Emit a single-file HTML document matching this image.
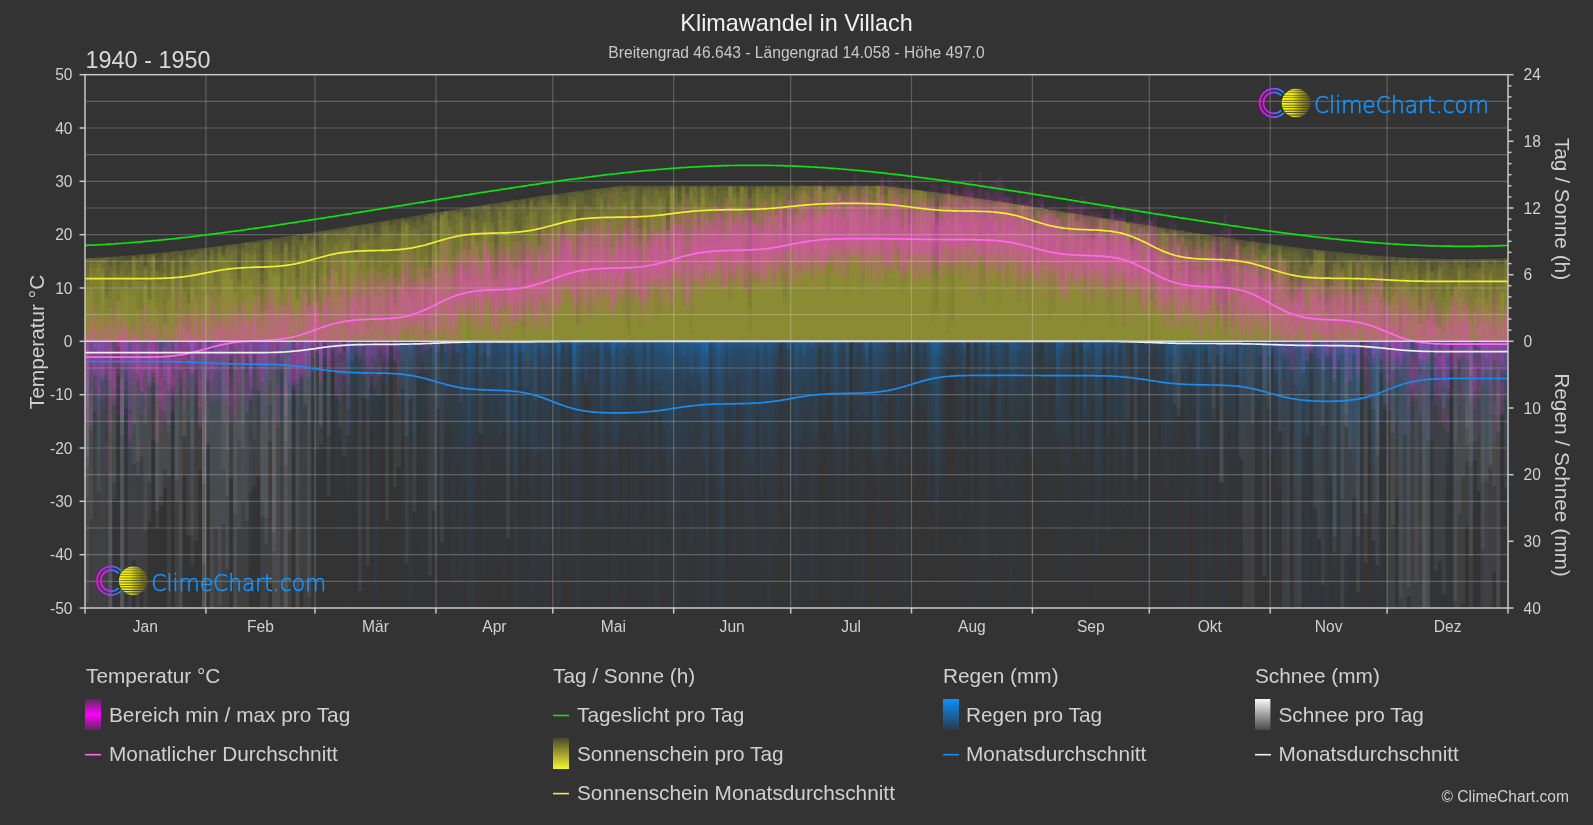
<!DOCTYPE html>
<html><head><meta charset="utf-8"><title>Klimawandel in Villach</title>
<style>html,body{margin:0;padding:0;background:#333;overflow:hidden;} svg{display:block;will-change:transform;font-family:"Liberation Sans",Arial,sans-serif;}</style>
</head><body>
<svg width="1593" height="825" viewBox="0 0 1593 825">
<defs>
<linearGradient id="gsnow" gradientUnits="userSpaceOnUse" x1="0" y1="341" x2="0" y2="608"><stop offset="0" stop-color="#fff" stop-opacity="0.03"/><stop offset="0.15" stop-color="#fff" stop-opacity="0.045"/><stop offset="0.3" stop-color="#fff" stop-opacity="0.055"/><stop offset="1" stop-color="#fff" stop-opacity="0.06"/></linearGradient>
<linearGradient id="grain" gradientUnits="userSpaceOnUse" x1="0" y1="341" x2="0" y2="608"><stop offset="0" stop-color="#0a8cff" stop-opacity="0.095"/><stop offset="0.06" stop-color="#0a8cff" stop-opacity="0.06"/><stop offset="0.2" stop-color="#0a8cff" stop-opacity="0.04"/><stop offset="0.5" stop-color="#0a8cff" stop-opacity="0.025"/><stop offset="1" stop-color="#0a8cff" stop-opacity="0.02"/></linearGradient>
<linearGradient id="gring" x1="0" y1="0" x2="1" y2="0"><stop offset="0" stop-color="#ff00ff"/><stop offset="0.5" stop-color="#9a40ff"/><stop offset="1" stop-color="#1090ff"/></linearGradient>
<linearGradient id="gsun" x1="0" y1="0" x2="1" y2="0"><stop offset="0" stop-color="#ffff00"/><stop offset="0.4" stop-color="#e6e000"/><stop offset="1" stop-color="#7a7410" stop-opacity="0.55"/></linearGradient>
<clipPath id="sunclip"><circle cx="22.1" cy="0" r="14.5"/></clipPath>
<linearGradient id="lgT" x1="0" y1="0" x2="0" y2="1"><stop offset="0" stop-color="#5a2a5a"/><stop offset="0.5" stop-color="#ff00ff"/><stop offset="1" stop-color="#5a2a5a"/></linearGradient>
<linearGradient id="lgS" x1="0" y1="0" x2="0" y2="1"><stop offset="0" stop-color="#48482e"/><stop offset="1" stop-color="#f6f62e"/></linearGradient>
<linearGradient id="lgR" x1="0" y1="0" x2="0" y2="1"><stop offset="0" stop-color="#0a90ff"/><stop offset="1" stop-color="#2a3a48"/></linearGradient>
<linearGradient id="lgN" x1="0" y1="0" x2="0" y2="1"><stop offset="0" stop-color="#f8f8f8"/><stop offset="1" stop-color="#484848"/></linearGradient>
<clipPath id="plot"><rect x="85" y="74.67" width="1423" height="533.33"/></clipPath>
</defs>
<rect width="1593" height="825" fill="#333"/>
<g clip-path="url(#plot)">
<path d="M85 341.3V258.1H88.9V257.9H92.8V257.8H96.7V257.6H100.6V257.3H104.5V257.1H108.4V256.9H112.3V256.6H116.2V256.4H120.1V256.1H124V255.8H127.9V255.5H131.8V255.2H135.7V254.9H139.6V254.6H143.5V254.2H147.4V253.9H151.3V253.5H155.2V253.1H159.1V252.7H163V252.4H166.9V252H170.8V251.5H174.7V251.1H178.6V250.7H182.5V250.3H186.4V249.8H190.3V249.4H194.2V248.9H198.1V248.4H202V247.9H205.9V247.5H209.8V247H213.7V246.5H217.6V246H221.5V245.5H225.4V244.9H229.2V244.4H233.1V243.9H237V243.4H240.9V242.8H244.8V242.3H248.7V241.7H252.6V241.2H256.5V240.6H260.4V240H264.3V239.5H268.2V238.9H272.1V238.3H276V237.8H279.9V237.2H283.8V236.6H287.7V236H291.6V235.4H295.5V234.8H299.4V234.2H303.3V233.6H307.2V233H311.1V232.4H315V231.8H318.9V231.2H322.8V230.6H326.7V230H330.6V229.3H334.5V228.7H338.4V228.1H342.3V227.5H346.2V226.9H350.1V226.2H354V225.6H357.9V225H361.8V224.3H365.7V223.7H369.6V223.1H373.5V222.5H377.4V221.8H381.3V221.2H385.2V220.6H389.1V219.9H393V219.3H396.9V218.7H400.8V218H404.7V217.4H408.6V216.8H412.5V216.1H416.4V215.5H420.3V214.9H424.2V214.2H428.1V213.6H432V213H435.9V212.3H439.8V211.7H443.7V211.1H447.6V210.5H451.5V209.8H455.4V209.2H459.3V208.6H463.2V208H467.1V207.3H471V206.7H474.9V206.1H478.8V205.5H482.7V204.9H486.6V204.3H490.5V203.6H494.4V203H498.3V202.4H502.2V201.8H506.1V201.2H510V200.6H513.8V200H517.7V199.5H521.6V198.9H525.5V198.3H529.4V197.7H533.3V197.1H537.2V196.6H541.1V196H545V195.4H548.9V194.9H552.8V194.3H556.7V193.8H560.6V193.2H564.5V192.7H568.4V192.2H572.3V191.6H576.2V191.1H580.1V190.6H584V190.1H587.9V189.6H591.8V189.1H595.7V188.6H599.6V188.2H603.5V187.7H607.4V187.2H611.3V186.8H615.2V186.3H619.1V185.9H623V185.8H626.9V185.8H630.8V185.8H634.7V185.8H638.6V185.8H642.5V185.8H646.4V185.8H650.3V185.8H654.2V185.8H658.1V185.8H662V185.8H665.9V185.8H669.8V185.8H673.7V185.8H677.6V185.8H681.5V185.8H685.4V185.8H689.3V185.8H693.2V185.8H697.1V185.8H701V185.8H704.9V185.8H708.8V185.8H712.7V185.8H716.6V185.8H720.5V185.8H724.4V185.8H728.3V185.8H732.2V185.8H736.1V185.8H740V185.8H743.9V185.8H747.8V185.8H751.7V185.8H755.6V185.8H759.5V185.8H763.4V185.8H767.3V185.8H771.2V185.8H775.1V185.8H779V185.8H782.9V185.8H786.8V185.8H790.7V185.8H794.6V185.8H798.4V185.8H802.3V185.8H806.2V185.8H810.1V185.8H814V185.8H817.9V185.8H821.8V185.8H825.7V185.8H829.6V185.8H833.5V185.8H837.4V185.8H841.3V185.8H845.2V185.8H849.1V185.8H853V185.8H856.9V185.8H860.8V185.8H864.7V185.8H868.6V185.8H872.5V185.8H876.4V185.8H880.3V185.8H884.2V186.1H888.1V186.6H892V187H895.9V187.5H899.8V187.9H903.7V188.4H907.6V188.9H911.5V189.4H915.4V189.9H919.3V190.4H923.2V190.9H927.1V191.4H931V191.9H934.9V192.4H938.8V193H942.7V193.5H946.6V194H950.5V194.6H954.4V195.2H958.3V195.7H962.2V196.3H966.1V196.8H970V197.4H973.9V198H977.8V198.6H981.7V199.2H985.6V199.7H989.5V200.3H993.4V200.9H997.3V201.5H1001.2V202.1H1005.1V202.7H1009V203.3H1012.9V203.9H1016.8V204.6H1020.7V205.2H1024.6V205.8H1028.5V206.4H1032.4V207H1036.3V207.6H1040.2V208.3H1044.1V208.9H1048V209.5H1051.9V210.1H1055.8V210.8H1059.7V211.4H1063.6V212H1067.5V212.7H1071.4V213.3H1075.3V213.9H1079.2V214.6H1083V215.2H1086.9V215.8H1090.8V216.4H1094.7V217.1H1098.6V217.7H1102.5V218.3H1106.4V219H1110.3V219.6H1114.2V220.2H1118.1V220.9H1122V221.5H1125.9V222.1H1129.8V222.8H1133.7V223.4H1137.6V224H1141.5V224.7H1145.4V225.3H1149.3V225.9H1153.2V226.5H1157.1V227.2H1161V227.8H1164.9V228.4H1168.8V229H1172.7V229.6H1176.6V230.3H1180.5V230.9H1184.4V231.5H1188.3V232.1H1192.2V232.7H1196.1V233.3H1200V233.9H1203.9V234.5H1207.8V235.1H1211.7V235.7H1215.6V236.3H1219.5V236.9H1223.4V237.5H1227.3V238H1231.2V238.6H1235.1V239.2H1239V239.8H1242.9V240.3H1246.8V240.9H1250.7V241.4H1254.6V242H1258.5V242.5H1262.4V243.1H1266.3V243.6H1270.2V244.2H1274.1V244.7H1278V245.2H1281.9V245.7H1285.8V246.2H1289.7V246.7H1293.6V247.2H1297.5V247.7H1301.4V248.2H1305.3V248.7H1309.2V249.1H1313.1V249.6H1317V250H1320.9V250.5H1324.8V250.9H1328.7V251.3H1332.6V251.7H1336.5V252.2H1340.4V252.6H1344.3V252.9H1348.2V253.3H1352.1V253.7H1356V254H1359.9V254.4H1363.8V254.7H1367.6V255.1H1371.5V255.4H1375.4V255.7H1379.3V256H1383.2V256.2H1387.1V256.5H1391V256.8H1394.9V257H1398.8V257.2H1402.7V257.5H1406.6V257.7H1410.5V257.8H1414.4V258H1418.3V258.2H1422.2V258.3H1426.1V258.5H1430V258.6H1433.9V258.7H1437.8V258.8H1441.7V258.9H1445.6V259H1449.5V259H1453.4V259H1457.3V259.1H1461.2V259.1H1465.1V259.1H1469V259.1H1472.9V259H1476.8V259H1480.7V258.9H1484.6V258.8H1488.5V258.8H1492.4V258.7H1496.3V258.5H1500.2V258.4H1504.1V258.3H1508V341.3Z" fill="#e6e63c" fill-opacity="0.16"/>
<path d="M85 341.3V290H88.9V258.3H92.8V262.3H96.7V259.5H100.6V272.8H104.5V278.7H108.4V300.4H112.3V257.1H116.2V261.9H120.1V262.9H124V283.3H127.9V259.2H131.8V331.1H135.7V269.5H139.6V254.8H143.5V280.6H147.4V254.1H151.3V256H155.2V258.2H159.1V285.4H163V319.6H166.9V270.8H170.8V251.6H174.7V313.4H178.6V279.4H182.5V254.9H186.4V254H190.3V275.1H194.2V249.8H198.1V254.2H202V272.3H205.9V294.3H209.8V320.2H213.7V284.7H217.6V252.3H221.5V254.7H225.4V265H229.2V246.4H233.1V244.1H237V316H240.9V261.7H244.8V252H248.7V273.6H252.6V241.9H256.5V242.7H260.4V314.7H264.3V279.9H268.2V319.7H272.1V272.7H276V277H279.9V252.5H283.8V242.7H287.7V267H291.6V253.5H295.5V303.3H299.4V240.8H303.3V235.1H307.2V306.5H311.1V246.3H315V293.6H318.9V268.4H322.8V232.4H326.7V240.1H330.6V237.8H334.5V270.9H338.4V285.4H342.3V227.5H346.2V227.1H350.1V226.6H354V260.5H357.9V271.6H361.8V226.6H365.7V224H369.6V223.6H373.5V282.4H377.4V228.6H381.3V222.7H385.2V269.1H389.1V232.1H393V221.8H396.9V235.6H400.8V229.2H404.7V223.1H408.6V219.2H412.5V234.2H416.4V320.7H420.3V235.7H424.2V334.5H428.1V213.6H432V213.8H435.9V253.7H439.8V218.7H443.7V211.2H447.6V211.2H451.5V213.9H455.4V211.5H459.3V224.8H463.2V216.9H467.1V207.5H471V217.7H474.9V238.7H478.8V281.6H482.7V205.1H486.6V229.1H490.5V222.1H494.4V295.4H498.3V212.3H502.2V313.6H506.1V232.6H510V242.2H513.8V322.1H517.7V229.5H521.6V337.4H525.5V217.1H529.4V199.9H533.3V208.9H537.2V257.3H541.1V260.4H545V199.7H548.9V203.6H552.8V213.2H556.7V202.7H560.6V210.1H564.5V213.2H568.4V259.7H572.3V204.6H576.2V323.3H580.1V243.9H584V210.8H587.9V318.9H591.8V288.7H595.7V247.1H599.6V200.1H603.5V212.2H607.4V187.9H611.3V187.3H615.2V198.7H619.1V268.9H623V202.1H626.9V201.5H630.8V188.5H634.7V238.4H638.6V196H642.5V225.9H646.4V188.8H650.3V188.6H654.2V316.4H658.1V262.8H662V192.7H665.9V290.5H669.8V185.9H673.7V188.1H677.6V236.4H681.5V189.1H685.4V195.1H689.3V334.6H693.2V201.2H697.1V261.3H701V197H704.9V243.7H708.8V190.4H712.7V202.4H716.6V266.6H720.5V228.8H724.4V202.2H728.3V218.2H732.2V186.7H736.1V197.8H740V254.2H743.9V185.8H747.8V298.2H751.7V284H755.6V186.7H759.5V191H763.4V185.8H767.3V187.8H771.2V185.8H775.1V215H779V201.1H782.9V189.7H786.8V191H790.7V185.8H794.6V191.4H798.4V185.8H802.3V185.8H806.2V185.9H810.1V185.8H814V185.9H817.9V187.1H821.8V233.4H825.7V201.9H829.6V185.8H833.5V198.6H837.4V190.2H841.3V185.8H845.2V190.7H849.1V185.8H853V210.5H856.9V191.2H860.8V254.1H864.7V185.8H868.6V239.7H872.5V185.8H876.4V186H880.3V185.8H884.2V186.4H888.1V232.6H892V187H895.9V215.5H899.8V194.4H903.7V198H907.6V257.9H911.5V189.4H915.4V190.6H919.3V216.1H923.2V190.9H927.1V191.4H931V193H934.9V270.6H938.8V240.8H942.7V193.5H946.6V194H950.5V326.4H954.4V207.6H958.3V195.7H962.2V196.3H966.1V209.7H970V197.6H973.9V221.8H977.8V221.1H981.7V283.5H985.6V229.3H989.5V213.8H993.4V201.8H997.3V202.1H1001.2V202.1H1005.1V202.7H1009V204.2H1012.9V211.9H1016.8V206.7H1020.7V205.2H1024.6V205.8H1028.5V210.7H1032.4V207H1036.3V207.6H1040.2V211.3H1044.1V208.9H1048V211.6H1051.9V247H1055.8V210.8H1059.7V211.6H1063.6V213.1H1067.5V245.9H1071.4V213.3H1075.3V223.1H1079.2V261.7H1083V219.4H1086.9V228.3H1090.8V217H1094.7V247.5H1098.6V262.9H1102.5V287.1H1106.4V219H1110.3V227.1H1114.2V220.3H1118.1V267H1122V221.5H1125.9V224.5H1129.8V231H1133.7V231.9H1137.6V227.8H1141.5V235.8H1145.4V225.5H1149.3V236.6H1153.2V252.3H1157.1V228.2H1161V227.8H1164.9V314.3H1168.8V280.7H1172.7V231.1H1176.6V244.5H1180.5V230.9H1184.4V245H1188.3V311.6H1192.2V259H1196.1V276.7H1200V255H1203.9V241.5H1207.8V270.8H1211.7V253.5H1215.6V312.8H1219.5V257H1223.4V237.6H1227.3V289H1231.2V325.8H1235.1V252H1239V295.8H1242.9V247.1H1246.8V259H1250.7V270.6H1254.6V259.8H1258.5V242.5H1262.4V255.6H1266.3V243.7H1270.2V257.5H1274.1V252.2H1278V251H1281.9V289.7H1285.8V259.2H1289.7V247.8H1293.6V247.5H1297.5V287.6H1301.4V273.4H1305.3V274H1309.2V264.9H1313.1V260.4H1317V271H1320.9V251.2H1324.8V278.8H1328.7V339.2H1332.6V284.8H1336.5V292.5H1340.4V272.4H1344.3V323.9H1348.2V276.8H1352.1V334.3H1356V260.8H1359.9V267.7H1363.8V258.4H1367.6V287.5H1371.5V283H1375.4V296.6H1379.3V266H1383.2V283.3H1387.1V336.4H1391V256.9H1394.9V266.7H1398.8V261H1402.7V261.8H1406.6V270.8H1410.5V260.6H1414.4V293.5H1418.3V262.9H1422.2V284.5H1426.1V262.4H1430V317.6H1433.9V274H1437.8V332H1441.7V264.6H1445.6V261.8H1449.5V298.2H1453.4V260.6H1457.3V298.3H1461.2V265.2H1465.1V307.2H1469V259.3H1472.9V273.5H1476.8V260.3H1480.7V287.4H1484.6V300.1H1488.5V258.9H1492.4V313.2H1496.3V263.6H1500.2V264.3H1504.1V262.4H1508V341.3Z" fill="#e6e63c" fill-opacity="0.05"/>
<path d="M85 341.3V259.2H88.9V262.3H92.8V258.9H96.7V267.9H100.6V259.5H104.5V298.9H108.4V318.7H112.3V259.5H116.2V256.9H120.1V261.6H124V259.3H127.9V272.9H131.8V262.1H135.7V281.8H139.6V254.6H143.5V257H147.4V258.1H151.3V254.7H155.2V274.5H159.1V272.2H163V252.4H166.9V278.2H170.8V261.5H174.7V256.1H178.6V256.6H182.5V290.7H186.4V303.6H190.3V286.4H194.2V265.4H198.1V248.6H202V271.7H205.9V269.3H209.8V270.8H213.7V300.3H217.6V249.1H221.5V278.9H225.4V269.3H229.2V246.2H233.1V245.4H237V270.8H240.9V251.5H244.8V242.3H248.7V249.6H252.6V251.1H256.5V271.5H260.4V284.5H264.3V252.9H268.2V252.9H272.1V276.1H276V258H279.9V247.9H283.8V245.9H287.7V286.2H291.6V270.6H295.5V234.9H299.4V285.8H303.3V254.7H307.2V241.1H311.1V234.3H315V304.5H318.9V315.6H322.8V233.1H326.7V279H330.6V254.4H334.5V271.2H338.4V278.9H342.3V236.6H346.2V332.7H350.1V232H354V248.1H357.9V297.9H361.8V225.8H365.7V242.9H369.6V226.1H373.5V237.5H377.4V285.3H381.3V279.9H385.2V226H389.1V224H393V306.2H396.9V241.8H400.8V221.1H404.7V225H408.6V219.1H412.5V308.2H416.4V265.4H420.3V247.6H424.2V256H428.1V253.3H432V220.2H435.9V246H439.8V215.5H443.7V212.6H447.6V220.6H451.5V211.7H455.4V288.3H459.3V208.9H463.2V307H467.1V248.8H471V207.3H474.9V206.1H478.8V224.8H482.7V300.2H486.6V220.9H490.5V216.5H494.4V205.9H498.3V210.3H502.2V273.8H506.1V206.2H510V220.6H513.8V269.3H517.7V204H521.6V199.2H525.5V211.4H529.4V201.4H533.3V271.2H537.2V200.2H541.1V200.4H545V196.4H548.9V195.3H552.8V231.1H556.7V210.8H560.6V196.4H564.5V220.1H568.4V217.9H572.3V191.7H576.2V195.1H580.1V193.5H584V203.7H587.9V206H591.8V246.7H595.7V188.9H599.6V234H603.5V208.8H607.4V223.1H611.3V270.2H615.2V228.4H619.1V206.5H623V230.6H626.9V190.6H630.8V185.8H634.7V186.1H638.6V205.9H642.5V186.5H646.4V202.4H650.3V204.5H654.2V187.3H658.1V196.3H662V213H665.9V221.1H669.8V185.8H673.7V250.6H677.6V202.9H681.5V186.1H685.4V208.2H689.3V186H693.2V186.5H697.1V185.9H701V189.1H704.9V197.4H708.8V243.6H712.7V243.5H716.6V244.6H720.5V237H724.4V191.4H728.3V186.3H732.2V193.1H736.1V246.9H740V185.8H743.9V187.4H747.8V307.9H751.7V207.9H755.6V270H759.5V237.5H763.4V198.2H767.3V230.7H771.2V193.8H775.1V268.9H779V186.1H782.9V232.5H786.8V199.7H790.7V185.8H794.6V242.1H798.4V211.5H802.3V195H806.2V186.7H810.1V276.4H814V213.2H817.9V185.8H821.8V194.6H825.7V190H829.6V186.8H833.5V248.9H837.4V189.7H841.3V197.8H845.2V205.1H849.1V188.1H853V185.8H856.9V219.5H860.8V185.8H864.7V244.3H868.6V186H872.5V213.8H876.4V185.8H880.3V200.6H884.2V202.6H888.1V187.9H892V187.6H895.9V269.6H899.8V188.4H903.7V188.5H907.6V189.1H911.5V245.6H915.4V190.2H919.3V190.4H923.2V190.9H927.1V192.5H931V255.3H934.9V231.2H938.8V196.9H942.7V204H946.6V194.2H950.5V194.7H954.4V196.5H958.3V196.5H962.2V196.3H966.1V198H970V200.9H973.9V198.7H977.8V199.5H981.7V304.6H985.6V199.8H989.5V200.4H993.4V219.9H997.3V206.4H1001.2V202.1H1005.1V202.8H1009V210.7H1012.9V214H1016.8V204.6H1020.7V209.1H1024.6V205.9H1028.5V234.6H1032.4V214.8H1036.3V226.2H1040.2V248.6H1044.1V208.9H1048V211.7H1051.9V236.4H1055.8V239.8H1059.7V217H1063.6V215.9H1067.5V212.7H1071.4V214.1H1075.3V214.1H1079.2V215.5H1083V237.8H1086.9V250.7H1090.8V268.4H1094.7V218.1H1098.6V220.3H1102.5V236.7H1106.4V221H1110.3V231.4H1114.2V236.1H1118.1V220.9H1122V221.5H1125.9V222.1H1129.8V222.8H1133.7V264.9H1137.6V224H1141.5V228.7H1145.4V225.3H1149.3V242H1153.2V237.5H1157.1V258.8H1161V291.2H1164.9V233.2H1168.8V229.5H1172.7V278.6H1176.6V233.6H1180.5V237.8H1184.4V280.7H1188.3V233.4H1192.2V270.1H1196.1V281.7H1200V239.5H1203.9V240.5H1207.8V304.7H1211.7V262.9H1215.6V255.7H1219.5V304.2H1223.4V260.5H1227.3V256.9H1231.2V259.5H1235.1V245.2H1239V253.8H1242.9V259.4H1246.8V246H1250.7V266H1254.6V243.5H1258.5V295.5H1262.4V312.9H1266.3V245.3H1270.2V286.6H1274.1V257.4H1278V245.4H1281.9V253.4H1285.8V247.4H1289.7V293.3H1293.6V275.8H1297.5V325.6H1301.4V279.4H1305.3V260.7H1309.2V258.4H1313.1V290.9H1317V253.1H1320.9V251.2H1324.8V317.3H1328.7V275.8H1332.6V262.2H1336.5V273.2H1340.4V266.9H1344.3V270.1H1348.2V261.6H1352.1V253.7H1356V262.9H1359.9V287.3H1363.8V315.9H1367.6V256.5H1371.5V282.4H1375.4V281.9H1379.3V273.4H1383.2V322.6H1387.1V305.5H1391V296.8H1394.9V292.7H1398.8V258.2H1402.7V287.8H1406.6V262.4H1410.5V279.2H1414.4V268.7H1418.3V261.5H1422.2V285.5H1426.1V320.6H1430V272.5H1433.9V323.6H1437.8V261.7H1441.7V315.4H1445.6V278.8H1449.5V275.6H1453.4V284.2H1457.3V282.3H1461.2V261.7H1465.1V268.3H1469V281.7H1472.9V299H1476.8V296.2H1480.7V260.5H1484.6V303.1H1488.5V264.5H1492.4V259.8H1496.3V263.1H1500.2V264.5H1504.1V307.1H1508V341.3Z" fill="#e6e63c" fill-opacity="0.05"/>
<path d="M85 341.3V298.2H88.9V259.1H92.8V307.2H96.7V264.2H100.6V257.7H104.5V312.6H108.4V272.9H112.3V261.6H116.2V272.4H120.1V262.1H124V261.4H127.9V259.9H131.8V257.1H135.7V310.4H139.6V331.4H143.5V267.2H147.4V322H151.3V256.5H155.2V258.3H159.1V338.4H163V274.2H166.9V281H170.8V259H174.7V278.9H178.6V262.8H182.5V269.9H186.4V258.1H190.3V251.4H194.2V254.2H198.1V248.6H202V260H205.9V256.4H209.8V247H213.7V263.6H217.6V246.6H221.5V257.5H225.4V251.5H229.2V254.9H233.1V292.7H237V285.2H240.9V270.9H244.8V300.2H248.7V279.4H252.6V252.3H256.5V263.1H260.4V311.7H264.3V239.7H268.2V242.3H272.1V239.2H276V260.5H279.9V238.7H283.8V236.7H287.7V238.7H291.6V240.4H295.5V277.4H299.4V242.7H303.3V236.5H307.2V240.4H311.1V278.7H315V243.9H318.9V335.6H322.8V252H326.7V325.3H330.6V232.1H334.5V245.9H338.4V230.2H342.3V261.4H346.2V239.3H350.1V251.5H354V262.2H357.9V228.1H361.8V244.1H365.7V277.3H369.6V226.3H373.5V296.7H377.4V315.4H381.3V293.8H385.2V321.9H389.1V226H393V310.6H396.9V218.8H400.8V221.8H404.7V219.8H408.6V301.2H412.5V222H416.4V229.6H420.3V277.1H424.2V245.7H428.1V235.4H432V213.1H435.9V212.3H439.8V215H443.7V217.4H447.6V263.4H451.5V255.2H455.4V290.2H459.3V212.7H463.2V230.3H467.1V219.9H471V318H474.9V277.6H478.8V208.2H482.7V205.2H486.6V204.3H490.5V226.7H494.4V305.2H498.3V273.3H502.2V202.7H506.1V201.5H510V201.5H513.8V226.7H517.7V239.8H521.6V205.1H525.5V271.6H529.4V197.7H533.3V197.4H537.2V196.6H541.1V311.5H545V319.1H548.9V209H552.8V194.5H556.7V208.6H560.6V204.7H564.5V293.5H568.4V192.4H572.3V199.9H576.2V191.8H580.1V217H584V227.7H587.9V212.2H591.8V190.9H595.7V189.6H599.6V215.2H603.5V187.9H607.4V204.6H611.3V246.1H615.2V217.3H619.1V254.5H623V191.6H626.9V192.9H630.8V199.8H634.7V259.1H638.6V293.7H642.5V188.1H646.4V299.1H650.3V277.4H654.2V219.4H658.1V314.7H662V233.3H665.9V229.9H669.8V186.8H673.7V191H677.6V202.6H681.5V185.8H685.4V254.9H689.3V186.8H693.2V195.8H697.1V203.6H701V186.4H704.9V209.3H708.8V222.6H712.7V229.3H716.6V210.3H720.5V185.8H724.4V190H728.3V186.4H732.2V193.8H736.1V191.9H740V187.3H743.9V215.2H747.8V198.1H751.7V219.2H755.6V186.1H759.5V233.1H763.4V202.8H767.3V186.3H771.2V188.2H775.1V186.2H779V186.5H782.9V186H786.8V187.6H790.7V199.9H794.6V189.8H798.4V194.8H802.3V185.8H806.2V186.1H810.1V186H814V186.2H817.9V185.8H821.8V186.9H825.7V185.9H829.6V185.8H833.5V190.3H837.4V198.2H841.3V185.9H845.2V187.6H849.1V211.4H853V213.1H856.9V186.4H860.8V197.4H864.7V185.8H868.6V190.7H872.5V200.3H876.4V185.8H880.3V188.2H884.2V259.6H888.1V189.5H892V190H895.9V188.9H899.8V187.9H903.7V188.7H907.6V188.9H911.5V192.7H915.4V189.9H919.3V190.4H923.2V201.5H927.1V231.9H931V196.7H934.9V261H938.8V206.3H942.7V193.6H946.6V194H950.5V194.6H954.4V206.3H958.3V210.1H962.2V197.1H966.1V196.9H970V245.5H973.9V214.1H977.8V240.3H981.7V252.4H985.6V209.5H989.5V241.5H993.4V201.2H997.3V201.7H1001.2V202.6H1005.1V204.4H1009V203.4H1012.9V203.9H1016.8V220.8H1020.7V205.2H1024.6V207H1028.5V234H1032.4V263.7H1036.3V207.7H1040.2V208.3H1044.1V209.5H1048V220.4H1051.9V309H1055.8V210.8H1059.7V251.4H1063.6V233.5H1067.5V213.4H1071.4V214.1H1075.3V220H1079.2V223.5H1083V323H1086.9V217.9H1090.8V216.4H1094.7V217.1H1098.6V225.5H1102.5V218.4H1106.4V220.4H1110.3V221.7H1114.2V220.7H1118.1V220.9H1122V221.5H1125.9V223.9H1129.8V249.7H1133.7V233H1137.6V227.8H1141.5V224.8H1145.4V249.5H1149.3V227.9H1153.2V290.4H1157.1V227.2H1161V228.3H1164.9V264.7H1168.8V239.7H1172.7V250.5H1176.6V238.5H1180.5V237.2H1184.4V240.7H1188.3V232.8H1192.2V283.8H1196.1V261.3H1200V253H1203.9V234.6H1207.8V249.9H1211.7V254.7H1215.6V314H1219.5V294H1223.4V237.5H1227.3V320.6H1231.2V268.9H1235.1V266.2H1239V265.8H1242.9V252.6H1246.8V242.9H1250.7V247.4H1254.6V244.1H1258.5V256.8H1262.4V245.8H1266.3V248.6H1270.2V311.6H1274.1V270.9H1278V274H1281.9V303.5H1285.8V252.9H1289.7V304.7H1293.6V253.8H1297.5V249.2H1301.4V279.3H1305.3V319.8H1309.2V268.2H1313.1V249.8H1317V255.3H1320.9V261H1324.8V288.1H1328.7V285.1H1332.6V263.6H1336.5V264.9H1340.4V253.4H1344.3V292.1H1348.2V256.7H1352.1V280.1H1356V301.2H1359.9V259.9H1363.8V267.2H1367.6V303H1371.5V272.1H1375.4V275.7H1379.3V280H1383.2V336.7H1387.1V267.9H1391V305.9H1394.9V274.5H1398.8V277.7H1402.7V260.2H1406.6V272.3H1410.5V271.5H1414.4V275H1418.3V281H1422.2V335.5H1426.1V267H1430V261H1433.9V326.6H1437.8V259.5H1441.7V292.6H1445.6V263.6H1449.5V262.3H1453.4V259.2H1457.3V264.8H1461.2V291.8H1465.1V301.2H1469V263.5H1472.9V261.1H1476.8V267.7H1480.7V258.9H1484.6V296.3H1488.5V263.7H1492.4V304.8H1496.3V283.6H1500.2V269.8H1504.1V258.3H1508V341.3Z" fill="#e6e63c" fill-opacity="0.05"/>
<path d="M85 341.3V267.2H88.9V263.6H92.8V317.5H96.7V258.5H100.6V268.4H104.5V265H108.4V291.2H112.3V326.4H116.2V307.5H120.1V307.3H124V293.1H127.9V317.6H131.8V266.6H135.7V309.8H139.6V318.7H143.5V283.9H147.4V271.3H151.3V253.6H155.2V271.4H159.1V277H163V254.7H166.9V253.5H170.8V272.5H174.7V277.4H178.6V312.6H182.5V256.9H186.4V330.6H190.3V260.1H194.2V255.8H198.1V260.8H202V248.1H205.9V247.7H209.8V249.8H213.7V252.9H217.6V247H221.5V266.2H225.4V260.5H229.2V250.3H233.1V295.7H237V278.2H240.9V283.7H244.8V242.6H248.7V292H252.6V242.7H256.5V242.2H260.4V274.1H264.3V309H268.2V269.6H272.1V243.4H276V260.8H279.9V289.3H283.8V242.8H287.7V258.9H291.6V235.5H295.5V299H299.4V318.1H303.3V234H307.2V234.2H311.1V240.4H315V252.9H318.9V277.4H322.8V231.1H326.7V230.8H330.6V257H334.5V228.8H338.4V233.7H342.3V256H346.2V320.3H350.1V254.3H354V259.7H357.9V242.2H361.8V229.3H365.7V238.1H369.6V234H373.5V236.9H377.4V254.7H381.3V221.2H385.2V225.2H389.1V265.1H393V303.3H396.9V231.8H400.8V218.3H404.7V221.4H408.6V291.2H412.5V220.4H416.4V216.8H420.3V260.1H424.2V339H428.1V274.8H432V216.6H435.9V229.9H439.8V215H443.7V211.8H447.6V210.8H451.5V235.1H455.4V304.2H459.3V211H463.2V251.8H467.1V237.6H471V220H474.9V226.6H478.8V210.1H482.7V222.6H486.6V208.2H490.5V273.6H494.4V278.4H498.3V220.4H502.2V227.4H506.1V202.9H510V205.3H513.8V288.4H517.7V200.3H521.6V284.6H525.5V203.3H529.4V212.8H533.3V240H537.2V250.1H541.1V209.2H545V232.6H548.9V287.6H552.8V194.8H556.7V206.5H560.6V264.9H564.5V208.7H568.4V211.9H572.3V204.4H576.2V325.4H580.1V192.5H584V204.5H587.9V280.6H591.8V230.7H595.7V226.5H599.6V216H603.5V203.8H607.4V191.4H611.3V195.1H615.2V191.8H619.1V197.7H623V201H626.9V260.8H630.8V185.8H634.7V210.2H638.6V243.6H642.5V215.9H646.4V255.2H650.3V214.2H654.2V188.2H658.1V188.4H662V190.3H665.9V231.2H669.8V186.3H673.7V232.5H677.6V254.6H681.5V186.1H685.4V198.7H689.3V188H693.2V185.8H697.1V202.6H701V185.8H704.9V267.2H708.8V200.5H712.7V187.9H716.6V193.5H720.5V185.8H724.4V186.6H728.3V185.8H732.2V186.2H736.1V204.9H740V198.3H743.9V220H747.8V258H751.7V187.5H755.6V187H759.5V240.5H763.4V213.8H767.3V194.2H771.2V192.2H775.1V190.9H779V277.6H782.9V229.5H786.8V186.5H790.7V186.3H794.6V187H798.4V190.3H802.3V185.9H806.2V185.8H810.1V251.6H814V190.8H817.9V186.2H821.8V208.2H825.7V185.9H829.6V271.1H833.5V188.3H837.4V185.8H841.3V186.6H845.2V187H849.1V196.2H853V185.9H856.9V227.4H860.8V189.6H864.7V200.8H868.6V185.8H872.5V193H876.4V189.3H880.3V185.8H884.2V207.4H888.1V188.1H892V196.3H895.9V191H899.8V189.6H903.7V289.6H907.6V226H911.5V239.7H915.4V189.9H919.3V202.2H923.2V191.5H927.1V197.4H931V210.8H934.9V192.4H938.8V193.5H942.7V225.9H946.6V195.9H950.5V194.6H954.4V197.5H958.3V224.2H962.2V232.3H966.1V196.8H970V199.1H973.9V198.3H977.8V198.9H981.7V203.6H985.6V203.6H989.5V202.7H993.4V237.3H997.3V305.7H1001.2V203.5H1005.1V202.7H1009V231.9H1012.9V227.8H1016.8V303.1H1020.7V205.2H1024.6V206H1028.5V206.6H1032.4V208.2H1036.3V213.1H1040.2V208.3H1044.1V233.5H1048V255.1H1051.9V210.2H1055.8V218.5H1059.7V212.6H1063.6V257.3H1067.5V212.8H1071.4V227.4H1075.3V222.1H1079.2V227.1H1083V215.2H1086.9V219.4H1090.8V304.7H1094.7V232.7H1098.6V220H1102.5V218.4H1106.4V219H1110.3V249.1H1114.2V220.4H1118.1V221H1122V326H1125.9V222.4H1129.8V255.4H1133.7V223.4H1137.6V234.4H1141.5V259.3H1145.4V226H1149.3V298.4H1153.2V266.3H1157.1V230.1H1161V232.4H1164.9V232.3H1168.8V320.6H1172.7V233.6H1176.6V256.4H1180.5V235.7H1184.4V232.6H1188.3V241.6H1192.2V235.4H1196.1V241.8H1200V237.9H1203.9V237H1207.8V303.3H1211.7V236.2H1215.6V268.1H1219.5V240.6H1223.4V327.3H1227.3V286.6H1231.2V247.2H1235.1V240.6H1239V249.8H1242.9V269.5H1246.8V241.3H1250.7V265H1254.6V258.8H1258.5V249.7H1262.4V282.8H1266.3V320.3H1270.2V282.2H1274.1V263.5H1278V246.2H1281.9V249H1285.8V249H1289.7V252.6H1293.6V251.2H1297.5V259.9H1301.4V264.8H1305.3V274.4H1309.2V259.5H1313.1V273.8H1317V250.4H1320.9V250.5H1324.8V316.6H1328.7V254.4H1332.6V263.1H1336.5V271.8H1340.4V268.2H1344.3V256.2H1348.2V262.5H1352.1V311.9H1356V260.6H1359.9V327H1363.8V310.7H1367.6V256.1H1371.5V290H1375.4V290.6H1379.3V261.2H1383.2V289.3H1387.1V277.8H1391V295.1H1394.9V280.2H1398.8V283.8H1402.7V283.6H1406.6V260.1H1410.5V265H1414.4V258H1418.3V285.3H1422.2V287.5H1426.1V320H1430V300.4H1433.9V278.4H1437.8V324.7H1441.7V261.2H1445.6V275.4H1449.5V280.3H1453.4V288.3H1457.3V267.3H1461.2V309.8H1465.1V278.5H1469V304.3H1472.9V316.8H1476.8V268H1480.7V298.3H1484.6V274.2H1488.5V297.3H1492.4V333.6H1496.3V260H1500.2V294.9H1504.1V260.5H1508V341.3Z" fill="#e6e63c" fill-opacity="0.05"/>
<path d="M85 341.3V259.1H88.9V258.6H92.8V257.8H96.7V260.1H100.6V258.4H104.5V258H108.4V266.8H112.3V266.1H116.2V277H120.1V256.2H124V290H127.9V288.2H131.8V260.8H135.7V281H139.6V255.6H143.5V264.9H147.4V300.7H151.3V254.2H155.2V269H159.1V316.4H163V325.9H166.9V301.2H170.8V251.8H174.7V251.3H178.6V255.9H182.5V308.1H186.4V332.7H190.3V259.4H194.2V298.5H198.1V303.8H202V298.7H205.9V260.2H209.8V248.7H213.7V259.7H217.6V292.1H221.5V256.5H225.4V273.2H229.2V277.4H233.1V251.3H237V246.2H240.9V263.5H244.8V266.9H248.7V245.2H252.6V295.8H256.5V287.6H260.4V270.9H264.3V287.6H268.2V252.3H272.1V275H276V239.1H279.9V272.9H283.8V240.5H287.7V252.4H291.6V284.4H295.5V237.5H299.4V256H303.3V236.7H307.2V283.9H311.1V237.2H315V286.1H318.9V236.4H322.8V232.7H326.7V230.1H330.6V229.9H334.5V262.4H338.4V242.5H342.3V232.6H346.2V257.5H350.1V270.6H354V250.1H357.9V248.9H361.8V241.2H365.7V235.4H369.6V267.1H373.5V227.2H377.4V236.2H381.3V221.9H385.2V230.9H389.1V225.4H393V252.6H396.9V308.8H400.8V232.4H404.7V219.5H408.6V225.6H412.5V226.7H416.4V216.4H420.3V219.8H424.2V224.7H428.1V214.5H432V232.9H435.9V217.4H439.8V214.5H443.7V211.1H447.6V225.8H451.5V210.6H455.4V213.9H459.3V270.1H463.2V249.4H467.1V209.8H471V224.7H474.9V246.6H478.8V214.8H482.7V221.5H486.6V211.9H490.5V223.5H494.4V243.5H498.3V209.9H502.2V307.7H506.1V288.6H510V257.3H513.8V225.4H517.7V267.6H521.6V198.9H525.5V300H529.4V211.7H533.3V204.8H537.2V297.8H541.1V198.7H545V214.9H548.9V238.9H552.8V195H556.7V271.9H560.6V196.4H564.5V222.4H568.4V196.3H572.3V191.7H576.2V192.2H580.1V256.5H584V191.5H587.9V242.4H591.8V218.3H595.7V217.9H599.6V188.8H603.5V219.1H607.4V233.6H611.3V215.6H615.2V283.8H619.1V185.9H623V203.6H626.9V239.2H630.8V305.7H634.7V228.1H638.6V239H642.5V193.3H646.4V190.9H650.3V201.6H654.2V185.8H658.1V190.6H662V215.1H665.9V279.4H669.8V185.8H673.7V197.5H677.6V211.7H681.5V208.3H685.4V193.8H689.3V187.8H693.2V246.5H697.1V188.1H701V189H704.9V192.4H708.8V251.8H712.7V185.8H716.6V199H720.5V237.4H724.4V186.1H728.3V300.5H732.2V236.9H736.1V235.4H740V186.1H743.9V288H747.8V198.5H751.7V193.3H755.6V187.1H759.5V193.4H763.4V185.8H767.3V195.8H771.2V186.8H775.1V216.8H779V203H782.9V185.9H786.8V200.9H790.7V259.2H794.6V188.4H798.4V198.7H802.3V222H806.2V186.2H810.1V196.9H814V185.8H817.9V186.3H821.8V192.1H825.7V292.8H829.6V185.9H833.5V185.8H837.4V250.2H841.3V258.9H845.2V204.4H849.1V205H853V185.9H856.9V189H860.8V185.9H864.7V185.8H868.6V241.5H872.5V192.1H876.4V187.2H880.3V196.7H884.2V194.8H888.1V186.6H892V201.5H895.9V219.9H899.8V228.5H903.7V188.4H907.6V258.6H911.5V241.1H915.4V189.9H919.3V191.1H923.2V193.4H927.1V205.7H931V202.9H934.9V307.4H938.8V252.5H942.7V205.8H946.6V196.5H950.5V319.1H954.4V196.9H958.3V195.7H962.2V241.9H966.1V243.1H970V210.9H973.9V226.1H977.8V295.7H981.7V204.2H985.6V199.7H989.5V257.1H993.4V204.9H997.3V201.8H1001.2V203.2H1005.1V284.7H1009V203.3H1012.9V216.4H1016.8V204.6H1020.7V205.2H1024.6V205.8H1028.5V207.9H1032.4V208.3H1036.3V209.8H1040.2V210.9H1044.1V231.7H1048V320.4H1051.9V213.3H1055.8V223.8H1059.7V283.1H1063.6V212.1H1067.5V212.7H1071.4V284.3H1075.3V214.3H1079.2V237.2H1083V284.7H1086.9V239.1H1090.8V247.1H1094.7V239.7H1098.6V217.7H1102.5V218.4H1106.4V219H1110.3V222.8H1114.2V220.6H1118.1V232H1122V221.5H1125.9V223.8H1129.8V222.8H1133.7V225.1H1137.6V279.4H1141.5V224.7H1145.4V225.4H1149.3V268.3H1153.2V226.6H1157.1V233H1161V232.8H1164.9V234.1H1168.8V246H1172.7V230.7H1176.6V230.3H1180.5V235.6H1184.4V233H1188.3V291.9H1192.2V246.2H1196.1V233.5H1200V316.8H1203.9V263.6H1207.8V235.4H1211.7V241H1215.6V253.6H1219.5V310.9H1223.4V312.6H1227.3V241.8H1231.2V252.3H1235.1V310.4H1239V262.8H1242.9V316.2H1246.8V262H1250.7V311.8H1254.6V264.1H1258.5V249.1H1262.4V250.6H1266.3V249.1H1270.2V261.9H1274.1V245H1278V254.9H1281.9V258.7H1285.8V261.1H1289.7V299.8H1293.6V265.9H1297.5V254.8H1301.4V286.2H1305.3V257.3H1309.2V287H1313.1V257.7H1317V311.5H1320.9V257.6H1324.8V259.6H1328.7V295.1H1332.6V259.6H1336.5V252.2H1340.4V272.4H1344.3V255.2H1348.2V254H1352.1V317.6H1356V292.6H1359.9V254.7H1363.8V261H1367.6V264.2H1371.5V310.3H1375.4V261.9H1379.3V263.1H1383.2V262.1H1387.1V300.4H1391V262.8H1394.9V282.3H1398.8V258.8H1402.7V277.8H1406.6V292.2H1410.5V299.5H1414.4V259.1H1418.3V324.1H1422.2V264.7H1426.1V258.5H1430V297.5H1433.9V259H1437.8V273.2H1441.7V301.9H1445.6V279.5H1449.5V269.1H1453.4V318.3H1457.3V265H1461.2V284.1H1465.1V267.6H1469V320.9H1472.9V293.2H1476.8V283.2H1480.7V262.4H1484.6V308.2H1488.5V275.4H1492.4V261.4H1496.3V268.1H1500.2V291.6H1504.1V318.7H1508V341.3Z" fill="#e6e63c" fill-opacity="0.05"/>
<path d="M85 341.3V272.8H88.9V259.6H92.8V268.2H96.7V257.8H100.6V274.5H104.5V296.8H108.4V281.4H112.3V270.2H116.2V274.6H120.1V271.3H124V274.2H127.9V289.4H131.8V258.6H135.7V258.8H139.6V257H143.5V270.9H147.4V298.9H151.3V255.1H155.2V270.4H159.1V265.6H163V262.7H166.9V254.4H170.8V259H174.7V325.3H178.6V251.9H182.5V293.1H186.4V271.4H190.3V258.2H194.2V253H198.1V318.2H202V262.4H205.9V255H209.8V297H213.7V285.5H217.6V295.6H221.5V255.5H225.4V245.5H229.2V244.9H233.1V290.5H237V279.7H240.9V251.4H244.8V242.5H248.7V253.4H252.6V295.5H256.5V254.5H260.4V325.5H264.3V245.3H268.2V242.3H272.1V239.6H276V254.3H279.9V266.9H283.8V247.9H287.7V323.2H291.6V236.3H295.5V259.6H299.4V238.8H303.3V293.4H307.2V259.1H311.1V238.3H315V232.5H318.9V231.4H322.8V234.4H326.7V247.7H330.6V276.4H334.5V242.8H338.4V297.4H342.3V238.9H346.2V239H350.1V259.4H354V225.8H357.9V225H361.8V244.5H365.7V225H369.6V260.1H373.5V290.8H377.4V236.6H381.3V271.8H385.2V220.6H389.1V231.6H393V224.7H396.9V255.3H400.8V221.4H404.7V225.5H408.6V236.8H412.5V227.6H416.4V238.4H420.3V220.8H424.2V234.1H428.1V286.7H432V324.1H435.9V259.4H439.8V220.5H443.7V241.5H447.6V245.1H451.5V312H455.4V224.5H459.3V252.3H463.2V215.8H467.1V215.2H471V221.1H474.9V206.1H478.8V240.7H482.7V205.2H486.6V254.9H490.5V242.1H494.4V209H498.3V314.1H502.2V201.9H506.1V210.5H510V290.1H513.8V207.1H517.7V273.4H521.6V270.9H525.5V258.3H529.4V224.1H533.3V304.3H537.2V243.4H541.1V196.1H545V203.5H548.9V215.5H552.8V293.1H556.7V195.4H560.6V252H564.5V211.1H568.4V198.6H572.3V199.8H576.2V218.7H580.1V192.6H584V251.7H587.9V189.7H591.8V197.4H595.7V296.2H599.6V196.9H603.5V293.2H607.4V191.1H611.3V207.9H615.2V189.9H619.1V192H623V239H626.9V185.9H630.8V217.1H634.7V186.4H638.6V192.3H642.5V198H646.4V239.4H650.3V207.3H654.2V188.7H658.1V199.4H662V196.5H665.9V188.9H669.8V189.3H673.7V186.1H677.6V229.2H681.5V306.2H685.4V263.8H689.3V238.1H693.2V186.5H697.1V225.7H701V189H704.9V192.5H708.8V195.1H712.7V252.4H716.6V185.9H720.5V219.1H724.4V198.3H728.3V185.8H732.2V282.9H736.1V198H740V186.5H743.9V291.3H747.8V331.4H751.7V232.4H755.6V189.1H759.5V203.1H763.4V186.5H767.3V187.8H771.2V285H775.1V197.8H779V186.9H782.9V196.1H786.8V208.6H790.7V215.1H794.6V215.5H798.4V185.8H802.3V187.8H806.2V258.4H810.1V209.2H814V185.8H817.9V209.9H821.8V186.8H825.7V195.3H829.6V190.2H833.5V186.6H837.4V185.9H841.3V186.4H845.2V201.8H849.1V185.8H853V194.1H856.9V209.3H860.8V215.5H864.7V186.7H868.6V214.1H872.5V185.8H876.4V185.8H880.3V185.8H884.2V193.9H888.1V192.4H892V251.3H895.9V187.5H899.8V193.3H903.7V198.8H907.6V224.6H911.5V189.4H915.4V212.4H919.3V190.8H923.2V191.6H927.1V217.2H931V192.8H934.9V226.8H938.8V194.4H942.7V195.6H946.6V194H950.5V222.2H954.4V215.1H958.3V196.5H962.2V218.4H966.1V210.3H970V197.6H973.9V199.6H977.8V235.9H981.7V199.2H985.6V199.7H989.5V205.5H993.4V205.1H997.3V201.5H1001.2V226.4H1005.1V202.8H1009V203.3H1012.9V204.5H1016.8V204.6H1020.7V205.2H1024.6V207.2H1028.5V207H1032.4V258H1036.3V229.3H1040.2V215.4H1044.1V213.4H1048V253.8H1051.9V210.5H1055.8V213.3H1059.7V212.8H1063.6V239.2H1067.5V212.8H1071.4V213.3H1075.3V245.6H1079.2V217.3H1083V216.3H1086.9V230.2H1090.8V216.4H1094.7V217.6H1098.6V217.8H1102.5V230H1106.4V256.4H1110.3V324.8H1114.2V222H1118.1V220.9H1122V247.2H1125.9V223.6H1129.8V222.8H1133.7V223.8H1137.6V305.3H1141.5V226.2H1145.4V234.8H1149.3V228.1H1153.2V226.6H1157.1V250.8H1161V251.4H1164.9V228.5H1168.8V249.6H1172.7V229.8H1176.6V241.4H1180.5V270.3H1184.4V256.7H1188.3V283.5H1192.2V259.7H1196.1V296.6H1200V247.6H1203.9V235.3H1207.8V310.9H1211.7V238.1H1215.6V298.5H1219.5V242.8H1223.4V239.7H1227.3V285.1H1231.2V266.2H1235.1V243.8H1239V245.4H1242.9V242.1H1246.8V294.8H1250.7V241.4H1254.6V258.1H1258.5V289.3H1262.4V275.4H1266.3V292.4H1270.2V268.8H1274.1V246.8H1278V253.9H1281.9V258.2H1285.8V288.5H1289.7V281.9H1293.6V331.6H1297.5V297.9H1301.4V300.4H1305.3V257.7H1309.2V292.3H1313.1V250.1H1317V259.5H1320.9V288H1324.8V305.3H1328.7V261.1H1332.6V317.1H1336.5V311.6H1340.4V268.6H1344.3V306.9H1348.2V264.3H1352.1V259.7H1356V260.6H1359.9V255.7H1363.8V290.8H1367.6V267.6H1371.5V281.8H1375.4V297.1H1379.3V301.7H1383.2V290H1387.1V276.7H1391V270.4H1394.9V265.1H1398.8V332.9H1402.7V258H1406.6V326.1H1410.5V258.4H1414.4V307.2H1418.3V272.8H1422.2V273.7H1426.1V259.9H1430V308.1H1433.9V269.9H1437.8V268.6H1441.7V276H1445.6V284.7H1449.5V264.5H1453.4V284.7H1457.3V269.9H1461.2V259.1H1465.1V278.3H1469V314.6H1472.9V264.9H1476.8V325.1H1480.7V274H1484.6V260.8H1488.5V278.4H1492.4V293.9H1496.3V296.1H1500.2V278.2H1504.1V267.2H1508V341.3Z" fill="#e6e63c" fill-opacity="0.05"/>
<path d="M85 341.3V276.4H88.9V274H92.8V269.4H96.7V305.6H100.6V280.1H104.5V257.5H108.4V307.9H112.3V274H116.2V300.2H120.1V287.1H124V260.4H127.9V270.7H131.8V294.9H135.7V257.5H139.6V271.5H143.5V284.9H147.4V290.2H151.3V302.8H155.2V309.1H159.1V278.5H163V252.9H166.9V292.3H170.8V261.9H174.7V261.1H178.6V251.9H182.5V276.8H186.4V249.9H190.3V249.4H194.2V253.6H198.1V250.9H202V260H205.9V264.8H209.8V259.9H213.7V247H217.6V257.5H221.5V268.6H225.4V258.8H229.2V279.2H233.1V248.5H237V248.3H240.9V306.2H244.8V255H248.7V277.8H252.6V243.4H256.5V312.2H260.4V254H264.3V244.6H268.2V247.3H272.1V247.3H276V244.7H279.9V289.8H283.8V276.7H287.7V251.3H291.6V246.1H295.5V278H299.4V243.8H303.3V250.2H307.2V244.7H311.1V242.8H315V252.7H318.9V255.8H322.8V235.6H326.7V283.5H330.6V230.1H334.5V244.2H338.4V249.9H342.3V247.2H346.2V228H350.1V229.2H354V225.7H357.9V307.8H361.8V231.1H365.7V268.1H369.6V255.9H373.5V262.2H377.4V222.4H381.3V226.4H385.2V220.7H389.1V261.7H393V277.5H396.9V227.1H400.8V226.3H404.7V292.3H408.6V230.3H412.5V332.9H416.4V251.6H420.3V224H424.2V277.9H428.1V289.8H432V233.2H435.9V221.1H439.8V213.2H443.7V272.1H447.6V267.1H451.5V211.2H455.4V250.8H459.3V210.3H463.2V280.4H467.1V234.3H471V206.7H474.9V241.8H478.8V258.7H482.7V226.3H486.6V205.7H490.5V318.2H494.4V204.1H498.3V208.1H502.2V208.4H506.1V204.1H510V210.6H513.8V241.7H517.7V269.3H521.6V324.7H525.5V207.3H529.4V282.6H533.3V208.5H537.2V235.5H541.1V228.7H545V201.7H548.9V198.4H552.8V202.5H556.7V225.4H560.6V265.2H564.5V192.8H568.4V215.6H572.3V208.8H576.2V224.5H580.1V212.1H584V213.2H587.9V194H591.8V212.7H595.7V196.3H599.6V193.8H603.5V272H607.4V247.3H611.3V218.6H615.2V240.5H619.1V186.1H623V317H626.9V187.7H630.8V188.2H634.7V279H638.6V245.3H642.5V191H646.4V185.8H650.3V268.5H654.2V205.5H658.1V185.8H662V186H665.9V190.6H669.8V190.3H673.7V245.9H677.6V192.6H681.5V191.4H685.4V185.9H689.3V190H693.2V185.9H697.1V232.8H701V196.7H704.9V216.2H708.8V200.7H712.7V187.1H716.6V212.9H720.5V285H724.4V218.1H728.3V186H732.2V198.8H736.1V188.5H740V185.9H743.9V194.3H747.8V210.4H751.7V194.5H755.6V197.5H759.5V186H763.4V185.8H767.3V215.6H771.2V188.8H775.1V193.5H779V197.4H782.9V304.3H786.8V186.1H790.7V237.5H794.6V185.8H798.4V186H802.3V185.8H806.2V216.3H810.1V186.2H814V185.8H817.9V186.1H821.8V210.9H825.7V189.7H829.6V187H833.5V187.7H837.4V195.1H841.3V256.1H845.2V186.4H849.1V185.9H853V187H856.9V197.5H860.8V185.8H864.7V186.9H868.6V189.6H872.5V185.8H876.4V185.9H880.3V187.4H884.2V186.2H888.1V186.6H892V192.5H895.9V187.5H899.8V188.2H903.7V211.3H907.6V236H911.5V189.4H915.4V250.4H919.3V191.7H923.2V191.5H927.1V205.6H931V205.9H934.9V276.9H938.8V195H942.7V205.7H946.6V333.6H950.5V226.3H954.4V195.2H958.3V216.3H962.2V196.3H966.1V204.3H970V199.2H973.9V206.4H977.8V202.4H981.7V199.2H985.6V203.4H989.5V200.3H993.4V217.4H997.3V209.9H1001.2V202.3H1005.1V202.7H1009V205.2H1012.9V204.1H1016.8V204.6H1020.7V205.2H1024.6V205.8H1028.5V213.2H1032.4V229.7H1036.3V210.5H1040.2V230H1044.1V208.9H1048V209.5H1051.9V210.1H1055.8V219.6H1059.7V224.9H1063.6V213.9H1067.5V219.5H1071.4V221.3H1075.3V256.4H1079.2V235.4H1083V232.3H1086.9V237.9H1090.8V258.2H1094.7V233.3H1098.6V217.7H1102.5V220.5H1106.4V233.9H1110.3V222.1H1114.2V220.2H1118.1V220.9H1122V221.5H1125.9V228.3H1129.8V278.1H1133.7V259.8H1137.6V233.3H1141.5V241.3H1145.4V232.1H1149.3V226.6H1153.2V276.5H1157.1V245.1H1161V228.9H1164.9V231.6H1168.8V229.7H1172.7V232H1176.6V237.7H1180.5V255.4H1184.4V252.1H1188.3V303.8H1192.2V258H1196.1V237.2H1200V272.5H1203.9V244.3H1207.8V242.7H1211.7V269.1H1215.6V260.6H1219.5V236.9H1223.4V304.1H1227.3V260.8H1231.2V268.9H1235.1V246H1239V323.2H1242.9V281.4H1246.8V288.4H1250.7V245.8H1254.6V243.2H1258.5V304.1H1262.4V252.6H1266.3V246.2H1270.2V247H1274.1V289.3H1278V245.7H1281.9V262.2H1285.8V301.1H1289.7V322.8H1293.6V302.3H1297.5V303.7H1301.4V257.9H1305.3V286.9H1309.2V265H1313.1V249.8H1317V250.3H1320.9V250.8H1324.8V306.5H1328.7V329.1H1332.6V279.2H1336.5V255.6H1340.4V279.4H1344.3V317H1348.2V287H1352.1V257.4H1356V284.8H1359.9V303.5H1363.8V268.4H1367.6V292.8H1371.5V255.7H1375.4V260H1379.3V325.6H1383.2V272.5H1387.1V321.7H1391V264.2H1394.9V304.8H1398.8V260.2H1402.7V272.4H1406.6V274H1410.5V320.5H1414.4V265H1418.3V323.6H1422.2V296.6H1426.1V274.3H1430V271.9H1433.9V328.9H1437.8V328.1H1441.7V332.5H1445.6V284.2H1449.5V291H1453.4V261.1H1457.3V259.5H1461.2V282.2H1465.1V262.2H1469V275.4H1472.9V311.9H1476.8V273.9H1480.7V267.3H1484.6V281.9H1488.5V268.5H1492.4V261.8H1496.3V285.7H1500.2V261.3H1504.1V276.8H1508V341.3Z" fill="#e6e63c" fill-opacity="0.05"/>
<path d="M85 341.3V258.4H88.9V292H92.8V258H96.7V260.2H100.6V259.1H104.5V291.7H108.4V257H112.3V317.3H116.2V281H120.1V267.4H124V275.3H127.9V275.9H131.8V255.5H135.7V269.9H139.6V280.9H143.5V267.5H147.4V258.6H151.3V259.7H155.2V297.7H159.1V256.1H163V253.3H166.9V324H170.8V276.8H174.7V302.2H178.6V272.7H182.5V326.4H186.4V303.4H190.3V255.7H194.2V291.2H198.1V279.5H202V250H205.9V272.9H209.8V254.2H213.7V259.9H217.6V335.2H221.5V259.7H225.4V245H229.2V253.8H233.1V261.1H237V288.7H240.9V243.5H244.8V285.7H248.7V255.7H252.6V255.3H256.5V295.5H260.4V241.8H264.3V247.9H268.2V240.7H272.1V254.3H276V246.8H279.9V314.6H283.8V261.3H287.7V287.6H291.6V286.6H295.5V239.9H299.4V240H303.3V253.4H307.2V311.6H311.1V301.1H315V312.9H318.9V231.4H322.8V275.4H326.7V297.8H330.6V243.7H334.5V230.6H338.4V228.4H342.3V229.7H346.2V241.8H350.1V227.2H354V334.7H357.9V232.7H361.8V272.5H365.7V328.9H369.6V223.2H373.5V265.5H377.4V259.8H381.3V236.3H385.2V276.8H389.1V314.1H393V231.6H396.9V283.3H400.8V219H404.7V222.5H408.6V300.4H412.5V269.1H416.4V234.6H420.3V273.9H424.2V216.1H428.1V267.5H432V216.1H435.9V272.8H439.8V211.7H443.7V211.4H447.6V212H451.5V224.4H455.4V214.3H459.3V213.2H463.2V216.9H467.1V280.5H471V207.5H474.9V244.4H478.8V236.1H482.7V207H486.6V271.9H490.5V210.2H494.4V263.6H498.3V295.5H502.2V227.3H506.1V246.6H510V201.5H513.8V237.5H517.7V204.1H521.6V281.2H525.5V208.6H529.4V315.5H533.3V205.6H537.2V246H541.1V196.3H545V195.8H548.9V281.6H552.8V285.3H556.7V213.6H560.6V261.6H564.5V200.9H568.4V203.5H572.3V269.4H576.2V220.7H580.1V230.3H584V231.1H587.9V237.8H591.8V207.1H595.7V191.9H599.6V188.6H603.5V187.7H607.4V201.5H611.3V190.5H615.2V187.2H619.1V216.6H623V187H626.9V327.8H630.8V189.2H634.7V209H638.6V326.5H642.5V195.6H646.4V186.6H650.3V186.5H654.2V238.1H658.1V198.5H662V214.9H665.9V251H669.8V190.5H673.7V207.9H677.6V199.6H681.5V199.2H685.4V239.6H689.3V194.3H693.2V206.2H697.1V188H701V185.9H704.9V185.8H708.8V207H712.7V187.2H716.6V243.5H720.5V193.8H724.4V283.5H728.3V188H732.2V197.3H736.1V192.8H740V188.2H743.9V187.3H747.8V187.3H751.7V186H755.6V193.9H759.5V186.4H763.4V234.2H767.3V185.8H771.2V197.2H775.1V192.5H779V195.3H782.9V297.6H786.8V214.3H790.7V244.5H794.6V212H798.4V190.1H802.3V185.9H806.2V195.8H810.1V235.7H814V209.4H817.9V187.3H821.8V191.8H825.7V186.3H829.6V188.1H833.5V185.8H837.4V235.4H841.3V218.2H845.2V296.1H849.1V186.5H853V187.1H856.9V200.7H860.8V186H864.7V185.8H868.6V231.2H872.5V185.9H876.4V185.8H880.3V266.3H884.2V240.2H888.1V273.8H892V187H895.9V187.5H899.8V227.4H903.7V193.6H907.6V189.2H911.5V193.1H915.4V189.9H919.3V190.4H923.2V203.5H927.1V206.5H931V323.6H934.9V192.5H938.8V205H942.7V238.3H946.6V218.8H950.5V196.8H954.4V195.3H958.3V279.6H962.2V203.8H966.1V197H970V197.4H973.9V198H977.8V201H981.7V199.3H985.6V200.7H989.5V201H993.4V201.8H997.3V201.5H1001.2V202.5H1005.1V203.5H1009V209.6H1012.9V203.9H1016.8V204.6H1020.7V205.2H1024.6V206H1028.5V206.4H1032.4V217.7H1036.3V207.9H1040.2V208.3H1044.1V216.1H1048V213.7H1051.9V212.5H1055.8V235.3H1059.7V225.8H1063.6V257.6H1067.5V212.9H1071.4V215.3H1075.3V213.9H1079.2V214.6H1083V216H1086.9V216.1H1090.8V240.4H1094.7V217.9H1098.6V217.7H1102.5V218.8H1106.4V312.5H1110.3V221.4H1114.2V223H1118.1V226.4H1122V221.6H1125.9V222.5H1129.8V249H1133.7V252.5H1137.6V224H1141.5V235.6H1145.4V241.1H1149.3V339.3H1153.2V237H1157.1V251H1161V236.3H1164.9V234.9H1168.8V277H1172.7V252.7H1176.6V281.1H1180.5V298.9H1184.4V239.1H1188.3V239.3H1192.2V238.3H1196.1V234.1H1200V272.1H1203.9V275.6H1207.8V241.2H1211.7V248H1215.6V328.9H1219.5V237.1H1223.4V320.1H1227.3V238.1H1231.2V263.1H1235.1V241.4H1239V296.1H1242.9V246.9H1246.8V242.9H1250.7V254H1254.6V256.1H1258.5V295.2H1262.4V256.3H1266.3V272.7H1270.2V310.5H1274.1V258.6H1278V247.8H1281.9V259.2H1285.8V276H1289.7V280H1293.6V301.4H1297.5V291.8H1301.4V305.9H1305.3V272.1H1309.2V284H1313.1V272.2H1317V302.6H1320.9V253.4H1324.8V299.8H1328.7V270.6H1332.6V295.1H1336.5V261.9H1340.4V334.7H1344.3V260H1348.2V259.7H1352.1V278.3H1356V256.2H1359.9V294.4H1363.8V254.8H1367.6V261.8H1371.5V271.3H1375.4V266.4H1379.3V258.7H1383.2V298.8H1387.1V282.6H1391V257.6H1394.9V261.7H1398.8V285.8H1402.7V257.5H1406.6V264.1H1410.5V290.7H1414.4V287H1418.3V295.8H1422.2V268.6H1426.1V261.5H1430V333.8H1433.9V290.7H1437.8V267.1H1441.7V258.9H1445.6V261.9H1449.5V307.1H1453.4V269.9H1457.3V272.1H1461.2V270.6H1465.1V279.4H1469V285.9H1472.9V259.5H1476.8V269.2H1480.7V261.2H1484.6V266.4H1488.5V312.2H1492.4V266.7H1496.3V277.8H1500.2V289.4H1504.1V259.4H1508V341.3Z" fill="#e6e63c" fill-opacity="0.05"/>
<path d="M85 341.3V283H88.9V267.7H92.8V280.6H96.7V316.2H100.6V259H104.5V257.5H108.4V262.5H112.3V281.7H116.2V301.6H120.1V288.5H124V280.5H127.9V263.6H131.8V256.2H135.7V263.6H139.6V307.5H143.5V265.7H147.4V254.8H151.3V272.1H155.2V283.3H159.1V285.4H163V273.6H166.9V297.7H170.8V268.5H174.7V281.1H178.6V267.3H182.5V265.2H186.4V250H190.3V289H194.2V261.8H198.1V271.2H202V267H205.9V293.9H209.8V248.6H213.7V320.5H217.6V252.7H221.5V247.9H225.4V246.7H229.2V271.5H233.1V273H237V270.1H240.9V243.4H244.8V254.3H248.7V242.5H252.6V285.1H256.5V242.4H260.4V304.8H264.3V310.9H268.2V241H272.1V255.6H276V275H279.9V305.9H283.8V313.3H287.7V261.3H291.6V257.9H295.5V291H299.4V248.8H303.3V291.8H307.2V244.7H311.1V248.4H315V248.7H318.9V244.5H322.8V253.5H326.7V243.8H330.6V247.8H334.5V230.8H338.4V232.4H342.3V231.1H346.2V233.6H350.1V250.4H354V256.6H357.9V234.7H361.8V281.7H365.7V241.3H369.6V292.3H373.5V232.6H377.4V237.7H381.3V226.1H385.2V222.1H389.1V245.9H393V255.1H396.9V249H400.8V276.3H404.7V224.6H408.6V249.3H412.5V286.2H416.4V221.2H420.3V266.8H424.2V216.4H428.1V279.1H432V253.2H435.9V244.4H439.8V211.9H443.7V211.1H447.6V222H451.5V289.1H455.4V209.9H459.3V216.6H463.2V208.1H467.1V339.4H471V240H474.9V220.1H478.8V261.7H482.7V221.6H486.6V243H490.5V208.5H494.4V275.3H498.3V207.2H502.2V220.1H506.1V220.4H510V204H513.8V200.1H517.7V243.3H521.6V223.4H525.5V215.4H529.4V198H533.3V225.1H537.2V202.1H541.1V271.8H545V252H548.9V204.7H552.8V212.8H556.7V196.5H560.6V205.9H564.5V256.9H568.4V209.3H572.3V220.6H576.2V259.8H580.1V266.2H584V194.1H587.9V207.4H591.8V189.1H595.7V217.2H599.6V203.3H603.5V191H607.4V275.2H611.3V186.8H615.2V186.8H619.1V277H623V190.7H626.9V335.7H630.8V196.7H634.7V216.4H638.6V186H642.5V188.7H646.4V198.2H650.3V194H654.2V190.8H658.1V207.5H662V187.4H665.9V250.3H669.8V312.7H673.7V210.4H677.6V187.8H681.5V185.8H685.4V211.6H689.3V185.8H693.2V201.6H697.1V263.8H701V284H704.9V185.8H708.8V187.4H712.7V186.1H716.6V191.3H720.5V190.3H724.4V221.6H728.3V185.8H732.2V186.6H736.1V185.8H740V232.3H743.9V186.2H747.8V220.9H751.7V189.8H755.6V281.7H759.5V188.5H763.4V187.8H767.3V215.9H771.2V188.3H775.1V240.5H779V188.5H782.9V238.6H786.8V303.8H790.7V221.1H794.6V201.5H798.4V185.8H802.3V190.6H806.2V190.9H810.1V185.8H814V190.7H817.9V186.7H821.8V188.2H825.7V190.5H829.6V245.3H833.5V187H837.4V191.5H841.3V200.8H845.2V236H849.1V186.9H853V205.8H856.9V186.1H860.8V188.9H864.7V188.9H868.6V185.8H872.5V233.2H876.4V185.9H880.3V195.1H884.2V186.1H888.1V186.6H892V215.7H895.9V255.4H899.8V236.6H903.7V188.8H907.6V190.3H911.5V190H915.4V195.3H919.3V190.4H923.2V252.1H927.1V194.2H931V276.9H934.9V315.7H938.8V206.9H942.7V193.6H946.6V203.6H950.5V195.6H954.4V200.1H958.3V195.8H962.2V199.4H966.1V271.7H970V206.1H973.9V199.5H977.8V199H981.7V219.9H985.6V232.9H989.5V214.3H993.4V203.6H997.3V201.5H1001.2V202.4H1005.1V238.3H1009V228.1H1012.9V203.9H1016.8V229H1020.7V205.2H1024.6V221H1028.5V315.6H1032.4V240.4H1036.3V209.8H1040.2V267H1044.1V208.9H1048V211.3H1051.9V221.1H1055.8V217.2H1059.7V226.2H1063.6V234.1H1067.5V216.6H1071.4V213.3H1075.3V219.2H1079.2V214.6H1083V223.5H1086.9V246.9H1090.8V238.7H1094.7V236.5H1098.6V222.3H1102.5V218.3H1106.4V251.4H1110.3V219.7H1114.2V229.3H1118.1V255.4H1122V241.2H1125.9V222.6H1129.8V244.7H1133.7V252.3H1137.6V224.9H1141.5V263.4H1145.4V235.3H1149.3V275.6H1153.2V232.8H1157.1V235H1161V231.7H1164.9V237.6H1168.8V299.4H1172.7V255.7H1176.6V247.2H1180.5V264.7H1184.4V244.7H1188.3V295.1H1192.2V296.8H1196.1V233.9H1200V285.3H1203.9V279.1H1207.8V235.5H1211.7V241.6H1215.6V272.7H1219.5V258.1H1223.4V259.5H1227.3V290.1H1231.2V240.9H1235.1V241.9H1239V244.8H1242.9V277.6H1246.8V269.5H1250.7V241.5H1254.6V250.2H1258.5V251.5H1262.4V253.6H1266.3V253.9H1270.2V244.2H1274.1V295.9H1278V253.8H1281.9V249.2H1285.8V295.3H1289.7V304.9H1293.6V250.6H1297.5V251.3H1301.4V249.2H1305.3V254.8H1309.2V276.1H1313.1V263.9H1317V250.8H1320.9V278.7H1324.8V273.1H1328.7V285.7H1332.6V269.4H1336.5V308.1H1340.4V282.9H1344.3V285.1H1348.2V267.6H1352.1V295.9H1356V293H1359.9V312.5H1363.8V262.1H1367.6V273.5H1371.5V260.3H1375.4V270.1H1379.3V268.9H1383.2V270.5H1387.1V291.1H1391V285.2H1394.9V261.5H1398.8V287.2H1402.7V315.1H1406.6V275.8H1410.5V296.3H1414.4V266.6H1418.3V305.8H1422.2V277.6H1426.1V291.5H1430V270.4H1433.9V280.6H1437.8V263.1H1441.7V262.3H1445.6V314.1H1449.5V335H1453.4V289.2H1457.3V280H1461.2V260.1H1465.1V328.7H1469V270.7H1472.9V271.9H1476.8V272H1480.7V260.4H1484.6V260.9H1488.5V265.4H1492.4V259.3H1496.3V304.9H1500.2V293.1H1504.1V280.9H1508V341.3Z" fill="#e6e63c" fill-opacity="0.05"/>
<path d="M85 341.3V288.4H88.9V288.2H92.8V263.6H96.7V262.5H100.6V268.5H104.5V330.9H108.4V266.9H112.3V257.8H116.2V265.7H120.1V290.8H124V261.2H127.9V296.4H131.8V255.4H135.7V258.5H139.6V281H143.5V268.3H147.4V298.9H151.3V257.9H155.2V317.6H159.1V259.3H163V323.1H166.9V261.8H170.8V260.6H174.7V290.3H178.6V254.5H182.5V287.4H186.4V265.5H190.3V257.2H194.2V303.8H198.1V263.3H202V250.8H205.9V272H209.8V256.4H213.7V252.3H217.6V246H221.5V254.1H225.4V248.6H229.2V265.1H233.1V243.9H237V330.2H240.9V248.1H244.8V244.1H248.7V242.7H252.6V243.7H256.5V270.7H260.4V283.8H264.3V240.2H268.2V239.2H272.1V260.8H276V240.3H279.9V253.4H283.8V243H287.7V245.2H291.6V236.1H295.5V298.3H299.4V249.4H303.3V234.4H307.2V312.8H311.1V273.7H315V301H318.9V263.2H322.8V263.5H326.7V232.1H330.6V269.7H334.5V232.3H338.4V238.4H342.3V243.4H346.2V227H350.1V226.5H354V225.9H357.9V250.5H361.8V224.4H365.7V332.8H369.6V238.5H373.5V240.6H377.4V272.1H381.3V284.9H385.2V336.9H389.1V290.9H393V219.9H396.9V281.9H400.8V245.4H404.7V339.9H408.6V228.7H412.5V230H416.4V229.9H420.3V225.9H424.2V216.2H428.1V213.6H432V219.5H435.9V238.1H439.8V259.7H443.7V237.9H447.6V227.6H451.5V272.3H455.4V212.1H459.3V218.4H463.2V240.5H467.1V297.6H471V208.4H474.9V219.8H478.8V205.7H482.7V229.3H486.6V204.3H490.5V281.6H494.4V251.1H498.3V204H502.2V215.4H506.1V204H510V264.3H513.8V207.9H517.7V232.5H521.6V200.4H525.5V225H529.4V202.6H533.3V211.2H537.2V207.2H541.1V222.6H545V238.5H548.9V203.5H552.8V194.8H556.7V201.8H560.6V241H564.5V205.8H568.4V193.2H572.3V197H576.2V261H580.1V231.4H584V221.9H587.9V209.1H591.8V210.3H595.7V191.4H599.6V194H603.5V215.5H607.4V188.4H611.3V187.1H615.2V187.5H619.1V188.1H623V191.4H626.9V237.6H630.8V237.6H634.7V189.6H638.6V266.3H642.5V227H646.4V246H650.3V188.6H654.2V203.1H658.1V192.6H662V201.5H665.9V185.8H669.8V186.9H673.7V187.8H677.6V205.3H681.5V271H685.4V193H689.3V283.1H693.2V187.2H697.1V191.7H701V186.2H704.9V185.9H708.8V186.9H712.7V206H716.6V186H720.5V202.8H724.4V198.1H728.3V187.6H732.2V186.7H736.1V207.4H740V186.8H743.9V189.6H747.8V261.3H751.7V243.9H755.6V187.1H759.5V190.5H763.4V200.3H767.3V203.1H771.2V185.9H775.1V185.8H779V185.9H782.9V188.7H786.8V205H790.7V205.6H794.6V193.9H798.4V270.5H802.3V192.4H806.2V220.8H810.1V218.8H814V188.5H817.9V185.9H821.8V190.7H825.7V187.1H829.6V187.4H833.5V209.4H837.4V193.3H841.3V206.1H845.2V192.3H849.1V189.3H853V185.8H856.9V203.1H860.8V294.1H864.7V197.8H868.6V187.4H872.5V207.1H876.4V199.8H880.3V251H884.2V284.3H888.1V189.2H892V187H895.9V195.9H899.8V292.5H903.7V192.5H907.6V236.4H911.5V189.4H915.4V191.3H919.3V190.6H923.2V193.1H927.1V191.4H931V191.9H934.9V268.5H938.8V224.8H942.7V197.6H946.6V194.1H950.5V194.6H954.4V196.9H958.3V195.7H962.2V204.9H966.1V196.8H970V210.4H973.9V198H977.8V198.9H981.7V212.7H985.6V232H989.5V231.9H993.4V200.9H997.3V230.2H1001.2V212.8H1005.1V219.2H1009V203.3H1012.9V232.9H1016.8V205.3H1020.7V205.4H1024.6V300.3H1028.5V206.4H1032.4V271.6H1036.3V223.4H1040.2V220.2H1044.1V208.9H1048V211.6H1051.9V226H1055.8V216.6H1059.7V211.4H1063.6V213.1H1067.5V214.1H1071.4V213.3H1075.3V259.7H1079.2V218.2H1083V250.1H1086.9V215.8H1090.8V225.8H1094.7V226.1H1098.6V218.3H1102.5V218.3H1106.4V289.5H1110.3V219.6H1114.2V220.3H1118.1V244.9H1122V221.6H1125.9V222.6H1129.8V285.1H1133.7V223.4H1137.6V257.6H1141.5V228.2H1145.4V234.1H1149.3V301.1H1153.2V309.5H1157.1V255.7H1161V246.5H1164.9V266.4H1168.8V288.6H1172.7V231.3H1176.6V245.2H1180.5V283.2H1184.4V251.7H1188.3V259.9H1192.2V255.5H1196.1V249.6H1200V234.7H1203.9V252.1H1207.8V296.4H1211.7V258.5H1215.6V264.3H1219.5V304H1223.4V338.3H1227.3V260.2H1231.2V321.3H1235.1V266.1H1239V259H1242.9V247.6H1246.8V257.8H1250.7V241.6H1254.6V278.9H1258.5V299.1H1262.4V247.7H1266.3V260.4H1270.2V303.3H1274.1V273.2H1278V263.8H1281.9V266H1285.8V265.1H1289.7V251.2H1293.6V285.6H1297.5V307.8H1301.4V288.7H1305.3V283.5H1309.2V264.2H1313.1V251.9H1317V253H1320.9V277.8H1324.8V286H1328.7V302.3H1332.6V265.5H1336.5V262.7H1340.4V257.3H1344.3V262.2H1348.2V258.5H1352.1V322.6H1356V266.9H1359.9V291.7H1363.8V259.7H1367.6V256H1371.5V258.3H1375.4V255.8H1379.3V261H1383.2V330.1H1387.1V273.2H1391V288H1394.9V262.2H1398.8V337.3H1402.7V265.8H1406.6V282.5H1410.5V257.9H1414.4V262.2H1418.3V310.4H1422.2V260.8H1426.1V270.9H1430V270.4H1433.9V265H1437.8V267.6H1441.7V296.9H1445.6V306.7H1449.5V295.5H1453.4V284.7H1457.3V260.2H1461.2V277.5H1465.1V284.7H1469V266.8H1472.9V284.1H1476.8V290.9H1480.7V275.6H1484.6V259.5H1488.5V271.7H1492.4V321.2H1496.3V314.8H1500.2V278.2H1504.1V259.4H1508V341.3Z" fill="#e6e63c" fill-opacity="0.05"/>
<path d="M85 341.3V341.3H88.9V341.3H92.8V341.3H96.7V341.3H100.6V341.3H104.5V608H108.4V608H112.3V341.3H116.2V341.3H120.1V608H124V341.3H127.9V341.3H131.8V341.3H135.7V341.3H139.6V341.3H143.5V341.3H147.4V341.3H151.3V341.3H155.2V510.9H159.1V341.3H163V341.3H166.9V425.1H170.8V341.3H174.7V341.8H178.6V341.3H182.5V341.3H186.4V341.3H190.3V446.7H194.2V540.7H198.1V406.7H202V483.3H205.9V341.3H209.8V341.3H213.7V371.3H217.6V341.3H221.5V524H225.4V362.8H229.2V341.3H233.1V341.3H237V351.9H240.9V341.3H244.8V341.3H248.7V341.3H252.6V439.4H256.5V343H260.4V341.3H264.3V341.3H268.2V341.3H272.1V341.3H276V341.3H279.9V341.3H283.8V441.5H287.7V448H291.6V341.3H295.5V341.3H299.4V586.1H303.3V608H307.2V341.3H311.1V372.4H315V341.3H318.9V444.1H322.8V341.3H326.7V341.3H330.6V341.3H334.5V341.3H338.4V427.1H342.3V341.3H346.2V341.3H350.1V341.3H354V341.3H357.9V341.3H361.8V341.3H365.7V399.2H369.6V341.3H373.5V341.3H377.4V341.3H381.3V341.3H385.2V341.3H389.1V341.3H393V341.3H396.9V467.2H400.8V341.3H404.7V341.3H408.6V341.3H412.5V341.3H416.4V341.3H420.3V341.3H424.2V341.3H428.1V341.3H432V341.3H435.9V341.3H439.8V341.3H443.7V341.3H447.6V341.3H451.5V341.3H455.4V341.3H459.3V341.3H463.2V341.3H467.1V341.3H471V341.3H474.9V341.3H478.8V341.3H482.7V341.3H486.6V341.3H490.5V341.3H494.4V341.3H498.3V341.3H502.2V341.3H506.1V341.3H510V341.3H513.8V341.3H517.7V341.3H521.6V341.3H525.5V341.3H529.4V341.3H533.3V341.3H537.2V341.3H541.1V341.3H545V341.3H548.9V341.3H552.8V341.3H556.7V341.3H560.6V341.3H564.5V341.3H568.4V341.3H572.3V341.3H576.2V341.3H580.1V341.3H584V341.3H587.9V341.3H591.8V341.3H595.7V341.3H599.6V341.3H603.5V341.3H607.4V341.3H611.3V341.3H615.2V341.3H619.1V341.3H623V341.3H626.9V341.3H630.8V341.3H634.7V341.3H638.6V341.3H642.5V341.3H646.4V341.3H650.3V341.3H654.2V341.3H658.1V341.3H662V341.3H665.9V341.3H669.8V341.3H673.7V341.3H677.6V341.3H681.5V341.3H685.4V341.3H689.3V341.3H693.2V341.3H697.1V341.3H701V341.3H704.9V341.3H708.8V341.3H712.7V341.3H716.6V341.3H720.5V341.3H724.4V341.3H728.3V341.3H732.2V341.3H736.1V341.3H740V341.3H743.9V341.3H747.8V341.3H751.7V341.3H755.6V341.3H759.5V341.3H763.4V341.3H767.3V341.3H771.2V341.3H775.1V341.3H779V341.3H782.9V341.3H786.8V341.3H790.7V341.3H794.6V341.3H798.4V341.3H802.3V341.3H806.2V341.3H810.1V341.3H814V341.3H817.9V341.3H821.8V341.3H825.7V341.3H829.6V341.3H833.5V341.3H837.4V341.3H841.3V341.3H845.2V341.3H849.1V341.3H853V341.3H856.9V341.3H860.8V341.3H864.7V341.3H868.6V341.3H872.5V341.3H876.4V341.3H880.3V341.3H884.2V341.3H888.1V341.3H892V341.3H895.9V341.3H899.8V341.3H903.7V341.3H907.6V341.3H911.5V341.3H915.4V341.3H919.3V341.3H923.2V341.3H927.1V341.3H931V341.3H934.9V341.3H938.8V341.3H942.7V341.3H946.6V341.3H950.5V341.3H954.4V341.3H958.3V341.3H962.2V341.3H966.1V341.3H970V341.3H973.9V341.3H977.8V341.3H981.7V341.3H985.6V341.3H989.5V341.3H993.4V341.3H997.3V341.3H1001.2V341.3H1005.1V341.3H1009V341.3H1012.9V341.3H1016.8V341.3H1020.7V341.3H1024.6V341.3H1028.5V341.3H1032.4V341.3H1036.3V341.3H1040.2V341.3H1044.1V341.3H1048V341.3H1051.9V341.3H1055.8V341.3H1059.7V341.3H1063.6V341.3H1067.5V341.3H1071.4V341.3H1075.3V341.3H1079.2V341.3H1083V341.3H1086.9V341.3H1090.8V341.3H1094.7V341.3H1098.6V341.3H1102.5V341.3H1106.4V341.3H1110.3V341.3H1114.2V341.3H1118.1V341.3H1122V341.3H1125.9V341.3H1129.8V341.3H1133.7V341.3H1137.6V341.3H1141.5V341.3H1145.4V341.3H1149.3V341.3H1153.2V341.3H1157.1V341.3H1161V341.3H1164.9V341.3H1168.8V341.3H1172.7V341.3H1176.6V416.8H1180.5V341.3H1184.4V341.3H1188.3V341.3H1192.2V341.3H1196.1V341.3H1200V341.3H1203.9V341.3H1207.8V341.3H1211.7V407.7H1215.6V341.3H1219.5V481.5H1223.4V341.3H1227.3V341.3H1231.2V341.3H1235.1V341.3H1239V341.3H1242.9V341.3H1246.8V341.3H1250.7V608H1254.6V341.3H1258.5V341.3H1262.4V389.2H1266.3V356.5H1270.2V341.3H1274.1V341.3H1278V341.3H1281.9V341.3H1285.8V608H1289.7V341.3H1293.6V341.3H1297.5V608H1301.4V341.3H1305.3V341.3H1309.2V341.3H1313.1V341.3H1317V341.3H1320.9V585.6H1324.8V341.3H1328.7V341.3H1332.6V341.3H1336.5V341.3H1340.4V341.3H1344.3V414H1348.2V341.3H1352.1V341.3H1356V341.3H1359.9V341.3H1363.8V341.3H1367.6V341.3H1371.5V540.9H1375.4V358.8H1379.3V371.8H1383.2V341.3H1387.1V341.3H1391V341.3H1394.9V341.3H1398.8V341.3H1402.7V608H1406.6V341.3H1410.5V341.3H1414.4V341.3H1418.3V341.3H1422.2V608H1426.1V341.3H1430V341.3H1433.9V351.7H1437.8V341.3H1441.7V422.1H1445.6V341.3H1449.5V341.3H1453.4V341.3H1457.3V513.6H1461.2V341.3H1465.1V462.1H1469V397.5H1472.9V341.3H1476.8V341.3H1480.7V341.3H1484.6V341.3H1488.5V341.3H1492.4V341.3H1496.3V341.3H1500.2V413.6H1504.1V341.3H1508V341.3Z" fill="url(#gsnow)"/>
<path d="M85 341.3V341.3H88.9V341.3H92.8V341.3H96.7V347.4H100.6V341.3H104.5V341.3H108.4V398.7H112.3V341.3H116.2V341.3H120.1V422.1H124V408.3H127.9V341.3H131.8V424.6H135.7V341.3H139.6V456.4H143.5V341.3H147.4V341.3H151.3V341.3H155.2V341.3H159.1V341.3H163V341.3H166.9V476.4H170.8V360.8H174.7V341.3H178.6V341.3H182.5V341.3H186.4V341.3H190.3V535.5H194.2V341.3H198.1V341.3H202V396.9H205.9V341.3H209.8V341.3H213.7V341.3H217.6V341.3H221.5V341.3H225.4V569.4H229.2V341.3H233.1V341.3H237V439.8H240.9V447.4H244.8V341.3H248.7V341.3H252.6V341.3H256.5V475.4H260.4V341.3H264.3V517.9H268.2V341.3H272.1V341.3H276V341.3H279.9V341.3H283.8V414.7H287.7V531.1H291.6V341.3H295.5V341.3H299.4V341.3H303.3V390.5H307.2V341.3H311.1V341.3H315V341.3H318.9V341.3H322.8V341.3H326.7V341.3H330.6V341.3H334.5V341.3H338.4V341.3H342.3V341.3H346.2V384.5H350.1V341.3H354V341.3H357.9V341.3H361.8V341.3H365.7V341.3H369.6V341.3H373.5V341.3H377.4V341.3H381.3V341.3H385.2V520.8H389.1V341.3H393V341.3H396.9V341.3H400.8V341.3H404.7V341.3H408.6V341.3H412.5V341.3H416.4V341.3H420.3V341.3H424.2V341.3H428.1V347.3H432V341.3H435.9V341.3H439.8V341.3H443.7V341.3H447.6V341.3H451.5V341.3H455.4V341.3H459.3V341.3H463.2V341.3H467.1V341.3H471V341.3H474.9V341.3H478.8V341.3H482.7V341.3H486.6V341.3H490.5V341.3H494.4V341.3H498.3V341.3H502.2V341.3H506.1V341.3H510V341.3H513.8V341.3H517.7V341.3H521.6V341.3H525.5V341.3H529.4V341.3H533.3V341.3H537.2V341.3H541.1V341.3H545V341.3H548.9V341.3H552.8V341.3H556.7V341.3H560.6V341.3H564.5V341.3H568.4V341.3H572.3V341.3H576.2V341.3H580.1V341.3H584V341.3H587.9V341.3H591.8V341.3H595.7V341.3H599.6V341.3H603.5V341.3H607.4V341.3H611.3V341.3H615.2V341.3H619.1V341.3H623V341.3H626.9V341.3H630.8V341.3H634.7V341.3H638.6V341.3H642.5V341.3H646.4V341.3H650.3V341.3H654.2V341.3H658.1V341.3H662V341.3H665.9V341.3H669.8V341.3H673.7V341.3H677.6V341.3H681.5V341.3H685.4V341.3H689.3V341.3H693.2V341.3H697.1V341.3H701V341.3H704.9V341.3H708.8V341.3H712.7V341.3H716.6V341.3H720.5V341.3H724.4V341.3H728.3V341.3H732.2V341.3H736.1V341.3H740V341.3H743.9V341.3H747.8V341.3H751.7V341.3H755.6V341.3H759.5V341.3H763.4V341.3H767.3V341.3H771.2V341.3H775.1V341.3H779V341.3H782.9V341.3H786.8V341.3H790.7V341.3H794.6V341.3H798.4V341.3H802.3V341.3H806.2V341.3H810.1V341.3H814V341.3H817.9V341.3H821.8V341.3H825.7V341.3H829.6V341.3H833.5V341.3H837.4V341.3H841.3V341.3H845.2V341.3H849.1V341.3H853V341.3H856.9V341.3H860.8V341.3H864.7V341.3H868.6V341.3H872.5V341.3H876.4V341.3H880.3V341.3H884.2V341.3H888.1V341.3H892V341.3H895.9V341.3H899.8V341.3H903.7V341.3H907.6V341.3H911.5V341.3H915.4V341.3H919.3V341.3H923.2V341.3H927.1V341.3H931V341.3H934.9V341.3H938.8V341.3H942.7V341.3H946.6V341.3H950.5V341.3H954.4V341.3H958.3V341.3H962.2V341.3H966.1V341.3H970V341.3H973.9V341.3H977.8V341.3H981.7V341.3H985.6V341.3H989.5V341.3H993.4V341.3H997.3V341.3H1001.2V341.3H1005.1V341.3H1009V341.3H1012.9V341.3H1016.8V341.3H1020.7V341.3H1024.6V341.3H1028.5V341.3H1032.4V341.3H1036.3V341.3H1040.2V341.3H1044.1V341.3H1048V341.3H1051.9V341.3H1055.8V341.3H1059.7V341.3H1063.6V341.3H1067.5V341.3H1071.4V341.3H1075.3V341.3H1079.2V341.3H1083V341.3H1086.9V341.3H1090.8V341.3H1094.7V341.3H1098.6V341.3H1102.5V341.3H1106.4V341.3H1110.3V341.3H1114.2V341.3H1118.1V341.3H1122V341.3H1125.9V341.3H1129.8V341.3H1133.7V341.3H1137.6V341.3H1141.5V341.3H1145.4V341.3H1149.3V341.3H1153.2V341.3H1157.1V341.3H1161V341.3H1164.9V341.3H1168.8V341.3H1172.7V404.6H1176.6V341.3H1180.5V341.3H1184.4V341.3H1188.3V341.3H1192.2V341.3H1196.1V341.3H1200V341.3H1203.9V341.3H1207.8V341.3H1211.7V420.3H1215.6V341.3H1219.5V341.3H1223.4V341.3H1227.3V341.3H1231.2V361.6H1235.1V341.3H1239V341.3H1242.9V341.3H1246.8V341.3H1250.7V341.3H1254.6V341.3H1258.5V341.3H1262.4V370.5H1266.3V408.6H1270.2V341.3H1274.1V341.3H1278V341.3H1281.9V341.3H1285.8V341.3H1289.7V341.3H1293.6V608H1297.5V341.3H1301.4V341.3H1305.3V434.9H1309.2V341.3H1313.1V341.3H1317V341.3H1320.9V425.8H1324.8V341.3H1328.7V341.3H1332.6V341.3H1336.5V341.3H1340.4V341.3H1344.3V341.3H1348.2V341.3H1352.1V341.3H1356V536.4H1359.9V341.3H1363.8V341.3H1367.6V341.3H1371.5V354.1H1375.4V341.3H1379.3V341.3H1383.2V404.1H1387.1V341.3H1391V341.3H1394.9V498.8H1398.8V341.3H1402.7V343H1406.6V341.3H1410.5V341.3H1414.4V581.7H1418.3V341.3H1422.2V608H1426.1V341.3H1430V393H1433.9V341.3H1437.8V341.3H1441.7V347.3H1445.6V341.3H1449.5V341.3H1453.4V341.3H1457.3V341.3H1461.2V341.3H1465.1V341.3H1469V465.9H1472.9V341.3H1476.8V341.3H1480.7V341.3H1484.6V341.3H1488.5V341.3H1492.4V341.3H1496.3V341.3H1500.2V341.3H1504.1V341.3H1508V341.3Z" fill="url(#gsnow)"/>
<path d="M85 341.3V468.7H88.9V341.3H92.8V341.3H96.7V341.3H100.6V341.3H104.5V341.3H108.4V341.3H112.3V341.3H116.2V341.3H120.1V608H124V341.3H127.9V341.3H131.8V341.3H135.7V341.3H139.6V362.8H143.5V341.3H147.4V341.3H151.3V341.3H155.2V341.3H159.1V341.3H163V341.3H166.9V341.3H170.8V341.3H174.7V608H178.6V608H182.5V436.5H186.4V535.6H190.3V359.2H194.2V341.3H198.1V343.1H202V341.3H205.9V341.3H209.8V341.3H213.7V341.3H217.6V341.3H221.5V341.3H225.4V349.3H229.2V341.3H233.1V513.9H237V341.3H240.9V341.3H244.8V608H248.7V341.3H252.6V341.3H256.5V341.3H260.4V499.4H264.3V341.3H268.2V583.9H272.1V341.3H276V341.3H279.9V341.3H283.8V608H287.7V608H291.6V341.3H295.5V341.3H299.4V341.3H303.3V341.3H307.2V341.3H311.1V395.9H315V450.1H318.9V341.3H322.8V341.3H326.7V341.3H330.6V341.3H334.5V341.3H338.4V341.3H342.3V341.3H346.2V341.3H350.1V341.3H354V341.3H357.9V341.3H361.8V341.3H365.7V341.3H369.6V341.3H373.5V363.1H377.4V341.3H381.3V341.3H385.2V341.3H389.1V341.3H393V341.3H396.9V341.3H400.8V341.3H404.7V341.3H408.6V365.1H412.5V341.3H416.4V341.3H420.3V341.3H424.2V341.3H428.1V341.3H432V364.7H435.9V341.3H439.8V341.3H443.7V341.3H447.6V341.3H451.5V341.3H455.4V341.3H459.3V341.3H463.2V341.3H467.1V341.3H471V341.3H474.9V341.3H478.8V341.3H482.7V341.3H486.6V341.3H490.5V341.3H494.4V341.3H498.3V341.3H502.2V341.3H506.1V341.3H510V341.3H513.8V341.3H517.7V341.3H521.6V341.3H525.5V341.3H529.4V341.3H533.3V341.3H537.2V341.3H541.1V341.3H545V341.3H548.9V341.3H552.8V341.3H556.7V341.3H560.6V341.3H564.5V341.3H568.4V341.3H572.3V341.3H576.2V341.3H580.1V341.3H584V341.3H587.9V341.3H591.8V341.3H595.7V341.3H599.6V341.3H603.5V341.3H607.4V341.3H611.3V341.3H615.2V341.3H619.1V341.3H623V341.3H626.9V341.3H630.8V341.3H634.7V341.3H638.6V341.3H642.5V341.3H646.4V341.3H650.3V341.3H654.2V341.3H658.1V341.3H662V341.3H665.9V341.3H669.8V341.3H673.7V341.3H677.6V341.3H681.5V341.3H685.4V341.3H689.3V341.3H693.2V341.3H697.1V341.3H701V341.3H704.9V341.3H708.8V341.3H712.7V341.3H716.6V341.3H720.5V341.3H724.4V341.3H728.3V341.3H732.2V341.3H736.1V341.3H740V341.3H743.9V341.3H747.8V341.3H751.7V341.3H755.6V341.3H759.5V341.3H763.4V341.3H767.3V341.3H771.2V341.3H775.1V341.3H779V341.3H782.9V341.3H786.8V341.3H790.7V341.3H794.6V341.3H798.4V341.3H802.3V341.3H806.2V341.3H810.1V341.3H814V341.3H817.9V341.3H821.8V341.3H825.7V341.3H829.6V341.3H833.5V341.3H837.4V341.3H841.3V341.3H845.2V341.3H849.1V341.3H853V341.3H856.9V341.3H860.8V341.3H864.7V341.3H868.6V341.3H872.5V341.3H876.4V341.3H880.3V341.3H884.2V341.3H888.1V341.3H892V341.3H895.9V341.3H899.8V341.3H903.7V341.3H907.6V341.3H911.5V341.3H915.4V341.3H919.3V341.3H923.2V341.3H927.1V341.3H931V341.3H934.9V341.3H938.8V341.3H942.7V341.3H946.6V341.3H950.5V341.3H954.4V341.3H958.3V341.3H962.2V341.3H966.1V341.3H970V341.3H973.9V341.3H977.8V341.3H981.7V341.3H985.6V341.3H989.5V341.3H993.4V341.3H997.3V341.3H1001.2V341.3H1005.1V341.3H1009V341.3H1012.9V341.3H1016.8V341.3H1020.7V341.3H1024.6V341.3H1028.5V341.3H1032.4V341.3H1036.3V341.3H1040.2V341.3H1044.1V341.3H1048V341.3H1051.9V341.3H1055.8V341.3H1059.7V341.3H1063.6V341.3H1067.5V341.3H1071.4V341.3H1075.3V341.3H1079.2V341.3H1083V341.3H1086.9V341.3H1090.8V341.3H1094.7V341.3H1098.6V341.3H1102.5V341.3H1106.4V341.3H1110.3V341.3H1114.2V341.3H1118.1V341.3H1122V341.3H1125.9V341.3H1129.8V341.3H1133.7V479.4H1137.6V341.3H1141.5V341.3H1145.4V341.3H1149.3V341.3H1153.2V341.3H1157.1V341.3H1161V341.3H1164.9V341.3H1168.8V341.3H1172.7V373H1176.6V341.3H1180.5V341.3H1184.4V341.3H1188.3V341.3H1192.2V341.3H1196.1V341.3H1200V341.3H1203.9V341.3H1207.8V341.3H1211.7V341.3H1215.6V341.3H1219.5V341.3H1223.4V341.3H1227.3V341.3H1231.2V341.3H1235.1V341.3H1239V341.3H1242.9V341.3H1246.8V341.3H1250.7V341.3H1254.6V341.3H1258.5V341.3H1262.4V341.3H1266.3V341.3H1270.2V341.3H1274.1V341.3H1278V341.3H1281.9V341.3H1285.8V341.3H1289.7V341.3H1293.6V384.7H1297.5V341.3H1301.4V341.3H1305.3V341.3H1309.2V341.3H1313.1V341.3H1317V538.4H1320.9V341.3H1324.8V341.3H1328.7V341.3H1332.6V345.7H1336.5V359.8H1340.4V341.3H1344.3V341.3H1348.2V553.4H1352.1V341.3H1356V341.3H1359.9V341.3H1363.8V341.3H1367.6V341.3H1371.5V341.3H1375.4V422.1H1379.3V341.3H1383.2V341.3H1387.1V341.3H1391V524.8H1394.9V341.3H1398.8V341.3H1402.7V341.3H1406.6V341.3H1410.5V341.3H1414.4V341.3H1418.3V419.9H1422.2V608H1426.1V608H1430V341.3H1433.9V341.3H1437.8V341.3H1441.7V594.2H1445.6V341.3H1449.5V341.3H1453.4V341.3H1457.3V341.3H1461.2V476.6H1465.1V428H1469V341.3H1472.9V341.3H1476.8V341.3H1480.7V341.3H1484.6V481.1H1488.5V608H1492.4V341.3H1496.3V414.4H1500.2V341.3H1504.1V341.3H1508V341.3Z" fill="url(#gsnow)"/>
<path d="M85 341.3V341.3H88.9V608H92.8V341.3H96.7V358.1H100.6V375.4H104.5V341.3H108.4V343.8H112.3V341.3H116.2V346.6H120.1V341.3H124V341.3H127.9V410.2H131.8V341.3H135.7V341.3H139.6V341.3H143.5V530.8H147.4V341.3H151.3V341.3H155.2V341.3H159.1V341.3H163V341.3H166.9V608H170.8V341.3H174.7V341.3H178.6V341.3H182.5V365.5H186.4V341.3H190.3V341.3H194.2V341.3H198.1V341.3H202V341.3H205.9V445.6H209.8V341.3H213.7V341.3H217.6V341.3H221.5V608H225.4V341.3H229.2V341.3H233.1V341.3H237V608H240.9V608H244.8V341.3H248.7V341.3H252.6V486.4H256.5V341.3H260.4V516.5H264.3V341.3H268.2V341.3H272.1V341.3H276V341.3H279.9V608H283.8V464.9H287.7V341.3H291.6V341.3H295.5V608H299.4V341.3H303.3V406.9H307.2V608H311.1V341.3H315V341.3H318.9V424H322.8V341.3H326.7V396.1H330.6V341.3H334.5V341.3H338.4V341.3H342.3V341.3H346.2V435.2H350.1V341.3H354V356.2H357.9V341.3H361.8V341.3H365.7V565.8H369.6V341.3H373.5V341.3H377.4V341.3H381.3V341.3H385.2V341.3H389.1V341.3H393V341.3H396.9V341.3H400.8V389.1H404.7V563.7H408.6V399.3H412.5V341.3H416.4V341.3H420.3V362.8H424.2V341.3H428.1V341.3H432V341.3H435.9V341.3H439.8V341.3H443.7V341.3H447.6V341.3H451.5V341.3H455.4V341.3H459.3V341.3H463.2V341.3H467.1V341.3H471V341.3H474.9V341.3H478.8V341.3H482.7V341.3H486.6V341.3H490.5V341.3H494.4V341.3H498.3V341.3H502.2V341.3H506.1V341.3H510V341.3H513.8V341.3H517.7V341.3H521.6V341.3H525.5V364.1H529.4V341.3H533.3V341.3H537.2V341.3H541.1V341.3H545V341.3H548.9V341.3H552.8V341.3H556.7V341.3H560.6V341.3H564.5V341.3H568.4V341.3H572.3V341.3H576.2V341.3H580.1V341.3H584V341.3H587.9V341.3H591.8V341.3H595.7V341.3H599.6V341.3H603.5V341.3H607.4V341.3H611.3V341.3H615.2V341.3H619.1V341.3H623V341.3H626.9V341.3H630.8V341.3H634.7V341.3H638.6V341.3H642.5V341.3H646.4V341.3H650.3V341.3H654.2V341.3H658.1V341.3H662V341.3H665.9V341.3H669.8V341.3H673.7V341.3H677.6V341.3H681.5V341.3H685.4V341.3H689.3V341.3H693.2V341.3H697.1V341.3H701V341.3H704.9V341.3H708.8V341.3H712.7V341.3H716.6V341.3H720.5V341.3H724.4V341.3H728.3V341.3H732.2V341.3H736.1V341.3H740V341.3H743.9V341.3H747.8V341.3H751.7V341.3H755.6V341.3H759.5V341.3H763.4V341.3H767.3V341.3H771.2V341.3H775.1V341.3H779V341.3H782.9V341.3H786.8V341.3H790.7V341.3H794.6V341.3H798.4V341.3H802.3V341.3H806.2V341.3H810.1V341.3H814V341.3H817.9V341.3H821.8V341.3H825.7V341.3H829.6V341.3H833.5V341.3H837.4V341.3H841.3V341.3H845.2V341.3H849.1V341.3H853V341.3H856.9V341.3H860.8V341.3H864.7V341.3H868.6V341.3H872.5V341.3H876.4V341.3H880.3V341.3H884.2V341.3H888.1V341.3H892V341.3H895.9V341.3H899.8V341.3H903.7V341.3H907.6V341.3H911.5V341.3H915.4V341.3H919.3V341.3H923.2V341.3H927.1V341.3H931V341.3H934.9V341.3H938.8V341.3H942.7V341.3H946.6V341.3H950.5V341.3H954.4V341.3H958.3V341.3H962.2V341.3H966.1V341.3H970V341.3H973.9V341.3H977.8V341.3H981.7V341.3H985.6V341.3H989.5V341.3H993.4V341.3H997.3V341.3H1001.2V341.3H1005.1V341.3H1009V341.3H1012.9V341.3H1016.8V341.3H1020.7V341.3H1024.6V341.3H1028.5V341.3H1032.4V341.3H1036.3V341.3H1040.2V341.3H1044.1V341.3H1048V341.3H1051.9V341.3H1055.8V341.3H1059.7V341.3H1063.6V341.3H1067.5V341.3H1071.4V341.3H1075.3V341.3H1079.2V341.3H1083V341.3H1086.9V341.3H1090.8V341.3H1094.7V341.3H1098.6V341.3H1102.5V341.3H1106.4V341.3H1110.3V341.3H1114.2V341.3H1118.1V341.3H1122V341.3H1125.9V341.3H1129.8V341.3H1133.7V341.3H1137.6V341.3H1141.5V341.3H1145.4V341.3H1149.3V341.3H1153.2V341.3H1157.1V341.3H1161V341.3H1164.9V341.3H1168.8V341.3H1172.7V341.3H1176.6V341.3H1180.5V341.3H1184.4V341.3H1188.3V341.3H1192.2V341.3H1196.1V341.3H1200V341.3H1203.9V341.3H1207.8V341.3H1211.7V341.3H1215.6V341.3H1219.5V483.1H1223.4V341.3H1227.3V341.3H1231.2V341.3H1235.1V341.3H1239V341.3H1242.9V341.3H1246.8V341.3H1250.7V341.3H1254.6V341.3H1258.5V341.3H1262.4V341.3H1266.3V341.3H1270.2V341.3H1274.1V341.3H1278V341.3H1281.9V341.3H1285.8V341.3H1289.7V341.3H1293.6V341.3H1297.5V341.3H1301.4V341.3H1305.3V341.3H1309.2V341.3H1313.1V341.3H1317V341.3H1320.9V341.3H1324.8V392.9H1328.7V341.3H1332.6V358.5H1336.5V341.3H1340.4V341.3H1344.3V427.7H1348.2V341.3H1352.1V498.2H1356V341.3H1359.9V341.3H1363.8V341.3H1367.6V341.3H1371.5V341.3H1375.4V341.3H1379.3V341.3H1383.2V409.3H1387.1V341.3H1391V341.3H1394.9V341.3H1398.8V341.3H1402.7V341.3H1406.6V586.7H1410.5V341.3H1414.4V341.3H1418.3V341.3H1422.2V341.3H1426.1V341.3H1430V341.3H1433.9V341.3H1437.8V341.3H1441.7V341.3H1445.6V341.3H1449.5V341.3H1453.4V608H1457.3V341.3H1461.2V603.5H1465.1V525.7H1469V555.6H1472.9V341.3H1476.8V341.3H1480.7V341.3H1484.6V341.3H1488.5V464.1H1492.4V341.3H1496.3V608H1500.2V341.3H1504.1V341.3H1508V341.3Z" fill="url(#gsnow)"/>
<path d="M85 341.3V419.7H88.9V341.3H92.8V341.3H96.7V341.3H100.6V341.3H104.5V341.3H108.4V341.3H112.3V341.3H116.2V341.3H120.1V341.3H124V341.3H127.9V608H131.8V463.8H135.7V608H139.6V341.3H143.5V424.4H147.4V341.3H151.3V383.2H155.2V442.9H159.1V341.3H163V411H166.9V341.3H170.8V386.6H174.7V480.6H178.6V341.3H182.5V341.3H186.4V341.3H190.3V341.3H194.2V367.2H198.1V341.3H202V608H205.9V341.3H209.8V608H213.7V341.3H217.6V341.3H221.5V469.1H225.4V608H229.2V478.8H233.1V341.3H237V341.3H240.9V341.3H244.8V344.9H248.7V341.3H252.6V341.3H256.5V341.3H260.4V341.3H264.3V341.3H268.2V341.3H272.1V343.1H276V341.3H279.9V341.3H283.8V341.3H287.7V341.3H291.6V363.3H295.5V383.9H299.4V374.3H303.3V341.3H307.2V341.3H311.1V341.3H315V341.3H318.9V341.3H322.8V341.3H326.7V341.3H330.6V341.3H334.5V341.3H338.4V341.3H342.3V455.7H346.2V341.3H350.1V341.3H354V341.3H357.9V341.3H361.8V341.3H365.7V341.3H369.6V341.3H373.5V341.3H377.4V341.3H381.3V341.3H385.2V341.3H389.1V341.3H393V341.3H396.9V341.3H400.8V341.3H404.7V341.3H408.6V341.3H412.5V341.3H416.4V341.3H420.3V341.3H424.2V341.3H428.1V341.3H432V341.3H435.9V408.5H439.8V542.4H443.7V341.3H447.6V341.3H451.5V341.3H455.4V341.3H459.3V341.3H463.2V341.3H467.1V341.3H471V341.3H474.9V341.3H478.8V341.3H482.7V341.3H486.6V356.2H490.5V341.3H494.4V341.3H498.3V341.3H502.2V341.3H506.1V341.3H510V341.3H513.8V341.3H517.7V341.3H521.6V341.3H525.5V341.3H529.4V341.3H533.3V341.3H537.2V341.3H541.1V341.3H545V341.3H548.9V341.3H552.8V341.3H556.7V341.3H560.6V341.3H564.5V341.3H568.4V341.3H572.3V341.3H576.2V341.3H580.1V341.3H584V341.3H587.9V341.3H591.8V341.3H595.7V341.3H599.6V341.3H603.5V341.3H607.4V341.3H611.3V341.3H615.2V341.3H619.1V341.3H623V341.3H626.9V341.3H630.8V341.3H634.7V341.3H638.6V341.3H642.5V341.3H646.4V341.3H650.3V341.3H654.2V341.3H658.1V341.3H662V341.3H665.9V341.3H669.8V341.3H673.7V341.3H677.6V341.3H681.5V341.3H685.4V341.3H689.3V341.3H693.2V341.3H697.1V341.3H701V341.3H704.9V341.3H708.8V341.3H712.7V341.3H716.6V341.3H720.5V341.3H724.4V341.3H728.3V341.3H732.2V341.3H736.1V341.3H740V341.3H743.9V341.3H747.8V341.3H751.7V341.3H755.6V341.3H759.5V341.3H763.4V341.3H767.3V341.3H771.2V341.3H775.1V341.3H779V341.3H782.9V341.3H786.8V341.3H790.7V341.3H794.6V341.3H798.4V341.3H802.3V341.3H806.2V341.3H810.1V341.3H814V341.3H817.9V341.3H821.8V341.3H825.7V341.3H829.6V341.3H833.5V341.3H837.4V341.3H841.3V341.3H845.2V341.3H849.1V341.3H853V341.3H856.9V341.3H860.8V341.3H864.7V341.3H868.6V341.3H872.5V341.3H876.4V341.3H880.3V341.3H884.2V341.3H888.1V341.3H892V341.3H895.9V341.3H899.8V341.3H903.7V341.3H907.6V341.3H911.5V341.3H915.4V341.3H919.3V341.3H923.2V341.3H927.1V341.3H931V341.3H934.9V341.3H938.8V341.3H942.7V341.3H946.6V341.3H950.5V341.3H954.4V341.3H958.3V341.3H962.2V341.3H966.1V341.3H970V341.3H973.9V341.3H977.8V341.3H981.7V341.3H985.6V341.3H989.5V341.3H993.4V341.3H997.3V341.3H1001.2V341.3H1005.1V341.3H1009V341.3H1012.9V341.3H1016.8V341.3H1020.7V341.3H1024.6V341.3H1028.5V341.3H1032.4V341.3H1036.3V341.3H1040.2V341.3H1044.1V341.3H1048V341.3H1051.9V341.3H1055.8V341.3H1059.7V341.3H1063.6V341.3H1067.5V341.3H1071.4V341.3H1075.3V341.3H1079.2V341.3H1083V341.3H1086.9V341.3H1090.8V341.3H1094.7V341.3H1098.6V341.3H1102.5V341.3H1106.4V341.3H1110.3V341.3H1114.2V341.3H1118.1V341.3H1122V341.3H1125.9V419.6H1129.8V341.3H1133.7V341.3H1137.6V341.3H1141.5V341.3H1145.4V341.3H1149.3V341.3H1153.2V341.3H1157.1V341.3H1161V341.3H1164.9V341.3H1168.8V341.3H1172.7V341.3H1176.6V407.7H1180.5V341.3H1184.4V341.3H1188.3V341.3H1192.2V341.3H1196.1V341.3H1200V341.3H1203.9V341.3H1207.8V341.3H1211.7V341.3H1215.6V354.8H1219.5V341.3H1223.4V341.3H1227.3V364H1231.2V341.3H1235.1V341.3H1239V341.3H1242.9V341.3H1246.8V341.3H1250.7V423.5H1254.6V341.3H1258.5V341.3H1262.4V341.3H1266.3V341.3H1270.2V341.3H1274.1V341.3H1278V341.3H1281.9V341.3H1285.8V341.3H1289.7V341.3H1293.6V341.3H1297.5V341.3H1301.4V341.3H1305.3V341.3H1309.2V341.3H1313.1V508.1H1317V341.3H1320.9V394.8H1324.8V341.3H1328.7V341.3H1332.6V552.7H1336.5V341.3H1340.4V498.6H1344.3V341.3H1348.2V341.3H1352.1V341.3H1356V392.2H1359.9V341.3H1363.8V341.3H1367.6V341.3H1371.5V341.3H1375.4V341.3H1379.3V341.3H1383.2V341.3H1387.1V608H1391V370.8H1394.9V341.3H1398.8V341.3H1402.7V341.3H1406.6V341.3H1410.5V608H1414.4V341.3H1418.3V341.3H1422.2V341.3H1426.1V608H1430V341.3H1433.9V341.3H1437.8V341.3H1441.7V341.3H1445.6V341.3H1449.5V341.3H1453.4V601H1457.3V348.2H1461.2V341.3H1465.1V341.3H1469V341.3H1472.9V341.3H1476.8V341.3H1480.7V549.6H1484.6V608H1488.5V382.5H1492.4V486.1H1496.3V432.4H1500.2V341.3H1504.1V487.4H1508V341.3Z" fill="url(#gsnow)"/>
<path d="M85 341.3V457.1H88.9V341.3H92.8V341.3H96.7V491.7H100.6V341.3H104.5V341.3H108.4V608H112.3V341.3H116.2V341.3H120.1V341.3H124V366.6H127.9V341.3H131.8V560.3H135.7V461.2H139.6V341.3H143.5V341.3H147.4V522H151.3V341.3H155.2V341.3H159.1V341.3H163V359H166.9V347.2H170.8V341.3H174.7V341.3H178.6V608H182.5V341.3H186.4V341.3H190.3V565.8H194.2V341.3H198.1V341.3H202V608H205.9V443.5H209.8V341.3H213.7V608H217.6V341.3H221.5V421.5H225.4V341.3H229.2V341.3H233.1V608H237V341.3H240.9V500.6H244.8V341.3H248.7V341.3H252.6V341.3H256.5V341.3H260.4V608H264.3V341.3H268.2V441.8H272.1V608H276V608H279.9V356.5H283.8V341.3H287.7V341.3H291.6V341.3H295.5V341.3H299.4V341.3H303.3V341.3H307.2V341.3H311.1V341.3H315V341.3H318.9V341.3H322.8V341.3H326.7V435.4H330.6V341.3H334.5V395.9H338.4V341.3H342.3V341.3H346.2V341.3H350.1V341.3H354V341.3H357.9V341.3H361.8V341.3H365.7V341.3H369.6V341.3H373.5V341.3H377.4V341.3H381.3V341.3H385.2V341.3H389.1V341.3H393V341.3H396.9V341.3H400.8V341.3H404.7V341.3H408.6V341.3H412.5V341.3H416.4V341.3H420.3V341.3H424.2V341.3H428.1V575.3H432V510.8H435.9V341.3H439.8V341.3H443.7V341.3H447.6V341.3H451.5V341.3H455.4V341.3H459.3V402.2H463.2V341.3H467.1V341.3H471V341.3H474.9V341.3H478.8V355.2H482.7V341.3H486.6V368.2H490.5V341.3H494.4V341.3H498.3V341.3H502.2V341.3H506.1V341.3H510V341.3H513.8V341.3H517.7V341.3H521.6V351.2H525.5V341.3H529.4V341.3H533.3V341.3H537.2V341.3H541.1V341.3H545V341.3H548.9V341.3H552.8V341.3H556.7V341.3H560.6V341.3H564.5V341.3H568.4V341.3H572.3V341.3H576.2V341.3H580.1V341.3H584V341.3H587.9V341.3H591.8V341.3H595.7V341.3H599.6V341.3H603.5V341.3H607.4V341.3H611.3V341.3H615.2V341.3H619.1V341.3H623V341.3H626.9V341.3H630.8V341.3H634.7V341.3H638.6V341.3H642.5V341.3H646.4V341.3H650.3V341.3H654.2V341.3H658.1V341.3H662V341.3H665.9V341.3H669.8V341.3H673.7V341.3H677.6V341.3H681.5V341.3H685.4V341.3H689.3V341.3H693.2V341.3H697.1V341.3H701V341.3H704.9V341.3H708.8V341.3H712.7V341.3H716.6V341.3H720.5V341.3H724.4V341.3H728.3V341.3H732.2V341.3H736.1V341.3H740V341.3H743.9V341.3H747.8V341.3H751.7V341.3H755.6V341.3H759.5V341.3H763.4V341.3H767.3V341.3H771.2V341.3H775.1V341.3H779V341.3H782.9V341.3H786.8V341.3H790.7V341.3H794.6V341.3H798.4V341.3H802.3V341.3H806.2V341.3H810.1V341.3H814V341.3H817.9V341.3H821.8V341.3H825.7V341.3H829.6V341.3H833.5V341.3H837.4V341.3H841.3V341.3H845.2V341.3H849.1V341.3H853V341.3H856.9V341.3H860.8V341.3H864.7V341.3H868.6V341.3H872.5V341.3H876.4V341.3H880.3V341.3H884.2V341.3H888.1V341.3H892V341.3H895.9V341.3H899.8V341.3H903.7V341.3H907.6V341.3H911.5V341.3H915.4V341.3H919.3V341.3H923.2V341.3H927.1V341.3H931V341.3H934.9V341.3H938.8V341.3H942.7V341.3H946.6V341.3H950.5V341.3H954.4V341.3H958.3V341.3H962.2V341.3H966.1V341.3H970V341.3H973.9V341.3H977.8V341.3H981.7V341.3H985.6V341.3H989.5V341.3H993.4V341.3H997.3V341.3H1001.2V341.3H1005.1V341.3H1009V341.3H1012.9V341.3H1016.8V341.3H1020.7V341.3H1024.6V341.3H1028.5V341.3H1032.4V341.3H1036.3V341.3H1040.2V341.3H1044.1V341.3H1048V341.3H1051.9V341.3H1055.8V341.3H1059.7V341.3H1063.6V341.3H1067.5V341.3H1071.4V341.3H1075.3V341.3H1079.2V341.3H1083V341.3H1086.9V341.3H1090.8V341.3H1094.7V341.3H1098.6V341.3H1102.5V341.3H1106.4V341.3H1110.3V341.3H1114.2V341.3H1118.1V341.3H1122V341.3H1125.9V341.3H1129.8V341.3H1133.7V341.3H1137.6V341.3H1141.5V341.3H1145.4V341.3H1149.3V341.3H1153.2V341.3H1157.1V341.3H1161V341.3H1164.9V341.3H1168.8V341.3H1172.7V341.3H1176.6V341.3H1180.5V341.3H1184.4V341.3H1188.3V341.3H1192.2V341.3H1196.1V341.3H1200V341.3H1203.9V341.3H1207.8V341.3H1211.7V341.3H1215.6V341.3H1219.5V341.3H1223.4V341.3H1227.3V341.3H1231.2V341.3H1235.1V341.3H1239V341.3H1242.9V341.3H1246.8V389.3H1250.7V341.3H1254.6V341.3H1258.5V341.3H1262.4V341.3H1266.3V344.7H1270.2V341.3H1274.1V341.3H1278V341.3H1281.9V608H1285.8V341.3H1289.7V341.3H1293.6V341.3H1297.5V341.3H1301.4V371.7H1305.3V341.3H1309.2V341.3H1313.1V341.3H1317V341.3H1320.9V341.3H1324.8V353.6H1328.7V341.3H1332.6V381.8H1336.5V341.3H1340.4V341.3H1344.3V341.3H1348.2V341.3H1352.1V341.3H1356V341.3H1359.9V341.3H1363.8V563.3H1367.6V341.3H1371.5V341.3H1375.4V502.2H1379.3V341.3H1383.2V341.3H1387.1V341.3H1391V370.8H1394.9V341.3H1398.8V341.3H1402.7V341.3H1406.6V364.5H1410.5V341.3H1414.4V341.3H1418.3V341.3H1422.2V341.3H1426.1V341.3H1430V341.3H1433.9V341.3H1437.8V341.3H1441.7V341.3H1445.6V341.3H1449.5V341.3H1453.4V341.3H1457.3V341.3H1461.2V341.3H1465.1V445.4H1469V442H1472.9V441.8H1476.8V341.3H1480.7V341.3H1484.6V341.3H1488.5V341.3H1492.4V341.3H1496.3V341.3H1500.2V341.3H1504.1V341.3H1508V341.3Z" fill="url(#gsnow)"/>
<path d="M85 341.3V408.4H88.9V519.1H92.8V411.7H96.7V341.3H100.6V341.3H104.5V341.3H108.4V608H112.3V341.3H116.2V341.3H120.1V341.3H124V345.3H127.9V341.3H131.8V341.3H135.7V341.3H139.6V341.3H143.5V341.3H147.4V385.1H151.3V341.3H155.2V528.2H159.1V341.3H163V341.3H166.9V341.3H170.8V341.3H174.7V501.4H178.6V341.3H182.5V475H186.4V420.8H190.3V341.3H194.2V341.3H198.1V428.3H202V341.3H205.9V341.3H209.8V341.3H213.7V341.3H217.6V608H221.5V341.3H225.4V449.6H229.2V341.3H233.1V376.3H237V341.3H240.9V424.3H244.8V341.3H248.7V490.8H252.6V341.3H256.5V341.3H260.4V341.3H264.3V341.3H268.2V341.3H272.1V608H276V341.3H279.9V341.3H283.8V608H287.7V341.3H291.6V341.3H295.5V608H299.4V341.3H303.3V402.6H307.2V341.3H311.1V341.3H315V341.3H318.9V341.3H322.8V341.3H326.7V341.3H330.6V341.3H334.5V341.3H338.4V341.3H342.3V341.3H346.2V341.3H350.1V341.3H354V341.3H357.9V341.3H361.8V341.3H365.7V341.3H369.6V341.3H373.5V341.3H377.4V341.3H381.3V341.3H385.2V341.3H389.1V341.3H393V341.3H396.9V341.3H400.8V341.3H404.7V341.3H408.6V341.3H412.5V341.3H416.4V341.3H420.3V341.3H424.2V370.6H428.1V341.3H432V341.3H435.9V341.3H439.8V341.3H443.7V341.3H447.6V341.3H451.5V341.3H455.4V341.3H459.3V341.3H463.2V341.3H467.1V341.3H471V341.3H474.9V341.3H478.8V341.3H482.7V341.3H486.6V341.3H490.5V341.3H494.4V341.3H498.3V341.3H502.2V341.3H506.1V538H510V341.3H513.8V341.3H517.7V341.3H521.6V341.3H525.5V341.3H529.4V341.3H533.3V341.3H537.2V341.3H541.1V359H545V341.3H548.9V341.3H552.8V341.3H556.7V341.3H560.6V341.3H564.5V341.3H568.4V341.3H572.3V341.3H576.2V341.3H580.1V341.3H584V341.3H587.9V341.3H591.8V341.3H595.7V341.3H599.6V341.3H603.5V341.3H607.4V341.3H611.3V341.3H615.2V341.3H619.1V341.3H623V341.3H626.9V341.3H630.8V341.3H634.7V341.3H638.6V341.3H642.5V341.3H646.4V341.3H650.3V341.3H654.2V341.3H658.1V341.3H662V341.3H665.9V341.3H669.8V341.3H673.7V341.3H677.6V341.3H681.5V341.3H685.4V341.3H689.3V341.3H693.2V341.3H697.1V341.3H701V341.3H704.9V341.3H708.8V341.3H712.7V341.3H716.6V341.3H720.5V341.3H724.4V341.3H728.3V341.3H732.2V341.3H736.1V341.3H740V341.3H743.9V341.3H747.8V341.3H751.7V341.3H755.6V341.3H759.5V341.3H763.4V341.3H767.3V341.3H771.2V341.3H775.1V341.3H779V341.3H782.9V341.3H786.8V341.3H790.7V341.3H794.6V341.3H798.4V341.3H802.3V341.3H806.2V341.3H810.1V341.3H814V341.3H817.9V341.3H821.8V341.3H825.7V341.3H829.6V341.3H833.5V341.3H837.4V341.3H841.3V341.3H845.2V341.3H849.1V341.3H853V341.3H856.9V341.3H860.8V341.3H864.7V341.3H868.6V341.3H872.5V341.3H876.4V341.3H880.3V341.3H884.2V341.3H888.1V341.3H892V341.3H895.9V341.3H899.8V341.3H903.7V341.3H907.6V341.3H911.5V341.3H915.4V341.3H919.3V341.3H923.2V341.3H927.1V341.3H931V341.3H934.9V341.3H938.8V341.3H942.7V341.3H946.6V341.3H950.5V341.3H954.4V341.3H958.3V341.3H962.2V341.3H966.1V341.3H970V341.3H973.9V341.3H977.8V341.3H981.7V341.3H985.6V341.3H989.5V341.3H993.4V341.3H997.3V341.3H1001.2V341.3H1005.1V341.3H1009V341.3H1012.9V341.3H1016.8V341.3H1020.7V341.3H1024.6V341.3H1028.5V341.3H1032.4V341.3H1036.3V341.3H1040.2V341.3H1044.1V341.3H1048V341.3H1051.9V341.3H1055.8V341.3H1059.7V341.3H1063.6V341.3H1067.5V341.3H1071.4V341.3H1075.3V341.3H1079.2V341.3H1083V341.3H1086.9V341.3H1090.8V341.3H1094.7V341.3H1098.6V341.3H1102.5V341.3H1106.4V341.3H1110.3V341.3H1114.2V341.3H1118.1V341.3H1122V341.3H1125.9V341.3H1129.8V341.3H1133.7V341.3H1137.6V341.3H1141.5V341.3H1145.4V341.3H1149.3V341.3H1153.2V341.3H1157.1V341.3H1161V341.3H1164.9V341.3H1168.8V341.3H1172.7V341.3H1176.6V341.3H1180.5V341.3H1184.4V341.3H1188.3V341.3H1192.2V341.3H1196.1V342H1200V341.3H1203.9V341.3H1207.8V341.3H1211.7V341.3H1215.6V341.3H1219.5V341.3H1223.4V341.3H1227.3V341.3H1231.2V341.3H1235.1V341.3H1239V458.9H1242.9V341.3H1246.8V341.3H1250.7V341.3H1254.6V341.3H1258.5V341.3H1262.4V341.3H1266.3V341.3H1270.2V341.3H1274.1V341.3H1278V430.9H1281.9V341.3H1285.8V341.3H1289.7V341.3H1293.6V341.3H1297.5V341.3H1301.4V389.4H1305.3V341.3H1309.2V341.3H1313.1V341.3H1317V341.3H1320.9V341.3H1324.8V341.3H1328.7V341.3H1332.6V341.3H1336.5V341.3H1340.4V341.3H1344.3V555.2H1348.2V449.4H1352.1V341.3H1356V341.3H1359.9V341.3H1363.8V341.3H1367.6V341.3H1371.5V341.3H1375.4V341.3H1379.3V341.3H1383.2V341.3H1387.1V341.3H1391V432.7H1394.9V341.3H1398.8V597.1H1402.7V341.3H1406.6V595.4H1410.5V341.3H1414.4V341.3H1418.3V341.3H1422.2V341.3H1426.1V341.3H1430V341.3H1433.9V358.2H1437.8V341.3H1441.7V341.3H1445.6V341.3H1449.5V341.3H1453.4V443.3H1457.3V341.3H1461.2V341.3H1465.1V341.3H1469V608H1472.9V341.3H1476.8V341.3H1480.7V341.3H1484.6V341.3H1488.5V341.3H1492.4V341.3H1496.3V341.3H1500.2V341.3H1504.1V373.9H1508V341.3Z" fill="url(#gsnow)"/>
<path d="M85 341.3V602.7H88.9V430H92.8V341.3H96.7V608H100.6V608H104.5V341.3H108.4V341.3H112.3V341.3H116.2V341.3H120.1V608H124V341.3H127.9V341.3H131.8V341.3H135.7V341.3H139.6V341.3H143.5V341.3H147.4V380.1H151.3V440H155.2V502H159.1V341.3H163V469.5H166.9V341.3H170.8V341.3H174.7V355H178.6V341.3H182.5V341.3H186.4V341.3H190.3V357.2H194.2V341.3H198.1V341.3H202V562.9H205.9V341.3H209.8V341.3H213.7V528.8H217.6V605.5H221.5V341.3H225.4V341.3H229.2V341.3H233.1V341.3H237V341.3H240.9V341.3H244.8V520.9H248.7V341.3H252.6V341.3H256.5V341.3H260.4V341.3H264.3V341.3H268.2V405.1H272.1V341.3H276V341.3H279.9V341.3H283.8V341.3H287.7V341.3H291.6V341.3H295.5V341.3H299.4V341.3H303.3V341.3H307.2V597H311.1V341.3H315V341.3H318.9V427.6H322.8V341.3H326.7V341.3H330.6V341.3H334.5V341.3H338.4V341.3H342.3V341.3H346.2V341.3H350.1V341.3H354V341.3H357.9V591.1H361.8V341.3H365.7V341.3H369.6V341.3H373.5V387.1H377.4V341.3H381.3V341.3H385.2V341.3H389.1V341.3H393V486.8H396.9V343.1H400.8V341.3H404.7V436.2H408.6V341.3H412.5V511.2H416.4V341.3H420.3V341.3H424.2V341.3H428.1V341.3H432V341.3H435.9V341.3H439.8V341.3H443.7V341.3H447.6V341.3H451.5V341.3H455.4V341.3H459.3V341.3H463.2V341.3H467.1V341.3H471V341.3H474.9V341.3H478.8V434.3H482.7V341.3H486.6V341.3H490.5V341.3H494.4V341.3H498.3V341.3H502.2V341.3H506.1V341.3H510V341.3H513.8V341.3H517.7V341.3H521.6V341.3H525.5V341.3H529.4V341.3H533.3V341.3H537.2V341.3H541.1V341.3H545V341.3H548.9V341.3H552.8V341.3H556.7V341.3H560.6V341.3H564.5V341.3H568.4V341.3H572.3V341.3H576.2V341.3H580.1V341.3H584V341.3H587.9V341.3H591.8V341.3H595.7V341.3H599.6V341.3H603.5V341.3H607.4V341.3H611.3V341.3H615.2V341.3H619.1V341.3H623V341.3H626.9V341.3H630.8V341.3H634.7V341.3H638.6V341.3H642.5V341.3H646.4V341.3H650.3V341.3H654.2V341.3H658.1V341.3H662V341.3H665.9V341.3H669.8V341.3H673.7V341.3H677.6V341.3H681.5V341.3H685.4V341.3H689.3V341.3H693.2V341.3H697.1V341.3H701V341.3H704.9V341.3H708.8V341.3H712.7V341.3H716.6V341.3H720.5V341.3H724.4V341.3H728.3V341.3H732.2V341.3H736.1V341.3H740V341.3H743.9V341.3H747.8V341.3H751.7V341.3H755.6V341.3H759.5V341.3H763.4V341.3H767.3V341.3H771.2V341.3H775.1V341.3H779V341.3H782.9V341.3H786.8V341.3H790.7V341.3H794.6V341.3H798.4V341.3H802.3V341.3H806.2V341.3H810.1V341.3H814V341.3H817.9V341.3H821.8V341.3H825.7V341.3H829.6V341.3H833.5V341.3H837.4V341.3H841.3V341.3H845.2V341.3H849.1V341.3H853V341.3H856.9V341.3H860.8V341.3H864.7V341.3H868.6V341.3H872.5V341.3H876.4V341.3H880.3V341.3H884.2V341.3H888.1V341.3H892V341.3H895.9V341.3H899.8V341.3H903.7V341.3H907.6V341.3H911.5V341.3H915.4V341.3H919.3V341.3H923.2V341.3H927.1V341.3H931V341.3H934.9V341.3H938.8V341.3H942.7V341.3H946.6V341.3H950.5V341.3H954.4V341.3H958.3V341.3H962.2V341.3H966.1V341.3H970V341.3H973.9V341.3H977.8V341.3H981.7V341.3H985.6V341.3H989.5V341.3H993.4V341.3H997.3V341.3H1001.2V341.3H1005.1V341.3H1009V341.3H1012.9V341.3H1016.8V341.3H1020.7V341.3H1024.6V341.3H1028.5V341.3H1032.4V341.3H1036.3V341.3H1040.2V341.3H1044.1V341.3H1048V341.3H1051.9V341.3H1055.8V341.3H1059.7V341.3H1063.6V341.3H1067.5V341.3H1071.4V341.3H1075.3V341.3H1079.2V341.3H1083V341.3H1086.9V341.3H1090.8V341.3H1094.7V341.3H1098.6V341.3H1102.5V341.3H1106.4V341.3H1110.3V341.3H1114.2V341.3H1118.1V341.3H1122V341.3H1125.9V341.3H1129.8V341.3H1133.7V341.3H1137.6V341.3H1141.5V341.3H1145.4V341.3H1149.3V341.3H1153.2V341.3H1157.1V341.3H1161V341.3H1164.9V341.3H1168.8V341.3H1172.7V341.3H1176.6V341.3H1180.5V341.3H1184.4V341.3H1188.3V362.7H1192.2V341.3H1196.1V448.5H1200V341.7H1203.9V341.3H1207.8V341.3H1211.7V341.3H1215.6V341.3H1219.5V341.3H1223.4V341.3H1227.3V341.3H1231.2V341.3H1235.1V341.3H1239V341.3H1242.9V608H1246.8V341.3H1250.7V341.3H1254.6V341.3H1258.5V341.3H1262.4V341.3H1266.3V341.3H1270.2V341.3H1274.1V341.3H1278V341.3H1281.9V341.3H1285.8V341.3H1289.7V341.3H1293.6V341.3H1297.5V341.3H1301.4V341.3H1305.3V341.3H1309.2V341.3H1313.1V341.3H1317V341.3H1320.9V341.3H1324.8V341.3H1328.7V341.3H1332.6V341.3H1336.5V341.3H1340.4V341.3H1344.3V426.1H1348.2V341.3H1352.1V341.3H1356V591.7H1359.9V341.3H1363.8V341.3H1367.6V341.3H1371.5V341.3H1375.4V565.5H1379.3V341.3H1383.2V341.3H1387.1V341.3H1391V341.3H1394.9V341.3H1398.8V608H1402.7V341.3H1406.6V341.3H1410.5V341.3H1414.4V608H1418.3V341.3H1422.2V370.6H1426.1V439.8H1430V341.3H1433.9V341.3H1437.8V341.3H1441.7V341.3H1445.6V341.3H1449.5V341.3H1453.4V341.3H1457.3V341.3H1461.2V341.3H1465.1V341.3H1469V375.4H1472.9V460.4H1476.8V341.3H1480.7V481.9H1484.6V341.3H1488.5V341.3H1492.4V341.3H1496.3V341.3H1500.2V341.3H1504.1V341.3H1508V341.3Z" fill="url(#gsnow)"/>
<path d="M85 341.3V608H88.9V341.3H92.8V608H96.7V341.3H100.6V341.3H104.5V355.6H108.4V341.3H112.3V498.9H116.2V341.3H120.1V341.3H124V341.3H127.9V341.3H131.8V341.3H135.7V475.3H139.6V341.3H143.5V607.9H147.4V481.9H151.3V341.3H155.2V341.3H159.1V505.4H163V488H166.9V341.3H170.8V341.3H174.7V341.3H178.6V341.3H182.5V341.3H186.4V341.3H190.3V341.3H194.2V341.3H198.1V470.3H202V608H205.9V341.3H209.8V608H213.7V341.3H217.6V341.3H221.5V341.3H225.4V350.2H229.2V341.3H233.1V608H237V341.3H240.9V341.3H244.8V341.3H248.7V374.5H252.6V341.3H256.5V343.1H260.4V341.3H264.3V608H268.2V341.3H272.1V532.4H276V341.3H279.9V346.6H283.8V608H287.7V372.3H291.6V341.3H295.5V341.3H299.4V341.3H303.3V363.1H307.2V341.3H311.1V341.3H315V341.3H318.9V341.3H322.8V341.3H326.7V341.3H330.6V341.3H334.5V341.3H338.4V341.3H342.3V341.3H346.2V341.3H350.1V341.3H354V341.3H357.9V341.3H361.8V341.3H365.7V341.3H369.6V376.3H373.5V341.3H377.4V341.3H381.3V341.3H385.2V341.3H389.1V341.3H393V341.3H396.9V341.3H400.8V341.3H404.7V341.3H408.6V341.3H412.5V341.3H416.4V341.3H420.3V341.3H424.2V341.3H428.1V341.3H432V341.3H435.9V341.3H439.8V341.3H443.7V341.3H447.6V341.3H451.5V341.3H455.4V341.3H459.3V341.3H463.2V341.3H467.1V341.3H471V341.3H474.9V341.3H478.8V341.3H482.7V341.3H486.6V341.3H490.5V341.3H494.4V341.3H498.3V341.3H502.2V341.3H506.1V341.3H510V341.3H513.8V341.3H517.7V341.3H521.6V341.3H525.5V341.3H529.4V341.3H533.3V341.3H537.2V341.3H541.1V341.3H545V341.3H548.9V341.3H552.8V341.3H556.7V341.3H560.6V341.3H564.5V341.3H568.4V341.3H572.3V341.3H576.2V341.3H580.1V341.3H584V341.3H587.9V341.3H591.8V341.3H595.7V341.3H599.6V341.3H603.5V341.3H607.4V341.3H611.3V341.3H615.2V341.3H619.1V341.3H623V341.3H626.9V341.3H630.8V341.3H634.7V341.3H638.6V341.3H642.5V341.3H646.4V341.3H650.3V341.3H654.2V341.3H658.1V341.3H662V341.3H665.9V341.3H669.8V341.3H673.7V341.3H677.6V341.3H681.5V341.3H685.4V341.3H689.3V341.3H693.2V341.3H697.1V341.3H701V341.3H704.9V341.3H708.8V341.3H712.7V341.3H716.6V341.3H720.5V341.3H724.4V341.3H728.3V341.3H732.2V341.3H736.1V341.3H740V341.3H743.9V341.3H747.8V341.3H751.7V341.3H755.6V341.3H759.5V341.3H763.4V341.3H767.3V341.3H771.2V341.3H775.1V341.3H779V341.3H782.9V341.3H786.8V341.3H790.7V341.3H794.6V341.3H798.4V341.3H802.3V341.3H806.2V341.3H810.1V341.3H814V341.3H817.9V341.3H821.8V341.3H825.7V341.3H829.6V341.3H833.5V341.3H837.4V341.3H841.3V341.3H845.2V341.3H849.1V341.3H853V341.3H856.9V341.3H860.8V341.3H864.7V341.3H868.6V341.3H872.5V341.3H876.4V341.3H880.3V341.3H884.2V341.3H888.1V341.3H892V341.3H895.9V341.3H899.8V341.3H903.7V341.3H907.6V341.3H911.5V341.3H915.4V341.3H919.3V341.3H923.2V341.3H927.1V341.3H931V341.3H934.9V341.3H938.8V341.3H942.7V341.3H946.6V341.3H950.5V341.3H954.4V341.3H958.3V341.3H962.2V341.3H966.1V341.3H970V341.3H973.9V341.3H977.8V341.3H981.7V341.3H985.6V341.3H989.5V341.3H993.4V341.3H997.3V341.3H1001.2V341.3H1005.1V341.3H1009V341.3H1012.9V341.3H1016.8V341.3H1020.7V341.3H1024.6V341.3H1028.5V341.3H1032.4V341.3H1036.3V341.3H1040.2V341.3H1044.1V341.3H1048V341.3H1051.9V341.3H1055.8V341.3H1059.7V341.3H1063.6V341.3H1067.5V341.3H1071.4V341.3H1075.3V341.3H1079.2V341.3H1083V341.3H1086.9V341.3H1090.8V341.3H1094.7V341.3H1098.6V341.3H1102.5V341.3H1106.4V341.3H1110.3V341.3H1114.2V341.3H1118.1V341.3H1122V341.3H1125.9V341.3H1129.8V341.3H1133.7V341.3H1137.6V341.3H1141.5V341.3H1145.4V341.3H1149.3V341.3H1153.2V341.3H1157.1V341.3H1161V341.3H1164.9V341.3H1168.8V341.3H1172.7V341.3H1176.6V341.3H1180.5V341.3H1184.4V341.3H1188.3V341.3H1192.2V341.3H1196.1V341.3H1200V341.3H1203.9V341.3H1207.8V341.3H1211.7V341.3H1215.6V341.3H1219.5V341.3H1223.4V341.3H1227.3V341.3H1231.2V341.3H1235.1V341.3H1239V341.3H1242.9V341.3H1246.8V605.4H1250.7V341.3H1254.6V341.3H1258.5V341.3H1262.4V393.3H1266.3V341.3H1270.2V341.3H1274.1V341.3H1278V396.9H1281.9V341.3H1285.8V341.3H1289.7V341.3H1293.6V341.3H1297.5V341.3H1301.4V341.3H1305.3V341.3H1309.2V341.3H1313.1V341.3H1317V341.3H1320.9V341.3H1324.8V341.3H1328.7V341.3H1332.6V341.3H1336.5V341.3H1340.4V608H1344.3V341.3H1348.2V341.3H1352.1V341.3H1356V341.3H1359.9V341.3H1363.8V513.5H1367.6V341.3H1371.5V409.2H1375.4V341.3H1379.3V341.3H1383.2V347.9H1387.1V341.3H1391V341.3H1394.9V341.3H1398.8V341.3H1402.7V341.3H1406.6V341.3H1410.5V341.3H1414.4V341.3H1418.3V608H1422.2V341.3H1426.1V341.3H1430V341.3H1433.9V341.3H1437.8V561.8H1441.7V341.3H1445.6V341.3H1449.5V341.3H1453.4V369.9H1457.3V608H1461.2V341.3H1465.1V341.3H1469V341.3H1472.9V341.3H1476.8V341.3H1480.7V608H1484.6V341.3H1488.5V341.3H1492.4V572.6H1496.3V350.9H1500.2V341.3H1504.1V341.3H1508V341.3Z" fill="url(#gsnow)"/>
<path d="M85 341.3V497.9H88.9V341.3H92.8V341.3H96.7V341.3H100.6V341.3H104.5V397H108.4V341.3H112.3V482.3H116.2V341.3H120.1V434.8H124V341.3H127.9V341.3H131.8V341.3H135.7V373.4H139.6V568.5H143.5V341.3H147.4V341.3H151.3V341.3H155.2V341.3H159.1V496.7H163V341.3H166.9V384.1H170.8V341.3H174.7V341.3H178.6V341.3H182.5V435.8H186.4V341.3H190.3V341.3H194.2V341.3H198.1V341.3H202V341.3H205.9V341.3H209.8V341.3H213.7V341.3H217.6V341.3H221.5V341.3H225.4V496.5H229.2V341.3H233.1V341.3H237V528.9H240.9V341.3H244.8V341.3H248.7V341.3H252.6V341.3H256.5V390.2H260.4V341.3H264.3V544H268.2V341.3H272.1V551.1H276V608H279.9V341.3H283.8V341.3H287.7V348.5H291.6V341.3H295.5V341.3H299.4V341.3H303.3V341.3H307.2V422.8H311.1V341.3H315V341.3H318.9V341.3H322.8V341.3H326.7V496.6H330.6V341.3H334.5V341.3H338.4V341.3H342.3V341.3H346.2V341.3H350.1V341.3H354V341.3H357.9V341.3H361.8V397.3H365.7V341.3H369.6V341.3H373.5V341.3H377.4V396.6H381.3V341.3H385.2V341.3H389.1V341.3H393V341.3H396.9V341.3H400.8V341.3H404.7V341.3H408.6V341.3H412.5V341.3H416.4V341.3H420.3V341.3H424.2V341.3H428.1V341.3H432V341.3H435.9V341.3H439.8V341.3H443.7V341.3H447.6V367.2H451.5V341.3H455.4V341.3H459.3V341.3H463.2V341.3H467.1V341.3H471V343H474.9V341.3H478.8V341.3H482.7V341.3H486.6V341.3H490.5V341.3H494.4V341.3H498.3V341.3H502.2V341.3H506.1V341.3H510V341.3H513.8V341.3H517.7V341.3H521.6V341.3H525.5V387.6H529.4V341.3H533.3V400.2H537.2V341.3H541.1V341.3H545V341.3H548.9V341.3H552.8V341.3H556.7V341.3H560.6V341.3H564.5V341.3H568.4V341.3H572.3V341.3H576.2V341.3H580.1V341.3H584V341.3H587.9V341.3H591.8V341.3H595.7V341.3H599.6V341.3H603.5V341.3H607.4V341.3H611.3V341.3H615.2V341.3H619.1V341.3H623V341.3H626.9V341.3H630.8V341.3H634.7V341.3H638.6V341.3H642.5V341.3H646.4V341.3H650.3V341.3H654.2V341.3H658.1V341.3H662V341.3H665.9V341.3H669.8V341.3H673.7V341.3H677.6V341.3H681.5V341.3H685.4V341.3H689.3V341.3H693.2V341.3H697.1V341.3H701V341.3H704.9V341.3H708.8V341.3H712.7V341.3H716.6V341.3H720.5V341.3H724.4V341.3H728.3V341.3H732.2V341.3H736.1V341.3H740V341.3H743.9V341.3H747.8V341.3H751.7V341.3H755.6V341.3H759.5V341.3H763.4V341.3H767.3V341.3H771.2V341.3H775.1V341.3H779V341.3H782.9V341.3H786.8V341.3H790.7V341.3H794.6V341.3H798.4V341.3H802.3V341.3H806.2V341.3H810.1V341.3H814V341.3H817.9V341.3H821.8V341.3H825.7V341.3H829.6V341.3H833.5V341.3H837.4V341.3H841.3V341.3H845.2V341.3H849.1V341.3H853V341.3H856.9V341.3H860.8V341.3H864.7V341.3H868.6V341.3H872.5V341.3H876.4V341.3H880.3V341.3H884.2V341.3H888.1V341.3H892V341.3H895.9V341.3H899.8V341.3H903.7V341.3H907.6V341.3H911.5V341.3H915.4V341.3H919.3V341.3H923.2V341.3H927.1V341.3H931V341.3H934.9V341.3H938.8V341.3H942.7V341.3H946.6V341.3H950.5V341.3H954.4V341.3H958.3V341.3H962.2V341.3H966.1V341.3H970V341.3H973.9V341.3H977.8V341.3H981.7V341.3H985.6V341.3H989.5V341.3H993.4V341.3H997.3V341.3H1001.2V341.3H1005.1V341.3H1009V341.3H1012.9V341.3H1016.8V341.3H1020.7V341.3H1024.6V341.3H1028.5V341.3H1032.4V341.3H1036.3V341.3H1040.2V341.3H1044.1V341.3H1048V341.3H1051.9V341.3H1055.8V341.3H1059.7V341.3H1063.6V341.3H1067.5V341.3H1071.4V341.3H1075.3V341.3H1079.2V341.3H1083V341.3H1086.9V341.3H1090.8V341.3H1094.7V341.3H1098.6V341.3H1102.5V341.3H1106.4V341.3H1110.3V341.3H1114.2V341.3H1118.1V341.3H1122V341.3H1125.9V341.3H1129.8V341.3H1133.7V341.3H1137.6V341.3H1141.5V341.3H1145.4V341.3H1149.3V341.3H1153.2V341.3H1157.1V341.3H1161V341.3H1164.9V341.3H1168.8V341.3H1172.7V341.3H1176.6V341.3H1180.5V341.3H1184.4V341.3H1188.3V341.3H1192.2V341.3H1196.1V341.3H1200V341.3H1203.9V341.3H1207.8V362.6H1211.7V341.3H1215.6V341.3H1219.5V341.3H1223.4V341.3H1227.3V341.3H1231.2V341.3H1235.1V341.3H1239V341.3H1242.9V341.3H1246.8V341.3H1250.7V341.3H1254.6V341.3H1258.5V341.3H1262.4V575.8H1266.3V341.3H1270.2V341.3H1274.1V341.3H1278V341.3H1281.9V359.7H1285.8V341.3H1289.7V341.3H1293.6V341.3H1297.5V341.3H1301.4V341.3H1305.3V341.3H1309.2V341.3H1313.1V341.3H1317V341.3H1320.9V341.3H1324.8V341.3H1328.7V475.7H1332.6V536.4H1336.5V341.3H1340.4V341.3H1344.3V341.3H1348.2V341.3H1352.1V341.3H1356V341.3H1359.9V341.3H1363.8V341.3H1367.6V341.3H1371.5V341.3H1375.4V456.7H1379.3V341.3H1383.2V341.3H1387.1V341.3H1391V608H1394.9V341.3H1398.8V341.3H1402.7V434.8H1406.6V341.3H1410.5V341.3H1414.4V341.3H1418.3V341.3H1422.2V341.3H1426.1V341.3H1430V367.8H1433.9V570.8H1437.8V341.3H1441.7V408H1445.6V432.3H1449.5V341.3H1453.4V341.3H1457.3V341.3H1461.2V341.3H1465.1V341.3H1469V341.3H1472.9V341.3H1476.8V490.7H1480.7V341.6H1484.6V341.3H1488.5V468.9H1492.4V341.3H1496.3V608H1500.2V341.3H1504.1V341.3H1508V341.3Z" fill="url(#gsnow)"/>
<path d="M85 341.3V341.3H88.9V386.8H92.8V341.3H96.7V352.1H100.6V495.5H104.5V341.3H108.4V341.3H112.3V341.3H116.2V341.3H120.1V341.3H124V341.3H127.9V341.3H131.8V579.2H135.7V341.3H139.6V493.8H143.5V341.3H147.4V510.2H151.3V341.3H155.2V341.3H159.1V341.3H163V426H166.9V341.3H170.8V341.3H174.7V341.3H178.6V341.3H182.5V341.3H186.4V341.3H190.3V341.3H194.2V341.3H198.1V341.3H202V341.3H205.9V489.6H209.8V341.3H213.7V395.1H217.6V461.6H221.5V341.3H225.4V341.3H229.2V353.3H233.1V341.3H237V341.3H240.9V547.5H244.8V341.3H248.7V341.3H252.6V341.3H256.5V464.4H260.4V415.2H264.3V341.3H268.2V341.3H272.1V341.3H276V341.3H279.9V341.3H283.8V364.2H287.7V341.3H291.6V341.3H295.5V341.3H299.4V341.3H303.3V341.3H307.2V376.3H311.1V341.3H315V341.3H318.9V491.1H322.8V341.3H326.7V469.6H330.6V341.3H334.5V341.3H338.4V341.3H342.3V341.3H346.2V341.3H350.1V341.3H354V341.3H357.9V341.3H361.8V341.3H365.7V341.3H369.6V355.6H373.5V341.3H377.4V341.3H381.3V341.3H385.2V495.5H389.1V375.9H393V360.8H396.9V341.3H400.8V341.3H404.7V341.3H408.6V341.3H412.5V341.3H416.4V421.9H420.3V458.4H424.2V608H428.1V341.3H432V341.3H435.9V341.3H439.8V608H443.7V341.3H447.6V341.3H451.5V341.3H455.4V341.3H459.3V608H463.2V341.3H467.1V423.6H471V608H474.9V344.6H478.8V341.3H482.7V341.3H486.6V471.3H490.5V568.4H494.4V341.3H498.3V455.5H502.2V341.3H506.1V341.3H510V468.2H513.8V608H517.7V341.3H521.6V341.3H525.5V341.3H529.4V341.3H533.3V468.1H537.2V341.3H541.1V530.6H545V341.3H548.9V539.1H552.8V341.3H556.7V608H560.6V341.3H564.5V341.3H568.4V363.9H572.3V555.4H576.2V341.3H580.1V578.4H584V394.5H587.9V341.3H591.8V341.3H595.7V608H599.6V341.3H603.5V341.3H607.4V341.3H611.3V341.3H615.2V341.3H619.1V408.1H623V341.3H626.9V341.3H630.8V341.3H634.7V341.3H638.6V433H642.5V341.3H646.4V475.4H650.3V393.4H654.2V341.3H658.1V341.3H662V341.3H665.9V341.3H669.8V429H673.7V608H677.6V418H681.5V446.5H685.4V341.3H689.3V342.9H693.2V341.3H697.1V417.1H701V384.1H704.9V357.9H708.8V341.3H712.7V341.3H716.6V608H720.5V489.6H724.4V341.3H728.3V341.3H732.2V341.3H736.1V487.6H740V410.6H743.9V341.3H747.8V341.3H751.7V368.8H755.6V341.3H759.5V341.3H763.4V415.5H767.3V341.3H771.2V420.1H775.1V341.3H779V341.3H782.9V341.3H786.8V341.3H790.7V608H794.6V341.3H798.4V341.3H802.3V341.3H806.2V395.5H810.1V608H814V341.3H817.9V341.3H821.8V341.3H825.7V341.3H829.6V341.3H833.5V608H837.4V468.3H841.3V341.3H845.2V341.3H849.1V341.3H853V341.3H856.9V341.3H860.8V341.3H864.7V363H868.6V394.4H872.5V467.6H876.4V341.3H880.3V341.3H884.2V341.3H888.1V398.9H892V341.3H895.9V490.9H899.8V341.3H903.7V608H907.6V341.3H911.5V341.3H915.4V341.3H919.3V341.3H923.2V341.3H927.1V341.3H931V341.3H934.9V542.1H938.8V341.3H942.7V341.3H946.6V341.3H950.5V341.3H954.4V341.3H958.3V341.3H962.2V341.3H966.1V341.3H970V341.3H973.9V341.3H977.8V538.5H981.7V559.5H985.6V341.3H989.5V341.3H993.4V341.3H997.3V341.3H1001.2V341.3H1005.1V341.3H1009V608H1012.9V341.3H1016.8V341.3H1020.7V341.3H1024.6V421.7H1028.5V364.4H1032.4V436.1H1036.3V471.2H1040.2V341.3H1044.1V341.3H1048V533.1H1051.9V341.3H1055.8V341.3H1059.7V569.3H1063.6V341.3H1067.5V380.4H1071.4V341.3H1075.3V341.3H1079.2V341.3H1083V412.6H1086.9V358.4H1090.8V341.3H1094.7V341.3H1098.6V530.5H1102.5V346.8H1106.4V342.8H1110.3V341.3H1114.2V485.6H1118.1V341.3H1122V414.4H1125.9V341.3H1129.8V341.3H1133.7V517H1137.6V373.8H1141.5V341.3H1145.4V341.3H1149.3V341.3H1153.2V341.3H1157.1V419.8H1161V341.3H1164.9V487.4H1168.8V374.9H1172.7V433.5H1176.6V341.3H1180.5V341.3H1184.4V341.3H1188.3V341.3H1192.2V341.3H1196.1V608H1200V508.1H1203.9V341.3H1207.8V341.3H1211.7V341.3H1215.6V341.3H1219.5V475.4H1223.4V608H1227.3V341.3H1231.2V341.3H1235.1V341.3H1239V452.5H1242.9V341.3H1246.8V350.1H1250.7V341.3H1254.6V410.8H1258.5V341.3H1262.4V384H1266.3V341.3H1270.2V356H1274.1V341.3H1278V379.8H1281.9V341.3H1285.8V543.7H1289.7V608H1293.6V341.3H1297.5V608H1301.4V373.2H1305.3V341.3H1309.2V341.3H1313.1V608H1317V341.3H1320.9V341.3H1324.8V608H1328.7V544.2H1332.6V377H1336.5V341.3H1340.4V341.3H1344.3V341.3H1348.2V444.2H1352.1V442.1H1356V341.3H1359.9V341.3H1363.8V341.3H1367.6V433.7H1371.5V466.5H1375.4V341.3H1379.3V421.7H1383.2V341.3H1387.1V382.6H1391V341.3H1394.9V341.3H1398.8V470.2H1402.7V342.8H1406.6V360.6H1410.5V341.3H1414.4V341.3H1418.3V405.2H1422.2V341.3H1426.1V341.3H1430V341.3H1433.9V392.3H1437.8V341.3H1441.7V341.3H1445.6V392.9H1449.5V341.3H1453.4V341.3H1457.3V341.3H1461.2V341.3H1465.1V341.3H1469V341.3H1472.9V341.3H1476.8V341.3H1480.7V341.3H1484.6V459.2H1488.5V382.9H1492.4V414.8H1496.3V341.3H1500.2V365.1H1504.1V341.3H1508V341.3Z" fill="url(#grain)"/>
<path d="M85 341.3V341.3H88.9V530.8H92.8V370.6H96.7V408.5H100.6V348.4H104.5V399.2H108.4V410.8H112.3V341.3H116.2V341.3H120.1V341.3H124V608H127.9V341.3H131.8V434H135.7V373.3H139.6V341.3H143.5V341.3H147.4V341.3H151.3V341.3H155.2V341.3H159.1V341.3H163V341.3H166.9V341.3H170.8V371.4H174.7V480.4H178.6V341.3H182.5V341.3H186.4V341.3H190.3V341.3H194.2V341.3H198.1V341.3H202V372.3H205.9V341.3H209.8V341.3H213.7V341.3H217.6V341.3H221.5V401.6H225.4V341.3H229.2V341.3H233.1V341.3H237V341.3H240.9V341.3H244.8V341.3H248.7V341.3H252.6V341.3H256.5V341.3H260.4V341.3H264.3V376H268.2V341.3H272.1V341.3H276V341.3H279.9V367H283.8V341.3H287.7V341.3H291.6V341.3H295.5V346.3H299.4V422.4H303.3V341.3H307.2V341.3H311.1V341.3H315V341.3H318.9V341.3H322.8V362.3H326.7V341.3H330.6V341.3H334.5V351.9H338.4V395.6H342.3V341.3H346.2V444.8H350.1V341.3H354V341.3H357.9V341.3H361.8V394.4H365.7V399.8H369.6V430H373.5V341.3H377.4V341.3H381.3V412.8H385.2V341.3H389.1V341.3H393V343.9H396.9V341.3H400.8V341.3H404.7V341.3H408.6V341.3H412.5V365.8H416.4V341.3H420.3V608H424.2V341.3H428.1V341.3H432V341.3H435.9V341.3H439.8V341.3H443.7V394.6H447.6V341.3H451.5V341.3H455.4V341.3H459.3V341.3H463.2V341.3H467.1V341.3H471V608H474.9V341.3H478.8V341.3H482.7V401.7H486.6V485.5H490.5V341.3H494.4V341.3H498.3V341.3H502.2V341.3H506.1V341.3H510V341.3H513.8V480.9H517.7V386.1H521.6V442.4H525.5V341.3H529.4V487.2H533.3V341.3H537.2V367.2H541.1V341.3H545V364.4H548.9V341.3H552.8V564.2H556.7V341.3H560.6V445.6H564.5V363.4H568.4V469.7H572.3V369H576.2V341.3H580.1V373H584V387.8H587.9V398.7H591.8V341.3H595.7V341.7H599.6V392.4H603.5V341.3H607.4V341.3H611.3V608H615.2V341.3H619.1V341.3H623V341.3H626.9V341.3H630.8V341.3H634.7V364.7H638.6V402.9H642.5V341.3H646.4V380.1H650.3V378.6H654.2V341.3H658.1V381.6H662V341.3H665.9V608H669.8V524.7H673.7V341.3H677.6V608H681.5V357.2H685.4V608H689.3V545.7H693.2V390.3H697.1V374.1H701V341.3H704.9V599.3H708.8V483.2H712.7V341.3H716.6V551.3H720.5V341.3H724.4V411.2H728.3V428.3H732.2V341.3H736.1V341.3H740V341.3H743.9V348.4H747.8V448.8H751.7V553.7H755.6V608H759.5V485.6H763.4V341.3H767.3V341.3H771.2V541.9H775.1V341.3H779V341.3H782.9V341.3H786.8V341.3H790.7V341.3H794.6V575.6H798.4V440.7H802.3V366.9H806.2V608H810.1V537H814V446.4H817.9V341.3H821.8V341.3H825.7V341.3H829.6V388.2H833.5V341.3H837.4V341.3H841.3V341.3H845.2V341.3H849.1V341.3H853V341.3H856.9V608H860.8V608H864.7V445H868.6V341.3H872.5V341.3H876.4V341.3H880.3V341.3H884.2V341.3H888.1V341.3H892V341.3H895.9V341.3H899.8V608H903.7V341.3H907.6V341.3H911.5V411H915.4V367.2H919.3V341.3H923.2V341.3H927.1V341.3H931V341.3H934.9V577.2H938.8V341.3H942.7V608H946.6V341.3H950.5V347.7H954.4V341.3H958.3V341.3H962.2V347.3H966.1V341.3H970V341.3H973.9V341.3H977.8V421H981.7V341.3H985.6V597.9H989.5V341.3H993.4V341.3H997.3V341.3H1001.2V341.3H1005.1V341.3H1009V341.3H1012.9V570.1H1016.8V341.3H1020.7V416.3H1024.6V341.3H1028.5V341.3H1032.4V341.3H1036.3V341.3H1040.2V341.3H1044.1V341.3H1048V341.3H1051.9V360.8H1055.8V400.5H1059.7V429.3H1063.6V491.4H1067.5V341.3H1071.4V341.3H1075.3V464.3H1079.2V341.3H1083V341.3H1086.9V504.6H1090.8V341.3H1094.7V375.5H1098.6V414.8H1102.5V341.3H1106.4V341.3H1110.3V341.3H1114.2V513.4H1118.1V341.3H1122V462.4H1125.9V341.3H1129.8V341.3H1133.7V590.1H1137.6V341.3H1141.5V341.3H1145.4V376.7H1149.3V341.3H1153.2V462.4H1157.1V341.3H1161V341.3H1164.9V341.3H1168.8V341.3H1172.7V341.3H1176.6V608H1180.5V341.3H1184.4V608H1188.3V341.3H1192.2V385H1196.1V344.2H1200V608H1203.9V341.3H1207.8V417.7H1211.7V341.3H1215.6V377.3H1219.5V341.3H1223.4V341.3H1227.3V341.3H1231.2V449.5H1235.1V370.7H1239V341.3H1242.9V342.1H1246.8V341.3H1250.7V341.3H1254.6V383H1258.5V341.3H1262.4V341.3H1266.3V479.1H1270.2V341.3H1274.1V406.1H1278V341.3H1281.9V341.3H1285.8V608H1289.7V353.6H1293.6V350H1297.5V345H1301.4V406.6H1305.3V341.3H1309.2V341.3H1313.1V341.3H1317V341.3H1320.9V365.3H1324.8V341.3H1328.7V341.3H1332.6V531.6H1336.5V584.5H1340.4V417.6H1344.3V596.3H1348.2V341.3H1352.1V461.4H1356V418.1H1359.9V341.3H1363.8V341.3H1367.6V341.3H1371.5V413.1H1375.4V341.3H1379.3V608H1383.2V341.3H1387.1V341.3H1391V400.4H1394.9V608H1398.8V529.5H1402.7V341.3H1406.6V608H1410.5V341.3H1414.4V341.3H1418.3V341.3H1422.2V341.3H1426.1V392.3H1430V341.3H1433.9V341.3H1437.8V341.3H1441.7V341.3H1445.6V392.2H1449.5V341.3H1453.4V349.2H1457.3V341.3H1461.2V421.7H1465.1V341.3H1469V341.3H1472.9V341.3H1476.8V341.3H1480.7V341.3H1484.6V341.3H1488.5V341.3H1492.4V341.3H1496.3V350.8H1500.2V404.9H1504.1V341.3H1508V341.3Z" fill="url(#grain)"/>
<path d="M85 341.3V345.3H88.9V341.3H92.8V410.7H96.7V341.3H100.6V341.3H104.5V341.3H108.4V341.3H112.3V341.3H116.2V341.3H120.1V341.3H124V341.3H127.9V473H131.8V341.3H135.7V341.3H139.6V359H143.5V361.5H147.4V404.1H151.3V341.3H155.2V392.3H159.1V341.3H163V341.3H166.9V341.3H170.8V341.3H174.7V370.9H178.6V341.3H182.5V341.3H186.4V341.3H190.3V341.3H194.2V361.4H198.1V390.2H202V341.3H205.9V341.3H209.8V483.3H213.7V527.1H217.6V341.3H221.5V341.3H225.4V341.3H229.2V341.3H233.1V341.3H237V341.3H240.9V341.3H244.8V489.5H248.7V341.3H252.6V341.3H256.5V341.3H260.4V341.3H264.3V341.3H268.2V386.4H272.1V341.3H276V341.3H279.9V424.4H283.8V341.3H287.7V401.9H291.6V341.3H295.5V448.7H299.4V341.3H303.3V341.3H307.2V343.7H311.1V341.3H315V341.3H318.9V341.3H322.8V446.2H326.7V353.3H330.6V361H334.5V341.3H338.4V341.3H342.3V341.3H346.2V341.3H350.1V442.8H354V341.3H357.9V348H361.8V341.3H365.7V341.3H369.6V341.3H373.5V608H377.4V341.3H381.3V341.3H385.2V341.3H389.1V341.3H393V341.3H396.9V341.3H400.8V341.3H404.7V341.3H408.6V608H412.5V341.3H416.4V341.3H420.3V341.3H424.2V515.7H428.1V362.9H432V381.1H435.9V549.3H439.8V341.3H443.7V539H447.6V518.2H451.5V608H455.4V341.3H459.3V341.3H463.2V567.1H467.1V550H471V341.3H474.9V341.3H478.8V344.3H482.7V341.3H486.6V341.3H490.5V368.2H494.4V341.3H498.3V341.3H502.2V372.6H506.1V344.2H510V341.3H513.8V479.6H517.7V354.6H521.6V498.4H525.5V442.7H529.4V608H533.3V341.3H537.2V341.3H541.1V608H545V488.9H548.9V341.3H552.8V341.3H556.7V607.1H560.6V341.3H564.5V341.3H568.4V341.3H572.3V389.3H576.2V377H580.1V341.3H584V382.3H587.9V367H591.8V341.3H595.7V347.7H599.6V341.3H603.5V388.3H607.4V468H611.3V417.4H615.2V341.3H619.1V420.1H623V346.6H626.9V341.3H630.8V369.1H634.7V341.3H638.6V419.8H642.5V341.3H646.4V341.3H650.3V341.3H654.2V608H658.1V407.3H662V341.3H665.9V464.8H669.8V341.3H673.7V341.3H677.6V341.3H681.5V401.3H685.4V341.3H689.3V375.7H693.2V585.1H697.1V341.3H701V369H704.9V378.9H708.8V341.3H712.7V441.9H716.6V341.3H720.5V341.3H724.4V341.3H728.3V341.3H732.2V573.9H736.1V396.7H740V341.3H743.9V562.8H747.8V341.3H751.7V341.3H755.6V367.7H759.5V374.6H763.4V341.3H767.3V449H771.2V341.3H775.1V341.3H779V341.3H782.9V507.1H786.8V341.3H790.7V341.3H794.6V437.4H798.4V341.3H802.3V384.3H806.2V341.3H810.1V341.3H814V341.3H817.9V341.3H821.8V341.3H825.7V341.3H829.6V471.9H833.5V436.1H837.4V341.3H841.3V341.3H845.2V341.3H849.1V341.3H853V341.3H856.9V341.3H860.8V413.4H864.7V341.3H868.6V341.3H872.5V449.8H876.4V344.3H880.3V372.9H884.2V404.1H888.1V341.3H892V341.3H895.9V341.3H899.8V413.5H903.7V594.7H907.6V341.3H911.5V341.3H915.4V341.3H919.3V341.3H923.2V341.3H927.1V341.3H931V341.3H934.9V341.3H938.8V460.6H942.7V376.6H946.6V341.3H950.5V341.3H954.4V341.3H958.3V429.9H962.2V366.9H966.1V341.3H970V344.5H973.9V341.3H977.8V341.3H981.7V341.3H985.6V341.3H989.5V341.3H993.4V341.3H997.3V489.8H1001.2V341.3H1005.1V341.3H1009V386.5H1012.9V378.5H1016.8V341.3H1020.7V341.3H1024.6V341.3H1028.5V341.3H1032.4V341.3H1036.3V341.3H1040.2V341.3H1044.1V341.3H1048V341.3H1051.9V341.3H1055.8V426.2H1059.7V341.3H1063.6V433.6H1067.5V341.3H1071.4V341.3H1075.3V341.3H1079.2V341.3H1083V341.3H1086.9V341.3H1090.8V341.3H1094.7V473.3H1098.6V341.3H1102.5V341.3H1106.4V341.3H1110.3V341.3H1114.2V341.3H1118.1V341.3H1122V516.8H1125.9V341.3H1129.8V341.3H1133.7V341.3H1137.6V341.3H1141.5V341.3H1145.4V424H1149.3V341.3H1153.2V341.3H1157.1V341.3H1161V341.3H1164.9V390.9H1168.8V341.3H1172.7V341.3H1176.6V361.6H1180.5V362.4H1184.4V341.3H1188.3V341.3H1192.2V410.7H1196.1V341.3H1200V341.3H1203.9V346.1H1207.8V341.3H1211.7V341.3H1215.6V341.3H1219.5V341.3H1223.4V403.7H1227.3V341.3H1231.2V341.3H1235.1V341.3H1239V341.3H1242.9V341.3H1246.8V341.3H1250.7V608H1254.6V341.3H1258.5V341.3H1262.4V575.1H1266.3V375.3H1270.2V341.3H1274.1V341.3H1278V490H1281.9V341.3H1285.8V341.3H1289.7V341.3H1293.6V341.3H1297.5V341.3H1301.4V375.8H1305.3V400.5H1309.2V341.3H1313.1V467H1317V365.7H1320.9V413.2H1324.8V341.3H1328.7V491.4H1332.6V396.4H1336.5V361.3H1340.4V341.3H1344.3V384.9H1348.2V532.9H1352.1V488.3H1356V341.3H1359.9V341.3H1363.8V341.3H1367.6V341.3H1371.5V341.3H1375.4V608H1379.3V354.6H1383.2V402.6H1387.1V341.3H1391V341.3H1394.9V341.3H1398.8V341.3H1402.7V432.5H1406.6V431.4H1410.5V341.3H1414.4V421.2H1418.3V355.4H1422.2V417.8H1426.1V536.9H1430V501.1H1433.9V389.6H1437.8V341.3H1441.7V408.5H1445.6V488.4H1449.5V341.3H1453.4V513.5H1457.3V359.2H1461.2V399H1465.1V341.3H1469V403.5H1472.9V341.3H1476.8V341.3H1480.7V385.3H1484.6V608H1488.5V341.3H1492.4V341.3H1496.3V341.3H1500.2V341.3H1504.1V341.3H1508V341.3Z" fill="url(#grain)"/>
<path d="M85 341.3V341.3H88.9V341.3H92.8V349.7H96.7V608H100.6V384.9H104.5V341.3H108.4V341.3H112.3V341.3H116.2V341.3H120.1V341.3H124V608H127.9V341.3H131.8V341.3H135.7V341.3H139.6V341.3H143.5V496H147.4V341.3H151.3V341.3H155.2V341.3H159.1V341.3H163V341.3H166.9V341.3H170.8V517H174.7V341.3H178.6V341.3H182.5V344.7H186.4V397.4H190.3V403.9H194.2V350.2H198.1V341.3H202V341.3H205.9V341.3H209.8V404.9H213.7V341.3H217.6V556.3H221.5V341.3H225.4V341.3H229.2V341.3H233.1V341.3H237V354.3H240.9V529.3H244.8V341.3H248.7V341.3H252.6V341.3H256.5V341.3H260.4V341.3H264.3V582.8H268.2V341.3H272.1V341.3H276V341.3H279.9V341.3H283.8V341.3H287.7V418.2H291.6V341.3H295.5V489.8H299.4V419.1H303.3V475H307.2V438.2H311.1V341.3H315V341.3H318.9V341.3H322.8V341.3H326.7V341.3H330.6V341.3H334.5V348.3H338.4V341.3H342.3V341.3H346.2V341.3H350.1V341.3H354V341.3H357.9V341.3H361.8V341.3H365.7V449.9H369.6V414.8H373.5V341.3H377.4V341.3H381.3V341.3H385.2V341.3H389.1V341.3H393V341.3H396.9V341.3H400.8V341.3H404.7V400.5H408.6V608H412.5V341.3H416.4V341.3H420.3V341.3H424.2V341.3H428.1V341.3H432V412H435.9V341.3H439.8V341.3H443.7V341.3H447.6V341.3H451.5V583.8H455.4V341.3H459.3V580.7H463.2V341.3H467.1V443.9H471V341.3H474.9V341.3H478.8V341.3H482.7V608H486.6V344.6H490.5V341.3H494.4V446.8H498.3V392.6H502.2V430.1H506.1V464H510V341.3H513.8V608H517.7V341.3H521.6V608H525.5V445.3H529.4V341.3H533.3V341.3H537.2V341.3H541.1V341.3H545V341.3H548.9V341.3H552.8V341.3H556.7V396.1H560.6V341.3H564.5V341.3H568.4V341.3H572.3V385H576.2V529.5H580.1V341.3H584V341.3H587.9V341.3H591.8V341.3H595.7V341.3H599.6V517.4H603.5V341.3H607.4V341.3H611.3V608H615.2V460.2H619.1V426.7H623V341.3H626.9V341.3H630.8V341.3H634.7V341.3H638.6V608H642.5V341.3H646.4V559.7H650.3V341.3H654.2V341.3H658.1V608H662V426.6H665.9V369.9H669.8V341.3H673.7V608H677.6V512.9H681.5V487.9H685.4V465.2H689.3V387.1H693.2V341.3H697.1V383.6H701V478.7H704.9V608H708.8V341.3H712.7V608H716.6V489.9H720.5V341.3H724.4V341.3H728.3V341.3H732.2V565.1H736.1V341.3H740V403.5H743.9V505.4H747.8V541.7H751.7V341.3H755.6V416.5H759.5V398.7H763.4V341.3H767.3V382H771.2V341.3H775.1V346.6H779V341.3H782.9V341.3H786.8V348.8H790.7V341.3H794.6V341.3H798.4V347.5H802.3V413.3H806.2V341.3H810.1V341.3H814V341.3H817.9V341.3H821.8V341.3H825.7V341.3H829.6V341.3H833.5V366.9H837.4V341.3H841.3V341.3H845.2V341.3H849.1V341.3H853V422.9H856.9V341.3H860.8V341.3H864.7V341.3H868.6V341.3H872.5V419.3H876.4V341.3H880.3V365.8H884.2V341.3H888.1V341.3H892V341.3H895.9V341.3H899.8V341.3H903.7V341.3H907.6V341.3H911.5V341.3H915.4V341.3H919.3V341.3H923.2V341.3H927.1V493.5H931V378.6H934.9V553.1H938.8V341.3H942.7V341.3H946.6V369.9H950.5V341.3H954.4V391.4H958.3V357.1H962.2V486.3H966.1V341.3H970V508.2H973.9V341.3H977.8V341.3H981.7V342.2H985.6V345.8H989.5V341.3H993.4V341.3H997.3V492.9H1001.2V503.5H1005.1V341.3H1009V341.3H1012.9V494.6H1016.8V608H1020.7V341.3H1024.6V372H1028.5V341.3H1032.4V341.3H1036.3V341.3H1040.2V341.3H1044.1V415.7H1048V341.3H1051.9V341.3H1055.8V445.2H1059.7V341.3H1063.6V341.3H1067.5V341.3H1071.4V341.3H1075.3V453.1H1079.2V341.3H1083V416.5H1086.9V341.3H1090.8V341.3H1094.7V396.9H1098.6V476.1H1102.5V354.5H1106.4V436H1110.3V351.1H1114.2V341.3H1118.1V532.5H1122V341.3H1125.9V341.3H1129.8V341.3H1133.7V390.8H1137.6V341.3H1141.5V341.3H1145.4V341.3H1149.3V341.3H1153.2V341.3H1157.1V341.3H1161V562.9H1164.9V341.3H1168.8V341.3H1172.7V341.3H1176.6V341.3H1180.5V374.4H1184.4V341.3H1188.3V341.3H1192.2V341.3H1196.1V456.2H1200V341.3H1203.9V448.4H1207.8V341.3H1211.7V341.3H1215.6V341.3H1219.5V341.3H1223.4V341.3H1227.3V341.3H1231.2V492.4H1235.1V580.7H1239V395.2H1242.9V341.3H1246.8V477.9H1250.7V341.3H1254.6V371.8H1258.5V375.5H1262.4V341.3H1266.3V460.1H1270.2V341.3H1274.1V473.2H1278V487.7H1281.9V356.6H1285.8V380.4H1289.7V341.3H1293.6V341.3H1297.5V546.7H1301.4V594.3H1305.3V341.3H1309.2V575.4H1313.1V341.3H1317V401.8H1320.9V341.3H1324.8V608H1328.7V341.3H1332.6V341.3H1336.5V341.3H1340.4V414H1344.3V403.9H1348.2V566.4H1352.1V353.9H1356V473.2H1359.9V608H1363.8V341.3H1367.6V403.9H1371.5V341.3H1375.4V436H1379.3V341.3H1383.2V341.3H1387.1V341.3H1391V435.3H1394.9V420.2H1398.8V355.5H1402.7V341.3H1406.6V341.3H1410.5V341.3H1414.4V454.3H1418.3V341.3H1422.2V341.3H1426.1V493.2H1430V477.9H1433.9V341.3H1437.8V386.3H1441.7V486.5H1445.6V341.3H1449.5V341.3H1453.4V341.3H1457.3V341.4H1461.2V488.9H1465.1V341.3H1469V353H1472.9V341.3H1476.8V341.3H1480.7V388.8H1484.6V341.3H1488.5V341.3H1492.4V341.3H1496.3V341.3H1500.2V367.9H1504.1V341.3H1508V341.3Z" fill="url(#grain)"/>
<path d="M85 341.3V354.8H88.9V341.3H92.8V341.3H96.7V341.3H100.6V410.4H104.5V341.3H108.4V341.3H112.3V439.1H116.2V341.3H120.1V468.3H124V341.3H127.9V341.3H131.8V368.4H135.7V341.3H139.6V341.3H143.5V341.3H147.4V341.3H151.3V341.3H155.2V341.3H159.1V366.6H163V341.3H166.9V481.2H170.8V341.3H174.7V341.3H178.6V341.3H182.5V341.3H186.4V341.3H190.3V341.3H194.2V341.3H198.1V341.3H202V341.3H205.9V341.3H209.8V341.3H213.7V341.3H217.6V341.3H221.5V341.3H225.4V515H229.2V449H233.1V341.3H237V341.3H240.9V351.4H244.8V341.3H248.7V364.5H252.6V341.3H256.5V341.3H260.4V359.3H264.3V374.2H268.2V341.3H272.1V422.7H276V341.3H279.9V341.3H283.8V341.3H287.7V405.3H291.6V341.3H295.5V341.3H299.4V341.3H303.3V341.3H307.2V341.3H311.1V341.3H315V341.3H318.9V341.3H322.8V341.3H326.7V341.3H330.6V349H334.5V341.3H338.4V341.3H342.3V341.3H346.2V370.1H350.1V341.3H354V377.7H357.9V341.3H361.8V594.9H365.7V341.3H369.6V341.3H373.5V341.3H377.4V341.3H381.3V341.3H385.2V522.5H389.1V341.3H393V363.2H396.9V341.3H400.8V341.3H404.7V341.3H408.6V341.3H412.5V437.5H416.4V341.3H420.3V341.3H424.2V341.3H428.1V341.3H432V341.3H435.9V441.5H439.8V341.3H443.7V343.5H447.6V341.3H451.5V341.3H455.4V608H459.3V487.9H463.2V341.3H467.1V608H471V341.3H474.9V341.3H478.8V375.5H482.7V341.3H486.6V341.3H490.5V341.3H494.4V341.3H498.3V341.3H502.2V341.3H506.1V416.3H510V532.8H513.8V558.7H517.7V351.3H521.6V455.1H525.5V341.3H529.4V341.3H533.3V584.8H537.2V346.9H541.1V341.3H545V341.3H548.9V445.8H552.8V341.3H556.7V341.3H560.6V400.7H564.5V341.3H568.4V341.3H572.3V404.9H576.2V341.3H580.1V432H584V381.4H587.9V341.3H591.8V341.3H595.7V341.3H599.6V467.6H603.5V341.3H607.4V341.3H611.3V350.1H615.2V345.8H619.1V341.3H623V344.8H626.9V440.7H630.8V341.3H634.7V406.9H638.6V341.3H642.5V341.3H646.4V341.3H650.3V341.3H654.2V379.2H658.1V341.3H662V341.3H665.9V514.3H669.8V548.8H673.7V341.3H677.6V341.3H681.5V379.3H685.4V341.3H689.3V433.7H693.2V356.3H697.1V608H701V608H704.9V503.8H708.8V344.9H712.7V341.3H716.6V348.2H720.5V608H724.4V451.3H728.3V398.5H732.2V342.8H736.1V341.3H740V608H743.9V588.7H747.8V341.3H751.7V341.3H755.6V341.3H759.5V521.7H763.4V341.3H767.3V532.6H771.2V460.5H775.1V357.8H779V341.3H782.9V341.3H786.8V341.3H790.7V341.3H794.6V608H798.4V472.1H802.3V341.3H806.2V407.4H810.1V341.3H814V608H817.9V341.3H821.8V433.3H825.7V341.3H829.6V341.3H833.5V450.6H837.4V531.8H841.3V437.4H845.2V472.1H849.1V341.3H853V341.3H856.9V430.3H860.8V341.3H864.7V427.2H868.6V341.3H872.5V487.8H876.4V469.8H880.3V341.3H884.2V341.3H888.1V341.3H892V341.3H895.9V341.3H899.8V341.3H903.7V341.3H907.6V341.3H911.5V341.3H915.4V341.3H919.3V362.5H923.2V341.3H927.1V380.7H931V440.9H934.9V356.6H938.8V388H942.7V341.3H946.6V341.3H950.5V341.3H954.4V341.3H958.3V546.4H962.2V341.3H966.1V341.3H970V341.3H973.9V341.3H977.8V341.3H981.7V342.2H985.6V376.8H989.5V341.3H993.4V341.3H997.3V429.6H1001.2V341.3H1005.1V341.3H1009V341.3H1012.9V341.3H1016.8V369.2H1020.7V374.2H1024.6V397.3H1028.5V454.5H1032.4V341.3H1036.3V341.3H1040.2V341.3H1044.1V505.5H1048V366.1H1051.9V508.7H1055.8V341.3H1059.7V348.8H1063.6V341.3H1067.5V341.3H1071.4V341.3H1075.3V341.3H1079.2V341.3H1083V341.3H1086.9V347.6H1090.8V341.3H1094.7V341.3H1098.6V341.3H1102.5V341.3H1106.4V548.6H1110.3V341.3H1114.2V364.6H1118.1V341.3H1122V341.3H1125.9V341.3H1129.8V341.3H1133.7V341.3H1137.6V341.3H1141.5V523.6H1145.4V341.3H1149.3V357.7H1153.2V342.1H1157.1V341.3H1161V341.3H1164.9V493.6H1168.8V341.3H1172.7V384.1H1176.6V341.3H1180.5V341.3H1184.4V341.3H1188.3V341.3H1192.2V346.5H1196.1V341.3H1200V419.5H1203.9V341.3H1207.8V565.2H1211.7V522.9H1215.6V341.3H1219.5V341.3H1223.4V563.4H1227.3V341.3H1231.2V341.3H1235.1V341.3H1239V519.5H1242.9V341.3H1246.8V341.3H1250.7V411.8H1254.6V490.8H1258.5V508.9H1262.4V346.2H1266.3V341.3H1270.2V452.5H1274.1V341.3H1278V341.3H1281.9V341.3H1285.8V341.3H1289.7V341.3H1293.6V446.1H1297.5V608H1301.4V341.3H1305.3V341.3H1309.2V418.3H1313.1V608H1317V341.3H1320.9V351.8H1324.8V341.3H1328.7V341.3H1332.6V365.9H1336.5V341.3H1340.4V395.8H1344.3V398.5H1348.2V341.3H1352.1V495.4H1356V341.3H1359.9V341.3H1363.8V341.3H1367.6V341.3H1371.5V593H1375.4V341.3H1379.3V341.3H1383.2V353.2H1387.1V341.3H1391V341.3H1394.9V341.3H1398.8V341.3H1402.7V608H1406.6V341.3H1410.5V357.2H1414.4V341.3H1418.3V393.2H1422.2V348.4H1426.1V608H1430V341.3H1433.9V341.3H1437.8V341.3H1441.7V341.3H1445.6V387.7H1449.5V341.3H1453.4V341.3H1457.3V341.3H1461.2V411.8H1465.1V341.3H1469V341.3H1472.9V510H1476.8V426.3H1480.7V355.7H1484.6V341.3H1488.5V341.3H1492.4V341.3H1496.3V341.3H1500.2V373.7H1504.1V512.2H1508V341.3Z" fill="url(#grain)"/>
<path d="M85 341.3V341.3H88.9V422.4H92.8V341.3H96.7V452.3H100.6V341.3H104.5V365.2H108.4V341.3H112.3V341.3H116.2V341.3H120.1V341.3H124V341.3H127.9V483.7H131.8V341.3H135.7V341.3H139.6V341.3H143.5V341.3H147.4V341.3H151.3V369.7H155.2V393.3H159.1V341.3H163V410.4H166.9V341.3H170.8V342.8H174.7V341.3H178.6V414.4H182.5V341.3H186.4V608H190.3V427.3H194.2V341.3H198.1V341.3H202V341.3H205.9V341.3H209.8V341.3H213.7V352.3H217.6V341.3H221.5V398.5H225.4V341.3H229.2V341.3H233.1V582.7H237V341.3H240.9V341.3H244.8V341.3H248.7V569.5H252.6V413.1H256.5V341.3H260.4V577.9H264.3V341.3H268.2V341.3H272.1V341.3H276V409.8H279.9V341.3H283.8V341.3H287.7V537.7H291.6V510.1H295.5V341.3H299.4V341.3H303.3V378.8H307.2V547.5H311.1V341.3H315V556.9H318.9V341.3H322.8V341.3H326.7V341.3H330.6V348.4H334.5V505.2H338.4V341.3H342.3V341.3H346.2V608H350.1V494.4H354V341.3H357.9V402.5H361.8V341.3H365.7V341.3H369.6V341.3H373.5V584.5H377.4V341.3H381.3V341.3H385.2V341.3H389.1V341.3H393V341.3H396.9V394.6H400.8V516.8H404.7V372.5H408.6V341.3H412.5V341.3H416.4V341.3H420.3V341.3H424.2V341.3H428.1V341.3H432V341.3H435.9V341.3H439.8V341.3H443.7V341.3H447.6V419.6H451.5V341.3H455.4V341.3H459.3V341.3H463.2V341.3H467.1V608H471V402.1H474.9V343H478.8V431.3H482.7V341.3H486.6V358.1H490.5V341.3H494.4V484.7H498.3V436.3H502.2V341.3H506.1V498H510V423.4H513.8V341.3H517.7V431.7H521.6V341.3H525.5V341.3H529.4V360.6H533.3V455.9H537.2V341.3H541.1V545.5H545V341.3H548.9V385.6H552.8V467.9H556.7V361.4H560.6V341.3H564.5V552.9H568.4V341.3H572.3V542.8H576.2V430.7H580.1V341.3H584V341.3H587.9V341.3H591.8V341.3H595.7V341.3H599.6V608H603.5V341.3H607.4V434.4H611.3V358.5H615.2V438.3H619.1V390.2H623V608H626.9V341.3H630.8V594.5H634.7V518.5H638.6V383.9H642.5V467.9H646.4V341.3H650.3V341.3H654.2V608H658.1V341.3H662V425.9H665.9V421.1H669.8V608H673.7V341.3H677.6V359.4H681.5V521.2H685.4V484.1H689.3V341.3H693.2V420.9H697.1V341.3H701V417.4H704.9V352.2H708.8V341.3H712.7V462.5H716.6V341.3H720.5V530.8H724.4V341.3H728.3V341.3H732.2V341.3H736.1V345.9H740V341.3H743.9V449.6H747.8V466.7H751.7V341.3H755.6V341.3H759.5V608H763.4V574.6H767.3V608H771.2V341.3H775.1V547.8H779V341.3H782.9V341.3H786.8V371H790.7V439.9H794.6V370.5H798.4V341.3H802.3V357.8H806.2V341.3H810.1V371.8H814V534.4H817.9V463.1H821.8V384.9H825.7V341.3H829.6V395H833.5V476.4H837.4V608H841.3V341.3H845.2V341.3H849.1V341.3H853V341.3H856.9V341.3H860.8V608H864.7V416.5H868.6V341.3H872.5V341.3H876.4V398.6H880.3V341.3H884.2V341.3H888.1V341.3H892V341.3H895.9V341.3H899.8V341.3H903.7V341.3H907.6V341.3H911.5V341.3H915.4V341.3H919.3V341.3H923.2V341.3H927.1V341.3H931V508.7H934.9V423.3H938.8V341.3H942.7V341.3H946.6V341.3H950.5V341.3H954.4V341.3H958.3V341.3H962.2V419.9H966.1V341.3H970V341.3H973.9V341.3H977.8V587.7H981.7V341.3H985.6V389.5H989.5V341.3H993.4V341.3H997.3V341.3H1001.2V388.9H1005.1V514.8H1009V369.8H1012.9V341.3H1016.8V341.3H1020.7V341.3H1024.6V342.3H1028.5V341.3H1032.4V341.3H1036.3V341.3H1040.2V341.3H1044.1V341.3H1048V341.3H1051.9V341.3H1055.8V439.9H1059.7V341.3H1063.6V341.3H1067.5V341.3H1071.4V341.3H1075.3V341.3H1079.2V341.3H1083V445.3H1086.9V341.3H1090.8V341.3H1094.7V513.3H1098.6V507.3H1102.5V341.3H1106.4V343H1110.3V421.5H1114.2V428.1H1118.1V341.3H1122V341.3H1125.9V341.3H1129.8V341.3H1133.7V350.5H1137.6V341.3H1141.5V341.3H1145.4V341.3H1149.3V341.3H1153.2V341.3H1157.1V396H1161V341.3H1164.9V341.3H1168.8V441.8H1172.7V341.3H1176.6V341.3H1180.5V408.9H1184.4V341.3H1188.3V490.7H1192.2V341.3H1196.1V387.1H1200V341.3H1203.9V457.4H1207.8V341.3H1211.7V375.4H1215.6V353H1219.5V363.4H1223.4V341.3H1227.3V394.8H1231.2V341.3H1235.1V374H1239V377.4H1242.9V391.4H1246.8V341.3H1250.7V353.3H1254.6V341.3H1258.5V421.8H1262.4V341.3H1266.3V399H1270.2V341.3H1274.1V370.6H1278V341.3H1281.9V417H1285.8V341.3H1289.7V385.1H1293.6V341.3H1297.5V438H1301.4V475.9H1305.3V608H1309.2V341.3H1313.1V354.1H1317V539.6H1320.9V371.2H1324.8V399H1328.7V341.3H1332.6V341.3H1336.5V553.4H1340.4V341.3H1344.3V366.4H1348.2V377.9H1352.1V454.8H1356V505.3H1359.9V341.3H1363.8V341.3H1367.6V341.3H1371.5V474H1375.4V416.2H1379.3V341.3H1383.2V341.3H1387.1V341.3H1391V341.3H1394.9V422.9H1398.8V341.3H1402.7V341.3H1406.6V608H1410.5V529.8H1414.4V341.3H1418.3V452.5H1422.2V341.3H1426.1V341.3H1430V341.3H1433.9V608H1437.8V343.4H1441.7V341.3H1445.6V383.6H1449.5V341.3H1453.4V341.3H1457.3V355.2H1461.2V341.3H1465.1V341.3H1469V341.3H1472.9V341.3H1476.8V341.3H1480.7V341.3H1484.6V596.7H1488.5V451.5H1492.4V394.6H1496.3V341.3H1500.2V341.3H1504.1V390.2H1508V341.3Z" fill="url(#grain)"/>
<path d="M85 341.3V341.3H88.9V341.3H92.8V341.3H96.7V341.3H100.6V567.1H104.5V341.3H108.4V393.5H112.3V341.3H116.2V341.3H120.1V341.3H124V341.3H127.9V341.3H131.8V341.3H135.7V454.7H139.6V341.3H143.5V341.3H147.4V341.3H151.3V341.3H155.2V341.3H159.1V341.3H163V341.3H166.9V341.3H170.8V341.3H174.7V450.3H178.6V341.3H182.5V341.3H186.4V354H190.3V412.9H194.2V341.3H198.1V341.3H202V341.3H205.9V341.3H209.8V341.3H213.7V341.3H217.6V341.3H221.5V527.2H225.4V341.3H229.2V341.3H233.1V341.3H237V341.3H240.9V341.3H244.8V341.3H248.7V421.9H252.6V341.3H256.5V474.3H260.4V354.6H264.3V432.5H268.2V341.3H272.1V341.3H276V390H279.9V341.3H283.8V426.9H287.7V341.3H291.6V341.3H295.5V341.3H299.4V341.3H303.3V349.9H307.2V388H311.1V341.3H315V341.3H318.9V372.3H322.8V341.3H326.7V341.3H330.6V341.3H334.5V341.3H338.4V341.3H342.3V341.3H346.2V369H350.1V372H354V399.4H357.9V341.3H361.8V341.3H365.7V341.3H369.6V341.3H373.5V367.8H377.4V341.3H381.3V341.3H385.2V344.6H389.1V341.3H393V341.3H396.9V341.3H400.8V341.3H404.7V415.3H408.6V386.8H412.5V608H416.4V341.3H420.3V341.3H424.2V341.3H428.1V341.3H432V341.3H435.9V491.1H439.8V341.3H443.7V412.3H447.6V341.3H451.5V341.3H455.4V460.8H459.3V341.3H463.2V341.3H467.1V506.9H471V341.3H474.9V441.8H478.8V398H482.7V341.3H486.6V375.9H490.5V341.3H494.4V341.3H498.3V341.3H502.2V341.3H506.1V341.3H510V341.3H513.8V385.6H517.7V341.3H521.6V361.8H525.5V341.3H529.4V608H533.3V341.3H537.2V452.8H541.1V341.3H545V608H548.9V341.3H552.8V341.3H556.7V355.2H560.6V341.3H564.5V341.3H568.4V341.3H572.3V341.3H576.2V341.3H580.1V341.3H584V341.3H587.9V341.3H591.8V350.2H595.7V341.3H599.6V341.3H603.5V465.8H607.4V341.3H611.3V437H615.2V341.3H619.1V341.3H623V341.3H626.9V341.3H630.8V341.3H634.7V341.3H638.6V341.3H642.5V341.3H646.4V608H650.3V464.6H654.2V341.3H658.1V417.7H662V390.7H665.9V341.3H669.8V457.2H673.7V370.5H677.6V341.3H681.5V341.3H685.4V362.7H689.3V341.3H693.2V341.3H697.1V341.3H701V458.9H704.9V410.9H708.8V364.3H712.7V341.3H716.6V429.7H720.5V608H724.4V341.3H728.3V341.3H732.2V436.1H736.1V341.3H740V341.3H743.9V341.3H747.8V460.2H751.7V554.4H755.6V341.3H759.5V341.3H763.4V425.4H767.3V341.3H771.2V341.3H775.1V341.3H779V341.3H782.9V566H786.8V341.3H790.7V405.3H794.6V341.3H798.4V574.2H802.3V602.6H806.2V341.3H810.1V346.2H814V341.3H817.9V341.3H821.8V415.9H825.7V341.3H829.6V341.3H833.5V341.3H837.4V341.3H841.3V341.3H845.2V608H849.1V341.3H853V341.3H856.9V343.5H860.8V341.3H864.7V348.1H868.6V457H872.5V341.3H876.4V511.5H880.3V602.7H884.2V456.9H888.1V341.3H892V341.3H895.9V349.6H899.8V341.3H903.7V341.3H907.6V460.5H911.5V484.6H915.4V341.3H919.3V341.3H923.2V415.8H927.1V434.5H931V368.9H934.9V505.5H938.8V341.3H942.7V341.3H946.6V363.2H950.5V341.3H954.4V470.7H958.3V341.3H962.2V450.7H966.1V341.3H970V341.3H973.9V382.2H977.8V341.3H981.7V341.3H985.6V403.4H989.5V341.3H993.4V344.9H997.3V412.3H1001.2V341.3H1005.1V341.3H1009V414.7H1012.9V368.8H1016.8V427.7H1020.7V341.3H1024.6V341.3H1028.5V449.7H1032.4V341.3H1036.3V341.3H1040.2V341.3H1044.1V362.3H1048V343.6H1051.9V341.3H1055.8V410.9H1059.7V341.3H1063.6V563.7H1067.5V567.8H1071.4V341.3H1075.3V341.3H1079.2V341.3H1083V465H1086.9V343.6H1090.8V341.3H1094.7V341.3H1098.6V372.3H1102.5V341.3H1106.4V386.5H1110.3V341.3H1114.2V341.3H1118.1V343.9H1122V341.3H1125.9V341.3H1129.8V341.3H1133.7V341.3H1137.6V341.3H1141.5V341.3H1145.4V341.3H1149.3V341.3H1153.2V341.3H1157.1V341.3H1161V341.3H1164.9V403.1H1168.8V355.1H1172.7V358.2H1176.6V341.3H1180.5V341.3H1184.4V341.3H1188.3V341.3H1192.2V512.6H1196.1V341.3H1200V606.8H1203.9V349.4H1207.8V341.3H1211.7V341.3H1215.6V341.3H1219.5V376.9H1223.4V341.3H1227.3V341.3H1231.2V341.3H1235.1V341.3H1239V341.3H1242.9V341.3H1246.8V341.3H1250.7V341.3H1254.6V341.3H1258.5V341.3H1262.4V341.3H1266.3V344.8H1270.2V341.3H1274.1V341.3H1278V341.3H1281.9V341.3H1285.8V594.8H1289.7V425.5H1293.6V341.3H1297.5V604.6H1301.4V433.7H1305.3V341.3H1309.2V351.6H1313.1V341.3H1317V341.3H1320.9V429H1324.8V341.3H1328.7V341.3H1332.6V608H1336.5V341.3H1340.4V608H1344.3V341.3H1348.2V341.3H1352.1V341.3H1356V423.2H1359.9V563.8H1363.8V341.3H1367.6V463.7H1371.5V341.3H1375.4V579.3H1379.3V341.3H1383.2V435.6H1387.1V341.3H1391V341.3H1394.9V341.3H1398.8V430.9H1402.7V341.3H1406.6V341.3H1410.5V357.7H1414.4V341.3H1418.3V356.9H1422.2V446H1426.1V376.6H1430V341.3H1433.9V404.9H1437.8V500.7H1441.7V401.4H1445.6V608H1449.5V341.3H1453.4V341.3H1457.3V341.3H1461.2V341.3H1465.1V341.3H1469V400.6H1472.9V341.3H1476.8V444.6H1480.7V341.3H1484.6V438.4H1488.5V341.3H1492.4V341.3H1496.3V341.3H1500.2V341.3H1504.1V459.9H1508V341.3Z" fill="url(#grain)"/>
<path d="M85 341.3V341.3H88.9V341.3H92.8V377.4H96.7V424.7H100.6V341.3H104.5V341.3H108.4V341.3H112.3V341.3H116.2V539.2H120.1V341.3H124V341.3H127.9V506.8H131.8V341.3H135.7V341.3H139.6V411H143.5V341.3H147.4V397H151.3V341.3H155.2V341.3H159.1V352H163V341.3H166.9V341.3H170.8V341.3H174.7V341.3H178.6V341.3H182.5V341.3H186.4V341.3H190.3V360.3H194.2V419.2H198.1V341.3H202V372.6H205.9V341.3H209.8V502.4H213.7V445.1H217.6V608H221.5V341.3H225.4V341.3H229.2V341.3H233.1V341.3H237V341.3H240.9V341.3H244.8V341.3H248.7V386H252.6V341.3H256.5V341.3H260.4V341.3H264.3V425.6H268.2V379.4H272.1V341.3H276V341.3H279.9V469.2H283.8V341.3H287.7V341.3H291.6V368.7H295.5V404.9H299.4V341.3H303.3V341.3H307.2V341.3H311.1V341.3H315V341.3H318.9V411.8H322.8V341.3H326.7V423.1H330.6V341.3H334.5V341.3H338.4V541.6H342.3V341.3H346.2V495.8H350.1V341.3H354V515.1H357.9V341.3H361.8V341.3H365.7V341.3H369.6V341.3H373.5V341.3H377.4V341.3H381.3V341.3H385.2V359.4H389.1V341.3H393V341.3H396.9V350.2H400.8V376.2H404.7V341.3H408.6V341.3H412.5V341.3H416.4V358.1H420.3V341.3H424.2V341.3H428.1V344.2H432V341.3H435.9V341.3H439.8V341.3H443.7V435.1H447.6V341.3H451.5V341.3H455.4V419H459.3V341.3H463.2V481H467.1V341.3H471V371.9H474.9V341.3H478.8V341.3H482.7V341.3H486.6V341.3H490.5V438H494.4V341.3H498.3V341.3H502.2V418.7H506.1V433.4H510V341.3H513.8V486.1H517.7V341.3H521.6V341.3H525.5V360.1H529.4V341.3H533.3V341.3H537.2V341.3H541.1V341.3H545V608H548.9V341.3H552.8V341.3H556.7V608H560.6V345.6H564.5V341.3H568.4V341.3H572.3V392.6H576.2V608H580.1V345H584V341.3H587.9V564.8H591.8V437.3H595.7V341.3H599.6V341.3H603.5V341.3H607.4V387.5H611.3V341.3H615.2V512.8H619.1V341.3H623V384.6H626.9V436.7H630.8V349.4H634.7V546.7H638.6V341.3H642.5V422.2H646.4V406.7H650.3V341.3H654.2V608H658.1V341.3H662V341.3H665.9V341.3H669.8V373.9H673.7V341.3H677.6V345.5H681.5V341.3H685.4V341.3H689.3V546.7H693.2V495.6H697.1V608H701V447.3H704.9V341.3H708.8V428.3H712.7V341.3H716.6V469.1H720.5V562.7H724.4V448.2H728.3V377.2H732.2V416.6H736.1V372.7H740V341.3H743.9V341.3H747.8V341.3H751.7V341.3H755.6V349.7H759.5V489.6H763.4V341.3H767.3V341.3H771.2V587.6H775.1V341.3H779V341.3H782.9V341.3H786.8V476.5H790.7V341.3H794.6V341.3H798.4V341.3H802.3V341.3H806.2V476.4H810.1V341.3H814V341.3H817.9V348.7H821.8V341.3H825.7V341.3H829.6V341.3H833.5V341.3H837.4V341.3H841.3V341.3H845.2V434.1H849.1V341.3H853V368H856.9V341.3H860.8V341.3H864.7V341.3H868.6V341.3H872.5V341.3H876.4V341.3H880.3V341.3H884.2V341.3H888.1V341.3H892V523.1H895.9V341.3H899.8V341.3H903.7V350.4H907.6V341.3H911.5V341.3H915.4V341.3H919.3V341.3H923.2V402.1H927.1V341.3H931V383.7H934.9V341.3H938.8V357.4H942.7V341.3H946.6V341.3H950.5V372.4H954.4V341.3H958.3V341.3H962.2V341.3H966.1V341.3H970V434.8H973.9V341.3H977.8V341.3H981.7V608H985.6V341.3H989.5V387.7H993.4V364.5H997.3V341.3H1001.2V590H1005.1V341.3H1009V587.8H1012.9V398.3H1016.8V341.3H1020.7V537.5H1024.6V341.3H1028.5V341.3H1032.4V341.3H1036.3V341.3H1040.2V458.5H1044.1V341.3H1048V341.3H1051.9V341.3H1055.8V370.1H1059.7V357.6H1063.6V341.3H1067.5V341.3H1071.4V353H1075.3V447.9H1079.2V341.3H1083V341.3H1086.9V374H1090.8V423H1094.7V555.4H1098.6V341.3H1102.5V341.3H1106.4V341.3H1110.3V341.3H1114.2V341.3H1118.1V428.6H1122V508.6H1125.9V341.3H1129.8V341.3H1133.7V372.5H1137.6V389.3H1141.5V341.3H1145.4V341.3H1149.3V341.3H1153.2V341.3H1157.1V341.3H1161V493.2H1164.9V445.4H1168.8V341.3H1172.7V569.6H1176.6V388.6H1180.5V341.3H1184.4V608H1188.3V341.3H1192.2V350.4H1196.1V341.3H1200V341.3H1203.9V341.3H1207.8V387.3H1211.7V341.3H1215.6V341.3H1219.5V341.3H1223.4V341.3H1227.3V418.4H1231.2V341.3H1235.1V341.3H1239V404.7H1242.9V341.3H1246.8V412.1H1250.7V341.3H1254.6V341.3H1258.5V341.3H1262.4V341.3H1266.3V341.3H1270.2V341.3H1274.1V341.3H1278V431.2H1281.9V366.7H1285.8V341.3H1289.7V341.3H1293.6V493.4H1297.5V341.3H1301.4V341.3H1305.3V341.3H1309.2V341.3H1313.1V341.3H1317V341.3H1320.9V411.1H1324.8V608H1328.7V341.3H1332.6V366H1336.5V341.3H1340.4V608H1344.3V341.3H1348.2V341.3H1352.1V439.5H1356V341.3H1359.9V341.3H1363.8V341.3H1367.6V367.1H1371.5V516.6H1375.4V341.3H1379.3V341.3H1383.2V341.3H1387.1V574.4H1391V397.1H1394.9V341.3H1398.8V375.3H1402.7V341.3H1406.6V341.3H1410.5V341.3H1414.4V341.3H1418.3V379.2H1422.2V341.3H1426.1V341.3H1430V341.3H1433.9V341.3H1437.8V341.3H1441.7V341.3H1445.6V341.3H1449.5V341.3H1453.4V457.1H1457.3V341.3H1461.2V341.3H1465.1V365.6H1469V341.3H1472.9V341.3H1476.8V361.9H1480.7V341.3H1484.6V341.3H1488.5V589.9H1492.4V447.4H1496.3V341.3H1500.2V438.5H1504.1V444.1H1508V341.3Z" fill="url(#grain)"/>
<path d="M85 341.3V405H88.9V341.3H92.8V341.3H96.7V341.3H100.6V520.4H104.5V341.3H108.4V341.3H112.3V341.3H116.2V341.3H120.1V341.3H124V392H127.9V341.3H131.8V341.3H135.7V341.3H139.6V341.3H143.5V341.3H147.4V341.3H151.3V341.3H155.2V341.3H159.1V341.3H163V376.3H166.9V440.8H170.8V341.3H174.7V341.3H178.6V341.3H182.5V341.3H186.4V341.3H190.3V341.3H194.2V341.3H198.1V341.3H202V434.2H205.9V341.3H209.8V380.7H213.7V341.3H217.6V341.3H221.5V398.8H225.4V341.3H229.2V341.3H233.1V381.9H237V341.3H240.9V506.8H244.8V341.3H248.7V546.5H252.6V352.4H256.5V341.3H260.4V341.3H264.3V341.3H268.2V341.3H272.1V341.3H276V341.3H279.9V583.9H283.8V341.3H287.7V433.6H291.6V341.3H295.5V341.3H299.4V341.3H303.3V371.5H307.2V341.3H311.1V343.6H315V341.3H318.9V361.3H322.8V341.3H326.7V341.3H330.6V341.3H334.5V483.9H338.4V441.1H342.3V341.3H346.2V371H350.1V341.3H354V341.3H357.9V352.8H361.8V341.3H365.7V361.1H369.6V341.3H373.5V341.3H377.4V341.3H381.3V382.5H385.2V341.3H389.1V341.3H393V341.3H396.9V351.4H400.8V439.2H404.7V466.2H408.6V341.8H412.5V344.5H416.4V341.3H420.3V341.3H424.2V341.3H428.1V341.3H432V341.3H435.9V370.9H439.8V341.3H443.7V341.3H447.6V341.3H451.5V341.3H455.4V341.3H459.3V341.3H463.2V445.2H467.1V341.3H471V341.3H474.9V341.3H478.8V341.3H482.7V572.3H486.6V341.3H490.5V341.3H494.4V401.5H498.3V562.5H502.2V341.3H506.1V341.3H510V341.3H513.8V430.8H517.7V341.3H521.6V428.5H525.5V341.3H529.4V447.5H533.3V369.1H537.2V341.3H541.1V341.3H545V341.3H548.9V341.3H552.8V409.4H556.7V350.8H560.6V341.3H564.5V579.8H568.4V341.3H572.3V601.8H576.2V608H580.1V341.3H584V341.3H587.9V341.3H591.8V404.2H595.7V341.3H599.6V517.9H603.5V608H607.4V341.3H611.3V397.2H615.2V341.3H619.1V341.3H623V422H626.9V356.9H630.8V341.3H634.7V341.3H638.6V341.3H642.5V341.3H646.4V388.5H650.3V341.3H654.2V449.7H658.1V389.5H662V456.4H665.9V526.6H669.8V341.3H673.7V482.2H677.6V341.3H681.5V341.3H685.4V378.9H689.3V341.3H693.2V341.3H697.1V372.5H701V416.4H704.9V608H708.8V341.3H712.7V406.2H716.6V377.3H720.5V608H724.4V341.3H728.3V608H732.2V346.2H736.1V341.3H740V341.3H743.9V341.3H747.8V608H751.7V470.5H755.6V341.3H759.5V341.3H763.4V476.6H767.3V341.3H771.2V341.3H775.1V341.3H779V341.3H782.9V341.3H786.8V519.1H790.7V341.3H794.6V488.6H798.4V341.3H802.3V444.9H806.2V341.3H810.1V341.3H814V341.3H817.9V341.3H821.8V341.3H825.7V588.1H829.6V341.3H833.5V410H837.4V341.3H841.3V608H845.2V551.3H849.1V341.3H853V341.3H856.9V341.3H860.8V341.3H864.7V387.4H868.6V341.3H872.5V454.3H876.4V608H880.3V341.3H884.2V507.8H888.1V341.3H892V341.3H895.9V550.8H899.8V341.3H903.7V341.3H907.6V341.3H911.5V423.3H915.4V341.3H919.3V404.5H923.2V341.3H927.1V506.4H931V409.9H934.9V341.3H938.8V511.6H942.7V359.3H946.6V341.3H950.5V341.3H954.4V341.3H958.3V341.3H962.2V341.3H966.1V341.3H970V608H973.9V341.3H977.8V341.3H981.7V341.3H985.6V517H989.5V341.3H993.4V558H997.3V341.3H1001.2V341.3H1005.1V341.3H1009V341.3H1012.9V341.3H1016.8V349.8H1020.7V341.3H1024.6V341.3H1028.5V341.3H1032.4V456.9H1036.3V341.3H1040.2V341.3H1044.1V341.3H1048V341.3H1051.9V341.3H1055.8V341.3H1059.7V341.3H1063.6V341.3H1067.5V495.7H1071.4V341.3H1075.3V341.3H1079.2V341.3H1083V349.4H1086.9V425.5H1090.8V399.9H1094.7V341.3H1098.6V341.3H1102.5V341.3H1106.4V532.4H1110.3V418.2H1114.2V341.3H1118.1V341.3H1122V341.3H1125.9V341.3H1129.8V341.3H1133.7V341.3H1137.6V341.3H1141.5V341.3H1145.4V341.3H1149.3V608H1153.2V346.8H1157.1V341.3H1161V341.3H1164.9V341.3H1168.8V451.1H1172.7V341.3H1176.6V341.3H1180.5V341.3H1184.4V349.5H1188.3V357.8H1192.2V341.3H1196.1V341.3H1200V341.3H1203.9V341.3H1207.8V365H1211.7V341.3H1215.6V341.3H1219.5V361.1H1223.4V341.3H1227.3V464.8H1231.2V341.3H1235.1V341.3H1239V341.3H1242.9V539.5H1246.8V341.3H1250.7V341.3H1254.6V341.3H1258.5V341.3H1262.4V388.6H1266.3V382.7H1270.2V341.3H1274.1V608H1278V341.3H1281.9V341.3H1285.8V341.3H1289.7V341.3H1293.6V346.9H1297.5V341.3H1301.4V341.3H1305.3V341.3H1309.2V341.3H1313.1V341.3H1317V517.4H1320.9V341.3H1324.8V341.3H1328.7V408.2H1332.6V573.1H1336.5V443.9H1340.4V351.3H1344.3V341.3H1348.2V341.3H1352.1V341.3H1356V608H1359.9V341.3H1363.8V347.8H1367.6V341.3H1371.5V341.3H1375.4V341.3H1379.3V414.2H1383.2V341.3H1387.1V344.9H1391V341.3H1394.9V474.1H1398.8V526.5H1402.7V393.1H1406.6V488.3H1410.5V341.3H1414.4V341.3H1418.3V600.2H1422.2V544.4H1426.1V341.3H1430V341.3H1433.9V351H1437.8V406.3H1441.7V341.3H1445.6V464.1H1449.5V341.3H1453.4V608H1457.3V354.1H1461.2V346H1465.1V341.3H1469V485.6H1472.9V379.5H1476.8V341.3H1480.7V506.2H1484.6V341.3H1488.5V341.3H1492.4V361.4H1496.3V341.3H1500.2V391.1H1504.1V341.3H1508V341.3Z" fill="url(#grain)"/>
<path d="M85 341.3V341.3H88.9V341.3H92.8V341.3H96.7V341.3H100.6V341.3H104.5V341.3H108.4V341.3H112.3V341.3H116.2V341.3H120.1V341.3H124V414.6H127.9V354H131.8V341.3H135.7V341.3H139.6V341.3H143.5V341.3H147.4V341.3H151.3V341.3H155.2V341.3H159.1V341.3H163V341.3H166.9V341.3H170.8V341.3H174.7V341.3H178.6V341.3H182.5V341.3H186.4V341.3H190.3V498H194.2V341.3H198.1V341.3H202V383.7H205.9V341.3H209.8V341.3H213.7V341.3H217.6V341.3H221.5V341.3H225.4V341.3H229.2V360.6H233.1V341.3H237V341.3H240.9V341.3H244.8V341.3H248.7V396.1H252.6V341.3H256.5V341.3H260.4V341.3H264.3V413.2H268.2V341.3H272.1V341.3H276V341.3H279.9V341.3H283.8V341.3H287.7V341.3H291.6V341.3H295.5V341.3H299.4V341.3H303.3V355.2H307.2V341.3H311.1V439.3H315V341.3H318.9V341.3H322.8V341.3H326.7V341.3H330.6V341.3H334.5V341.3H338.4V341.3H342.3V341.3H346.2V362.7H350.1V424.1H354V341.3H357.9V426.9H361.8V341.3H365.7V355.8H369.6V341.3H373.5V341.3H377.4V431H381.3V341.3H385.2V341.3H389.1V341.3H393V341.3H396.9V371.4H400.8V415.7H404.7V341.3H408.6V341.3H412.5V447.6H416.4V341.3H420.3V341.3H424.2V341.3H428.1V403.4H432V535H435.9V341.3H439.8V341.3H443.7V341.3H447.6V341.3H451.5V341.3H455.4V351.7H459.3V341.3H463.2V341.3H467.1V349H471V549.8H474.9V498.6H478.8V341.3H482.7V352H486.6V377.8H490.5V423H494.4V341.3H498.3V341.3H502.2V608H506.1V537.1H510V341.3H513.8V341.3H517.7V345.1H521.6V341.3H525.5V341.3H529.4V341.3H533.3V603.7H537.2V608H541.1V398.8H545V341.3H548.9V341.3H552.8V341.3H556.7V536.9H560.6V341.3H564.5V341.3H568.4V341.3H572.3V434.9H576.2V344.8H580.1V341.3H584V341.3H587.9V341.3H591.8V591.9H595.7V525.5H599.6V431.5H603.5V341.3H607.4V346.5H611.3V497.7H615.2V608H619.1V447.6H623V537.6H626.9V341.3H630.8V539.4H634.7V377.5H638.6V341.3H642.5V608H646.4V341.3H650.3V341.3H654.2V341.3H658.1V341.3H662V558.7H665.9V341.3H669.8V341.3H673.7V341.3H677.6V588.4H681.5V341.3H685.4V341.3H689.3V373.7H693.2V344.8H697.1V345H701V341.3H704.9V608H708.8V341.3H712.7V477.4H716.6V608H720.5V341.3H724.4V354.4H728.3V378.9H732.2V341.3H736.1V386.6H740V489.2H743.9V341.3H747.8V341.3H751.7V608H755.6V345.8H759.5V341.3H763.4V341.3H767.3V608H771.2V341.3H775.1V527H779V435.6H782.9V341.3H786.8V351.3H790.7V341.3H794.6V608H798.4V386.9H802.3V341.3H806.2V341.3H810.1V601H814V438.2H817.9V341.3H821.8V341.3H825.7V374.3H829.6V341.3H833.5V341.3H837.4V341.3H841.3V341.3H845.2V525.2H849.1V341.3H853V608H856.9V341.3H860.8V341.3H864.7V359.3H868.6V341.3H872.5V341.3H876.4V341.3H880.3V469.4H884.2V341.3H888.1V398.4H892V341.3H895.9V608H899.8V341.3H903.7V341.3H907.6V341.3H911.5V341.3H915.4V341.3H919.3V459.6H923.2V341.3H927.1V341.3H931V444.9H934.9V499.2H938.8V484.6H942.7V341.3H946.6V341.3H950.5V341.3H954.4V341.3H958.3V341.3H962.2V341.3H966.1V341.3H970V341.3H973.9V341.3H977.8V341.3H981.7V341.3H985.6V341.3H989.5V389.8H993.4V369.3H997.3V341.3H1001.2V341.3H1005.1V386.6H1009V341.3H1012.9V341.3H1016.8V341.3H1020.7V341.3H1024.6V341.3H1028.5V341.3H1032.4V341.3H1036.3V341.3H1040.2V341.3H1044.1V341.3H1048V341.3H1051.9V341.3H1055.8V341.3H1059.7V466.7H1063.6V341.3H1067.5V341.3H1071.4V341.3H1075.3V341.3H1079.2V484.8H1083V608H1086.9V341.3H1090.8V375.5H1094.7V608H1098.6V341.3H1102.5V369.8H1106.4V341.3H1110.3V341.3H1114.2V383H1118.1V341.3H1122V341.3H1125.9V532.6H1129.8V401.9H1133.7V341.3H1137.6V341.3H1141.5V422H1145.4V341.3H1149.3V341.3H1153.2V341.3H1157.1V341.3H1161V341.3H1164.9V341.3H1168.8V393.8H1172.7V384.7H1176.6V341.3H1180.5V388.4H1184.4V401.3H1188.3V341.3H1192.2V341.4H1196.1V495.6H1200V341.3H1203.9V341.3H1207.8V608H1211.7V341.3H1215.6V409.3H1219.5V608H1223.4V341.3H1227.3V381.4H1231.2V420.5H1235.1V341.3H1239V341.3H1242.9V524.9H1246.8V341.3H1250.7V341.3H1254.6V341.3H1258.5V341.3H1262.4V341.3H1266.3V341.3H1270.2V354.1H1274.1V345.4H1278V403.7H1281.9V437.3H1285.8V341.3H1289.7V341.3H1293.6V531.5H1297.5V341.3H1301.4V497.9H1305.3V586.8H1309.2V367.5H1313.1V341.3H1317V608H1320.9V503.7H1324.8V341.3H1328.7V341.3H1332.6V341.3H1336.5V527.3H1340.4V341.3H1344.3V608H1348.2V355.5H1352.1V608H1356V341.3H1359.9V341.3H1363.8V341.3H1367.6V359.5H1371.5V341.3H1375.4V447.9H1379.3V376.7H1383.2V341.3H1387.1V411.3H1391V341.3H1394.9V341.3H1398.8V341.3H1402.7V608H1406.6V341.3H1410.5V341.3H1414.4V341.3H1418.3V341.3H1422.2V369.9H1426.1V341.3H1430V441H1433.9V341.3H1437.8V341.3H1441.7V341.3H1445.6V341.3H1449.5V341.3H1453.4V341.3H1457.3V341.3H1461.2V341.3H1465.1V438.3H1469V523.4H1472.9V341.3H1476.8V341.3H1480.7V358.5H1484.6V608H1488.5V341.3H1492.4V341.3H1496.3V341.3H1500.2V341.3H1504.1V341.3H1508V341.3Z" fill="url(#grain)"/>
<path d="M85 440.8V406.1H88.9V325.6H92.8V360.1H96.7V338.9H100.6V330H104.5V336.7H108.4V372.7H112.3V370.9H116.2V333.6H120.1V323.8H124V313.8H127.9V415H131.8V326.1H135.7V329.7H139.6V359H143.5V333.2H147.4V321.8H151.3V321.3H155.2V340.1H159.1V328.2H163V324H166.9V402H170.8V332.5H174.7V323.3H178.6V318.2H182.5V363.8H186.4V327.8H190.3V363.7H194.2V319.4H198.1V338.1H202V324.8H205.9V334.8H209.8V355.3H213.7V312.1H217.6V367.2H221.5V313.8H225.4V319H229.2V301.9H233.1V335.1H237V357.8H240.9V337H244.8V320.7H248.7V317.2H252.6V318H256.5V292.4H260.4V317H264.3V299.5H268.2V304.7H272.1V329H276V313H279.9V307.4H283.8V359.9H287.7V340.8H291.6V343.4H295.5V345.1H299.4V327.1H303.3V294.5H307.2V341.5H311.1V306.6H315V299.3H318.9V317.7H322.8V300.6H326.7V296.8H330.6V278.7H334.5V329.7H338.4V294.4H342.3V292.1H346.2V292.6H350.1V291.6H354V289.1H357.9V310.6H361.8V279.7H365.7V331.3H369.6V274.8H373.5V282.6H377.4V269.6H381.3V292.5H385.2V285.9H389.1V289.3H393V318.1H396.9V339.3H400.8V322.1H404.7V291.9H408.6V249.1H412.5V297.9H416.4V292.2H420.3V279.2H424.2V280.4H428.1V281.8H432V266.6H435.9V319.5H439.8V289.6H443.7V239.8H447.6V298.3H451.5V257.5H455.4V269.7H459.3V263.6H463.2V265.4H467.1V266.3H471V253.9H474.9V242.5H478.8V269H482.7V239.8H486.6V260.4H490.5V280.2H494.4V281.7H498.3V290.1H502.2V253.9H506.1V284.7H510V245.2H513.8V281.9H517.7V257.8H521.6V285H525.5V241.5H529.4V255.1H533.3V286.8H537.2V253.3H541.1V248.5H545V232.4H548.9V228H552.8V269.2H556.7V227.7H560.6V237.2H564.5V237.4H568.4V234.1H572.3V261.3H576.2V260.5H580.1V249.6H584V245.5H587.9V235.3H591.8V254.2H595.7V277.4H599.6V218.3H603.5V260.3H607.4V242.3H611.3V253.6H615.2V266.6H619.1V222H623V208.3H626.9V240H630.8V246.1H634.7V245.1H638.6V213.4H642.5V240.9H646.4V200.3H650.3V229.9H654.2V243.5H658.1V262.4H662V226.5H665.9V235.9H669.8V212.2H673.7V227.1H677.6V244.5H681.5V217.2H685.4V232.7H689.3V227.6H693.2V228.2H697.1V222.7H701V225H704.9V219.2H708.8V236.6H712.7V218.9H716.6V214.6H720.5V208H724.4V220.3H728.3V222.1H732.2V221H736.1V212.8H740V225.9H743.9V217.4H747.8V210.7H751.7V208.6H755.6V226.2H759.5V228.5H763.4V218.2H767.3V208.7H771.2V205H775.1V207.1H779V223.2H782.9V221.2H786.8V217.9H790.7V234.4H794.6V228.9H798.4V216H802.3V218.7H806.2V230.6H810.1V228.4H814V214.8H817.9V218.2H821.8V221H825.7V200.4H829.6V222.4H833.5V213.4H837.4V193.4H841.3V190.4H845.2V230.6H849.1V198.2H853V209.8H856.9V208.1H860.8V208.1H864.7V216.5H868.6V190.7H872.5V205.1H876.4V200.6H880.3V199.6H884.2V218H888.1V218.3H892V190.8H895.9V185H899.8V229.4H903.7V212.6H907.6V204H911.5V226.2H915.4V204.7H919.3V226.8H923.2V195.8H927.1V218.6H931V211.4H934.9V217.4H938.8V199.6H942.7V194.5H946.6V186.4H950.5V216.5H954.4V202H958.3V192.5H962.2V202.4H966.1V219.7H970V199.6H973.9V216.9H977.8V171.4H981.7V213.4H985.6V217.2H989.5V203.3H993.4V206.2H997.3V220.7H1001.2V194.5H1005.1V224H1009V198.1H1012.9V209.4H1016.8V215.1H1020.7V210.3H1024.6V212.4H1028.5V207.5H1032.4V231.1H1036.3V255.4H1040.2V236.4H1044.1V213.4H1048V207.6H1051.9V251H1055.8V213.6H1059.7V219H1063.6V250.4H1067.5V203.7H1071.4V208.1H1075.3V226.4H1079.2V222.1H1083V239.7H1086.9V215.2H1090.8V212H1094.7V225.9H1098.6V227.5H1102.5V239H1106.4V258.6H1110.3V215.1H1114.2V214.5H1118.1V260.4H1122V228.2H1125.9V251.6H1129.8V232H1133.7V239.4H1137.6V251.2H1141.5V255.9H1145.4V239.7H1149.3V246.2H1153.2V241.2H1157.1V228.8H1161V229.6H1164.9V281.3H1168.8V255.6H1172.7V259.4H1176.6V269.5H1180.5V239.6H1184.4V235.9H1188.3V255.8H1192.2V270.4H1196.1V269.3H1200V246.6H1203.9V279.8H1207.8V272.8H1211.7V257.5H1215.6V251.5H1219.5V270.9H1223.4V294.6H1227.3V258.2H1231.2V260.4H1235.1V243.1H1239V239.2H1242.9V293H1246.8V289.2H1250.7V237H1254.6V267.3H1258.5V275.2H1262.4V300.6H1266.3V286.6H1270.2V255.9H1274.1V279.2H1278V297H1281.9V293H1285.8V282.9H1289.7V327.9H1293.6V261.6H1297.5V280.9H1301.4V315.4H1305.3V306.8H1309.2V303.5H1313.1V295.3H1317V301.3H1320.9V296H1324.8V290.7H1328.7V283.7H1332.6V292.7H1336.5V317.7H1340.4V307.5H1344.3V297.6H1348.2V292.4H1352.1V323.2H1356V261.9H1359.9V287.7H1363.8V324.4H1367.6V324.9H1371.5V315.1H1375.4V316.4H1379.3V305.3H1383.2V325H1387.1V352.2H1391V339.1H1394.9V308.9H1398.8V304H1402.7V294.6H1406.6V314.8H1410.5V299.5H1414.4V364.7H1418.3V323.6H1422.2V346.5H1426.1V318.5H1430V305.6H1433.9V309.9H1437.8V381.4H1441.7V307.4H1445.6V315.7H1449.5V309.3H1453.4V289.7H1457.3V319.8H1461.2V303.8H1465.1V315.9H1469V366.8H1472.9V349.1H1476.8V326.3H1480.7V345.8H1484.6V323.8H1488.5V312.1H1492.4V341.7H1496.3V392.2H1500.2V334.8H1504.1V317.2H1508V354.7H1504.1V373.2H1500.2V429.4H1496.3V379.1H1492.4V348.2H1488.5V358.1H1484.6V382.1H1480.7V369.4H1476.8V381.7H1472.9V401.8H1469V349.5H1465.1V339.8H1461.2V356.2H1457.3V334.3H1453.4V344.1H1449.5V355.4H1445.6V349.5H1441.7V422.7H1437.8V347.5H1433.9V340.2H1430V347.4H1426.1V379.7H1422.2V359H1418.3V397.7H1414.4V336.8H1410.5V351.1H1406.6V327.9H1402.7V343.3H1398.8V345.7H1394.9V376.8H1391V388.5H1387.1V362.2H1383.2V343.3H1379.3V351.1H1375.4V358.3H1371.5V365.1H1367.6V357.4H1363.8V321.1H1359.9V301.3H1356V354.7H1352.1V330.6H1348.2V336.8H1344.3V353.4H1340.4V350.8H1336.5V328.4H1332.6V325.3H1328.7V330.1H1324.8V338.8H1320.9V340.3H1317V331.2H1313.1V347.7H1309.2V347.9H1305.3V349.2H1301.4V319.4H1297.5V300.7H1293.6V371.2H1289.7V319.6H1285.8V335.2H1281.9V335.7H1278V322.1H1274.1V295.6H1270.2V324.8H1266.3V343H1262.4V314.8H1258.5V305.2H1254.6V280.3H1250.7V335.5H1246.8V337H1242.9V275.7H1239V278.9H1235.1V310.3H1231.2V297.4H1227.3V329.8H1223.4V320.1H1219.5V296H1215.6V299.3H1211.7V323.8H1207.8V313.5H1203.9V292.5H1200V313.7H1196.1V315.6H1192.2V305.5H1188.3V278.9H1184.4V289.3H1180.5V321.1H1176.6V298H1172.7V300.3H1168.8V326.5H1164.9V275.2H1161V269.4H1157.1V283.4H1153.2V296.3H1149.3V282.9H1145.4V302.4H1141.5V291.4H1137.6V283.4H1133.7V272.4H1129.8V300.2H1125.9V269.9H1122V310.2H1118.1V268.9H1114.2V265.7H1110.3V298.2H1106.4V293.7H1102.5V276H1098.6V268H1094.7V266.9H1090.8V269.6H1086.9V288.2H1083V277.5H1079.2V277.9H1075.3V261.4H1071.4V251.1H1067.5V295.2H1063.6V264.1H1059.7V267.3H1055.8V298.5H1051.9V255.5H1048V269.7H1044.1V273.2H1040.2V304.5H1036.3V278.2H1032.4V262.3H1028.5V262.7H1024.6V263.7H1020.7V265H1016.8V266.5H1012.9V240.8H1009V269.3H1005.1V252.7H1001.2V266.2H997.3V254.4H993.4V257H989.5V262.3H985.6V264.2H981.7V219.2H977.8V269.1H973.9V245H970V265.3H966.1V255.4H962.2V249.8H958.3V258.8H954.4V265.9H950.5V243.7H946.6V236H942.7V249.6H938.8V258.1H934.9V264.1H931V267.5H927.1V242.4H923.2V275.3H919.3V252.2H915.4V278.4H911.5V252.5H907.6V260.6H903.7V282.8H899.8V240.6H895.9V236.8H892V266.6H888.1V262.5H884.2V252H880.3V242.5H876.4V252.3H872.5V241H868.6V274.8H864.7V253.9H860.8V248.9H856.9V260.5H853V247.9H849.1V277.6H845.2V242.1H841.3V246.3H837.4V273.5H833.5V265.7H829.6V246.7H825.7V263.3H821.8V259.3H817.9V266.8H814V274.4H810.1V280.2H806.2V271.3H802.3V265.4H798.4V267.3H794.6V284.6H790.7V267.8H786.8V264.8H782.9V272.8H779V253.9H775.1V253H771.2V260.3H767.3V266.8H763.4V276.8H759.5V277.2H755.6V258.1H751.7V256.7H747.8V271H743.9V267.6H740V260.3H736.1V276.6H732.2V273.3H728.3V272H724.4V260H720.5V257.5H716.6V269.1H712.7V275.9H708.8V270.4H704.9V275.1H701V277.9H697.1V282.1H693.2V273.5H689.3V272.8H685.4V263.5H681.5V283.6H677.6V279.3H673.7V262.9H669.8V286.3H665.9V263.9H662V310H658.1V282H654.2V280.5H650.3V253.4H646.4V283H642.5V261.9H638.6V287.4H634.7V290.5H630.8V285.7H626.9V259.4H623V263.7H619.1V305.2H615.2V297.5H611.3V284H607.4V311.6H603.5V268.1H599.6V315.4H595.7V302.6H591.8V281.4H587.9V292.7H584V289.1H580.1V308H576.2V313.1H572.3V281H568.4V282.6H564.5V282.9H560.6V276.1H556.7V319.2H552.8V273H548.9V276.1H545V296.1H541.1V301.3H537.2V327.5H533.3V295.9H529.4V288.9H525.5V324.2H521.6V301.6H517.7V322.2H513.8V298.5H510V325.4H506.1V290.7H502.2V337.7H498.3V321.1H494.4V316.3H490.5V302.6H486.6V279H482.7V308.2H478.8V286.8H474.9V298.2H471V313.4H467.1V308.5H463.2V301.4H459.3V317.8H455.4V297.9H451.5V337.4H447.6V277.1H443.7V332.2H439.8V351.9H435.9V309.1H432V320H428.1V315.5H424.2V322.1H420.3V333.4H416.4V332.4H412.5V287.5H408.6V326H404.7V361H400.8V379.4H396.9V352.9H393V335H389.1V321.8H385.2V328.2H381.3V313.8H377.4V324.6H373.5V314.4H369.6V365.2H365.7V317.6H361.8V346.5H357.9V328.3H354V325H350.1V334.6H346.2V332.1H342.3V331.8H338.4V366.9H334.5V318.8H330.6V336.2H326.7V339.9H322.8V354.7H318.9V336.1H315V343.6H311.1V379.7H307.2V332.6H303.3V367.4H299.4V383.2H295.5V379.5H291.6V378H287.7V396.2H283.8V339.9H279.9V351.6H276V365.8H272.1V344.8H268.2V334.6H264.3V353.7H260.4V327.8H256.5V356.9H252.6V358H248.7V355.5H244.8V371.1H240.9V392.1H237V368.9H233.1V341.1H229.2V359.4H225.4V350.7H221.5V400H217.6V343.6H213.7V390.2H209.8V363.7H205.9V360.1H202V371.4H198.1V355.6H194.2V396.7H190.3V368.2H186.4V394.2H182.5V349.8H178.6V363.4H174.7V367.1H170.8V434.3H166.9V355.8H163V356.8H159.1V372.5H155.2V352.6H151.3V352.7H147.4V371H143.5V391H139.6V359.9H135.7V364.7H131.8V448.1H127.9V345.9H124V360H120.1V368.6H116.2V405.9H112.3V410.2H108.4V375.1H104.5V366.4H100.6V375H96.7V395H92.8V358.6H88.9V440.8H85Z" fill="#ff3ceb" fill-opacity="0.078"/>
<path d="M85 403V362.1H88.9V347.7H92.8V330.2H96.7V388H100.6V342.6H104.5V348.7H108.4V361H112.3V367.2H116.2V340.1H120.1V320.5H124V326.3H127.9V341.4H131.8V357.2H135.7V343.3H139.6V358.2H143.5V307.4H147.4V356.8H151.3V335.1H155.2V337.1H159.1V357.2H163V386.1H166.9V347.7H170.8V357.8H174.7V340H178.6V303.5H182.5V326.8H186.4V335.7H190.3V316.4H194.2V363H198.1V371.3H202V321.8H205.9V339.9H209.8V330.2H213.7V308.1H217.6V322.6H221.5V306.4H225.4V362.7H229.2V389.6H233.1V302.1H237V304.1H240.9V301.1H244.8V336.7H248.7V329.5H252.6V302.7H256.5V314.2H260.4V312.5H264.3V315.1H268.2V327.1H272.1V291.7H276V318.8H279.9V308.9H283.8V305.2H287.7V329H291.6V313.4H295.5V307.6H299.4V343.1H303.3V336.9H307.2V342.7H311.1V313.1H315V286.3H318.9V321.7H322.8V302.9H326.7V298.3H330.6V306.3H334.5V313.4H338.4V312.8H342.3V277H346.2V372H350.1V277.6H354V276.3H357.9V276.9H361.8V281.1H365.7V313.4H369.6V326.6H373.5V351H377.4V279.2H381.3V268.9H385.2V324.8H389.1V301.2H393V326.8H396.9V275.6H400.8V292.6H404.7V267.6H408.6V284.4H412.5V309.9H416.4V266.6H420.3V260.6H424.2V281.9H428.1V278.7H432V308H435.9V283.8H439.8V270.1H443.7V258.9H447.6V314.4H451.5V307.3H455.4V260.9H459.3V272.9H463.2V275.7H467.1V266H471V229.4H474.9V254.2H478.8V263.2H482.7V248.7H486.6V252.1H490.5V278.3H494.4V271.1H498.3V248.8H502.2V260.6H506.1V262.2H510V262.3H513.8V266.9H517.7V235.2H521.6V287H525.5V243.5H529.4V242.6H533.3V267.3H537.2V252.6H541.1V262.3H545V239.1H548.9V235.6H552.8V239H556.7V264H560.6V222.8H564.5V240.9H568.4V234.8H572.3V256.6H576.2V281.2H580.1V238.5H584V226.2H587.9V255.8H591.8V247.9H595.7V224H599.6V247.6H603.5V217.5H607.4V225.3H611.3V249.9H615.2V228.6H619.1V232.7H623V226.9H626.9V220.3H630.8V252.7H634.7V249.2H638.6V268.1H642.5V246.9H646.4V240.6H650.3V247.1H654.2V233.3H658.1V236.6H662V228.3H665.9V231.6H669.8V224.4H673.7V224.7H677.6V232H681.5V226.3H685.4V250.5H689.3V258.4H693.2V243.4H697.1V241H701V244.5H704.9V251.5H708.8V222.9H712.7V213.3H716.6V239.7H720.5V210.1H724.4V238.3H728.3V236.8H732.2V220.6H736.1V208.7H740V212.7H743.9V217.8H747.8V209.1H751.7V220.3H755.6V224.9H759.5V240.7H763.4V224H767.3V222.8H771.2V241.8H775.1V218.1H779V209.5H782.9V204H786.8V206.6H790.7V226.3H794.6V217.1H798.4V237.3H802.3V217.5H806.2V203.9H810.1V215.7H814V200.9H817.9V180.4H821.8V213.6H825.7V213.9H829.6V203.7H833.5V212.1H837.4V206.5H841.3V214.6H845.2V203.4H849.1V203.3H853V196.1H856.9V205.5H860.8V212.7H864.7V192.6H868.6V220H872.5V228.3H876.4V224.1H880.3V183.9H884.2V196.8H888.1V216.8H892V201.3H895.9V201H899.8V220H903.7V194.6H907.6V222.5H911.5V232H915.4V210.9H919.3V199.6H923.2V199.7H927.1V221.4H931V209.5H934.9V224.8H938.8V205.6H942.7V203.3H946.6V192.4H950.5V209.3H954.4V225.2H958.3V199.5H962.2V202.6H966.1V226.4H970V179.7H973.9V203.9H977.8V213.6H981.7V199.2H985.6V213H989.5V215.6H993.4V204.1H997.3V222.5H1001.2V216.7H1005.1V225.6H1009V212H1012.9V215.3H1016.8V219.7H1020.7V216.3H1024.6V221.4H1028.5V229H1032.4V213H1036.3V227.9H1040.2V221.8H1044.1V214.2H1048V211.1H1051.9V218H1055.8V239.7H1059.7V227.4H1063.6V231.7H1067.5V252.3H1071.4V201.9H1075.3V235.5H1079.2V196H1083V233.1H1086.9V234.2H1090.8V234.9H1094.7V251.2H1098.6V224.2H1102.5V235.3H1106.4V217.5H1110.3V206.8H1114.2V252.1H1118.1V242.3H1122V219H1125.9V236.3H1129.8V282.7H1133.7V243H1137.6V239H1141.5V254.8H1145.4V259.1H1149.3V251.7H1153.2V228H1157.1V268.2H1161V246.7H1164.9V271.8H1168.8V265.2H1172.7V240.5H1176.6V278H1180.5V264.6H1184.4V249.1H1188.3V275.8H1192.2V277.6H1196.1V263.9H1200V246.7H1203.9V265.7H1207.8V248.9H1211.7V273.9H1215.6V272.9H1219.5V260H1223.4V266.6H1227.3V264.6H1231.2V247.8H1235.1V240.4H1239V298.4H1242.9V256.3H1246.8V284.7H1250.7V259.6H1254.6V278.1H1258.5V275H1262.4V322.9H1266.3V250.7H1270.2V268.5H1274.1V309.2H1278V272.2H1281.9V261.6H1285.8V287.5H1289.7V346.8H1293.6V277.5H1297.5V335.3H1301.4V276.9H1305.3V292.9H1309.2V313.1H1313.1V268.8H1317V281.6H1320.9V308.6H1324.8V319.1H1328.7V324H1332.6V301.7H1336.5V280.9H1340.4V296.9H1344.3V306.5H1348.2V287.7H1352.1V293.9H1356V324.8H1359.9V304.7H1363.8V287.6H1367.6V296.2H1371.5V333.8H1375.4V274.6H1379.3V284.1H1383.2V298.2H1387.1V314.9H1391V302.1H1394.9V311.8H1398.8V323.4H1402.7V312.6H1406.6V333.8H1410.5V288.6H1414.4V325.9H1418.3V322.8H1422.2V324.7H1426.1V324.8H1430V281H1433.9V367.2H1437.8V354.9H1441.7V311H1445.6V321.9H1449.5V326H1453.4V344.3H1457.3V331.3H1461.2V312.6H1465.1V324.5H1469V339.7H1472.9V357.9H1476.8V394.7H1480.7V343.8H1484.6V338.6H1488.5V319.9H1492.4V334.2H1496.3V296.5H1500.2V349.5H1504.1V328.7H1508V366.4H1504.1V385.4H1500.2V335.4H1496.3V370.2H1492.4V354.4H1488.5V371.8H1484.6V384.6H1480.7V436H1476.8V397.5H1472.9V373.6H1469V353.6H1465.1V348.6H1461.2V366H1457.3V379.8H1453.4V367H1449.5V356.3H1445.6V341.9H1441.7V388.1H1437.8V405.7H1433.9V317H1430V356.3H1426.1V359.7H1422.2V358.1H1418.3V364.8H1414.4V326.5H1410.5V369.4H1406.6V341.8H1402.7V355.2H1398.8V353.4H1394.9V346.1H1391V344.2H1387.1V338H1383.2V329.3H1379.3V313.5H1375.4V365.3H1371.5V334.3H1367.6V318.8H1363.8V337.1H1359.9V362.8H1356V331.9H1352.1V330.4H1348.2V351.4H1344.3V333.3H1340.4V325.2H1336.5V335.7H1332.6V363H1328.7V357.7H1324.8V348.7H1320.9V317.3H1317V303.1H1313.1V350.6H1309.2V330.9H1305.3V314.2H1301.4V376.6H1297.5V310H1293.6V394.9H1289.7V324.6H1285.8V301.3H1281.9V315.2H1278V342.3H1274.1V313.4H1270.2V293.4H1266.3V366.4H1262.4V320.1H1258.5V322.2H1254.6V304.8H1250.7V332.8H1246.8V291.7H1242.9V331.2H1239V282.6H1235.1V290.3H1231.2V303.2H1227.3V315.7H1223.4V305.4H1219.5V314.3H1215.6V315.9H1211.7V297.5H1207.8V311.1H1203.9V286.8H1200V311.7H1196.1V321.4H1192.2V315.2H1188.3V284.6H1184.4V314.9H1180.5V320.7H1176.6V280.4H1172.7V308.4H1168.8V322.6H1164.9V286.4H1161V312.1H1157.1V265.1H1153.2V293H1149.3V303.9H1145.4V298.2H1141.5V281.2H1137.6V286.1H1133.7V323.2H1129.8V272.8H1125.9V273.6H1122V294.4H1118.1V293.9H1114.2V260.6H1110.3V263.2H1106.4V276.1H1102.5V274.4H1098.6V303.8H1094.7V286.7H1090.8V283.4H1086.9V273.1H1083V245H1079.2V282.9H1075.3V244.8H1071.4V302H1067.5V282.4H1063.6V271.3H1059.7V280H1055.8V267H1051.9V261.1H1048V256H1044.1V278.8H1040.2V279.4H1036.3V255.7H1032.4V270.4H1028.5V271.2H1024.6V271.3H1020.7V262.5H1016.8V256H1012.9V259.8H1009V285.2H1005.1V262.8H1001.2V272.5H997.3V251.8H993.4V256.3H989.5V261.8H985.6V237.5H981.7V254H977.8V251.2H973.9V237.9H970V279.1H966.1V246.6H962.2V246.3H958.3V277.3H954.4V255.1H950.5V248.7H946.6V244.2H942.7V261.3H938.8V270.7H934.9V255.6H931V278.1H927.1V238.2H923.2V248.7H919.3V253.9H915.4V282.6H911.5V272.3H907.6V253.8H903.7V276H899.8V251.3H895.9V252.3H892V259.9H888.1V249.1H884.2V237.7H880.3V272.4H876.4V276.7H872.5V268.6H868.6V246.8H864.7V263H860.8V252.1H856.9V256H853V256.2H849.1V260.3H845.2V260.7H841.3V257.8H837.4V262.8H833.5V255.5H829.6V265.8H825.7V265.1H821.8V230.6H817.9V247.7H814V263.2H810.1V260.6H806.2V274.3H802.3V283.9H798.4V271.4H794.6V285H790.7V261.9H786.8V251.7H782.9V255.8H779V269.1H775.1V279.9H771.2V264.7H767.3V278.3H763.4V288H759.5V263.4H755.6V265H751.7V258.5H747.8V261.9H743.9V252.9H740V258.5H736.1V273.5H732.2V284.8H728.3V293.7H724.4V254.2H720.5V285.2H716.6V258.5H712.7V279.7H708.8V293.3H704.9V288.2H701V288.2H697.1V283.5H693.2V308.7H689.3V300.3H685.4V274.6H681.5V279.5H677.6V275H673.7V263.9H669.8V279.4H665.9V272.8H662V279.7H658.1V277.4H654.2V300.1H650.3V279.8H646.4V299.5H642.5V316.1H638.6V289.1H634.7V304.8H630.8V270.5H626.9V275.1H623V282.5H619.1V277.2H615.2V301.8H611.3V277.6H607.4V256.3H603.5V297.8H599.6V276.2H595.7V290H591.8V297.2H587.9V278.7H584V293.9H580.1V326.8H576.2V299.8H572.3V276.1H568.4V286.1H564.5V268.6H560.6V311.3H556.7V283.3H552.8V283.2H548.9V283.3H545V300.3H541.1V292.9H537.2V309.2H533.3V287.1H529.4V282.3H525.5V326.4H521.6V272.3H517.7V306.6H513.8V300.7H510V301.5H506.1V306.2H502.2V288.4H498.3V311.1H494.4V324.6H490.5V302.1H486.6V295.3H482.7V300.9H478.8V298H474.9V274.4H471V307.3H467.1V317.1H463.2V314.2H459.3V309.1H455.4V350.7H451.5V356.4H447.6V293.2H443.7V308.4H439.8V319.6H435.9V349.4H432V317.2H428.1V320.6H424.2V301H420.3V307.2H416.4V345.8H412.5V324.8H408.6V308.4H404.7V331.1H400.8V309.7H396.9V361.3H393V336.4H389.1V370H385.2V304.7H381.3V320.4H377.4V395.5H373.5V368.7H369.6V353.9H365.7V316.3H361.8V324.4H357.9V310H354V324.5H350.1V408.9H346.2V315.1H342.3V351.1H338.4V356.4H334.5V346.4H330.6V338.5H326.7V342.4H322.8V359.2H318.9V322.9H315V356.4H311.1V378.3H307.2V373.1H303.3V377H299.4V346.4H295.5V356.2H291.6V361.3H287.7V343.8H283.8V349.9H279.9V355.1H276V326.8H272.1V366.5H268.2V352.5H264.3V350.7H260.4V348.4H256.5V339.9H252.6V361.9H248.7V375.9H244.8V340.2H240.9V341.6H237V339.5H233.1V424.7H229.2V396.4H225.4V345.9H221.5V353.2H217.6V344.2H213.7V369.2H209.8V371H205.9V351.7H202V406.7H198.1V395.6H194.2V356.3H190.3V364.1H186.4V360.3H182.5V334.3H178.6V368H174.7V393.8H170.8V382.1H166.9V419H163V397.6H159.1V373.2H155.2V369.3H151.3V386.4H147.4V343H143.5V391.4H139.6V374.3H135.7V392.1H131.8V377.1H127.9V353.1H124V348.7H120.1V375.4H116.2V400.1H112.3V393.3H108.4V380.1H104.5V377.7H100.6V417.1H96.7V362.1H92.8V380.7H88.9V403H85Z" fill="#ff3ceb" fill-opacity="0.078"/>
<path d="M85 390.1V350.3H88.9V348.6H92.8V318.4H96.7V361.5H100.6V344.5H104.5V319.7H108.4V324.7H112.3V316.4H116.2V318.2H120.1V328.2H124V338.5H127.9V352.4H131.8V333.8H135.7V363.2H139.6V316.9H143.5V303.7H147.4V348.8H151.3V328.3H155.2V308.2H159.1V377.7H163V362.2H166.9V353.4H170.8V377.4H174.7V280.1H178.6V342.8H182.5V316H186.4V354.7H190.3V337.9H194.2V311.8H198.1V295.2H202V315.2H205.9V349.4H209.8V362.2H213.7V343.1H217.6V320.1H221.5V348.6H225.4V364.8H229.2V327.5H233.1V316.3H237V367.5H240.9V348.1H244.8V321.4H248.7V317.9H252.6V318.9H256.5V334.9H260.4V351H264.3V332.8H268.2V285.2H272.1V334.9H276V310.2H279.9V293.1H283.8V307.6H287.7V291.3H291.6V349.5H295.5V323.3H299.4V280.9H303.3V329H307.2V332H311.1V299H315V330.7H318.9V329.6H322.8V298.3H326.7V277.7H330.6V336.8H334.5V310.1H338.4V319.5H342.3V334.3H346.2V270.5H350.1V304.3H354V311.7H357.9V273.1H361.8V284.5H365.7V300.1H369.6V322.7H373.5V284.4H377.4V307.9H381.3V318.9H385.2V294.2H389.1V277.9H393V286.6H396.9V285.7H400.8V297.4H404.7V245.1H408.6V301.1H412.5V284.5H416.4V283.8H420.3V262.7H424.2V301.6H428.1V286.6H432V273.7H435.9V282H439.8V245.9H443.7V246H447.6V278.6H451.5V261.5H455.4V249H459.3V297H463.2V272.1H467.1V275.3H471V274.9H474.9V262.3H478.8V277.7H482.7V276.6H486.6V242.3H490.5V284.2H494.4V253.4H498.3V241.6H502.2V300H506.1V255.4H510V280.9H513.8V233.5H517.7V268.5H521.6V234.8H525.5V244.8H529.4V244.5H533.3V281.6H537.2V262.3H541.1V253.2H545V251.2H548.9V233.1H552.8V264.6H556.7V262.3H560.6V236.8H564.5V234.4H568.4V234H572.3V253.7H576.2V234.6H580.1V219.6H584V233.9H587.9V262.6H591.8V234.6H595.7V248.8H599.6V225.3H603.5V234.9H607.4V265.1H611.3V290.5H615.2V245.1H619.1V247.1H623V232.4H626.9V211.9H630.8V211.8H634.7V259.2H638.6V227.2H642.5V245.8H646.4V258.8H650.3V248.2H654.2V231.9H658.1V256.6H662V237.5H665.9V240.2H669.8V233.7H673.7V223.4H677.6V229.8H681.5V220.9H685.4V207.6H689.3V238.7H693.2V207.8H697.1V206.3H701V244H704.9V208.3H708.8V228.5H712.7V230.5H716.6V213.7H720.5V219.4H724.4V231.7H728.3V197H732.2V224.3H736.1V228.1H740V241.1H743.9V253.4H747.8V240.9H751.7V224.2H755.6V208.3H759.5V252.2H763.4V212.5H767.3V234.6H771.2V222.9H775.1V211H779V207.9H782.9V191.4H786.8V231.4H790.7V199.1H794.6V225.8H798.4V199.2H802.3V193.1H806.2V222.8H810.1V213.6H814V184.9H817.9V212.1H821.8V215.8H825.7V205.9H829.6V214.7H833.5V218.8H837.4V191.3H841.3V211.9H845.2V196H849.1V210H853V198.1H856.9V186.8H860.8V223H864.7V226.1H868.6V220.1H872.5V204.9H876.4V194.9H880.3V177H884.2V215.6H888.1V177.3H892V182.6H895.9V190.3H899.8V209.1H903.7V183.7H907.6V195.5H911.5V214.5H915.4V194.9H919.3V195.1H923.2V201.4H927.1V200.6H931V198.5H934.9V212H938.8V221H942.7V220H946.6V209.2H950.5V199.3H954.4V196.7H958.3V220.2H962.2V204.1H966.1V181.4H970V246H973.9V232.6H977.8V204.7H981.7V199.3H985.6V221.4H989.5V203.6H993.4V212.5H997.3V175.4H1001.2V234.7H1005.1V207.5H1009V218.2H1012.9V212.3H1016.8V197.2H1020.7V234.5H1024.6V202.2H1028.5V217.6H1032.4V233.2H1036.3V222.5H1040.2V215.7H1044.1V248.5H1048V224.4H1051.9V226.1H1055.8V218.8H1059.7V243.4H1063.6V235H1067.5V223.2H1071.4V212.3H1075.3V219.3H1079.2V220.2H1083V253.2H1086.9V246.5H1090.8V226.6H1094.7V228.4H1098.6V233.2H1102.5V234.8H1106.4V219.2H1110.3V234.4H1114.2V250.7H1118.1V224H1122V228.6H1125.9V242.3H1129.8V245.8H1133.7V239.6H1137.6V227.6H1141.5V256.8H1145.4V238.8H1149.3V260.5H1153.2V227.5H1157.1V259.5H1161V243.4H1164.9V263.4H1168.8V236H1172.7V251.7H1176.6V249.3H1180.5V249.9H1184.4V259.6H1188.3V255.8H1192.2V290.4H1196.1V273H1200V296.9H1203.9V272.3H1207.8V251.4H1211.7V283.4H1215.6V237.3H1219.5V265.5H1223.4V247.6H1227.3V227.4H1231.2V242.5H1235.1V247H1239V290.3H1242.9V264.6H1246.8V274.8H1250.7V270.2H1254.6V240.3H1258.5V279.5H1262.4V283.2H1266.3V262.1H1270.2V286.4H1274.1V267.4H1278V284.3H1281.9V277.9H1285.8V260.9H1289.7V297.4H1293.6V316.3H1297.5V304.4H1301.4V276.9H1305.3V277H1309.2V273.7H1313.1V317.5H1317V277H1320.9V300.8H1324.8V280.2H1328.7V316.5H1332.6V297.7H1336.5V309.1H1340.4V280H1344.3V276.6H1348.2V313.9H1352.1V305.9H1356V308.5H1359.9V295.6H1363.8V343.8H1367.6V316.7H1371.5V323.1H1375.4V282.6H1379.3V268.4H1383.2V300.5H1387.1V306.6H1391V349.4H1394.9V289.6H1398.8V309.4H1402.7V310.2H1406.6V296H1410.5V312.1H1414.4V360.3H1418.3V329.3H1422.2V321.9H1426.1V328.1H1430V398.3H1433.9V339.6H1437.8V301.5H1441.7V352.4H1445.6V415.4H1449.5V332.9H1453.4V336.9H1457.3V290.8H1461.2V325.4H1465.1V321H1469V326.1H1472.9V290.7H1476.8V315.2H1480.7V305.2H1484.6V314.7H1488.5V298.5H1492.4V332.2H1496.3V327H1500.2V383.2H1504.1V337.1H1508V370.2H1504.1V413.6H1500.2V359.9H1496.3V364H1492.4V334.4H1488.5V348.2H1484.6V345.6H1480.7V348.7H1476.8V327.1H1472.9V356.9H1469V359.8H1465.1V362.5H1461.2V329.2H1457.3V373.3H1453.4V363.8H1449.5V446.6H1445.6V384H1441.7V339.9H1437.8V377.3H1433.9V440.2H1430V362.9H1426.1V361.7H1422.2V364.2H1418.3V401.4H1414.4V340.3H1410.5V327.7H1406.6V347.4H1402.7V350.9H1398.8V333.5H1394.9V386.6H1391V347.1H1387.1V341.5H1383.2V301.9H1379.3V322H1375.4V357.2H1371.5V353.1H1367.6V382.7H1363.8V332.8H1359.9V340.9H1356V344.3H1352.1V351.7H1348.2V311.2H1344.3V325.2H1340.4V346.5H1336.5V345.5H1332.6V352.5H1328.7V321.2H1324.8V335.4H1320.9V312.6H1317V359.9H1313.1V320.2H1309.2V319.7H1305.3V324.3H1301.4V343.9H1297.5V360.6H1293.6V336H1289.7V301.2H1285.8V323.8H1281.9V321.2H1278V308.4H1274.1V321H1270.2V303.7H1266.3V323.5H1262.4V318.8H1258.5V285.3H1254.6V316.5H1250.7V311.6H1246.8V308.6H1242.9V334.2H1239V293.5H1235.1V289.7H1231.2V272.7H1227.3V285.4H1223.4V306.2H1219.5V284.6H1215.6V329.3H1211.7V295H1207.8V317.9H1203.9V335H1200V313.7H1196.1V331.2H1192.2V301.2H1188.3V305.3H1184.4V298.9H1180.5V288.4H1176.6V295.2H1172.7V281.7H1168.8V307.6H1164.9V286.5H1161V304.9H1157.1V279.4H1153.2V313.9H1149.3V287.1H1145.4V302.2H1141.5V271.9H1137.6V282.5H1133.7V296.8H1129.8V290.9H1125.9V270.1H1122V272.7H1118.1V295.6H1114.2V278.8H1110.3V268.6H1106.4V285.6H1102.5V278.3H1098.6V277.1H1094.7V272.7H1090.8V302H1086.9V297.1H1083V269.2H1079.2V267.4H1075.3V262.4H1071.4V271.8H1067.5V292.5H1063.6V297.3H1059.7V264.1H1055.8V263.1H1051.9V281.1H1048V296.8H1044.1V259.2H1040.2V268.9H1036.3V274.7H1032.4V266.7H1028.5V250.7H1024.6V283.1H1020.7V243.9H1016.8V250.1H1012.9V262.3H1009V250H1005.1V286.7H1001.2V225.4H997.3V258.4H993.4V257.1H989.5V276.8H985.6V253.2H981.7V256.5H977.8V284.8H973.9V295.8H970V231.8H966.1V256.5H962.2V275.5H958.3V244H954.4V250.1H950.5V257.7H946.6V265.9H942.7V267.2H938.8V259.5H934.9V253.4H931V253.7H927.1V253.1H923.2V253.5H919.3V244H915.4V256.7H911.5V242.2H907.6V238.3H903.7V264.9H899.8V243.1H895.9V241.4H892V231H888.1V269.1H884.2V234H880.3V249H876.4V246.9H872.5V265.5H868.6V278.4H864.7V268.4H860.8V239.5H856.9V254H853V257.5H849.1V242.1H845.2V252.6H841.3V245.3H837.4V270.9H833.5V252.3H829.6V257.7H825.7V261.9H821.8V267.3H817.9V239.3H814V266.3H810.1V266.9H806.2V246.5H802.3V244.7H798.4V280.4H794.6V251H790.7V282.3H786.8V234.2H782.9V250.8H779V258.5H775.1V272.1H771.2V284.9H767.3V260.3H763.4V295.8H759.5V258.2H755.6V270.1H751.7V290H747.8V290.8H743.9V283.8H740V270.9H736.1V278.4H732.2V250.2H728.3V270.2H724.4V266.5H720.5V256.6H716.6V271.6H712.7V279H708.8V261.9H704.9V288.1H701V259.5H697.1V257.3H693.2V280.8H689.3V252.5H685.4V279.5H681.5V283.4H677.6V269.6H673.7V281.2H669.8V290.7H665.9V285.9H662V303.3H658.1V277.9H654.2V283.8H650.3V304.9H646.4V301.9H642.5V275.7H638.6V300.1H634.7V266.9H630.8V263H626.9V273.7H623V294H619.1V298.7H615.2V326H611.3V308.3H607.4V284.2H603.5V266.2H599.6V296.8H595.7V277.4H591.8V306.7H587.9V273.2H584V267.2H580.1V276.5H576.2V294.4H572.3V286H568.4V275.3H564.5V283.7H560.6V307.4H556.7V310.3H552.8V280.1H548.9V293.4H545V294.8H541.1V297.3H537.2V332.4H533.3V285.3H529.4V293.6H525.5V278.3H521.6V319H517.7V273.1H513.8V324H510V303.3H506.1V340.3H502.2V285.5H498.3V298.4H494.4V333.3H490.5V290.4H486.6V323.3H482.7V322.2H478.8V296.4H474.9V320.9H471V312.9H467.1V322.2H463.2V341.3H459.3V297.6H455.4V302.6H451.5V315.9H447.6V285.8H443.7V292.2H439.8V329.4H435.9V317.2H432V332.4H428.1V349.1H424.2V302H420.3V324.1H416.4V321.5H412.5V349.4H408.6V284.5H404.7V339.2H400.8V328.2H396.9V318.3H393V317.5H389.1V334.9H385.2V361.5H381.3V349H377.4V326.1H373.5V370.1H369.6V337.6H365.7V321H361.8V314.6H357.9V351H354V345.5H350.1V306.8H346.2V376.4H342.3V354.5H338.4V347.7H334.5V370.3H330.6V317.7H326.7V334H322.8V366.5H318.9V369.3H315V341.9H311.1V366.6H307.2V367.2H303.3V322.8H299.4V363.9H295.5V385.1H291.6V334.8H287.7V342.3H283.8V327.2H279.9V350.9H276V370.4H272.1V317H268.2V370.7H264.3V379.5H260.4V366.5H256.5V353.6H252.6V360.5H248.7V361.1H244.8V378.8H240.9V405.2H237V347.1H233.1V359.3H229.2V404H225.4V382.9H221.5V357.8H217.6V375.5H213.7V401.3H209.8V377.2H205.9V349H202V331.7H198.1V346.6H194.2V373.5H190.3V388H186.4V346H182.5V377.7H178.6V319.9H174.7V412.3H170.8V390.2H166.9V391.2H163V415.7H159.1V339.5H155.2V361.6H151.3V381.2H147.4V339.2H143.5V352.3H139.6V404.8H135.7V369.7H131.8V387.3H127.9V369.9H124V362.8H120.1V347H116.2V352.4H112.3V363.8H108.4V350.4H104.5V376.8H100.6V397.3H96.7V347H92.8V384.1H88.9V390.1H85Z" fill="#ff3ceb" fill-opacity="0.078"/>
<path d="M85 366.3V327.6H88.9V333.5H92.8V353.9H96.7V329.5H100.6V313.6H104.5V328.8H108.4V324H112.3V352.7H116.2V335.5H120.1V377.3H124V322.1H127.9V411.7H131.8V336.6H135.7V343.7H139.6V338.7H143.5V359.9H147.4V340.9H151.3V346.4H155.2V369.7H159.1V377.5H163V347.6H166.9V356.6H170.8V342.5H174.7V317.9H178.6V322.5H182.5V383.1H186.4V361.8H190.3V333.9H194.2V336H198.1V332.2H202V416.1H205.9V327.3H209.8V345.2H213.7V328.6H217.6V327H221.5V328.7H225.4V315.4H229.2V322.8H233.1V335.6H237V353.8H240.9V299.8H244.8V317.9H248.7V340.1H252.6V301.3H256.5V318H260.4V298.7H264.3V326.6H268.2V305.1H272.1V316.4H276V364.7H279.9V323.8H283.8V313H287.7V307.9H291.6V314.5H295.5V314.6H299.4V350.9H303.3V294.3H307.2V299.7H311.1V319.1H315V307.4H318.9V274H322.8V325.9H326.7V334.9H330.6V267.7H334.5V362.6H338.4V285.8H342.3V287.7H346.2V329.2H350.1V318.4H354V291.5H357.9V321.6H361.8V299.3H365.7V354.9H369.6V270H373.5V275.6H377.4V296.8H381.3V299H385.2V338.7H389.1V269.8H393V279.7H396.9V283.5H400.8V267.7H404.7V281.8H408.6V321.8H412.5V280.5H416.4V275.2H420.3V304.4H424.2V281.3H428.1V285.2H432V292H435.9V267.3H439.8V282H443.7V253.2H447.6V281.4H451.5V277.5H455.4V257.7H459.3V265.7H463.2V225.7H467.1V255.8H471V258.4H474.9V261.5H478.8V289.1H482.7V245.7H486.6V256.5H490.5V254.4H494.4V295.9H498.3V260.5H502.2V285.6H506.1V247.1H510V257.2H513.8V273.5H517.7V247H521.6V262.6H525.5V260.1H529.4V249.3H533.3V256.3H537.2V234.9H541.1V220.4H545V284.2H548.9V269.2H552.8V261.1H556.7V245.9H560.6V225.6H564.5V244.9H568.4V251.7H572.3V263.9H576.2V255.3H580.1V232.2H584V229.3H587.9V231.6H591.8V231.8H595.7V217H599.6V257.7H603.5V241.4H607.4V227.7H611.3V238.4H615.2V247.7H619.1V233.8H623V228.4H626.9V249.7H630.8V253.3H634.7V229.3H638.6V273.8H642.5V258.6H646.4V229.9H650.3V216.2H654.2V250.1H658.1V230.7H662V204.7H665.9V238.1H669.8V229H673.7V222.4H677.6V225.6H681.5V258.6H685.4V199.5H689.3V232H693.2V221.5H697.1V236H701V236.1H704.9V211.3H708.8V230.4H712.7V227.7H716.6V224.3H720.5V212.2H724.4V239.5H728.3V229.6H732.2V221.9H736.1V217.9H740V224.6H743.9V202.5H747.8V194.9H751.7V212.6H755.6V223.5H759.5V219H763.4V232H767.3V223.3H771.2V246.6H775.1V236.5H779V215.3H782.9V229.7H786.8V199.9H790.7V195.4H794.6V216.1H798.4V197.3H802.3V220.5H806.2V204.7H810.1V201.5H814V202.5H817.9V213H821.8V213.5H825.7V203.2H829.6V199.4H833.5V206.9H837.4V223H841.3V219H845.2V209H849.1V205.4H853V198.4H856.9V221.6H860.8V240.3H864.7V211.1H868.6V207.1H872.5V219.6H876.4V190.5H880.3V179.2H884.2V201.9H888.1V203.8H892V196.9H895.9V205.3H899.8V221.8H903.7V222.2H907.6V207.2H911.5V207.8H915.4V205.4H919.3V230.3H923.2V213.3H927.1V210H931V208.6H934.9V186.1H938.8V237.8H942.7V184.1H946.6V218.7H950.5V212.1H954.4V215.4H958.3V214.9H962.2V190.2H966.1V216.5H970V202.4H973.9V201.7H977.8V188.6H981.7V211.6H985.6V191.4H989.5V223.4H993.4V211.2H997.3V209.2H1001.2V223H1005.1V213.4H1009V229.3H1012.9V213.1H1016.8V206.6H1020.7V206.1H1024.6V237.2H1028.5V217.7H1032.4V223.9H1036.3V220.4H1040.2V216.5H1044.1V208.7H1048V219H1051.9V209.5H1055.8V235H1059.7V244.5H1063.6V224.7H1067.5V223.8H1071.4V227.6H1075.3V239.8H1079.2V249.7H1083V224.1H1086.9V215.7H1090.8V242.3H1094.7V241.3H1098.6V235.4H1102.5V247H1106.4V227.1H1110.3V214.7H1114.2V218.2H1118.1V217.4H1122V217.4H1125.9V253.3H1129.8V224H1133.7V239.3H1137.6V243.7H1141.5V221H1145.4V244.2H1149.3V221H1153.2V249.6H1157.1V263.3H1161V250H1164.9V234H1168.8V236.4H1172.7V279.9H1176.6V280.3H1180.5V279.7H1184.4V264.6H1188.3V259.5H1192.2V268H1196.1V248.8H1200V304.2H1203.9V244.7H1207.8V285.4H1211.7V232.9H1215.6V261.1H1219.5V244.8H1223.4V259.2H1227.3V274.1H1231.2V270.7H1235.1V280.3H1239V273H1242.9V259.8H1246.8V265.3H1250.7V253.1H1254.6V270H1258.5V259.7H1262.4V270.4H1266.3V270.6H1270.2V280.8H1274.1V326H1278V300.3H1281.9V285.4H1285.8V302.4H1289.7V302.6H1293.6V296.8H1297.5V290.5H1301.4V322.6H1305.3V307H1309.2V283.3H1313.1V294.8H1317V292.2H1320.9V287.3H1324.8V314.2H1328.7V322H1332.6V297H1336.5V315.6H1340.4V292.2H1344.3V310.1H1348.2V283.9H1352.1V290.3H1356V298H1359.9V301.3H1363.8V310.8H1367.6V369H1371.5V293H1375.4V308.7H1379.3V286H1383.2V303.4H1387.1V343H1391V310.1H1394.9V312.1H1398.8V341.9H1402.7V318.7H1406.6V300.7H1410.5V353.8H1414.4V314.4H1418.3V352.9H1422.2V386.1H1426.1V328.8H1430V315.5H1433.9V322.9H1437.8V306.6H1441.7V320.5H1445.6V317.9H1449.5V299.3H1453.4V312.7H1457.3V312.3H1461.2V301.2H1465.1V320H1469V363.8H1472.9V314.6H1476.8V302.8H1480.7V317.4H1484.6V345.3H1488.5V314.9H1492.4V323.6H1496.3V368.3H1500.2V357.8H1504.1V315.1H1508V349.9H1504.1V399.9H1500.2V404.5H1496.3V359.9H1492.4V343.6H1488.5V374H1484.6V349.9H1480.7V338.7H1476.8V352.9H1472.9V406.2H1469V358.5H1465.1V340.3H1461.2V345.2H1457.3V339.7H1453.4V334.9H1449.5V358.8H1445.6V357.9H1441.7V346H1437.8V355.5H1433.9V353.3H1430V364.3H1426.1V420.4H1422.2V386.5H1418.3V355.1H1414.4V388.3H1410.5V331.5H1406.6V359H1402.7V377.8H1398.8V348.8H1394.9V350.3H1391V379.7H1387.1V345.7H1383.2V317.8H1379.3V348H1375.4V330.5H1371.5V400.1H1367.6V349.4H1363.8V338.2H1359.9V338.5H1356V327.3H1352.1V323.4H1348.2V352.4H1344.3V334H1340.4V355H1336.5V335.1H1332.6V355.3H1328.7V357.3H1324.8V327.1H1320.9V332.6H1317V326.3H1313.1V324H1309.2V343.4H1305.3V359.7H1301.4V328.1H1297.5V337.4H1293.6V335.8H1289.7V344.5H1285.8V333.5H1281.9V342.6H1278V372.9H1274.1V314.8H1270.2V319.4H1266.3V315.5H1262.4V306.2H1258.5V307.4H1254.6V296.2H1250.7V309.3H1246.8V301.2H1242.9V310.6H1239V321.5H1235.1V318H1231.2V319.9H1227.3V299.5H1223.4V293.3H1219.5V305.1H1215.6V282.2H1211.7V330H1207.8V286.7H1203.9V343H1200V292.8H1196.1V310.6H1192.2V297.6H1188.3V304.5H1184.4V316H1180.5V330.9H1176.6V330.6H1172.7V278.1H1168.8V279.5H1164.9V297H1161V311H1157.1V291H1153.2V271.8H1149.3V284.1H1145.4V261.8H1141.5V285.9H1137.6V290.2H1133.7V280.1H1129.8V295.5H1125.9V257.5H1122V273.9H1118.1V261.4H1114.2V258.9H1110.3V280.8H1106.4V289.4H1102.5V289.1H1098.6V287.1H1094.7V282.9H1090.8V263H1086.9V279.6H1083V289.9H1079.2V286.4H1075.3V281.1H1071.4V270.1H1067.5V273.1H1063.6V298.2H1059.7V288.3H1055.8V266.5H1051.9V273.7H1048V262.9H1044.1V263.9H1040.2V268.7H1036.3V268.9H1032.4V261.2H1028.5V280.8H1024.6V246.3H1020.7V258.1H1016.8V262.6H1012.9V278.4H1009V263.8H1005.1V278.1H1001.2V260.5H997.3V259H993.4V266.4H989.5V244.5H985.6V259.8H981.7V244.9H977.8V244.8H973.9V250.3H970V266.1H966.1V247.4H962.2V260.5H958.3V266.3H954.4V259.6H950.5V266.7H946.6V230.1H942.7V283.8H938.8V245H934.9V249.4H931V254.6H927.1V259.4H923.2V272.1H919.3V256.1H915.4V255.8H911.5V255.5H907.6V266H903.7V272.2H899.8V252.6H895.9V238.2H892V250.7H888.1V250.3H884.2V237.4H880.3V247.7H876.4V270.8H872.5V249.5H868.6V266.5H864.7V279.9H860.8V260.5H856.9V245H853V257.1H849.1V252.6H845.2V275.4H841.3V273H837.4V253.3H833.5V245.6H829.6V255.3H825.7V267.5H821.8V263.3H817.9V257H814V259.5H810.1V250H806.2V273.2H802.3V251.9H798.4V261.2H794.6V250.9H790.7V247.2H786.8V287.7H782.9V259.1H779V284.9H775.1V293.8H771.2V266.1H767.3V282.8H763.4V262.6H759.5V278H755.6V252H751.7V248.1H747.8V249.6H743.9V266.1H740V263.9H736.1V279.5H732.2V274.6H728.3V285.1H724.4V266.2H720.5V273H716.6V267.3H712.7V277H708.8V257.8H704.9V275.1H701V292.5H697.1V263.7H693.2V281.9H689.3V250H685.4V299.9H681.5V271.2H677.6V268.4H673.7V271.1H669.8V290.7H665.9V252.6H662V272.4H658.1V287.6H654.2V264.5H650.3V279.8H646.4V297.1H642.5V322H638.6V284H634.7V288.3H630.8V293H626.9V270.8H623V289.7H619.1V293.5H615.2V286.4H611.3V271.3H607.4V287.1H603.5V299.9H599.6V267.1H595.7V282.8H591.8V277H587.9V271.4H584V276.6H580.1V302.2H576.2V303H572.3V290.9H568.4V293.8H564.5V278.9H560.6V293.9H556.7V313.1H552.8V305.5H548.9V325.9H545V270.8H541.1V283.9H537.2V298.7H533.3V296.5H529.4V295.8H525.5V315.7H521.6V283H517.7V321.2H513.8V303.3H510V286.6H506.1V325.9H502.2V303.2H498.3V341.2H494.4V295.3H490.5V294.7H486.6V290.5H482.7V329.5H478.8V304.5H474.9V299.5H471V303.1H467.1V265.6H463.2V308.2H459.3V299.4H455.4V312.1H451.5V326.4H447.6V294.6H443.7V321.8H439.8V311.1H435.9V332.6H432V332.4H428.1V319.9H424.2V344.4H420.3V308.8H416.4V328.3H412.5V357.2H408.6V328.4H404.7V314.7H400.8V322.7H396.9V324.9H393V314.8H389.1V376.8H385.2V332.5H381.3V333.8H377.4V317.4H373.5V307.9H369.6V388.3H365.7V338.7H361.8V359.8H357.9V335H354V362.7H350.1V360.5H346.2V334.3H342.3V323.4H338.4V399.7H334.5V312H330.6V367.8H326.7V364.4H322.8V314H318.9V350.8H315V357.9H311.1V341.9H307.2V333.2H303.3V390.3H299.4V348.3H295.5V346.3H291.6V343.5H287.7V348.6H283.8V361.5H279.9V393.7H276V358.3H272.1V343.8H268.2V360.3H264.3V338.3H260.4V357H256.5V334.1H252.6V381.1H248.7V351.3H244.8V333H240.9V384.3H237V369.7H233.1V356.6H229.2V349.2H225.4V359H221.5V363.4H217.6V361.8H213.7V381.1H209.8V359.5H205.9V452.1H202V362.9H198.1V369.9H194.2V363.1H190.3V399.7H186.4V412.4H182.5V362.3H178.6V355H174.7V376.8H170.8V388.8H166.9V384.5H163V409.3H159.1V401.4H155.2V376.8H151.3V375.8H147.4V397.2H143.5V376.3H139.6V378.8H135.7V371.3H131.8V441.3H127.9V355.2H124V414.4H120.1V364.7H116.2V389.8H112.3V362.6H108.4V365.8H104.5V348H100.6V359.5H96.7V389.4H92.8V373.3H88.9V366.3H85Z" fill="#ff3ceb" fill-opacity="0.078"/>
<path d="M85 360.4V332H88.9V332.2H92.8V340.7H96.7V327.7H100.6V343.1H104.5V389.3H108.4V341.7H112.3V368.6H116.2V336.6H120.1V329.4H124V359.3H127.9V398.5H131.8V393.8H135.7V351.7H139.6V352.7H143.5V386.4H147.4V326.9H151.3V339.8H155.2V403.7H159.1V367.3H163V383H166.9V336.9H170.8V359.4H174.7V314.4H178.6V341.1H182.5V328.8H186.4V313.4H190.3V337.7H194.2V307.3H198.1V381.1H202V361H205.9V301.5H209.8V301.9H213.7V361.8H217.6V317.8H221.5V290.7H225.4V330.4H229.2V297.5H233.1V375.8H237V313.7H240.9V361.1H244.8V318.2H248.7V355.4H252.6V296.3H256.5V355.7H260.4V344.4H264.3V335.1H268.2V342.5H272.1V288.4H276V333.5H279.9V320.8H283.8V379.2H287.7V355.9H291.6V353.2H295.5V310.6H299.4V344.6H303.3V316.3H307.2V300.7H311.1V310.7H315V306.4H318.9V311.6H322.8V291.3H326.7V321.4H330.6V311.7H334.5V346.4H338.4V259.7H342.3V299.9H346.2V305.7H350.1V308.4H354V280.5H357.9V278.9H361.8V297.1H365.7V270.4H369.6V297.7H373.5V309.6H377.4V289.1H381.3V285.9H385.2V286.4H389.1V273H393V324.5H396.9V356.5H400.8V287.4H404.7V291.8H408.6V283.2H412.5V285.3H416.4V304.8H420.3V312.1H424.2V279.5H428.1V263.8H432V287.6H435.9V294.2H439.8V266.3H443.7V297.8H447.6V292.1H451.5V273.2H455.4V276.1H459.3V263.2H463.2V247.3H467.1V257H471V272.9H474.9V265.1H478.8V276.1H482.7V267.9H486.6V257.6H490.5V262H494.4V272.2H498.3V243.7H502.2V249.5H506.1V248.7H510V283.7H513.8V249.9H517.7V254.1H521.6V248.1H525.5V253.6H529.4V282H533.3V271.5H537.2V253.7H541.1V224.8H545V282H548.9V236.1H552.8V238.8H556.7V225.7H560.6V237.8H564.5V233.3H568.4V228.1H572.3V239.5H576.2V236.7H580.1V242.6H584V263.7H587.9V273.7H591.8V263H595.7V235.2H599.6V247.7H603.5V230.3H607.4V222.6H611.3V272.2H615.2V231.2H619.1V247.8H623V264.4H626.9V277.6H630.8V217.5H634.7V245.1H638.6V227.5H642.5V250.4H646.4V281.4H650.3V248.7H654.2V226.7H658.1V232.1H662V222.9H665.9V229.9H669.8V227.6H673.7V221.5H677.6V236.5H681.5V224.9H685.4V270.2H689.3V244.3H693.2V216.6H697.1V216.2H701V208.4H704.9V230.4H708.8V223H712.7V204.1H716.6V217H720.5V213.1H724.4V239.4H728.3V207.4H732.2V227.6H736.1V211.8H740V221.2H743.9V211.7H747.8V228H751.7V224H755.6V226.5H759.5V202.9H763.4V221.7H767.3V220.3H771.2V220.1H775.1V203H779V208H782.9V229H786.8V215.8H790.7V235.2H794.6V220.5H798.4V218.7H802.3V205H806.2V206.7H810.1V187.4H814V234.2H817.9V207.2H821.8V217.3H825.7V182.3H829.6V187.5H833.5V200H837.4V194.9H841.3V229.3H845.2V188.1H849.1V204.7H853V173.6H856.9V210H860.8V205.6H864.7V204.4H868.6V208.7H872.5V200.2H876.4V217.6H880.3V199H884.2V216.9H888.1V209.9H892V189.5H895.9V211.8H899.8V206.6H903.7V201.1H907.6V186H911.5V206.1H915.4V231.2H919.3V196.7H923.2V203.1H927.1V213.4H931V183.6H934.9V214.7H938.8V208.6H942.7V220.6H946.6V192.2H950.5V201H954.4V220.4H958.3V224.8H962.2V203.8H966.1V204.1H970V193.5H973.9V212H977.8V198.5H981.7V218.6H985.6V187.8H989.5V195.7H993.4V224.6H997.3V196.9H1001.2V222.8H1005.1V212.4H1009V213.7H1012.9V218.7H1016.8V187.8H1020.7V241.1H1024.6V213H1028.5V200.6H1032.4V233.2H1036.3V234.8H1040.2V237.5H1044.1V233.7H1048V223H1051.9V215.8H1055.8V226.3H1059.7V221.3H1063.6V231.5H1067.5V215.9H1071.4V237.9H1075.3V206.2H1079.2V240.8H1083V200.2H1086.9V250.4H1090.8V210.7H1094.7V231.6H1098.6V219.1H1102.5V233.2H1106.4V240H1110.3V224.6H1114.2V223H1118.1V235.8H1122V204.5H1125.9V234.4H1129.8V243.3H1133.7V247.5H1137.6V226.5H1141.5V265.2H1145.4V244H1149.3V221H1153.2V214.7H1157.1V273.5H1161V272H1164.9V266.5H1168.8V221.3H1172.7V256.1H1176.6V288.1H1180.5V278.8H1184.4V245.7H1188.3V273.2H1192.2V254.4H1196.1V282.9H1200V257.4H1203.9V267.4H1207.8V262.7H1211.7V253.7H1215.6V240H1219.5V277.5H1223.4V271.9H1227.3V245.4H1231.2V257.6H1235.1V281.9H1239V256.9H1242.9V291.3H1246.8V253.9H1250.7V268H1254.6V294.1H1258.5V261.5H1262.4V264.4H1266.3V287.4H1270.2V300.6H1274.1V290.3H1278V305.4H1281.9V307.1H1285.8V274.3H1289.7V297.8H1293.6V288.2H1297.5V289.6H1301.4V276.6H1305.3V324.2H1309.2V305.7H1313.1V300.2H1317V297.8H1320.9V331.8H1324.8V309H1328.7V306.7H1332.6V294H1336.5V274.4H1340.4V297.9H1344.3V319.8H1348.2V291.3H1352.1V296.2H1356V333H1359.9V290H1363.8V303.5H1367.6V281.2H1371.5V324.5H1375.4V326.1H1379.3V304.5H1383.2V342.4H1387.1V329H1391V325.2H1394.9V347.2H1398.8V320.7H1402.7V299.1H1406.6V317.4H1410.5V286.8H1414.4V315.1H1418.3V287.2H1422.2V291.2H1426.1V317H1430V311.1H1433.9V347.8H1437.8V356.9H1441.7V342.4H1445.6V364H1449.5V300.4H1453.4V296.9H1457.3V319.9H1461.2V363.3H1465.1V327.6H1469V340.9H1472.9V297.6H1476.8V354.2H1480.7V269.1H1484.6V317.3H1488.5V335.8H1492.4V317.6H1496.3V342.2H1500.2V329.6H1504.1V299.8H1508V330.9H1504.1V365.2H1500.2V383.2H1496.3V358H1492.4V378.4H1488.5V349H1484.6V303.5H1480.7V395.1H1476.8V336.8H1472.9V373.4H1469V362.8H1465.1V398.5H1461.2V363.3H1457.3V334.5H1453.4V341H1449.5V399.7H1445.6V376.5H1441.7V396.6H1437.8V378.6H1433.9V352H1430V355.4H1426.1V326.6H1422.2V324.2H1418.3V352.1H1414.4V319.5H1410.5V355.3H1406.6V341.6H1402.7V362.3H1398.8V384H1394.9V355H1391V365.2H1387.1V379.3H1383.2V340.3H1379.3V368.3H1375.4V362.8H1371.5V323H1367.6V342.7H1363.8V330.6H1359.9V375H1356V335.1H1352.1V330.3H1348.2V361H1344.3V343.5H1340.4V313.6H1336.5V325.4H1332.6V339.2H1328.7V351.6H1324.8V371.4H1320.9V330.8H1317V332.2H1313.1V353H1309.2V360H1305.3V318.1H1301.4V329.5H1297.5V327.9H1293.6V341.5H1289.7V314.4H1285.8V340.1H1281.9V351.8H1278V334.3H1274.1V343H1270.2V331.2H1266.3V310.2H1262.4V305.8H1258.5V338.6H1254.6V314.6H1250.7V305H1246.8V327.7H1242.9V304.1H1239V319.2H1235.1V301.6H1231.2V295.1H1227.3V310H1223.4V319.5H1219.5V284H1215.6V291.8H1211.7V305.3H1207.8V309.2H1203.9V311.2H1200V318.7H1196.1V296.4H1192.2V321H1188.3V288.9H1184.4V325.9H1180.5V325.2H1176.6V299H1172.7V268.8H1168.8V307.5H1164.9V315H1161V315.8H1157.1V263.2H1153.2V270.8H1149.3V283.4H1145.4V314.9H1141.5V271.9H1137.6V291.3H1133.7V295H1129.8V279.5H1125.9V257.7H1122V284.5H1118.1V265H1114.2V264.8H1110.3V289H1106.4V282.7H1102.5V270.5H1098.6V272H1094.7V263.9H1090.8V293.3H1086.9V248.6H1083V280.1H1079.2V257.7H1075.3V277.4H1071.4V272.1H1067.5V282.6H1063.6V265H1059.7V284.9H1055.8V268.8H1051.9V270.9H1048V285H1044.1V280.9H1040.2V278.2H1036.3V279.4H1032.4V252.8H1028.5V265.6H1024.6V291.6H1020.7V232.2H1016.8V275.8H1012.9V259.5H1009V261.1H1005.1V273.9H1001.2V250.1H997.3V270.8H993.4V249.4H989.5V246.1H985.6V272.8H981.7V248.7H977.8V260.5H973.9V242.9H970V258.5H966.1V261.5H962.2V273.4H958.3V264.2H954.4V248.1H950.5V243.3H946.6V263.9H942.7V251.8H938.8V266.8H934.9V223.4H931V269.3H927.1V253H923.2V252.9H919.3V275.5H915.4V253.6H911.5V237.7H907.6V249.7H903.7V251.1H899.8V258.5H895.9V239.2H892V269H888.1V268.3H884.2V257.3H880.3V264.4H876.4V251H872.5V255.9H868.6V252.7H864.7V250.7H860.8V255H856.9V215.9H853V249.4H849.1V240.2H845.2V279.7H841.3V244H837.4V245.5H833.5V234.2H829.6V229H825.7V264.1H821.8V249.9H817.9V292H814V236.5H810.1V258.7H806.2V253.3H802.3V265.8H798.4V267.4H794.6V278.5H790.7V258.7H786.8V269.9H782.9V252H779V253.3H775.1V269.2H771.2V271.9H767.3V272.5H763.4V252.9H759.5V274.1H755.6V270.4H751.7V270.6H747.8V252.8H743.9V273.5H740V260.9H736.1V265.4H732.2V254.7H728.3V293.1H724.4V253H720.5V257.3H716.6V259.9H712.7V277.5H708.8V279.8H704.9V256.7H701V269H697.1V269.8H693.2V290.4H689.3V313.8H685.4V271.7H681.5V292.6H677.6V259H673.7V274H669.8V279.7H665.9V276.8H662V271.6H658.1V272.7H654.2V286.2H650.3V321.8H646.4V295.4H642.5V267.7H638.6V293H634.7V263.1H630.8V319.1H626.9V307.6H623V290.2H619.1V279.4H615.2V314.9H611.3V275.7H607.4V282.8H603.5V284.7H599.6V281.2H595.7V311.3H591.8V317.7H587.9V306.6H584V288.3H580.1V287.3H576.2V283H572.3V269.4H568.4V286H564.5V289.8H560.6V266.1H556.7V285.2H552.8V288.3H548.9V324.8H545V268.3H541.1V294.8H537.2V313.9H533.3V323H529.4V304.6H525.5V286.4H521.6V296.8H517.7V286.6H513.8V326.4H510V294H506.1V290.4H502.2V294.3H498.3V309.2H494.4V308.2H490.5V304.8H486.6V305.2H482.7V322.7H478.8V301.8H474.9V314.9H471V296.7H467.1V294H463.2V310.1H459.3V322.6H455.4V319.5H451.5V326.7H447.6V343.3H443.7V306.2H439.8V331.5H435.9V324.4H432V299.9H428.1V318.6H424.2V345.4H420.3V340.2H416.4V325.7H412.5V321.4H408.6V329.1H404.7V326.4H400.8V396.9H396.9V362H393V316.2H389.1V323.3H385.2V329.5H381.3V328.5H377.4V351.6H373.5V333.3H369.6V310.4H365.7V337.1H361.8V314.6H357.9V324.4H354V343.3H350.1V339.4H346.2V338.6H342.3V301H338.4V387.7H334.5V347.4H330.6V358.1H326.7V323.1H322.8V350.7H318.9V338.2H315V343H311.1V344.7H307.2V356.3H303.3V377H299.4V345.3H295.5V389.9H291.6V399.2H287.7V417.4H283.8V363.4H279.9V370H276V321.6H272.1V384.3H268.2V369H264.3V381.9H260.4V393.6H256.5V334.1H252.6V395.7H248.7V355.2H244.8V394.9H240.9V353.2H237V416.8H233.1V326.3H229.2V366.7H225.4V328.2H221.5V355.1H217.6V403.4H213.7V341H209.8V339.3H205.9V393.7H202V422H198.1V341.2H194.2V374.9H190.3V352.8H186.4V359.2H182.5V370.4H178.6V348.5H174.7V392H170.8V371.3H166.9V419.6H163V400.5H159.1V440.2H155.2V378.2H151.3V358.3H147.4V419.1H143.5V389.6H139.6V380.5H135.7V423.6H131.8V437H127.9V390.4H124V364.4H120.1V376H116.2V399.5H112.3V376.2H108.4V422.9H104.5V381.5H100.6V363.7H96.7V375H92.8V363.5H88.9V360.4H85Z" fill="#ff3ceb" fill-opacity="0.078"/>
<path d="M85 364.2V337.9H88.9V391.5H92.8V334.5H96.7V329H100.6V319.7H104.5V361.9H108.4V346.5H112.3V328H116.2V383.2H120.1V332.1H124V339.4H127.9V333.6H131.8V318.7H135.7V336.1H139.6V312.4H143.5V341H147.4V379H151.3V341.3H155.2V349.7H159.1V364.4H163V346.5H166.9V366.9H170.8V332.9H174.7V360.4H178.6V296.5H182.5V317.2H186.4V313.5H190.3V316.1H194.2V293.3H198.1V348.2H202V313.2H205.9V388.6H209.8V361.3H213.7V360.7H217.6V326.6H221.5V322.8H225.4V366.3H229.2V327.9H233.1V377.5H237V313.2H240.9V335.7H244.8V374.7H248.7V358.2H252.6V322.8H256.5V336.6H260.4V338.2H264.3V353H268.2V291H272.1V304.9H276V306.2H279.9V298.7H283.8V317.1H287.7V312H291.6V318.3H295.5V341.8H299.4V313.8H303.3V286.9H307.2V305.3H311.1V314.1H315V310.3H318.9V348.4H322.8V321.4H326.7V296H330.6V335.2H334.5V292.3H338.4V308.6H342.3V332.6H346.2V314.6H350.1V293.2H354V295.9H357.9V296.2H361.8V288.4H365.7V292.4H369.6V320H373.5V306.5H377.4V294.7H381.3V282H385.2V318H389.1V292.8H393V308.3H396.9V300.6H400.8V274.8H404.7V261.8H408.6V268.3H412.5V275.5H416.4V336.6H420.3V283.5H424.2V285.5H428.1V294H432V258H435.9V273.5H439.8V275.6H443.7V310.3H447.6V274.3H451.5V284.9H455.4V297.9H459.3V268.4H463.2V269.6H467.1V265.8H471V290.3H474.9V260.7H478.8V289.8H482.7V268.3H486.6V251.3H490.5V282.7H494.4V262.7H498.3V254.2H502.2V240.8H506.1V249.8H510V251.3H513.8V267.6H517.7V262.3H521.6V272.1H525.5V248.2H529.4V263.4H533.3V278.2H537.2V244.7H541.1V274.8H545V268.3H548.9V243.4H552.8V258.1H556.7V257H560.6V257.9H564.5V234.9H568.4V259.4H572.3V230.7H576.2V251.2H580.1V257.1H584V261H587.9V242.8H591.8V240.3H595.7V223.3H599.6V239.1H603.5V252.5H607.4V258.1H611.3V228.1H615.2V255.5H619.1V236.9H623V232.5H626.9V221H630.8V210H634.7V211.6H638.6V259.3H642.5V228.3H646.4V247.7H650.3V245.8H654.2V235.2H658.1V231.2H662V260.7H665.9V241.1H669.8V257.6H673.7V222.4H677.6V223.4H681.5V259.1H685.4V195.7H689.3V216.7H693.2V215.5H697.1V233.8H701V227.3H704.9V222.1H708.8V219.1H712.7V220.2H716.6V204.8H720.5V238H724.4V205.9H728.3V206.6H732.2V228.8H736.1V231.2H740V230H743.9V216H747.8V245.5H751.7V224.6H755.6V239.1H759.5V205.2H763.4V200.3H767.3V209.8H771.2V232.2H775.1V198.8H779V207.4H782.9V217.3H786.8V211.4H790.7V208.4H794.6V213.2H798.4V203.4H802.3V208.1H806.2V199.1H810.1V212.5H814V220H817.9V222.7H821.8V218.7H825.7V217.2H829.6V219.8H833.5V204.7H837.4V205.9H841.3V193.5H845.2V210.2H849.1V208.6H853V207.4H856.9V204.7H860.8V195H864.7V189.2H868.6V213.9H872.5V202.8H876.4V202.7H880.3V201.7H884.2V205.9H888.1V206.8H892V210H895.9V220.4H899.8V194.3H903.7V234H907.6V205.2H911.5V205.9H915.4V244.6H919.3V208.3H923.2V203.3H927.1V213.7H931V195.5H934.9V218.9H938.8V209.6H942.7V202.6H946.6V218.1H950.5V211H954.4V218H958.3V199.9H962.2V215.4H966.1V208.2H970V213.7H973.9V219.7H977.8V211H981.7V206.4H985.6V203.2H989.5V183.9H993.4V179.2H997.3V182.3H1001.2V182.4H1005.1V196.8H1009V206H1012.9V201.1H1016.8V213.5H1020.7V202.8H1024.6V223.2H1028.5V222.6H1032.4V220H1036.3V239.5H1040.2V214.7H1044.1V215.5H1048V231.8H1051.9V203.6H1055.8V223.7H1059.7V249.1H1063.6V210.1H1067.5V205.7H1071.4V231.5H1075.3V247.3H1079.2V208H1083V225H1086.9V229.8H1090.8V251.7H1094.7V214.6H1098.6V234.7H1102.5V234H1106.4V238.2H1110.3V225.5H1114.2V241.1H1118.1V234H1122V234.8H1125.9V275.3H1129.8V244.7H1133.7V208.1H1137.6V266.8H1141.5V268.5H1145.4V247.2H1149.3V263.4H1153.2V251H1157.1V238.5H1161V247.8H1164.9V256.7H1168.8V275H1172.7V245.5H1176.6V284.1H1180.5V229H1184.4V254.1H1188.3V248H1192.2V251.3H1196.1V290.8H1200V248.3H1203.9V273.4H1207.8V238.9H1211.7V244.2H1215.6V256.6H1219.5V257.6H1223.4V266.8H1227.3V227.7H1231.2V291.5H1235.1V289.9H1239V288.1H1242.9V264.9H1246.8V261.5H1250.7V264.8H1254.6V259.7H1258.5V263.9H1262.4V271.8H1266.3V266.3H1270.2V301.8H1274.1V310.7H1278V283.8H1281.9V308.2H1285.8V292.4H1289.7V303.5H1293.6V299.1H1297.5V275.6H1301.4V299.6H1305.3V315.1H1309.2V312.6H1313.1V293.6H1317V298.6H1320.9V289.6H1324.8V299.2H1328.7V297.1H1332.6V329.5H1336.5V282.1H1340.4V291.5H1344.3V286.5H1348.2V309.3H1352.1V312.4H1356V294.7H1359.9V283.9H1363.8V301.7H1367.6V303.1H1371.5V292.1H1375.4V308.2H1379.3V329.5H1383.2V312.1H1387.1V307.6H1391V280.8H1394.9V319H1398.8V328.4H1402.7V293H1406.6V396.4H1410.5V367.6H1414.4V301.7H1418.3V309.9H1422.2V302.2H1426.1V308.5H1430V309.8H1433.9V360.5H1437.8V327.4H1441.7V353.5H1445.6V349.9H1449.5V317.2H1453.4V306H1457.3V369.7H1461.2V304H1465.1V313.8H1469V328.3H1472.9V369.1H1476.8V317.8H1480.7V320.5H1484.6V335.7H1488.5V318H1492.4V380.5H1496.3V343.6H1500.2V324.5H1504.1V308.3H1508V341.8H1504.1V359.1H1500.2V382.7H1496.3V414.9H1492.4V353.2H1488.5V370.1H1484.6V353.6H1480.7V357.7H1476.8V410.2H1472.9V358.3H1469V351.9H1465.1V341.8H1461.2V405.7H1457.3V338.1H1453.4V355.3H1449.5V387H1445.6V385.9H1441.7V364.6H1437.8V394.9H1433.9V344.7H1430V343.1H1426.1V334H1422.2V339.1H1418.3V338.2H1414.4V401.2H1410.5V434.5H1406.6V324.8H1402.7V359.7H1398.8V356.9H1394.9V318.2H1391V339.9H1387.1V351.2H1383.2V366.9H1379.3V341.4H1375.4V327.9H1371.5V343.3H1367.6V343.6H1363.8V319.8H1359.9V332.3H1356V352.8H1352.1V347.6H1348.2V323H1344.3V325.9H1340.4V311.9H1336.5V377.2H1332.6V337.4H1328.7V333.6H1324.8V331.9H1320.9V337.2H1317V332.2H1313.1V348.9H1309.2V360.1H1305.3V342.4H1301.4V321.2H1297.5V340.4H1293.6V342.6H1289.7V331.9H1285.8V351.6H1281.9V323.4H1278V348.1H1274.1V338.8H1270.2V312.3H1266.3V309.8H1262.4V304.9H1258.5V298.2H1254.6V312.5H1250.7V298.6H1246.8V307.5H1242.9V325.6H1239V332.9H1235.1V332.5H1231.2V266.8H1227.3V312.5H1223.4V302.8H1219.5V305H1215.6V292.4H1211.7V289.9H1207.8V309.6H1203.9V294.4H1200V337.4H1196.1V293.6H1192.2V287.1H1188.3V296.4H1184.4V276.3H1180.5V332.1H1176.6V291H1172.7V314.1H1168.8V306.6H1164.9V289.4H1161V284.2H1157.1V296.8H1153.2V308.6H1149.3V298.4H1145.4V316H1141.5V311.1H1137.6V252.8H1133.7V290.1H1129.8V323.2H1125.9V283.8H1122V281.7H1118.1V283.4H1114.2V266.2H1110.3V282.9H1106.4V282.2H1102.5V283.2H1098.6V264.7H1094.7V300.8H1090.8V274.1H1086.9V278H1083V260H1079.2V290.1H1075.3V269.6H1071.4V251.6H1067.5V260.4H1063.6V298.6H1059.7V267.6H1055.8V251.1H1051.9V274.8H1048V256.7H1044.1V253.7H1040.2V284.4H1036.3V256.9H1032.4V271.6H1028.5V276.6H1024.6V252.7H1020.7V259.5H1016.8V241.6H1012.9V245.5H1009V249H1005.1V234.7H1001.2V241.8H997.3V239.7H993.4V239H989.5V258.8H985.6V255.4H981.7V257H977.8V267.4H973.9V263.9H970V249.1H966.1V263.6H962.2V240.8H958.3V265.4H954.4V260.5H950.5V268.2H946.6V248H942.7V262.1H938.8V268.8H934.9V251.7H931V267H927.1V256.5H923.2V262.7H919.3V283.4H915.4V246.6H911.5V254.9H907.6V271.8H903.7V241.5H899.8V275.1H895.9V253.7H892V249H888.1V254.3H884.2V256.9H880.3V255.3H876.4V246.1H872.5V256.6H868.6V240.1H864.7V246.8H860.8V262.1H856.9V251.8H853V250.9H849.1V251.7H845.2V244.6H841.3V247.9H837.4V251.6H833.5V266.2H829.6V260.7H825.7V276.6H821.8V276.1H817.9V259.5H814V258.3H810.1V255.6H806.2V261.1H802.3V249.8H798.4V260.6H794.6V251.8H790.7V255.9H786.8V259.1H782.9V257.9H779V245H775.1V283.9H771.2V250.2H767.3V250.1H763.4V252.3H759.5V281.2H755.6V282.6H751.7V296.4H747.8V261.5H743.9V280.9H740V283.4H736.1V286.4H732.2V260.2H728.3V260.9H724.4V288.6H720.5V251.1H716.6V273.2H712.7V269.5H708.8V264.9H704.9V271.2H701V281H697.1V268.6H693.2V266.2H689.3V250.2H685.4V307.9H681.5V266.9H677.6V271.9H673.7V304.8H669.8V290.3H665.9V301.7H662V279.1H658.1V286.5H654.2V299.7H650.3V284.2H646.4V282.7H642.5V299.2H638.6V252.7H634.7V262.2H630.8V268H626.9V282.9H623V290.2H619.1V302.9H615.2V282.7H611.3V298.6H607.4V294.6H603.5V278.6H599.6V279.6H595.7V280.8H591.8V288.3H587.9V304.9H584V304.6H580.1V293.5H576.2V279.2H572.3V296H568.4V287.9H564.5V306.3H560.6V306.6H556.7V301.6H552.8V284.6H548.9V304H545V316.6H541.1V292.6H537.2V320.3H533.3V301.4H529.4V287H525.5V311H521.6V311.3H517.7V315.8H513.8V292H510V298.2H506.1V274.9H502.2V294.3H498.3V307.1H494.4V319.4H490.5V295.4H486.6V308.1H482.7V335H478.8V306.2H474.9V328.2H471V305.2H467.1V309.1H463.2V312.7H459.3V333.3H455.4V325.7H451.5V317.2H447.6V352.2H443.7V314.3H439.8V311.7H435.9V296.2H432V331.3H428.1V326H424.2V324.6H420.3V374.2H416.4V317H412.5V306.4H408.6V304.9H404.7V313.9H400.8V338H396.9V348.1H393V332.1H389.1V359.8H385.2V322.6H381.3V330.9H377.4V345.6H373.5V356.1H369.6V331.4H365.7V331.6H361.8V333.2H357.9V337.3H354V329.4H350.1V352H346.2V375.3H342.3V351.5H338.4V322.2H334.5V370.5H330.6V330.4H326.7V356.4H322.8V384.3H318.9V340.2H315V349.3H311.1V346.5H307.2V324.9H303.3V345.4H299.4V374H295.5V355.4H291.6V351.3H287.7V353.5H283.8V335.7H279.9V336.6H276V340.4H272.1V327.8H268.2V389.7H264.3V382.3H260.4V375.6H256.5V362.6H252.6V400.1H248.7V412.2H244.8V370H240.9V354.2H237V415.9H233.1V365.5H229.2V405.1H225.4V353.5H221.5V365.4H217.6V396.9H213.7V398H209.8V423.3H205.9V356H202V383.4H198.1V325H194.2V346.5H190.3V344.6H186.4V352.3H182.5V337.1H178.6V396.5H174.7V366.1H170.8V395.7H166.9V380.5H163V406.1H159.1V384.9H155.2V373.7H151.3V411.4H147.4V369.9H143.5V348.4H139.6V364.1H135.7V359.8H131.8V372H127.9V371.8H124V365.1H120.1V415.2H116.2V363.8H112.3V381.8H108.4V390H104.5V347.8H100.6V360.3H96.7V374.9H92.8V424.9H88.9V364.2H85Z" fill="#ff3ceb" fill-opacity="0.078"/>
<path d="M85 389.8V359.7H88.9V317.4H92.8V306.1H96.7V338.6H100.6V349.9H104.5V442H108.4V397.9H112.3V348.2H116.2V311.5H120.1V336H124V327.9H127.9V370.5H131.8V366.2H135.7V336H139.6V378.1H143.5V343.7H147.4V352.3H151.3V329.6H155.2V332.7H159.1V390.3H163V355H166.9V328.1H170.8V375.6H174.7V352.1H178.6V332.2H182.5V371.2H186.4V317.4H190.3V339H194.2V343.5H198.1V318.5H202V318.3H205.9V350.6H209.8V315.2H213.7V327.4H217.6V323.6H221.5V370.5H225.4V323.1H229.2V323.5H233.1V364.2H237V305.4H240.9V322.1H244.8V311H248.7V353.7H252.6V356.6H256.5V351.5H260.4V352.3H264.3V368.2H268.2V319.8H272.1V302.6H276V336.2H279.9V338.2H283.8V310.2H287.7V355.5H291.6V350.7H295.5V308.9H299.4V302.2H303.3V284.9H307.2V338.7H311.1V308H315V320H318.9V324.2H322.8V301.4H326.7V276.5H330.6V310.5H334.5V323.2H338.4V304.9H342.3V256.7H346.2V319.9H350.1V323.2H354V277H357.9V238.3H361.8V339.6H365.7V290.3H369.6V343.9H373.5V320.5H377.4V334.2H381.3V334.7H385.2V297.3H389.1V276.5H393V280.4H396.9V290.5H400.8V257H404.7V291.7H408.6V281.5H412.5V280.7H416.4V302.8H420.3V283H424.2V300.5H428.1V266.5H432V288.2H435.9V288.3H439.8V288.8H443.7V285.7H447.6V235.2H451.5V270.5H455.4V310.9H459.3V244.8H463.2V282H467.1V249.5H471V279.9H474.9V275.6H478.8V285.1H482.7V241.2H486.6V244.6H490.5V257.8H494.4V291.8H498.3V260.5H502.2V276.8H506.1V272.1H510V278.6H513.8V264.9H517.7V276.2H521.6V259H525.5V292.9H529.4V246.2H533.3V249H537.2V275.1H541.1V256.8H545V267.4H548.9V238.4H552.8V253.4H556.7V233.3H560.6V235.6H564.5V262.5H568.4V238.5H572.3V256.2H576.2V231.2H580.1V233.4H584V236.4H587.9V232H591.8V250.2H595.7V256.7H599.6V238.3H603.5V243.3H607.4V241H611.3V270.5H615.2V239.4H619.1V260.8H623V223H626.9V235.8H630.8V246.2H634.7V228.9H638.6V262.9H642.5V238.3H646.4V237H650.3V220.7H654.2V226.4H658.1V246.7H662V238.7H665.9V220.9H669.8V205.7H673.7V234.5H677.6V208.3H681.5V239.9H685.4V258.6H689.3V218.9H693.2V213.7H697.1V217.5H701V230.5H704.9V220.9H708.8V226.7H712.7V231.2H716.6V209.2H720.5V221.3H724.4V195.8H728.3V212.8H732.2V206.7H736.1V208.2H740V216.5H743.9V253.6H747.8V218.1H751.7V222.5H755.6V212.1H759.5V200.3H763.4V230.9H767.3V210.6H771.2V234H775.1V215.2H779V231.8H782.9V212.3H786.8V205H790.7V217.9H794.6V227.7H798.4V192H802.3V227.6H806.2V208.3H810.1V203.3H814V220.1H817.9V228.1H821.8V201H825.7V211.9H829.6V187.8H833.5V204.5H837.4V195.7H841.3V223.1H845.2V210H849.1V219.2H853V215.3H856.9V239.9H860.8V188.7H864.7V202.1H868.6V209.2H872.5V234.4H876.4V209.9H880.3V210.9H884.2V222.2H888.1V215.8H892V220.9H895.9V198.6H899.8V214.3H903.7V209.6H907.6V192.3H911.5V197.5H915.4V203.3H919.3V205.5H923.2V208.4H927.1V198.2H931V228.5H934.9V221.5H938.8V191.8H942.7V207.8H946.6V215.2H950.5V210.2H954.4V183.1H958.3V229H962.2V214.1H966.1V216H970V192.6H973.9V235.3H977.8V205.5H981.7V218.1H985.6V208.4H989.5V211H993.4V221.5H997.3V200H1001.2V208.5H1005.1V195.4H1009V213H1012.9V217.7H1016.8V207H1020.7V213.6H1024.6V202.2H1028.5V222.7H1032.4V229.9H1036.3V219.8H1040.2V190.3H1044.1V252.2H1048V211.5H1051.9V217.1H1055.8V214.8H1059.7V213.1H1063.6V248.4H1067.5V232.2H1071.4V248.3H1075.3V232.1H1079.2V232.7H1083V227.6H1086.9V222.9H1090.8V238.3H1094.7V223.4H1098.6V230.9H1102.5V218.8H1106.4V245.3H1110.3V207.1H1114.2V242.2H1118.1V235.5H1122V231.2H1125.9V237.3H1129.8V220.3H1133.7V236.3H1137.6V216H1141.5V241.1H1145.4V278H1149.3V225.6H1153.2V269.9H1157.1V265.1H1161V259.3H1164.9V286.6H1168.8V257.8H1172.7V265.5H1176.6V237.6H1180.5V272.1H1184.4V257.5H1188.3V240.4H1192.2V249.9H1196.1V236.9H1200V273.9H1203.9V276.5H1207.8V251.1H1211.7V236.9H1215.6V270.8H1219.5V231H1223.4V273.4H1227.3V290.5H1231.2V306.8H1235.1V246.9H1239V268.1H1242.9V258H1246.8V250.7H1250.7V297.4H1254.6V295.2H1258.5V270.9H1262.4V304.5H1266.3V271.3H1270.2V278.8H1274.1V298.7H1278V254.9H1281.9V316.4H1285.8V309.5H1289.7V285.7H1293.6V276.9H1297.5V287.7H1301.4V280.5H1305.3V327.4H1309.2V285.1H1313.1V290.1H1317V317.8H1320.9V292H1324.8V319.2H1328.7V269.4H1332.6V294.7H1336.5V297.4H1340.4V287.9H1344.3V305.1H1348.2V329.3H1352.1V293.2H1356V339.1H1359.9V291.8H1363.8V303.1H1367.6V295.3H1371.5V286.1H1375.4V277.6H1379.3V270.4H1383.2V296H1387.1V312.9H1391V301.5H1394.9V322.2H1398.8V272H1402.7V343.4H1406.6V370.6H1410.5V348H1414.4V300.9H1418.3V324.4H1422.2V290.1H1426.1V320.5H1430V304.6H1433.9V327.2H1437.8V328.4H1441.7V347.6H1445.6V384.2H1449.5V296.6H1453.4V321.7H1457.3V308.7H1461.2V335.6H1465.1V346.7H1469V355.6H1472.9V303.1H1476.8V358H1480.7V305.4H1484.6V322.9H1488.5V351H1492.4V403.7H1496.3V329.8H1500.2V331.1H1504.1V367H1508V399.1H1504.1V362.8H1500.2V365.7H1496.3V441.4H1492.4V394.8H1488.5V359.1H1484.6V345.2H1480.7V397.7H1476.8V335.4H1472.9V385H1469V379H1465.1V379.2H1461.2V345.5H1457.3V359H1453.4V332.8H1449.5V421.5H1445.6V381.6H1441.7V368.3H1437.8V369.2H1433.9V340.5H1430V359.2H1426.1V321.7H1422.2V362.8H1418.3V329.5H1414.4V389.2H1410.5V407.1H1406.6V380.7H1402.7V316.9H1398.8V359.9H1394.9V343.4H1391V357.5H1387.1V338.9H1383.2V313.1H1379.3V322.7H1375.4V321.1H1371.5V337.7H1367.6V339.8H1363.8V329H1359.9V379.1H1356V334.7H1352.1V369.5H1348.2V349.4H1344.3V320.2H1340.4V330.2H1336.5V338.3H1332.6V311.4H1328.7V358.1H1324.8V335.5H1320.9V359H1317V333.6H1313.1V323.7H1309.2V361.9H1305.3V314.2H1301.4V333.2H1297.5V319.3H1293.6V321.6H1289.7V354.5H1285.8V350.1H1281.9V292.7H1278V333.8H1274.1V321.5H1270.2V314.1H1266.3V344.9H1262.4V308.7H1258.5V331.3H1254.6V332.5H1250.7V298.2H1246.8V297.8H1242.9V314.9H1239V288.3H1235.1V348.5H1231.2V331.5H1227.3V306.9H1223.4V273.3H1219.5V317.6H1215.6V280.1H1211.7V303.8H1207.8V321.1H1203.9V318.8H1200V287.3H1196.1V292.1H1192.2V289.1H1188.3V294.5H1184.4V312.2H1180.5V285H1176.6V312.3H1172.7V295.1H1168.8V325.5H1164.9V304.3H1161V306.9H1157.1V315.4H1153.2V274.9H1149.3V320.6H1145.4V288.5H1141.5V267.1H1137.6V283.2H1133.7V265.1H1129.8V283.3H1125.9V284.5H1122V279.1H1118.1V287.6H1114.2V255.2H1110.3V303H1106.4V257.3H1102.5V285.2H1098.6V268.2H1094.7V275.8H1090.8V280.3H1086.9V272.9H1083V276.6H1079.2V282.8H1075.3V287H1071.4V290.1H1067.5V299.1H1063.6V252.3H1059.7V262H1055.8V275.6H1051.9V264.4H1048V300.9H1044.1V242H1040.2V277.4H1036.3V282.2H1032.4V269.8H1028.5V258.4H1024.6V258.7H1020.7V250.5H1016.8V259.6H1012.9V257.4H1009V247.5H1005.1V254.5H1001.2V246.4H997.3V271.6H993.4V264.6H989.5V263.4H985.6V257.1H981.7V255.7H977.8V292.2H973.9V246.2H970V270.6H966.1V267H962.2V272.8H958.3V236.3H954.4V259.2H950.5V270.5H946.6V265.9H942.7V237.1H938.8V270.1H934.9V274.5H931V255.7H927.1V257.9H923.2V252H919.3V249.5H915.4V256H911.5V245.2H907.6V258.4H903.7V268.9H899.8V247.9H895.9V269.7H892V266.7H888.1V270.3H884.2V268H880.3V255.6H876.4V293.8H872.5V253.9H868.6V260.3H864.7V235.2H860.8V282.7H856.9V267.1H853V259.6H849.1V265.1H845.2V268.4H841.3V255H837.4V246.8H833.5V244.6H829.6V268.1H825.7V258.4H821.8V268.8H817.9V267.6H814V251.1H810.1V264.8H806.2V274.1H802.3V241.5H798.4V276.9H794.6V264.8H790.7V245.5H786.8V253.6H782.9V278.3H779V263.7H775.1V284H771.2V267.1H767.3V283.9H763.4V253.6H759.5V267.8H755.6V267.6H751.7V271.2H747.8V293.8H743.9V263.2H740V253.5H736.1V262.7H732.2V260H728.3V235.9H724.4V271H720.5V253.7H716.6V281.1H712.7V279.6H708.8V270.7H704.9V277.1H701V264.8H697.1V261H693.2V267.1H689.3V302.1H685.4V291.7H681.5V260.1H677.6V278.5H673.7V250.5H669.8V258.4H665.9V287.3H662V288.3H658.1V273.5H654.2V269.3H650.3V281.6H646.4V286.7H642.5V308H638.6V281.5H634.7V283.2H630.8V279H626.9V267.3H623V300.3H619.1V280.6H615.2V312.3H611.3V293.7H607.4V295.9H603.5V285H599.6V304.5H595.7V296.6H591.8V274.7H587.9V285.8H584V285.1H580.1V280H576.2V298.4H572.3V276.6H568.4V304H564.5V286.2H560.6V280.3H556.7V301.8H552.8V288.7H548.9V311.5H545V297.6H541.1V314.9H537.2V291.7H533.3V291H529.4V333.1H525.5V296.2H521.6V321.8H517.7V302.2H513.8V319.3H510V304.9H506.1V314.9H502.2V307.7H498.3V327.6H494.4V300.1H490.5V291H486.6V284.9H482.7V328.5H478.8V325.4H474.9V325.4H471V287.4H467.1V322.1H463.2V280.2H459.3V353H455.4V302.8H451.5V284H447.6V321H443.7V329.7H439.8V327.7H435.9V332H432V310.6H428.1V341.7H424.2V321.8H420.3V344.3H416.4V320.3H412.5V319.8H408.6V328.2H404.7V296.1H400.8V337.6H396.9V319.9H393V317.1H389.1V335H385.2V374.1H381.3V376.1H377.4V360.6H373.5V383.9H369.6V329.1H365.7V376.2H361.8V279.2H357.9V308.2H354V360.2H350.1V356.3H346.2V300.8H342.3V349.9H338.4V358.4H334.5V345.1H330.6V319.8H326.7V339H322.8V354.3H318.9V353.8H315V347.6H311.1V376.6H307.2V320.7H303.3V330.4H299.4V342.3H295.5V386H291.6V386.1H287.7V346.5H283.8V367.8H279.9V365.2H276V338.9H272.1V357.8H268.2V403.6H264.3V390.5H260.4V390.2H256.5V389.7H252.6V388.3H248.7V349.9H244.8V364.1H240.9V343.6H237V398.7H233.1V360.5H229.2V355.8H225.4V410.4H221.5V355.2H217.6V355.5H213.7V348.6H209.8V385H205.9V352H202V352H198.1V384.1H194.2V374.7H190.3V352.3H186.4V405.1H182.5V366.8H178.6V384.5H174.7V410.2H170.8V358.7H166.9V382.6H163V432.6H159.1V369.1H155.2V370.8H151.3V386.8H147.4V376.6H143.5V414.5H139.6V368.5H135.7V403.3H131.8V411H127.9V359.8H124V369.1H120.1V346.4H116.2V387H112.3V432.4H108.4V473.1H104.5V379.7H100.6V372H96.7V339.2H92.8V347.2H88.9V389.8H85Z" fill="#ff3ceb" fill-opacity="0.078"/>
<path d="M85 371.4V335.8H88.9V312.8H92.8V312.9H96.7V342.8H100.6V363H104.5V315.4H108.4V336.7H112.3V344.9H116.2V354H120.1V325.6H124V322H127.9V358.8H131.8V350.4H135.7V330.1H139.6V366.1H143.5V302.9H147.4V343.1H151.3V337.8H155.2V362.1H159.1V350.2H163V350.9H166.9V367.9H170.8V315.4H174.7V331.2H178.6V347.6H182.5V343.8H186.4V314.9H190.3V341.6H194.2V338.5H198.1V334.5H202V328.4H205.9V321.6H209.8V285.7H213.7V332.1H217.6V348.4H221.5V332.7H225.4V326.5H229.2V362.7H233.1V309.6H237V325.1H240.9V303.9H244.8V314.9H248.7V331.2H252.6V321.5H256.5V333.4H260.4V298.5H264.3V336H268.2V344.2H272.1V291.5H276V390.8H279.9V305.8H283.8V317.6H287.7V288.1H291.6V298.5H295.5V339.2H299.4V301.7H303.3V324.1H307.2V320.3H311.1V304.3H315V314.6H318.9V341.5H322.8V291.3H326.7V322.3H330.6V264.8H334.5V290.4H338.4V324.4H342.3V288.6H346.2V316.7H350.1V296.8H354V297.3H357.9V310.5H361.8V299.3H365.7V289.3H369.6V272.7H373.5V295.8H377.4V274.5H381.3V312.1H385.2V277.4H389.1V316.3H393V309.4H396.9V319H400.8V274.2H404.7V265.7H408.6V285.8H412.5V289.4H416.4V268.5H420.3V270.2H424.2V276.5H428.1V267.9H432V307.7H435.9V304.4H439.8V260.1H443.7V295H447.6V291.2H451.5V296.5H455.4V294.3H459.3V261H463.2V268.1H467.1V247.1H471V281.5H474.9V302.6H478.8V252.4H482.7V241H486.6V265.4H490.5V287.9H494.4V245.4H498.3V289.6H502.2V267.6H506.1V271.6H510V283.9H513.8V277.9H517.7V263.7H521.6V259.3H525.5V251.1H529.4V273.5H533.3V268.9H537.2V276.4H541.1V244.8H545V256.2H548.9V235.1H552.8V253.9H556.7V263.1H560.6V230.1H564.5V250.8H568.4V240.6H572.3V215.5H576.2V232.7H580.1V262.2H584V205.6H587.9V248.7H591.8V255.5H595.7V239.6H599.6V232.6H603.5V231.6H607.4V195.3H611.3V255H615.2V218H619.1V238.9H623V230.8H626.9V261.1H630.8V246.7H634.7V249.2H638.6V240.2H642.5V261.6H646.4V236.8H650.3V233.7H654.2V238.2H658.1V233.6H662V218.5H665.9V250H669.8V259.2H673.7V220H677.6V231.4H681.5V225.4H685.4V247.4H689.3V217.7H693.2V231H697.1V230.1H701V216H704.9V223H708.8V219.2H712.7V208.5H716.6V217.7H720.5V239H724.4V230.7H728.3V218.6H732.2V224H736.1V228.9H740V248.1H743.9V238.1H747.8V198H751.7V221.4H755.6V236.1H759.5V219.1H763.4V224.9H767.3V219.3H771.2V208.8H775.1V215.9H779V207.6H782.9V216.2H786.8V209.1H790.7V198.4H794.6V219H798.4V219.3H802.3V218.4H806.2V222.6H810.1V213.5H814V222.6H817.9V210.7H821.8V208.1H825.7V211.9H829.6V197.4H833.5V203.8H837.4V191.3H841.3V191.3H845.2V196.6H849.1V195.3H853V203.7H856.9V207.6H860.8V194.3H864.7V182.7H868.6V200H872.5V209.8H876.4V193.1H880.3V229.5H884.2V220.4H888.1V220.9H892V208.2H895.9V199.3H899.8V229.9H903.7V228.2H907.6V214H911.5V221.7H915.4V212.7H919.3V205.7H923.2V235.5H927.1V230.7H931V215.2H934.9V207.8H938.8V225.3H942.7V206.9H946.6V176.9H950.5V209.9H954.4V190H958.3V213.1H962.2V207.3H966.1V187.2H970V211H973.9V190.1H977.8V205.8H981.7V240.8H985.6V206.3H989.5V210.1H993.4V191.8H997.3V234H1001.2V197.8H1005.1V209.1H1009V216H1012.9V223.7H1016.8V242H1020.7V233.6H1024.6V240H1028.5V198.8H1032.4V216H1036.3V198.6H1040.2V224.3H1044.1V213.2H1048V227.3H1051.9V213.8H1055.8V208.6H1059.7V231.4H1063.6V214H1067.5V223.6H1071.4V236H1075.3V252.7H1079.2V235.4H1083V218H1086.9V238.1H1090.8V237.8H1094.7V232.3H1098.6V219.6H1102.5V234.7H1106.4V245.4H1110.3V236.1H1114.2V250.2H1118.1V218.5H1122V240.3H1125.9V231.5H1129.8V242.6H1133.7V238.2H1137.6V229.3H1141.5V222H1145.4V229.8H1149.3V233.9H1153.2V232.1H1157.1V247.8H1161V258.9H1164.9V247.5H1168.8V245.7H1172.7V247.9H1176.6V270.3H1180.5V238.1H1184.4V263.3H1188.3V281H1192.2V235.2H1196.1V258.7H1200V269.3H1203.9V238.5H1207.8V265H1211.7V300.6H1215.6V242.1H1219.5V289.5H1223.4V214.7H1227.3V259.6H1231.2V303.3H1235.1V273.5H1239V278.1H1242.9V275.2H1246.8V294.2H1250.7V303.1H1254.6V265.4H1258.5V310H1262.4V282.4H1266.3V259.6H1270.2V256.9H1274.1V272.6H1278V264.2H1281.9V306.3H1285.8V323.4H1289.7V282.2H1293.6V296H1297.5V292.7H1301.4V286.3H1305.3V312.1H1309.2V268H1313.1V265.5H1317V300.3H1320.9V275.5H1324.8V316.4H1328.7V304.1H1332.6V336.7H1336.5V291.3H1340.4V274.1H1344.3V289H1348.2V338.2H1352.1V290.3H1356V334.9H1359.9V257.7H1363.8V343.4H1367.6V297.9H1371.5V278H1375.4V301H1379.3V321.5H1383.2V326.7H1387.1V293H1391V316.9H1394.9V289.3H1398.8V331.4H1402.7V291.2H1406.6V354.4H1410.5V355.9H1414.4V348H1418.3V333.4H1422.2V312H1426.1V352.6H1430V288.2H1433.9V299.6H1437.8V320.5H1441.7V336.8H1445.6V315.4H1449.5V336.5H1453.4V333.5H1457.3V325H1461.2V292.9H1465.1V298.3H1469V382.8H1472.9V313H1476.8V362H1480.7V344.2H1484.6V296H1488.5V328.1H1492.4V308.7H1496.3V305.4H1500.2V320.1H1504.1V317.3H1508V351H1504.1V356.3H1500.2V335.1H1496.3V351.4H1492.4V363.1H1488.5V333.1H1484.6V378.4H1480.7V391.4H1476.8V354.2H1472.9V422H1469V328.8H1465.1V327.5H1461.2V360H1457.3V367.4H1453.4V374.1H1449.5V350.6H1445.6V378.7H1441.7V361.8H1437.8V336.1H1433.9V327.2H1430V391.8H1426.1V348.8H1422.2V366.5H1418.3V384.6H1414.4V394.9H1410.5V389.7H1406.6V322.1H1402.7V365.7H1398.8V331.1H1394.9V350.5H1391V330.9H1387.1V366.7H1383.2V360.2H1379.3V343.9H1375.4V320.4H1371.5V337H1367.6V374.4H1363.8V295.2H1359.9V368.8H1356V334.1H1352.1V381H1348.2V326.7H1344.3V318H1340.4V326.8H1336.5V382.4H1332.6V343.9H1328.7V349.4H1324.8V311.3H1320.9V332.6H1317V301.7H1313.1V309.7H1309.2V348.4H1305.3V328.5H1301.4V336.5H1297.5V336.6H1293.6V322.1H1289.7V360.2H1285.8V352.4H1281.9V299.7H1278V321.3H1274.1V300.7H1270.2V306.6H1266.3V320.9H1262.4V356.3H1258.5V308.9H1254.6V340.9H1250.7V341.7H1246.8V322.6H1242.9V328H1239V319.2H1235.1V344.6H1231.2V310.2H1227.3V265.5H1223.4V331.2H1219.5V290.8H1215.6V349H1211.7V307.9H1207.8V287.1H1203.9V306.8H1200V302.5H1196.1V277.8H1192.2V329H1188.3V309.2H1184.4V282.1H1180.5V314.2H1176.6V298.6H1172.7V292.1H1168.8V292H1164.9V310.9H1161V296.3H1157.1V280.6H1153.2V279.4H1149.3V283.2H1145.4V275.1H1141.5V278.8H1137.6V279.1H1133.7V285.5H1129.8V280.4H1125.9V282.3H1122V262.6H1118.1V294.1H1114.2V284.9H1110.3V284.1H1106.4V274.1H1102.5V268.4H1098.6V272.1H1094.7V283H1090.8V283.3H1086.9V263.2H1083V277.8H1079.2V295.3H1075.3V281.4H1071.4V269.8H1067.5V259.1H1063.6V287.3H1059.7V261.3H1055.8V252.4H1051.9V271.3H1048V265.9H1044.1V270.5H1040.2V243.4H1036.3V260.3H1032.4V242.9H1028.5V286H1024.6V277.3H1020.7V299.5H1016.8V276.4H1012.9V260.7H1009V262.6H1005.1V238.9H1001.2V274.8H997.3V243.3H993.4V267.8H989.5V260.7H985.6V296.7H981.7V256.1H977.8V241.2H973.9V269.9H970V238.8H966.1V254.2H962.2V264.1H958.3V240.8H954.4V263.5H950.5V230.6H946.6V250H942.7V279.4H938.8V262.1H934.9V259H931V278.3H927.1V278.4H923.2V260.2H919.3V252.8H915.4V278.3H911.5V259.4H907.6V278.2H903.7V273H899.8V249.5H895.9V263H892V268.2H888.1V269.7H884.2V275.6H880.3V249H876.4V257.3H872.5V256.7H868.6V232H864.7V247.4H860.8V255.1H856.9V261.2H853V242.5H849.1V252.4H845.2V240.7H841.3V242.7H837.4V261.3H833.5V248.8H829.6V254.6H825.7V257.2H821.8V259.4H817.9V266.8H814V270.4H810.1V267.4H806.2V263.1H802.3V264.6H798.4V266.5H794.6V252H790.7V246.2H786.8V272.6H782.9V259.5H779V272.4H775.1V254.8H771.2V265.1H767.3V280.3H763.4V269.5H759.5V282.9H755.6V269.5H751.7V255.6H747.8V280.4H743.9V291.1H740V283.6H736.1V271H732.2V274.1H728.3V283.8H724.4V285.9H720.5V260.4H716.6V262.7H712.7V270.9H708.8V280.2H704.9V255.7H701V280.8H697.1V277.2H693.2V267.9H689.3V297.2H685.4V270.7H681.5V277.4H677.6V268.9H673.7V304.8H669.8V305.3H665.9V266.7H662V277.3H658.1V292.6H654.2V284.2H650.3V283.3H646.4V307.9H642.5V292.4H638.6V297.9H634.7V295.6H630.8V300.3H626.9V280.5H623V281.8H619.1V261.8H615.2V303.5H611.3V244.8H607.4V274H603.5V283.2H599.6V291.1H595.7V301.3H591.8V293.9H587.9V250.4H584V307.1H580.1V276.4H576.2V260.1H572.3V282.4H568.4V292.6H564.5V274.2H560.6V307.8H556.7V297.2H552.8V275.2H548.9V305.4H545V288.8H541.1V323.2H537.2V314.3H533.3V312.1H529.4V301.9H525.5V304.5H521.6V304.3H517.7V327.1H513.8V325.6H510V309.9H506.1V311.9H502.2V331.4H498.3V294.1H494.4V332.1H490.5V308H486.6V277.9H482.7V301.6H478.8V344.7H474.9V319.2H471V285.6H467.1V304.8H463.2V300.8H459.3V332.7H455.4V340H451.5V335.9H447.6V335.4H443.7V298.2H439.8V348H435.9V339.5H432V305.9H428.1V313.9H424.2V315.6H420.3V316.6H416.4V329.6H412.5V325.2H408.6V306.1H404.7V318.1H400.8V356.8H396.9V344.8H393V358.9H389.1V311H385.2V349H381.3V312.2H377.4V337.3H373.5V315.7H369.6V332.9H365.7V336.5H361.8V354H357.9V337.4H354V327.4H350.1V349.7H346.2V321.5H342.3V355.6H338.4V334.2H334.5V309.1H330.6V363.6H326.7V325.2H322.8V380.6H318.9V351.2H315V346.7H311.1V356.8H307.2V370.5H303.3V341.9H299.4V380.1H295.5V333.2H291.6V324.1H287.7V347.3H283.8V339.7H279.9V428.1H276V330.5H272.1V379.4H268.2V365.2H264.3V339.6H260.4V365.8H256.5V353.6H252.6V362.3H248.7V346.2H244.8V340.4H240.9V363.7H237V349.6H233.1V406.4H229.2V364.6H225.4V367H221.5V380.1H217.6V365.7H213.7V326.6H209.8V348.9H205.9V364.1H202V366.1H198.1V371.6H194.2V373.6H190.3V348H186.4V381.4H182.5V379H178.6V367.3H174.7V347.5H170.8V406.3H166.9V378.3H163V384.9H159.1V399.1H155.2V373.2H151.3V375.9H147.4V335.5H143.5V395.3H139.6V363.2H135.7V384.4H131.8V396.8H127.9V358.4H124V361H120.1V388.4H116.2V372.9H112.3V368.6H108.4V353.9H104.5V403H100.6V375.6H96.7V349.7H92.8V343.3H88.9V371.4H85Z" fill="#ff3ceb" fill-opacity="0.078"/>
<path d="M85 392.2V360.4H88.9V302.3H92.8V343.2H96.7V361.3H100.6V367.3H104.5V323.7H108.4V323.1H112.3V304.6H116.2V300.8H120.1V377.7H124V350.8H127.9V331.6H131.8V333.1H135.7V350H139.6V340.7H143.5V331.2H147.4V331.7H151.3V354.1H155.2V344.3H159.1V347.1H163V324.6H166.9V338.4H170.8V370.8H174.7V361.3H178.6V357.9H182.5V322.9H186.4V334.8H190.3V336.4H194.2V325.7H198.1V351.3H202V369.4H205.9V344.2H209.8V310.2H213.7V328H217.6V320.3H221.5V320.9H225.4V342.9H229.2V318.3H233.1V337.6H237V317.7H240.9V322.9H244.8V299.6H248.7V363.1H252.6V313.7H256.5V328.6H260.4V378H264.3V302.4H268.2V288.1H272.1V326.2H276V384.3H279.9V325.3H283.8V303.5H287.7V304.9H291.6V345.9H295.5V335.7H299.4V339.4H303.3V342.1H307.2V306.5H311.1V289.8H315V302.7H318.9V305.8H322.8V301.8H326.7V328.4H330.6V315.4H334.5V296H338.4V357.4H342.3V292.2H346.2V295.6H350.1V302.8H354V296.1H357.9V307.7H361.8V293.2H365.7V320.4H369.6V277.4H373.5V300.9H377.4V314.1H381.3V273.5H385.2V319.7H389.1V282.2H393V297.1H396.9V273.1H400.8V284.7H404.7V300.1H408.6V303.9H412.5V287.3H416.4V286.5H420.3V289.7H424.2V315.8H428.1V294.9H432V266.7H435.9V299.3H439.8V271.5H443.7V270H447.6V269.9H451.5V292.9H455.4V255.8H459.3V252H463.2V242.9H467.1V253.9H471V242H474.9V279.3H478.8V283.5H482.7V267.4H486.6V316.9H490.5V256.5H494.4V279.3H498.3V262.2H502.2V260H506.1V260.8H510V289.2H513.8V241.9H517.7V270.7H521.6V264H525.5V270.8H529.4V276.4H533.3V287H537.2V286.3H541.1V251.8H545V283.1H548.9V271H552.8V272.4H556.7V232.9H560.6V262H564.5V242.2H568.4V242.2H572.3V258.5H576.2V245.1H580.1V231.8H584V261.6H587.9V222.4H591.8V227.3H595.7V275.1H599.6V261.3H603.5V253.9H607.4V265.7H611.3V257.8H615.2V245.9H619.1V259.3H623V254.6H626.9V229.7H630.8V230.9H634.7V252.2H638.6V228H642.5V245.4H646.4V271.1H650.3V235H654.2V236.2H658.1V240.2H662V251.7H665.9V229.8H669.8V260.9H673.7V204.1H677.6V236.9H681.5V195.3H685.4V234H689.3V229.4H693.2V232H697.1V268.8H701V235.9H704.9V213.9H708.8V237.8H712.7V226H716.6V234.4H720.5V228.7H724.4V237.1H728.3V204.5H732.2V239.5H736.1V222.2H740V216.9H743.9V198.6H747.8V214.5H751.7V224.4H755.6V225.1H759.5V232.8H763.4V232.7H767.3V210H771.2V207.1H775.1V202.2H779V233.9H782.9V186.8H786.8V241H790.7V199H794.6V214H798.4V195.1H802.3V210.5H806.2V207.2H810.1V198.2H814V207.5H817.9V195H821.8V215.3H825.7V209.2H829.6V201.1H833.5V214H837.4V205H841.3V212.7H845.2V213.4H849.1V191H853V195.3H856.9V183.8H860.8V223.7H864.7V195.8H868.6V207.4H872.5V202.9H876.4V226.9H880.3V204H884.2V205.6H888.1V228.9H892V207.2H895.9V197.6H899.8V232.4H903.7V225.6H907.6V229.2H911.5V218.1H915.4V229.7H919.3V222.9H923.2V224.1H927.1V200.7H931V213.9H934.9V224.3H938.8V219.5H942.7V213.5H946.6V225.8H950.5V200.9H954.4V198.3H958.3V210H962.2V199.2H966.1V191.2H970V197.1H973.9V209.3H977.8V214.2H981.7V189.3H985.6V192.4H989.5V208.7H993.4V205.7H997.3V235.9H1001.2V214.7H1005.1V197.2H1009V214H1012.9V256.3H1016.8V232H1020.7V196.4H1024.6V190.3H1028.5V241.5H1032.4V205.6H1036.3V221.3H1040.2V203.3H1044.1V212.9H1048V209.5H1051.9V242.5H1055.8V219H1059.7V215.1H1063.6V262.3H1067.5V229.1H1071.4V236.4H1075.3V233.4H1079.2V206.5H1083V245.2H1086.9V208.2H1090.8V229.8H1094.7V211.4H1098.6V212.5H1102.5V242.3H1106.4V239.2H1110.3V244.2H1114.2V221.7H1118.1V229.9H1122V240.8H1125.9V231.5H1129.8V226.1H1133.7V217.2H1137.6V245.7H1141.5V229.8H1145.4V217.8H1149.3V240.2H1153.2V252.4H1157.1V255.1H1161V283.1H1164.9V257.7H1168.8V233.8H1172.7V237.6H1176.6V244.3H1180.5V260.6H1184.4V279.5H1188.3V253.7H1192.2V243.8H1196.1V246.2H1200V277.8H1203.9V265H1207.8V288.2H1211.7V237.8H1215.6V242.2H1219.5V253.2H1223.4V305.9H1227.3V252.9H1231.2V270.1H1235.1V270.2H1239V297.2H1242.9V264H1246.8V271.4H1250.7V277.5H1254.6V281.1H1258.5V283.2H1262.4V293.7H1266.3V261.3H1270.2V286.7H1274.1V281.5H1278V257.3H1281.9V263.7H1285.8V299.3H1289.7V270.2H1293.6V303.4H1297.5V280.7H1301.4V281.8H1305.3V307.6H1309.2V285.9H1313.1V292.7H1317V317.4H1320.9V326.4H1324.8V285H1328.7V292.7H1332.6V323.6H1336.5V266.7H1340.4V307.3H1344.3V289.9H1348.2V350.7H1352.1V312.5H1356V285.3H1359.9V279H1363.8V308.7H1367.6V313.3H1371.5V284.1H1375.4V297.4H1379.3V318.6H1383.2V303.3H1387.1V303.9H1391V325.1H1394.9V327H1398.8V278.8H1402.7V333.9H1406.6V320.9H1410.5V310.6H1414.4V311.5H1418.3V374.9H1422.2V355.1H1426.1V317.1H1430V325.8H1433.9V309.7H1437.8V329.5H1441.7V394.3H1445.6V321H1449.5V364.5H1453.4V303.8H1457.3V340.6H1461.2V317.4H1465.1V289.1H1469V312.8H1472.9V362.8H1476.8V311.8H1480.7V314H1484.6V354.3H1488.5V377.5H1492.4V292.8H1496.3V319H1500.2V315.2H1504.1V338.4H1508V371.5H1504.1V350.8H1500.2V354.1H1496.3V335.7H1492.4V413.5H1488.5V389.1H1484.6V347.8H1480.7V348.1H1476.8V391.7H1472.9V352.3H1469V322.2H1465.1V355.2H1461.2V368.9H1457.3V336.3H1453.4V398H1449.5V357.3H1445.6V428.4H1441.7V369.9H1437.8V346H1433.9V356.2H1430V352.9H1426.1V394.2H1422.2V414.2H1418.3V345.2H1414.4V348.6H1410.5V354.4H1406.6V361.8H1402.7V318.3H1398.8V366.7H1394.9V360.9H1391V338.4H1387.1V343.3H1383.2V359.6H1379.3V338H1375.4V322H1371.5V348.5H1367.6V355.6H1363.8V315.8H1359.9V323.6H1356V343.6H1352.1V382.6H1348.2V331.1H1344.3V348.2H1340.4V302.9H1336.5V367.6H1332.6V332.2H1328.7V324.1H1324.8V368.2H1320.9V357.1H1317V326.1H1313.1V321.4H1309.2V349.6H1305.3V322.6H1301.4V324.3H1297.5V345.3H1293.6V314.3H1289.7V336.6H1285.8V308.8H1281.9V290.8H1278V319.3H1274.1V330.6H1270.2V310H1266.3V335.4H1262.4V325H1258.5V321.8H1254.6V321.2H1250.7V314.1H1246.8V313.4H1242.9V343H1239V310.6H1235.1V321.7H1231.2V300.8H1227.3V353.5H1223.4V289.1H1219.5V289.4H1215.6V277.5H1211.7V331H1207.8V310.7H1203.9V317.3H1200V292H1196.1V286.3H1192.2V302.9H1188.3V327.8H1184.4V303.2H1180.5V295.3H1176.6V277.9H1172.7V274.4H1168.8V303.6H1164.9V328.9H1161V306.5H1157.1V301.1H1153.2V281.2H1149.3V271H1145.4V277.1H1141.5V296H1137.6V271H1133.7V283H1129.8V278.6H1125.9V291.6H1122V274.4H1118.1V267.6H1114.2V298.4H1110.3V284.6H1106.4V291H1102.5V261.2H1098.6V264.9H1094.7V272.6H1090.8V254.9H1086.9V300.8H1083V257.1H1079.2V275H1075.3V283.7H1071.4V267.4H1067.5V303.8H1063.6V264.1H1059.7V268.8H1055.8V294.4H1051.9V255.8H1048V261.8H1044.1V252.2H1040.2V265.5H1036.3V251.1H1032.4V294.3H1028.5V235.4H1024.6V244.4H1020.7V272.9H1016.8V297.8H1012.9V257.7H1009V241.5H1005.1V265.6H1001.2V279.3H997.3V253.3H993.4V268.7H989.5V246.5H985.6V237.2H981.7V257.4H977.8V262.5H973.9V249H970V245.1H966.1V252.4H962.2V257.9H958.3V250.3H954.4V247.8H950.5V273.3H946.6V262.8H942.7V266.1H938.8V270.3H934.9V258H931V258.3H927.1V276.9H923.2V268.8H919.3V281.4H915.4V261.3H911.5V271.9H907.6V267.3H903.7V277.5H899.8V255.1H895.9V268.5H892V272.8H888.1V259.3H884.2V253.2H880.3V286.7H876.4V252.1H872.5V256.1H868.6V252.4H864.7V270H860.8V241H856.9V247.4H853V244.3H849.1V253.6H845.2V260.9H841.3V254.9H837.4V273.2H833.5V258.5H829.6V262.3H825.7V274.1H821.8V249.6H817.9V254.7H814V251.4H810.1V265.3H806.2V255.9H802.3V252.6H798.4V263.4H794.6V245.7H790.7V285.6H786.8V234.6H782.9V280.3H779V248.6H775.1V257.9H771.2V262.6H767.3V280H763.4V278.9H759.5V272.8H755.6V282H751.7V261.5H747.8V243.1H743.9V270.9H740V266.3H736.1V279.7H732.2V253.9H728.3V282.2H724.4V280.6H720.5V287.1H716.6V273.9H712.7V285.7H708.8V255.3H704.9V285H701V308.8H697.1V280.3H693.2V270.8H689.3V280.8H685.4V252.2H681.5V282.2H677.6V254H673.7V305.7H669.8V278.2H665.9V297.5H662V291.1H658.1V287.9H654.2V280.4H650.3V322.6H646.4V300.7H642.5V273.8H638.6V291.6H634.7V270.8H630.8V282.7H626.9V298H623V305.7H619.1V283.8H615.2V311.7H611.3V317.2H607.4V295.8H603.5V304.6H599.6V318H595.7V275.7H591.8V268.5H587.9V305.9H584V283.9H580.1V292.6H576.2V304.6H572.3V287.2H568.4V279.2H564.5V303H560.6V284H556.7V312.2H552.8V308.9H548.9V330.6H545V299.2H541.1V327.4H537.2V321H533.3V330.6H529.4V313.3H525.5V315.1H521.6V315.7H517.7V285.1H513.8V339.8H510V302.8H506.1V308.2H502.2V308.1H498.3V329.3H494.4V294.4H490.5V359.2H486.6V309.8H482.7V320.2H478.8V314.7H474.9V284H471V299.3H467.1V284.8H463.2V290.7H459.3V302.9H455.4V331.9H451.5V313.2H447.6V315H443.7V306.8H439.8V342H435.9V303.6H432V331.4H428.1V350.9H424.2V332.5H420.3V325.9H416.4V324.5H412.5V341.6H408.6V337.6H404.7V327.7H400.8V314.9H396.9V337.2H393V314.8H389.1V355.1H385.2V317.2H381.3V350.2H377.4V333.6H373.5V320.8H369.6V357.1H365.7V335.5H361.8V346.5H357.9V335.4H354V344.2H350.1V331.3H346.2V332H342.3V402H338.4V339.4H334.5V352.4H330.6V367.8H326.7V344.8H322.8V338.8H318.9V341H315V322.5H311.1V339.7H307.2V375.3H303.3V373.2H299.4V369.8H295.5V382.1H291.6V337.2H287.7V335.9H283.8V356.2H279.9V422.4H276V357.7H272.1V320.7H268.2V338.6H264.3V418.1H260.4V364H256.5V352.7H252.6V398.6H248.7V335H244.8V354.3H240.9V355.2H237V372.9H233.1V346.6H229.2V380.2H225.4V356.2H221.5V351.7H217.6V359.6H213.7V348.4H209.8V381.5H205.9V408.1H202V386.7H198.1V361.7H194.2V372.7H190.3V369.3H186.4V361.9H182.5V388H178.6V393.3H174.7V397.7H170.8V376.6H166.9V362.8H163V376.4H159.1V383.8H155.2V392.2H151.3V361H147.4V371.1H143.5V379.3H139.6V383.7H135.7V371.6H131.8V365H127.9V381.2H124V416.5H120.1V338.6H116.2V343.5H112.3V359.9H108.4V350.8H104.5V398.9H100.6V392.3H96.7V370.1H92.8V333H88.9V392.2H85Z" fill="#ff3ceb" fill-opacity="0.078"/>
<path d="M85 362.1V332.5H88.9V387H92.8V343.8H96.7V370.4H100.6V335.5H104.5V338.6H108.4V349.7H112.3V366.4H116.2V333.4H120.1V355.6H124V335.1H127.9V329H131.8V330.3H135.7V339.8H139.6V347.5H143.5V348H147.4V336H151.3V319.4H155.2V352.4H159.1V334.2H163V306.1H166.9V350.3H170.8V348.9H174.7V341.1H178.6V330.4H182.5V349.2H186.4V305.3H190.3V324.2H194.2V323.7H198.1V384.7H202V318.9H205.9V347.7H209.8V331.1H213.7V295H217.6V340.3H221.5V356.3H225.4V314.1H229.2V375H233.1V313.3H237V324.8H240.9V324.6H244.8V373.7H248.7V331.6H252.6V308.3H256.5V278.2H260.4V327.8H264.3V303.7H268.2V312.2H272.1V339.2H276V313.2H279.9V340.7H283.8V335.1H287.7V285.5H291.6V349.8H295.5V356.4H299.4V328.6H303.3V302.8H307.2V304.5H311.1V307.1H315V286.1H318.9V337.7H322.8V302.7H326.7V337.4H330.6V251.7H334.5V298.8H338.4V333.6H342.3V352.2H346.2V306.9H350.1V294.7H354V293.9H357.9V325.2H361.8V321.9H365.7V330.3H369.6V284.2H373.5V318.5H377.4V335H381.3V320.6H385.2V316.7H389.1V290.5H393V295.5H396.9V295.6H400.8V286.7H404.7V288.1H408.6V288.5H412.5V255H416.4V291.7H420.3V317.4H424.2V300.2H428.1V303.1H432V251.2H435.9V268.2H439.8V293.5H443.7V274.7H447.6V269.4H451.5V298.4H455.4V265.7H459.3V256H463.2V285.1H467.1V276.3H471V267.5H474.9V257.9H478.8V273.5H482.7V245.3H486.6V283.7H490.5V253.1H494.4V289.8H498.3V268.5H502.2V271.2H506.1V249.3H510V261.6H513.8V275.4H517.7V281H521.6V236.8H525.5V259.2H529.4V257.9H533.3V223.6H537.2V248H541.1V283.8H545V277.8H548.9V256.4H552.8V245.9H556.7V260.1H560.6V234.6H564.5V225.6H568.4V243H572.3V264.9H576.2V267.3H580.1V229.4H584V269.1H587.9V223H591.8V214.8H595.7V225H599.6V246.7H603.5V253.2H607.4V222.8H611.3V253.8H615.2V232H619.1V243.3H623V249.2H626.9V221.5H630.8V254.7H634.7V241.8H638.6V253.8H642.5V263.7H646.4V233.8H650.3V239.2H654.2V231.5H658.1V229.1H662V240.7H665.9V231.4H669.8V259H673.7V258.3H677.6V210.8H681.5V217.8H685.4V248.3H689.3V252.7H693.2V228.5H697.1V210H701V216.6H704.9V217.7H708.8V236.6H712.7V202.7H716.6V239.6H720.5V204.6H724.4V247.3H728.3V207.1H732.2V231.2H736.1V216.8H740V209.5H743.9V229.2H747.8V229.7H751.7V223.9H755.6V229.9H759.5V226.2H763.4V200.2H767.3V217.7H771.2V231.3H775.1V228.8H779V208.1H782.9V227.9H786.8V199.2H790.7V196.8H794.6V198.9H798.4V227.4H802.3V222H806.2V197.1H810.1V191.5H814V236.2H817.9V192H821.8V216.4H825.7V205H829.6V200.3H833.5V213.2H837.4V238H841.3V215.4H845.2V237H849.1V201.7H853V210.9H856.9V204.9H860.8V199.7H864.7V213.3H868.6V202.7H872.5V226.5H876.4V204.1H880.3V232.9H884.2V204.6H888.1V219.4H892V225H895.9V194.2H899.8V197.9H903.7V220.3H907.6V217.3H911.5V212.8H915.4V204.8H919.3V228H923.2V220.6H927.1V232.4H931V199.6H934.9V205.2H938.8V218.4H942.7V199.6H946.6V225.5H950.5V227.8H954.4V192H958.3V199H962.2V180H966.1V214.2H970V190.5H973.9V219.6H977.8V205.3H981.7V200H985.6V240.7H989.5V215H993.4V214.4H997.3V222.3H1001.2V207.5H1005.1V204.9H1009V196.8H1012.9V226.4H1016.8V216.4H1020.7V236.2H1024.6V217.5H1028.5V187.2H1032.4V207.6H1036.3V229H1040.2V203.5H1044.1V222.3H1048V217.4H1051.9V219.8H1055.8V236.8H1059.7V232H1063.6V219.9H1067.5V245.8H1071.4V215.6H1075.3V209.8H1079.2V214.8H1083V218.7H1086.9V225.1H1090.8V229H1094.7V251.7H1098.6V214.2H1102.5V239.9H1106.4V218.6H1110.3V237.2H1114.2V235.6H1118.1V215.3H1122V229.6H1125.9V245H1129.8V248.6H1133.7V255.6H1137.6V231H1141.5V271.1H1145.4V234.3H1149.3V219.8H1153.2V247.3H1157.1V247.9H1161V252.5H1164.9V246.1H1168.8V280.2H1172.7V223.2H1176.6V234.6H1180.5V253.9H1184.4V267H1188.3V255.3H1192.2V283.8H1196.1V263.1H1200V299.3H1203.9V263H1207.8V253.7H1211.7V254.1H1215.6V264.8H1219.5V262.5H1223.4V278.6H1227.3V257.9H1231.2V237.7H1235.1V250.9H1239V309.3H1242.9V253.1H1246.8V298.9H1250.7V276.6H1254.6V264.7H1258.5V278.9H1262.4V283.4H1266.3V280.2H1270.2V286.4H1274.1V286.6H1278V295.2H1281.9V259.6H1285.8V298.8H1289.7V320.3H1293.6V292.4H1297.5V288.1H1301.4V296.3H1305.3V299.8H1309.2V309.2H1313.1V277.5H1317V282.2H1320.9V261.9H1324.8V294.8H1328.7V280.7H1332.6V279.8H1336.5V323.8H1340.4V307H1344.3V347.6H1348.2V292.5H1352.1V305.8H1356V292.7H1359.9V324.7H1363.8V279.2H1367.6V355.7H1371.5V301.9H1375.4V293H1379.3V316H1383.2V313.7H1387.1V374.1H1391V325H1394.9V330.6H1398.8V336.9H1402.7V306.3H1406.6V310.7H1410.5V349.3H1414.4V313.1H1418.3V325.1H1422.2V324.2H1426.1V295.4H1430V299.5H1433.9V321.8H1437.8V356.4H1441.7V321.6H1445.6V355.3H1449.5V330.1H1453.4V294.1H1457.3V329.1H1461.2V317.1H1465.1V305.9H1469V339H1472.9V352.2H1476.8V327H1480.7V336.3H1484.6V322.9H1488.5V333.9H1492.4V288.7H1496.3V307.6H1500.2V383.2H1504.1V309.7H1508V342.4H1504.1V418.3H1500.2V348.3H1496.3V318.4H1492.4V370.9H1488.5V356.4H1484.6V374.4H1480.7V355.7H1476.8V389.3H1472.9V373.4H1469V343.9H1465.1V357.8H1461.2V357.4H1457.3V325.7H1453.4V367.8H1449.5V388.6H1445.6V365.4H1441.7V395.8H1437.8V359.5H1433.9V340.2H1430V333.8H1426.1V360.5H1422.2V361H1418.3V346.3H1414.4V393.7H1410.5V345.9H1406.6V349.7H1402.7V367.4H1398.8V368.3H1394.9V362.3H1391V409.1H1387.1V350H1383.2V352.9H1379.3V338H1375.4V344.2H1371.5V396.1H1367.6V318.2H1363.8V367.1H1359.9V329.2H1356V340.7H1352.1V328.6H1348.2V384.8H1344.3V347.4H1340.4V370.1H1336.5V321.2H1332.6V322.4H1328.7V334.1H1324.8V307.2H1320.9V319.7H1317V319.8H1313.1V354.3H1309.2V336.4H1305.3V330H1301.4V326.8H1297.5V333.6H1293.6V364.5H1289.7V337.6H1285.8V304.5H1281.9V334.7H1278V325.4H1274.1V332.5H1270.2V325.8H1266.3V325.4H1262.4V320.9H1258.5V310H1254.6V315.7H1250.7V341.3H1246.8V300.4H1242.9V345.5H1239V293.3H1235.1V272.8H1231.2V301H1227.3V319.1H1223.4V313.4H1219.5V308.1H1215.6V299.8H1211.7V302.3H1207.8V307.4H1203.9V337.7H1200V301.8H1196.1V325.6H1192.2V295.7H1188.3V314.1H1184.4V305.4H1180.5V278.5H1176.6V266.8H1172.7V326.9H1168.8V297.3H1164.9V301.4H1161V291.4H1157.1V292H1153.2V258.7H1149.3V288.7H1145.4V318.1H1141.5V280.8H1137.6V297.5H1133.7V293.1H1129.8V286.6H1125.9V273.2H1122V271.6H1118.1V281.5H1114.2V274.2H1110.3V265.8H1106.4V290.3H1102.5V264.2H1098.6V297.8H1094.7V285.9H1090.8V270.4H1086.9V259.7H1083V269.2H1079.2V250.8H1075.3V264.3H1071.4V283H1067.5V263.7H1063.6V284.2H1059.7V278.5H1055.8V264.8H1051.9V269.7H1048V262.3H1044.1V248.5H1040.2V274H1036.3V258.9H1032.4V239.7H1028.5V267.3H1024.6V280H1020.7V259.8H1016.8V275.2H1012.9V234.8H1009V259.7H1005.1V258.1H1001.2V270.4H997.3V255.7H993.4V273.9H989.5V282.8H985.6V250.4H981.7V261.6H977.8V267.6H973.9V243H970V259.7H966.1V237.8H962.2V244.8H958.3V250.1H954.4V274.2H950.5V263.6H946.6V242.2H942.7V262.9H938.8V259.1H934.9V243.5H931V277.6H927.1V265H923.2V271.3H919.3V258H915.4V260.5H911.5V263.4H907.6V275.3H903.7V251.1H899.8V239.8H895.9V271.1H892V259.8H888.1V259.6H884.2V284.2H880.3V245.3H876.4V283.3H872.5V257H868.6V258.3H864.7V259.6H860.8V246.1H856.9V254.1H853V248.9H849.1V278.5H845.2V257.7H841.3V281.6H837.4V261.8H833.5V254.4H829.6V260.7H825.7V275.7H821.8V240.2H817.9V276.3H814V247.7H810.1V250.8H806.2V273.5H802.3V284.6H798.4V249.3H794.6V240.3H790.7V251.8H786.8V271.7H782.9V264.2H779V268.5H775.1V270.2H771.2V258.2H767.3V246H763.4V272.2H759.5V276.7H755.6V272.7H751.7V273.8H747.8V283.2H743.9V264.3H740V263.4H736.1V285.1H732.2V257.9H728.3V290H724.4V258.9H720.5V288.3H716.6V258.4H712.7V282.8H708.8V264.5H704.9V264H701V263.3H697.1V285.1H693.2V298.7H689.3V300H685.4V255.6H681.5V257.5H677.6V298.1H673.7V303.7H669.8V280.1H665.9V288.2H662V278H658.1V280.9H654.2V280.8H650.3V272.8H646.4V305.5H642.5V299.4H638.6V286.3H634.7V300H630.8V274.1H626.9V293.1H623V287.8H619.1V275.5H615.2V291.8H611.3V269.3H607.4V293.3H603.5V283.3H599.6V272.9H595.7V266.6H591.8V266.3H587.9V315.6H584V281.4H580.1V310.6H576.2V315.2H572.3V293.2H568.4V268.8H564.5V286.3H560.6V305.1H556.7V283.7H552.8V298H548.9V326.4H545V325.8H541.1V288.3H537.2V267.7H533.3V302.7H529.4V307.5H525.5V282.8H521.6V324.2H517.7V324.2H513.8V304.7H510V292.2H506.1V316.5H502.2V309H498.3V337.3H494.4V296.3H490.5V326.1H486.6V283.6H482.7V315H478.8V298.6H474.9V310.6H471V328.2H467.1V324.2H463.2V301.1H459.3V308H455.4V341.8H451.5V313.1H447.6V315.1H443.7V335.3H439.8V313.9H435.9V301H432V348.5H428.1V344.5H424.2V352.5H420.3V324.2H416.4V297.7H412.5V321.3H408.6V334.7H404.7V327.3H400.8V338.6H396.9V334.8H393V336.8H389.1V351.5H385.2V355.5H381.3V379.3H377.4V353.3H373.5V320.7H369.6V363.2H365.7V359.9H361.8V358.4H357.9V340.4H354V333.3H350.1V343.9H346.2V390.5H342.3V374.2H338.4V339.2H334.5V290.1H330.6V374.3H326.7V337.6H322.8V378.4H318.9V322.9H315V342.7H311.1V344.3H307.2V339.5H303.3V364.7H299.4V396.3H295.5V390.1H291.6V322.1H287.7V375.1H283.8V372.1H279.9V346H276V378H272.1V350.6H268.2V344.2H264.3V366.3H260.4V319.2H256.5V338.8H252.6V371H248.7V410.5H244.8V363.3H240.9V358.5H237V346.9H233.1V419.4H229.2V351H225.4V393.3H221.5V371H217.6V330.6H213.7V368.8H209.8V378.4H205.9V360.1H202V424.8H198.1V358.2H194.2V361.6H190.3V340.6H186.4V383.9H182.5V369.3H178.6V371.4H174.7V384.2H170.8V390.6H166.9V338.3H163V363.4H159.1V379H155.2V350.7H151.3V367.9H147.4V386.9H143.5V376.2H139.6V371.9H135.7V361.9H131.8V368.9H127.9V363.5H124V389.1H120.1V367.5H116.2V403.9H112.3V380.8H108.4V373.4H104.5V366.1H100.6V399.1H96.7V376H92.8V420H88.9V362.1H85Z" fill="#ff3ceb" fill-opacity="0.078"/>
</g>
<g stroke="#fff" stroke-opacity="0.22" stroke-width="1.2"><line x1="85.0" x2="1508.0" y1="581.3" y2="581.3"/><line x1="85.0" x2="1508.0" y1="554.7" y2="554.7"/><line x1="85.0" x2="1508.0" y1="528" y2="528"/><line x1="85.0" x2="1508.0" y1="501.3" y2="501.3"/><line x1="85.0" x2="1508.0" y1="474.7" y2="474.7"/><line x1="85.0" x2="1508.0" y1="448" y2="448"/><line x1="85.0" x2="1508.0" y1="421.3" y2="421.3"/><line x1="85.0" x2="1508.0" y1="394.7" y2="394.7"/><line x1="85.0" x2="1508.0" y1="368" y2="368"/><line x1="85.0" x2="1508.0" y1="314.7" y2="314.7"/><line x1="85.0" x2="1508.0" y1="288" y2="288"/><line x1="85.0" x2="1508.0" y1="261.3" y2="261.3"/><line x1="85.0" x2="1508.0" y1="234.7" y2="234.7"/><line x1="85.0" x2="1508.0" y1="208" y2="208"/><line x1="85.0" x2="1508.0" y1="181.3" y2="181.3"/><line x1="85.0" x2="1508.0" y1="154.7" y2="154.7"/><line x1="85.0" x2="1508.0" y1="128" y2="128"/><line x1="85.0" x2="1508.0" y1="101.3" y2="101.3"/><line x1="205.9" x2="205.9" y1="74.67" y2="608.0"/><line x1="315" x2="315" y1="74.67" y2="608.0"/><line x1="435.9" x2="435.9" y1="74.67" y2="608.0"/><line x1="552.8" x2="552.8" y1="74.67" y2="608.0"/><line x1="673.7" x2="673.7" y1="74.67" y2="608.0"/><line x1="790.7" x2="790.7" y1="74.67" y2="608.0"/><line x1="911.5" x2="911.5" y1="74.67" y2="608.0"/><line x1="1032.4" x2="1032.4" y1="74.67" y2="608.0"/><line x1="1149.3" x2="1149.3" y1="74.67" y2="608.0"/><line x1="1270.2" x2="1270.2" y1="74.67" y2="608.0"/><line x1="1387.1" x2="1387.1" y1="74.67" y2="608.0"/></g>
<g clip-path="url(#plot)">
<path d="M85,245.4 L86.9,245.3 L88.9,245.2 L90.8,245.2 L92.8,245.1 L94.7,245 L96.7,244.9 L98.6,244.8 L100.6,244.7 L102.5,244.6 L104.5,244.5 L106.4,244.3 L108.4,244.2 L110.3,244.1 L112.3,244 L114.2,243.9 L116.2,243.7 L118.1,243.6 L120.1,243.5 L122,243.3 L124,243.2 L125.9,243 L127.9,242.9 L129.8,242.7 L131.8,242.6 L133.7,242.4 L135.7,242.3 L137.6,242.1 L139.6,241.9 L141.5,241.8 L143.5,241.6 L145.4,241.4 L147.4,241.3 L149.3,241.1 L151.3,240.9 L153.2,240.7 L155.2,240.5 L157.1,240.4 L159.1,240.2 L161,240 L163,239.8 L164.9,239.6 L166.9,239.4 L168.8,239.2 L170.8,239 L172.7,238.8 L174.7,238.6 L176.6,238.3 L178.6,238.1 L180.5,237.9 L182.5,237.7 L184.4,237.5 L186.4,237.3 L188.3,237 L190.3,236.8 L192.2,236.6 L194.2,236.3 L196.1,236.1 L198.1,235.9 L200,235.6 L202,235.4 L203.9,235.2 L205.9,234.9 L207.8,234.7 L209.8,234.4 L211.7,234.2 L213.7,233.9 L215.6,233.7 L217.6,233.4 L219.5,233.2 L221.5,232.9 L223.4,232.7 L225.4,232.4 L227.3,232.2 L229.2,231.9 L231.2,231.6 L233.1,231.4 L235.1,231.1 L237,230.8 L239,230.6 L240.9,230.3 L242.9,230 L244.8,229.8 L246.8,229.5 L248.7,229.2 L250.7,228.9 L252.6,228.7 L254.6,228.4 L256.5,228.1 L258.5,227.8 L260.4,227.6 L262.4,227.3 L264.3,227 L266.3,226.7 L268.2,226.4 L270.2,226.1 L272.1,225.8 L274.1,225.6 L276,225.3 L278,225 L279.9,224.7 L281.9,224.4 L283.8,224.1 L285.8,223.8 L287.7,223.5 L289.7,223.2 L291.6,222.9 L293.6,222.6 L295.5,222.3 L297.5,222 L299.4,221.7 L301.4,221.4 L303.3,221.1 L305.3,220.8 L307.2,220.5 L309.2,220.2 L311.1,219.9 L313.1,219.6 L315,219.3 L317,219 L318.9,218.7 L320.9,218.4 L322.8,218.1 L324.8,217.8 L326.7,217.5 L328.7,217.2 L330.6,216.9 L332.6,216.6 L334.5,216.3 L336.5,215.9 L338.4,215.6 L340.4,215.3 L342.3,215 L344.3,214.7 L346.2,214.4 L348.2,214.1 L350.1,213.8 L352.1,213.5 L354,213.1 L356,212.8 L357.9,212.5 L359.9,212.2 L361.8,211.9 L363.8,211.6 L365.7,211.3 L367.7,210.9 L369.6,210.6 L371.5,210.3 L373.5,210 L375.4,209.7 L377.4,209.4 L379.3,209.1 L381.3,208.7 L383.2,208.4 L385.2,208.1 L387.1,207.8 L389.1,207.5 L391,207.2 L393,206.8 L394.9,206.5 L396.9,206.2 L398.8,205.9 L400.8,205.6 L402.7,205.3 L404.7,204.9 L406.6,204.6 L408.6,204.3 L410.5,204 L412.5,203.7 L414.4,203.4 L416.4,203 L418.3,202.7 L420.3,202.4 L422.2,202.1 L424.2,201.8 L426.1,201.5 L428.1,201.1 L430,200.8 L432,200.5 L433.9,200.2 L435.9,199.9 L437.8,199.6 L439.8,199.2 L441.7,198.9 L443.7,198.6 L445.6,198.3 L447.6,198 L449.5,197.7 L451.5,197.4 L453.4,197 L455.4,196.7 L457.3,196.4 L459.3,196.1 L461.2,195.8 L463.2,195.5 L465.1,195.2 L467.1,194.9 L469,194.6 L471,194.2 L472.9,193.9 L474.9,193.6 L476.8,193.3 L478.8,193 L480.7,192.7 L482.7,192.4 L484.6,192.1 L486.6,191.8 L488.5,191.5 L490.5,191.2 L492.4,190.9 L494.4,190.6 L496.3,190.3 L498.3,190 L500.2,189.7 L502.2,189.4 L504.1,189.1 L506.1,188.8 L508,188.5 L510,188.2 L511.9,187.9 L513.8,187.6 L515.8,187.3 L517.7,187 L519.7,186.7 L521.6,186.4 L523.6,186.1 L525.5,185.8 L527.5,185.5 L529.4,185.2 L531.4,184.9 L533.3,184.6 L535.3,184.4 L537.2,184.1 L539.2,183.8 L541.1,183.5 L543.1,183.2 L545,182.9 L547,182.7 L548.9,182.4 L550.9,182.1 L552.8,181.8 L554.8,181.5 L556.7,181.3 L558.7,181 L560.6,180.7 L562.6,180.5 L564.5,180.2 L566.5,179.9 L568.4,179.7 L570.4,179.4 L572.3,179.1 L574.3,178.9 L576.2,178.6 L578.2,178.3 L580.1,178.1 L582.1,177.8 L584,177.6 L586,177.3 L587.9,177.1 L589.9,176.8 L591.8,176.6 L593.8,176.3 L595.7,176.1 L597.7,175.9 L599.6,175.6 L601.6,175.4 L603.5,175.1 L605.5,174.9 L607.4,174.7 L609.4,174.5 L611.3,174.2 L613.3,174 L615.2,173.8 L617.2,173.6 L619.1,173.3 L621.1,173.1 L623,172.9 L625,172.7 L626.9,172.5 L628.9,172.3 L630.8,172.1 L632.8,171.9 L634.7,171.7 L636.7,171.5 L638.6,171.3 L640.6,171.1 L642.5,170.9 L644.5,170.7 L646.4,170.5 L648.4,170.3 L650.3,170.2 L652.3,170 L654.2,169.8 L656.1,169.7 L658.1,169.5 L660,169.3 L662,169.2 L663.9,169 L665.9,168.8 L667.8,168.7 L669.8,168.5 L671.7,168.4 L673.7,168.3 L675.6,168.1 L677.6,168 L679.5,167.8 L681.5,167.7 L683.4,167.6 L685.4,167.5 L687.3,167.3 L689.3,167.2 L691.2,167.1 L693.2,167 L695.1,166.9 L697.1,166.8 L699,166.7 L701,166.6 L702.9,166.5 L704.9,166.4 L706.8,166.3 L708.8,166.2 L710.7,166.1 L712.7,166.1 L714.6,166 L716.6,165.9 L718.5,165.9 L720.5,165.8 L722.4,165.7 L724.4,165.7 L726.3,165.6 L728.3,165.6 L730.2,165.5 L732.2,165.5 L734.1,165.5 L736.1,165.4 L738,165.4 L740,165.4 L741.9,165.3 L743.9,165.3 L745.8,165.3 L747.8,165.3 L749.7,165.3 L751.7,165.3 L753.6,165.3 L755.6,165.3 L757.5,165.3 L759.5,165.3 L761.4,165.3 L763.4,165.3 L765.3,165.4 L767.3,165.4 L769.2,165.4 L771.2,165.5 L773.1,165.5 L775.1,165.5 L777,165.6 L779,165.6 L780.9,165.7 L782.9,165.7 L784.8,165.8 L786.8,165.9 L788.7,165.9 L790.7,166 L792.6,166.1 L794.6,166.1 L796.5,166.2 L798.4,166.3 L800.4,166.4 L802.3,166.5 L804.3,166.6 L806.2,166.7 L808.2,166.8 L810.1,166.9 L812.1,167 L814,167.1 L816,167.2 L817.9,167.3 L819.9,167.5 L821.8,167.6 L823.8,167.7 L825.7,167.8 L827.7,168 L829.6,168.1 L831.6,168.3 L833.5,168.4 L835.5,168.5 L837.4,168.7 L839.4,168.8 L841.3,169 L843.3,169.2 L845.2,169.3 L847.2,169.5 L849.1,169.7 L851.1,169.8 L853,170 L855,170.2 L856.9,170.3 L858.9,170.5 L860.8,170.7 L862.8,170.9 L864.7,171.1 L866.7,171.3 L868.6,171.5 L870.6,171.7 L872.5,171.9 L874.5,172.1 L876.4,172.3 L878.4,172.5 L880.3,172.7 L882.3,172.9 L884.2,173.1 L886.2,173.3 L888.1,173.6 L890.1,173.8 L892,174 L894,174.2 L895.9,174.5 L897.9,174.7 L899.8,174.9 L901.8,175.1 L903.7,175.4 L905.7,175.6 L907.6,175.9 L909.6,176.1 L911.5,176.3 L913.5,176.6 L915.4,176.8 L917.4,177.1 L919.3,177.3 L921.3,177.6 L923.2,177.8 L925.2,178.1 L927.1,178.3 L929.1,178.6 L931,178.9 L933,179.1 L934.9,179.4 L936.9,179.7 L938.8,179.9 L940.7,180.2 L942.7,180.5 L944.6,180.7 L946.6,181 L948.5,181.3 L950.5,181.5 L952.4,181.8 L954.4,182.1 L956.3,182.4 L958.3,182.7 L960.2,182.9 L962.2,183.2 L964.1,183.5 L966.1,183.8 L968,184.1 L970,184.4 L971.9,184.6 L973.9,184.9 L975.8,185.2 L977.8,185.5 L979.7,185.8 L981.7,186.1 L983.6,186.4 L985.6,186.7 L987.5,187 L989.5,187.3 L991.4,187.6 L993.4,187.9 L995.3,188.2 L997.3,188.5 L999.2,188.8 L1001.2,189.1 L1003.1,189.4 L1005.1,189.7 L1007,190 L1009,190.3 L1010.9,190.6 L1012.9,190.9 L1014.8,191.2 L1016.8,191.5 L1018.7,191.8 L1020.7,192.1 L1022.6,192.4 L1024.6,192.7 L1026.5,193 L1028.5,193.3 L1030.4,193.6 L1032.4,193.9 L1034.3,194.2 L1036.3,194.6 L1038.2,194.9 L1040.2,195.2 L1042.1,195.5 L1044.1,195.8 L1046,196.1 L1048,196.4 L1049.9,196.7 L1051.9,197 L1053.8,197.4 L1055.8,197.7 L1057.7,198 L1059.7,198.3 L1061.6,198.6 L1063.6,198.9 L1065.5,199.2 L1067.5,199.6 L1069.4,199.9 L1071.4,200.2 L1073.3,200.5 L1075.3,200.8 L1077.2,201.1 L1079.2,201.5 L1081.1,201.8 L1083,202.1 L1085,202.4 L1086.9,202.7 L1088.9,203 L1090.8,203.4 L1092.8,203.7 L1094.7,204 L1096.7,204.3 L1098.6,204.6 L1100.6,204.9 L1102.5,205.3 L1104.5,205.6 L1106.4,205.9 L1108.4,206.2 L1110.3,206.5 L1112.3,206.8 L1114.2,207.2 L1116.2,207.5 L1118.1,207.8 L1120.1,208.1 L1122,208.4 L1124,208.7 L1125.9,209.1 L1127.9,209.4 L1129.8,209.7 L1131.8,210 L1133.7,210.3 L1135.7,210.6 L1137.6,210.9 L1139.6,211.3 L1141.5,211.6 L1143.5,211.9 L1145.4,212.2 L1147.4,212.5 L1149.3,212.8 L1151.3,213.1 L1153.2,213.5 L1155.2,213.8 L1157.1,214.1 L1159.1,214.4 L1161,214.7 L1163,215 L1164.9,215.3 L1166.9,215.6 L1168.8,215.9 L1170.8,216.3 L1172.7,216.6 L1174.7,216.9 L1176.6,217.2 L1178.6,217.5 L1180.5,217.8 L1182.5,218.1 L1184.4,218.4 L1186.4,218.7 L1188.3,219 L1190.3,219.3 L1192.2,219.6 L1194.2,219.9 L1196.1,220.2 L1198.1,220.5 L1200,220.8 L1202,221.1 L1203.9,221.4 L1205.9,221.7 L1207.8,222 L1209.8,222.3 L1211.7,222.6 L1213.7,222.9 L1215.6,223.2 L1217.6,223.5 L1219.5,223.8 L1221.5,224.1 L1223.4,224.4 L1225.3,224.7 L1227.3,225 L1229.2,225.3 L1231.2,225.6 L1233.1,225.8 L1235.1,226.1 L1237,226.4 L1239,226.7 L1240.9,227 L1242.9,227.3 L1244.8,227.6 L1246.8,227.8 L1248.7,228.1 L1250.7,228.4 L1252.6,228.7 L1254.6,228.9 L1256.5,229.2 L1258.5,229.5 L1260.4,229.8 L1262.4,230 L1264.3,230.3 L1266.3,230.6 L1268.2,230.8 L1270.2,231.1 L1272.1,231.4 L1274.1,231.6 L1276,231.9 L1278,232.2 L1279.9,232.4 L1281.9,232.7 L1283.8,232.9 L1285.8,233.2 L1287.7,233.4 L1289.7,233.7 L1291.6,233.9 L1293.6,234.2 L1295.5,234.4 L1297.5,234.7 L1299.4,234.9 L1301.4,235.2 L1303.3,235.4 L1305.3,235.6 L1307.2,235.9 L1309.2,236.1 L1311.1,236.3 L1313.1,236.6 L1315,236.8 L1317,237 L1318.9,237.3 L1320.9,237.5 L1322.8,237.7 L1324.8,237.9 L1326.7,238.1 L1328.7,238.3 L1330.6,238.6 L1332.6,238.8 L1334.5,239 L1336.5,239.2 L1338.4,239.4 L1340.4,239.6 L1342.3,239.8 L1344.3,240 L1346.2,240.2 L1348.2,240.4 L1350.1,240.5 L1352.1,240.7 L1354,240.9 L1356,241.1 L1357.9,241.3 L1359.9,241.4 L1361.8,241.6 L1363.8,241.8 L1365.7,241.9 L1367.6,242.1 L1369.6,242.3 L1371.5,242.4 L1373.5,242.6 L1375.4,242.7 L1377.4,242.9 L1379.3,243 L1381.3,243.2 L1383.2,243.3 L1385.2,243.5 L1387.1,243.6 L1389.1,243.7 L1391,243.9 L1393,244 L1394.9,244.1 L1396.9,244.2 L1398.8,244.3 L1400.8,244.5 L1402.7,244.6 L1404.7,244.7 L1406.6,244.8 L1408.6,244.9 L1410.5,245 L1412.5,245.1 L1414.4,245.2 L1416.4,245.2 L1418.3,245.3 L1420.3,245.4 L1422.2,245.5 L1424.2,245.6 L1426.1,245.6 L1428.1,245.7 L1430,245.8 L1432,245.8 L1433.9,245.9 L1435.9,245.9 L1437.8,246 L1439.8,246 L1441.7,246.1 L1443.7,246.1 L1445.6,246.1 L1447.6,246.2 L1449.5,246.2 L1451.5,246.2 L1453.4,246.3 L1455.4,246.3 L1457.3,246.3 L1459.3,246.3 L1461.2,246.3 L1463.2,246.3 L1465.1,246.3 L1467.1,246.3 L1469,246.3 L1471,246.3 L1472.9,246.3 L1474.9,246.3 L1476.8,246.2 L1478.8,246.2 L1480.7,246.2 L1482.7,246.1 L1484.6,246.1 L1486.6,246.1 L1488.5,246 L1490.5,246 L1492.4,245.9 L1494.4,245.9 L1496.3,245.8 L1498.3,245.8 L1500.2,245.7 L1502.2,245.6 L1504.1,245.6 L1506.1,245.5 L1508,245.4" stroke="#10e010" stroke-width="1.7" fill="none"/>
<path d="M85,278.7 L86.9,278.7 L88.9,278.7 L90.8,278.7 L92.8,278.7 L94.7,278.7 L96.7,278.7 L98.6,278.7 L100.6,278.7 L102.5,278.7 L104.5,278.7 L106.4,278.7 L108.4,278.7 L110.3,278.7 L112.3,278.7 L114.2,278.7 L116.2,278.7 L118.1,278.7 L120.1,278.7 L122,278.7 L124,278.7 L125.9,278.7 L127.9,278.7 L129.8,278.7 L131.8,278.7 L133.7,278.7 L135.7,278.7 L137.6,278.6 L139.6,278.6 L141.5,278.6 L143.5,278.6 L145.4,278.6 L147.4,278.6 L149.3,278.6 L151.3,278.6 L153.2,278.5 L155.2,278.5 L157.1,278.5 L159.1,278.4 L161,278.3 L163,278.3 L164.9,278.2 L166.9,278.1 L168.8,278 L170.8,277.9 L172.7,277.8 L174.7,277.6 L176.6,277.4 L178.6,277.3 L180.5,277.1 L182.5,276.8 L184.4,276.6 L186.4,276.3 L188.3,276 L190.3,275.8 L192.2,275.4 L194.2,275.1 L196.1,274.8 L198.1,274.4 L200,274 L202,273.7 L203.9,273.3 L205.9,272.9 L207.8,272.5 L209.8,272.1 L211.7,271.8 L213.7,271.4 L215.6,271 L217.6,270.7 L219.5,270.3 L221.5,270 L223.4,269.7 L225.4,269.5 L227.3,269.2 L229.2,268.9 L231.2,268.7 L233.1,268.5 L235.1,268.3 L237,268.2 L239,268 L240.9,267.9 L242.9,267.8 L244.8,267.6 L246.8,267.5 L248.7,267.5 L250.7,267.4 L252.6,267.3 L254.6,267.2 L256.5,267.2 L258.5,267.1 L260.4,267.1 L262.4,267 L264.3,266.9 L266.3,266.9 L268.2,266.8 L270.2,266.7 L272.1,266.6 L274.1,266.5 L276,266.3 L278,266.2 L279.9,266 L281.9,265.8 L283.8,265.6 L285.8,265.4 L287.7,265.1 L289.7,264.8 L291.6,264.5 L293.6,264.1 L295.5,263.8 L297.5,263.4 L299.4,262.9 L301.4,262.5 L303.3,262 L305.3,261.5 L307.2,261 L309.2,260.5 L311.1,259.9 L313.1,259.4 L315,258.8 L317,258.3 L318.9,257.7 L320.9,257.2 L322.8,256.7 L324.8,256.2 L326.7,255.7 L328.7,255.2 L330.6,254.7 L332.6,254.3 L334.5,253.9 L336.5,253.5 L338.4,253.2 L340.4,252.9 L342.3,252.6 L344.3,252.3 L346.2,252.1 L348.2,251.9 L350.1,251.7 L352.1,251.5 L354,251.3 L356,251.2 L357.9,251.1 L359.9,251 L361.8,250.9 L363.8,250.8 L365.7,250.8 L367.7,250.7 L369.6,250.7 L371.5,250.6 L373.5,250.6 L375.4,250.6 L377.4,250.5 L379.3,250.5 L381.3,250.4 L383.2,250.4 L385.2,250.3 L387.1,250.3 L389.1,250.2 L391,250.1 L393,250 L394.9,249.9 L396.9,249.7 L398.8,249.6 L400.8,249.4 L402.7,249.2 L404.7,249 L406.6,248.7 L408.6,248.4 L410.5,248.1 L412.5,247.8 L414.4,247.4 L416.4,247 L418.3,246.6 L420.3,246.2 L422.2,245.7 L424.2,245.2 L426.1,244.7 L428.1,244.1 L430,243.6 L432,243 L433.9,242.4 L435.9,241.8 L437.8,241.3 L439.8,240.7 L441.7,240.1 L443.7,239.6 L445.6,239 L447.6,238.5 L449.5,238 L451.5,237.5 L453.4,237.1 L455.4,236.6 L457.3,236.2 L459.3,235.9 L461.2,235.5 L463.2,235.2 L465.1,235 L467.1,234.7 L469,234.5 L471,234.3 L472.9,234.1 L474.9,233.9 L476.8,233.8 L478.8,233.7 L480.7,233.6 L482.7,233.5 L484.6,233.4 L486.6,233.3 L488.5,233.3 L490.5,233.2 L492.4,233.2 L494.4,233.1 L496.3,233.1 L498.3,233 L500.2,233 L502.2,232.9 L504.1,232.8 L506.1,232.8 L508,232.7 L510,232.6 L511.9,232.5 L513.8,232.4 L515.8,232.2 L517.7,232.1 L519.7,231.9 L521.6,231.7 L523.6,231.4 L525.5,231.2 L527.5,230.9 L529.4,230.6 L531.4,230.3 L533.3,229.9 L535.3,229.5 L537.2,229.1 L539.2,228.7 L541.1,228.2 L543.1,227.7 L545,227.2 L547,226.7 L548.9,226.2 L550.9,225.7 L552.8,225.2 L554.8,224.6 L556.7,224.1 L558.7,223.6 L560.6,223.1 L562.6,222.6 L564.5,222.1 L566.5,221.7 L568.4,221.2 L570.4,220.8 L572.3,220.4 L574.3,220.1 L576.2,219.7 L578.2,219.4 L580.1,219.2 L582.1,218.9 L584,218.7 L586,218.5 L587.9,218.3 L589.9,218.1 L591.8,218 L593.8,217.9 L595.7,217.8 L597.7,217.7 L599.6,217.6 L601.6,217.5 L603.5,217.5 L605.5,217.4 L607.4,217.4 L609.4,217.3 L611.3,217.3 L613.3,217.3 L615.2,217.2 L617.2,217.2 L619.1,217.2 L621.1,217.2 L623,217.1 L625,217.1 L626.9,217.1 L628.9,217 L630.8,217 L632.8,216.9 L634.7,216.9 L636.7,216.8 L638.6,216.7 L640.6,216.6 L642.5,216.5 L644.5,216.4 L646.4,216.3 L648.4,216.2 L650.3,216 L652.3,215.9 L654.2,215.7 L656.1,215.5 L658.1,215.3 L660,215.1 L662,214.9 L663.9,214.7 L665.9,214.4 L667.8,214.2 L669.8,213.9 L671.7,213.7 L673.7,213.4 L675.6,213.2 L677.6,212.9 L679.5,212.7 L681.5,212.5 L683.4,212.2 L685.4,212 L687.3,211.8 L689.3,211.6 L691.2,211.4 L693.2,211.2 L695.1,211 L697.1,210.9 L699,210.7 L701,210.6 L702.9,210.5 L704.9,210.4 L706.8,210.3 L708.8,210.2 L710.7,210.1 L712.7,210 L714.6,210 L716.6,209.9 L718.5,209.9 L720.5,209.8 L722.4,209.8 L724.4,209.8 L726.3,209.7 L728.3,209.7 L730.2,209.7 L732.2,209.7 L734.1,209.7 L736.1,209.6 L738,209.6 L740,209.6 L741.9,209.6 L743.9,209.5 L745.8,209.5 L747.8,209.5 L749.7,209.4 L751.7,209.4 L753.6,209.3 L755.6,209.2 L757.5,209.2 L759.5,209.1 L761.4,209 L763.4,208.9 L765.3,208.8 L767.3,208.7 L769.2,208.5 L771.2,208.4 L773.1,208.2 L775.1,208.1 L777,207.9 L779,207.7 L780.9,207.5 L782.9,207.3 L784.8,207.1 L786.8,206.9 L788.7,206.7 L790.7,206.5 L792.6,206.3 L794.6,206.1 L796.5,205.9 L798.4,205.7 L800.4,205.5 L802.3,205.3 L804.3,205.1 L806.2,204.9 L808.2,204.8 L810.1,204.6 L812.1,204.5 L814,204.3 L816,204.2 L817.9,204.1 L819.9,204 L821.8,203.9 L823.8,203.8 L825.7,203.8 L827.7,203.7 L829.6,203.6 L831.6,203.6 L833.5,203.6 L835.5,203.5 L837.4,203.5 L839.4,203.5 L841.3,203.4 L843.3,203.4 L845.2,203.4 L847.2,203.4 L849.1,203.4 L851.1,203.4 L853,203.4 L855,203.4 L856.9,203.4 L858.9,203.4 L860.8,203.5 L862.8,203.5 L864.7,203.5 L866.7,203.6 L868.6,203.6 L870.6,203.6 L872.5,203.7 L874.5,203.8 L876.4,203.9 L878.4,203.9 L880.3,204 L882.3,204.2 L884.2,204.3 L886.2,204.4 L888.1,204.6 L890.1,204.7 L892,204.9 L894,205.1 L895.9,205.3 L897.9,205.5 L899.8,205.7 L901.8,206 L903.7,206.2 L905.7,206.5 L907.6,206.7 L909.6,207 L911.5,207.2 L913.5,207.5 L915.4,207.7 L917.4,208 L919.3,208.2 L921.3,208.5 L923.2,208.7 L925.2,208.9 L927.1,209.1 L929.1,209.4 L931,209.5 L933,209.7 L934.9,209.9 L936.9,210 L938.8,210.2 L940.7,210.3 L942.7,210.4 L944.6,210.5 L946.6,210.6 L948.5,210.7 L950.5,210.7 L952.4,210.8 L954.4,210.9 L956.3,210.9 L958.3,211 L960.2,211 L962.2,211 L964.1,211.1 L966.1,211.1 L968,211.1 L970,211.1 L971.9,211.2 L973.9,211.2 L975.8,211.2 L977.8,211.3 L979.7,211.3 L981.7,211.4 L983.6,211.5 L985.6,211.5 L987.5,211.6 L989.5,211.7 L991.4,211.9 L993.4,212 L995.3,212.2 L997.3,212.4 L999.2,212.6 L1001.2,212.8 L1003.1,213.1 L1005.1,213.4 L1007,213.7 L1009,214.1 L1010.9,214.5 L1012.9,214.9 L1014.8,215.3 L1016.8,215.8 L1018.7,216.3 L1020.7,216.9 L1022.6,217.4 L1024.6,218 L1026.5,218.6 L1028.5,219.2 L1030.4,219.8 L1032.4,220.4 L1034.3,221.1 L1036.3,221.7 L1038.2,222.3 L1040.2,222.9 L1042.1,223.5 L1044.1,224 L1046,224.6 L1048,225.1 L1049.9,225.6 L1051.9,226 L1053.8,226.4 L1055.8,226.8 L1057.7,227.2 L1059.7,227.5 L1061.6,227.8 L1063.6,228.1 L1065.5,228.3 L1067.5,228.5 L1069.4,228.7 L1071.4,228.9 L1073.3,229 L1075.3,229.2 L1077.2,229.3 L1079.2,229.4 L1081.1,229.5 L1083,229.6 L1085,229.6 L1086.9,229.7 L1088.9,229.8 L1090.8,229.8 L1092.8,229.9 L1094.7,230 L1096.7,230.1 L1098.6,230.2 L1100.6,230.3 L1102.5,230.4 L1104.5,230.6 L1106.4,230.8 L1108.4,231 L1110.3,231.2 L1112.3,231.4 L1114.2,231.8 L1116.2,232.1 L1118.1,232.5 L1120.1,232.9 L1122,233.4 L1124,233.9 L1125.9,234.5 L1127.9,235.1 L1129.8,235.8 L1131.8,236.5 L1133.7,237.2 L1135.7,238.1 L1137.6,238.9 L1139.6,239.8 L1141.5,240.7 L1143.5,241.6 L1145.4,242.6 L1147.4,243.6 L1149.3,244.6 L1151.3,245.5 L1153.2,246.5 L1155.2,247.5 L1157.1,248.4 L1159.1,249.3 L1161,250.2 L1163,251.1 L1164.9,251.9 L1166.9,252.6 L1168.8,253.4 L1170.8,254 L1172.7,254.6 L1174.7,255.2 L1176.6,255.7 L1178.6,256.2 L1180.5,256.6 L1182.5,257 L1184.4,257.4 L1186.4,257.7 L1188.3,257.9 L1190.3,258.2 L1192.2,258.4 L1194.2,258.5 L1196.1,258.7 L1198.1,258.8 L1200,258.9 L1202,259 L1203.9,259.1 L1205.9,259.2 L1207.8,259.2 L1209.8,259.3 L1211.7,259.3 L1213.7,259.4 L1215.6,259.5 L1217.6,259.5 L1219.5,259.6 L1221.5,259.7 L1223.4,259.7 L1225.3,259.8 L1227.3,260 L1229.2,260.1 L1231.2,260.2 L1233.1,260.4 L1235.1,260.6 L1237,260.8 L1239,261.1 L1240.9,261.3 L1242.9,261.6 L1244.8,262 L1246.8,262.3 L1248.7,262.7 L1250.7,263.2 L1252.6,263.6 L1254.6,264.1 L1256.5,264.7 L1258.5,265.2 L1260.4,265.8 L1262.4,266.4 L1264.3,267 L1266.3,267.6 L1268.2,268.2 L1270.2,268.8 L1272.1,269.5 L1274.1,270.1 L1276,270.7 L1278,271.3 L1279.9,271.9 L1281.9,272.5 L1283.8,273 L1285.8,273.5 L1287.7,274 L1289.7,274.5 L1291.6,274.9 L1293.6,275.3 L1295.5,275.7 L1297.5,276 L1299.4,276.3 L1301.4,276.6 L1303.3,276.8 L1305.3,277.1 L1307.2,277.3 L1309.2,277.4 L1311.1,277.6 L1313.1,277.7 L1315,277.8 L1317,277.9 L1318.9,278 L1320.9,278.1 L1322.8,278.1 L1324.8,278.2 L1326.7,278.2 L1328.7,278.2 L1330.6,278.3 L1332.6,278.3 L1334.5,278.3 L1336.5,278.3 L1338.4,278.4 L1340.4,278.4 L1342.3,278.4 L1344.3,278.4 L1346.2,278.4 L1348.2,278.5 L1350.1,278.5 L1352.1,278.5 L1354,278.6 L1356,278.6 L1357.9,278.7 L1359.9,278.7 L1361.8,278.8 L1363.8,278.8 L1365.7,278.9 L1367.6,279 L1369.6,279 L1371.5,279.1 L1373.5,279.2 L1375.4,279.3 L1377.4,279.4 L1379.3,279.5 L1381.3,279.6 L1383.2,279.7 L1385.2,279.8 L1387.1,279.9 L1389.1,280 L1391,280.1 L1393,280.2 L1394.9,280.3 L1396.9,280.4 L1398.8,280.5 L1400.8,280.6 L1402.7,280.7 L1404.7,280.7 L1406.6,280.8 L1408.6,280.9 L1410.5,281 L1412.5,281 L1414.4,281.1 L1416.4,281.1 L1418.3,281.2 L1420.3,281.2 L1422.2,281.2 L1424.2,281.3 L1426.1,281.3 L1428.1,281.3 L1430,281.3 L1432,281.4 L1433.9,281.4 L1435.9,281.4 L1437.8,281.4 L1439.8,281.4 L1441.7,281.4 L1443.7,281.4 L1445.6,281.4 L1447.6,281.4 L1449.5,281.4 L1451.5,281.4 L1453.4,281.4 L1455.4,281.4 L1457.3,281.4 L1459.3,281.4 L1461.2,281.4 L1463.2,281.4 L1465.1,281.4 L1467.1,281.4 L1469,281.4 L1471,281.4 L1472.9,281.4 L1474.9,281.4 L1476.8,281.4 L1478.8,281.4 L1480.7,281.4 L1482.7,281.4 L1484.6,281.4 L1486.6,281.4 L1488.5,281.4 L1490.5,281.4 L1492.4,281.4 L1494.4,281.4 L1496.3,281.4 L1498.3,281.4 L1500.2,281.4 L1502.2,281.4 L1504.1,281.4 L1506.1,281.4 L1508,281.4" stroke="#f0f032" stroke-width="1.7" fill="none"/>
<path d="M85,357.2 L86.9,357.2 L88.9,357.2 L90.8,357.2 L92.8,357.2 L94.7,357.2 L96.7,357.2 L98.6,357.2 L100.6,357.2 L102.5,357.2 L104.5,357.2 L106.4,357.2 L108.4,357.2 L110.3,357.2 L112.3,357.2 L114.2,357.2 L116.2,357.2 L118.1,357.2 L120.1,357.2 L122,357.2 L124,357.2 L125.9,357.2 L127.9,357.2 L129.8,357.2 L131.8,357.2 L133.7,357.2 L135.7,357.2 L137.6,357.2 L139.6,357.2 L141.5,357.2 L143.5,357.2 L145.4,357.1 L147.4,357.1 L149.3,357.1 L151.3,357.1 L153.2,357 L155.2,357 L157.1,356.9 L159.1,356.9 L161,356.8 L163,356.7 L164.9,356.6 L166.9,356.4 L168.8,356.3 L170.8,356.1 L172.7,355.9 L174.7,355.7 L176.6,355.5 L178.6,355.2 L180.5,354.9 L182.5,354.6 L184.4,354.2 L186.4,353.9 L188.3,353.5 L190.3,353 L192.2,352.6 L194.2,352.1 L196.1,351.6 L198.1,351.1 L200,350.6 L202,350 L203.9,349.5 L205.9,348.9 L207.8,348.4 L209.8,347.8 L211.7,347.3 L213.7,346.8 L215.6,346.3 L217.6,345.8 L219.5,345.3 L221.5,344.8 L223.4,344.4 L225.4,344 L227.3,343.6 L229.2,343.3 L231.2,342.9 L233.1,342.7 L235.1,342.4 L237,342.1 L239,341.9 L240.9,341.7 L242.9,341.6 L244.8,341.4 L246.8,341.3 L248.7,341.1 L250.7,341 L252.6,340.9 L254.6,340.8 L256.5,340.8 L258.5,340.7 L260.4,340.6 L262.4,340.5 L264.3,340.4 L266.3,340.3 L268.2,340.2 L270.2,340.1 L272.1,340 L274.1,339.8 L276,339.6 L278,339.4 L279.9,339.2 L281.9,339 L283.8,338.7 L285.8,338.4 L287.7,338 L289.7,337.6 L291.6,337.2 L293.6,336.8 L295.5,336.3 L297.5,335.8 L299.4,335.2 L301.4,334.6 L303.3,334 L305.3,333.4 L307.2,332.7 L309.2,332 L311.1,331.3 L313.1,330.6 L315,329.9 L317,329.2 L318.9,328.5 L320.9,327.8 L322.8,327.1 L324.8,326.4 L326.7,325.8 L328.7,325.2 L330.6,324.6 L332.6,324 L334.5,323.5 L336.5,323 L338.4,322.6 L340.4,322.1 L342.3,321.8 L344.3,321.4 L346.2,321.1 L348.2,320.8 L350.1,320.6 L352.1,320.4 L354,320.2 L356,320 L357.9,319.9 L359.9,319.7 L361.8,319.6 L363.8,319.5 L365.7,319.4 L367.7,319.4 L369.6,319.3 L371.5,319.2 L373.5,319.2 L375.4,319.1 L377.4,319 L379.3,319 L381.3,318.9 L383.2,318.8 L385.2,318.7 L387.1,318.6 L389.1,318.5 L391,318.4 L393,318.2 L394.9,318 L396.9,317.8 L398.8,317.5 L400.8,317.2 L402.7,316.9 L404.7,316.5 L406.6,316.1 L408.6,315.6 L410.5,315.1 L412.5,314.5 L414.4,313.9 L416.4,313.2 L418.3,312.5 L420.3,311.7 L422.2,310.9 L424.2,310.1 L426.1,309.2 L428.1,308.3 L430,307.4 L432,306.4 L433.9,305.5 L435.9,304.5 L437.8,303.5 L439.8,302.5 L441.7,301.6 L443.7,300.7 L445.6,299.7 L447.6,298.9 L449.5,298 L451.5,297.2 L453.4,296.5 L455.4,295.7 L457.3,295.1 L459.3,294.5 L461.2,293.9 L463.2,293.4 L465.1,292.9 L467.1,292.5 L469,292.1 L471,291.8 L472.9,291.5 L474.9,291.2 L476.8,291 L478.8,290.8 L480.7,290.6 L482.7,290.5 L484.6,290.3 L486.6,290.2 L488.5,290.1 L490.5,290 L492.4,289.9 L494.4,289.9 L496.3,289.8 L498.3,289.7 L500.2,289.6 L502.2,289.6 L504.1,289.5 L506.1,289.4 L508,289.2 L510,289.1 L511.9,289 L513.8,288.8 L515.8,288.6 L517.7,288.4 L519.7,288.1 L521.6,287.8 L523.6,287.5 L525.5,287.2 L527.5,286.8 L529.4,286.4 L531.4,285.9 L533.3,285.4 L535.3,284.9 L537.2,284.3 L539.2,283.8 L541.1,283.1 L543.1,282.5 L545,281.8 L547,281.1 L548.9,280.4 L550.9,279.7 L552.8,279 L554.8,278.3 L556.7,277.6 L558.7,276.9 L560.6,276.2 L562.6,275.5 L564.5,274.8 L566.5,274.2 L568.4,273.6 L570.4,273.1 L572.3,272.5 L574.3,272.1 L576.2,271.6 L578.2,271.2 L580.1,270.8 L582.1,270.4 L584,270.1 L586,269.9 L587.9,269.6 L589.9,269.4 L591.8,269.2 L593.8,269 L595.7,268.9 L597.7,268.8 L599.6,268.6 L601.6,268.5 L603.5,268.5 L605.5,268.4 L607.4,268.3 L609.4,268.3 L611.3,268.2 L613.3,268.2 L615.2,268.1 L617.2,268.1 L619.1,268 L621.1,268 L623,267.9 L625,267.9 L626.9,267.8 L628.9,267.7 L630.8,267.6 L632.8,267.5 L634.7,267.3 L636.7,267.2 L638.6,267 L640.6,266.8 L642.5,266.5 L644.5,266.3 L646.4,266 L648.4,265.7 L650.3,265.3 L652.3,265 L654.2,264.6 L656.1,264.1 L658.1,263.7 L660,263.2 L662,262.7 L663.9,262.2 L665.9,261.6 L667.8,261 L669.8,260.5 L671.7,259.9 L673.7,259.3 L675.6,258.7 L677.6,258.1 L679.5,257.5 L681.5,257 L683.4,256.4 L685.4,255.9 L687.3,255.4 L689.3,254.9 L691.2,254.4 L693.2,254 L695.1,253.6 L697.1,253.2 L699,252.9 L701,252.6 L702.9,252.3 L704.9,252 L706.8,251.8 L708.8,251.6 L710.7,251.4 L712.7,251.2 L714.6,251.1 L716.6,251 L718.5,250.9 L720.5,250.8 L722.4,250.7 L724.4,250.6 L726.3,250.6 L728.3,250.5 L730.2,250.5 L732.2,250.4 L734.1,250.4 L736.1,250.4 L738,250.3 L740,250.3 L741.9,250.2 L743.9,250.2 L745.8,250.1 L747.8,250 L749.7,249.9 L751.7,249.8 L753.6,249.7 L755.6,249.6 L757.5,249.5 L759.5,249.3 L761.4,249.2 L763.4,249 L765.3,248.8 L767.3,248.5 L769.2,248.3 L771.2,248 L773.1,247.7 L775.1,247.4 L777,247.1 L779,246.8 L780.9,246.4 L782.9,246 L784.8,245.7 L786.8,245.3 L788.7,244.9 L790.7,244.5 L792.6,244.1 L794.6,243.7 L796.5,243.3 L798.4,243 L800.4,242.6 L802.3,242.3 L804.3,241.9 L806.2,241.6 L808.2,241.3 L810.1,241 L812.1,240.7 L814,240.5 L816,240.3 L817.9,240 L819.9,239.9 L821.8,239.7 L823.8,239.5 L825.7,239.4 L827.7,239.3 L829.6,239.2 L831.6,239.1 L833.5,239 L835.5,238.9 L837.4,238.9 L839.4,238.8 L841.3,238.8 L843.3,238.8 L845.2,238.7 L847.2,238.7 L849.1,238.7 L851.1,238.7 L853,238.7 L855,238.7 L856.9,238.7 L858.9,238.6 L860.8,238.6 L862.8,238.6 L864.7,238.6 L866.7,238.7 L868.6,238.7 L870.6,238.7 L872.5,238.7 L874.5,238.7 L876.4,238.7 L878.4,238.7 L880.3,238.7 L882.3,238.7 L884.2,238.7 L886.2,238.8 L888.1,238.8 L890.1,238.8 L892,238.8 L894,238.8 L895.9,238.9 L897.9,238.9 L899.8,238.9 L901.8,239 L903.7,239 L905.7,239 L907.6,239.1 L909.6,239.1 L911.5,239.1 L913.5,239.2 L915.4,239.2 L917.4,239.2 L919.3,239.3 L921.3,239.3 L923.2,239.3 L925.2,239.3 L927.1,239.4 L929.1,239.4 L931,239.4 L933,239.4 L934.9,239.5 L936.9,239.5 L938.8,239.5 L940.7,239.5 L942.7,239.5 L944.6,239.6 L946.6,239.6 L948.5,239.6 L950.5,239.6 L952.4,239.6 L954.4,239.6 L956.3,239.6 L958.3,239.6 L960.2,239.6 L962.2,239.6 L964.1,239.6 L966.1,239.7 L968,239.7 L970,239.7 L971.9,239.7 L973.9,239.7 L975.8,239.8 L977.8,239.8 L979.7,239.8 L981.7,239.9 L983.6,239.9 L985.6,240 L987.5,240.1 L989.5,240.2 L991.4,240.3 L993.4,240.4 L995.3,240.5 L997.3,240.7 L999.2,240.9 L1001.2,241.1 L1003.1,241.3 L1005.1,241.6 L1007,241.8 L1009,242.2 L1010.9,242.5 L1012.9,242.8 L1014.8,243.2 L1016.8,243.6 L1018.7,244.1 L1020.7,244.5 L1022.6,245 L1024.6,245.5 L1026.5,246 L1028.5,246.5 L1030.4,247 L1032.4,247.6 L1034.3,248.1 L1036.3,248.6 L1038.2,249.1 L1040.2,249.7 L1042.1,250.1 L1044.1,250.6 L1046,251.1 L1048,251.5 L1049.9,251.9 L1051.9,252.3 L1053.8,252.7 L1055.8,253 L1057.7,253.3 L1059.7,253.6 L1061.6,253.8 L1063.6,254.1 L1065.5,254.3 L1067.5,254.5 L1069.4,254.6 L1071.4,254.8 L1073.3,254.9 L1075.3,255 L1077.2,255.1 L1079.2,255.2 L1081.1,255.3 L1083,255.4 L1085,255.4 L1086.9,255.5 L1088.9,255.6 L1090.8,255.6 L1092.8,255.7 L1094.7,255.8 L1096.7,255.9 L1098.6,256 L1100.6,256.1 L1102.5,256.2 L1104.5,256.4 L1106.4,256.6 L1108.4,256.8 L1110.3,257 L1112.3,257.3 L1114.2,257.6 L1116.2,258 L1118.1,258.4 L1120.1,258.8 L1122,259.3 L1124,259.9 L1125.9,260.5 L1127.9,261.1 L1129.8,261.9 L1131.8,262.6 L1133.7,263.4 L1135.7,264.3 L1137.6,265.2 L1139.6,266.1 L1141.5,267.1 L1143.5,268.1 L1145.4,269.1 L1147.4,270.1 L1149.3,271.2 L1151.3,272.2 L1153.2,273.2 L1155.2,274.3 L1157.1,275.3 L1159.1,276.2 L1161,277.2 L1163,278.1 L1164.9,278.9 L1166.9,279.7 L1168.8,280.5 L1170.8,281.2 L1172.7,281.9 L1174.7,282.5 L1176.6,283 L1178.6,283.5 L1180.5,284 L1182.5,284.4 L1184.4,284.7 L1186.4,285.1 L1188.3,285.3 L1190.3,285.6 L1192.2,285.8 L1194.2,286 L1196.1,286.1 L1198.1,286.3 L1200,286.4 L1202,286.5 L1203.9,286.6 L1205.9,286.7 L1207.8,286.8 L1209.8,286.8 L1211.7,286.9 L1213.7,287 L1215.6,287.1 L1217.6,287.2 L1219.5,287.3 L1221.5,287.4 L1223.4,287.6 L1225.3,287.7 L1227.3,287.9 L1229.2,288.1 L1231.2,288.4 L1233.1,288.7 L1235.1,289 L1237,289.4 L1239,289.8 L1240.9,290.3 L1242.9,290.8 L1244.8,291.4 L1246.8,292 L1248.7,292.7 L1250.7,293.5 L1252.6,294.3 L1254.6,295.1 L1256.5,296 L1258.5,297 L1260.4,298 L1262.4,299 L1264.3,300 L1266.3,301.1 L1268.2,302.2 L1270.2,303.3 L1272.1,304.4 L1274.1,305.5 L1276,306.5 L1278,307.6 L1279.9,308.6 L1281.9,309.6 L1283.8,310.5 L1285.8,311.4 L1287.7,312.3 L1289.7,313.1 L1291.6,313.8 L1293.6,314.5 L1295.5,315.2 L1297.5,315.7 L1299.4,316.3 L1301.4,316.7 L1303.3,317.2 L1305.3,317.5 L1307.2,317.9 L1309.2,318.2 L1311.1,318.4 L1313.1,318.7 L1315,318.9 L1317,319 L1318.9,319.2 L1320.9,319.3 L1322.8,319.4 L1324.8,319.5 L1326.7,319.6 L1328.7,319.7 L1330.6,319.8 L1332.6,319.8 L1334.5,319.9 L1336.5,320 L1338.4,320.1 L1340.4,320.2 L1342.3,320.4 L1344.3,320.5 L1346.2,320.7 L1348.2,320.9 L1350.1,321.1 L1352.1,321.4 L1354,321.6 L1356,322 L1357.9,322.3 L1359.9,322.7 L1361.8,323.1 L1363.8,323.6 L1365.7,324.1 L1367.6,324.7 L1369.6,325.3 L1371.5,325.9 L1373.5,326.6 L1375.4,327.3 L1377.4,328 L1379.3,328.8 L1381.3,329.6 L1383.2,330.4 L1385.2,331.2 L1387.1,332 L1389.1,332.8 L1391,333.6 L1393,334.4 L1394.9,335.2 L1396.9,335.9 L1398.8,336.7 L1400.8,337.4 L1402.7,338 L1404.7,338.7 L1406.6,339.3 L1408.6,339.8 L1410.5,340.3 L1412.5,340.8 L1414.4,341.2 L1416.4,341.6 L1418.3,342 L1420.3,342.3 L1422.2,342.6 L1424.2,342.8 L1426.1,343 L1428.1,343.2 L1430,343.4 L1432,343.5 L1433.9,343.7 L1435.9,343.8 L1437.8,343.8 L1439.8,343.9 L1441.7,344 L1443.7,344 L1445.6,344.1 L1447.6,344.1 L1449.5,344.1 L1451.5,344.1 L1453.4,344.2 L1455.4,344.2 L1457.3,344.2 L1459.3,344.2 L1461.2,344.2 L1463.2,344.2 L1465.1,344.2 L1467.1,344.2 L1469,344.2 L1471,344.2 L1472.9,344.2 L1474.9,344.2 L1476.8,344.2 L1478.8,344.2 L1480.7,344.2 L1482.7,344.2 L1484.6,344.2 L1486.6,344.2 L1488.5,344.2 L1490.5,344.2 L1492.4,344.2 L1494.4,344.2 L1496.3,344.2 L1498.3,344.2 L1500.2,344.2 L1502.2,344.2 L1504.1,344.2 L1506.1,344.2 L1508,344.2" stroke="#ff6aec" stroke-width="1.7" fill="none"/>
<path d="M85,352.7 L86.9,352.7 L88.9,352.7 L90.8,352.7 L92.8,352.7 L94.7,352.7 L96.7,352.7 L98.6,352.7 L100.6,352.7 L102.5,352.7 L104.5,352.7 L106.4,352.7 L108.4,352.7 L110.3,352.7 L112.3,352.7 L114.2,352.7 L116.2,352.7 L118.1,352.7 L120.1,352.7 L122,352.7 L124,352.7 L125.9,352.7 L127.9,352.7 L129.8,352.7 L131.8,352.7 L133.7,352.7 L135.7,352.7 L137.6,352.7 L139.6,352.7 L141.5,352.7 L143.5,352.7 L145.4,352.7 L147.4,352.7 L149.3,352.7 L151.3,352.7 L153.2,352.7 L155.2,352.7 L157.1,352.7 L159.1,352.7 L161,352.7 L163,352.7 L164.9,352.7 L166.9,352.7 L168.8,352.7 L170.8,352.7 L172.7,352.7 L174.7,352.7 L176.6,352.7 L178.6,352.7 L180.5,352.7 L182.5,352.7 L184.4,352.7 L186.4,352.7 L188.3,352.7 L190.3,352.7 L192.2,352.7 L194.2,352.7 L196.1,352.7 L198.1,352.7 L200,352.7 L202,352.7 L203.9,352.7 L205.9,352.7 L207.8,352.7 L209.8,352.7 L211.7,352.7 L213.7,352.7 L215.6,352.7 L217.6,352.7 L219.5,352.7 L221.5,352.7 L223.4,352.7 L225.4,352.7 L227.3,352.7 L229.2,352.7 L231.2,352.7 L233.1,352.7 L235.1,352.7 L237,352.7 L239,352.7 L240.9,352.7 L242.9,352.7 L244.8,352.7 L246.8,352.7 L248.7,352.7 L250.7,352.7 L252.6,352.7 L254.6,352.7 L256.5,352.7 L258.5,352.7 L260.4,352.7 L262.4,352.6 L264.3,352.6 L266.3,352.6 L268.2,352.5 L270.2,352.5 L272.1,352.5 L274.1,352.4 L276,352.3 L278,352.3 L279.9,352.2 L281.9,352.1 L283.8,352 L285.8,351.9 L287.7,351.7 L289.7,351.6 L291.6,351.4 L293.6,351.2 L295.5,351 L297.5,350.8 L299.4,350.6 L301.4,350.4 L303.3,350.2 L305.3,349.9 L307.2,349.7 L309.2,349.4 L311.1,349.1 L313.1,348.8 L315,348.6 L317,348.3 L318.9,348 L320.9,347.7 L322.8,347.5 L324.8,347.2 L326.7,347 L328.7,346.7 L330.6,346.5 L332.6,346.3 L334.5,346.1 L336.5,345.9 L338.4,345.7 L340.4,345.6 L342.3,345.4 L344.3,345.3 L346.2,345.2 L348.2,345.1 L350.1,345 L352.1,344.9 L354,344.8 L356,344.7 L357.9,344.7 L359.9,344.6 L361.8,344.6 L363.8,344.6 L365.7,344.5 L367.7,344.5 L369.6,344.5 L371.5,344.5 L373.5,344.4 L375.4,344.4 L377.4,344.4 L379.3,344.4 L381.3,344.4 L383.2,344.4 L385.2,344.4 L387.1,344.4 L389.1,344.4 L391,344.3 L393,344.3 L394.9,344.3 L396.9,344.3 L398.8,344.3 L400.8,344.2 L402.7,344.2 L404.7,344.2 L406.6,344.1 L408.6,344.1 L410.5,344 L412.5,344 L414.4,343.9 L416.4,343.9 L418.3,343.8 L420.3,343.8 L422.2,343.7 L424.2,343.6 L426.1,343.5 L428.1,343.5 L430,343.4 L432,343.3 L433.9,343.2 L435.9,343.1 L437.8,343.1 L439.8,343 L441.7,342.9 L443.7,342.8 L445.6,342.7 L447.6,342.6 L449.5,342.6 L451.5,342.5 L453.4,342.4 L455.4,342.4 L457.3,342.3 L459.3,342.3 L461.2,342.2 L463.2,342.2 L465.1,342.1 L467.1,342.1 L469,342.1 L471,342 L472.9,342 L474.9,342 L476.8,342 L478.8,342 L480.7,341.9 L482.7,341.9 L484.6,341.9 L486.6,341.9 L488.5,341.9 L490.5,341.9 L492.4,341.9 L494.4,341.9 L496.3,341.9 L498.3,341.9 L500.2,341.9 L502.2,341.9 L504.1,341.9 L506.1,341.9 L508,341.9 L510,341.9 L511.9,341.8 L513.8,341.8 L515.8,341.8 L517.7,341.8 L519.7,341.8 L521.6,341.8 L523.6,341.8 L525.5,341.8 L527.5,341.8 L529.4,341.8 L531.4,341.8 L533.3,341.8 L535.3,341.7 L537.2,341.7 L539.2,341.7 L541.1,341.7 L543.1,341.7 L545,341.7 L547,341.7 L548.9,341.6 L550.9,341.6 L552.8,341.6 L554.8,341.6 L556.7,341.6 L558.7,341.5 L560.6,341.5 L562.6,341.5 L564.5,341.5 L566.5,341.5 L568.4,341.5 L570.4,341.5 L572.3,341.4 L574.3,341.4 L576.2,341.4 L578.2,341.4 L580.1,341.4 L582.1,341.4 L584,341.4 L586,341.4 L587.9,341.4 L589.9,341.4 L591.8,341.4 L593.8,341.4 L595.7,341.4 L597.7,341.3 L599.6,341.3 L601.6,341.3 L603.5,341.3 L605.5,341.3 L607.4,341.3 L609.4,341.3 L611.3,341.3 L613.3,341.3 L615.2,341.3 L617.2,341.3 L619.1,341.3 L621.1,341.3 L623,341.3 L625,341.3 L626.9,341.3 L628.9,341.3 L630.8,341.3 L632.8,341.3 L634.7,341.3 L636.7,341.3 L638.6,341.3 L640.6,341.3 L642.5,341.3 L644.5,341.3 L646.4,341.3 L648.4,341.3 L650.3,341.3 L652.3,341.3 L654.2,341.3 L656.1,341.3 L658.1,341.3 L660,341.3 L662,341.3 L663.9,341.3 L665.9,341.3 L667.8,341.3 L669.8,341.3 L671.7,341.3 L673.7,341.3 L675.6,341.3 L677.6,341.3 L679.5,341.3 L681.5,341.3 L683.4,341.3 L685.4,341.3 L687.3,341.3 L689.3,341.3 L691.2,341.3 L693.2,341.3 L695.1,341.3 L697.1,341.3 L699,341.3 L701,341.3 L702.9,341.3 L704.9,341.3 L706.8,341.3 L708.8,341.3 L710.7,341.3 L712.7,341.3 L714.6,341.3 L716.6,341.3 L718.5,341.3 L720.5,341.3 L722.4,341.3 L724.4,341.3 L726.3,341.3 L728.3,341.3 L730.2,341.3 L732.2,341.3 L734.1,341.3 L736.1,341.3 L738,341.3 L740,341.3 L741.9,341.3 L743.9,341.3 L745.8,341.3 L747.8,341.3 L749.7,341.3 L751.7,341.3 L753.6,341.3 L755.6,341.3 L757.5,341.3 L759.5,341.3 L761.4,341.3 L763.4,341.3 L765.3,341.3 L767.3,341.3 L769.2,341.3 L771.2,341.3 L773.1,341.3 L775.1,341.3 L777,341.3 L779,341.3 L780.9,341.3 L782.9,341.3 L784.8,341.3 L786.8,341.3 L788.7,341.3 L790.7,341.3 L792.6,341.3 L794.6,341.3 L796.5,341.3 L798.4,341.3 L800.4,341.3 L802.3,341.3 L804.3,341.3 L806.2,341.3 L808.2,341.3 L810.1,341.3 L812.1,341.3 L814,341.3 L816,341.3 L817.9,341.3 L819.9,341.3 L821.8,341.3 L823.8,341.3 L825.7,341.3 L827.7,341.3 L829.6,341.3 L831.6,341.3 L833.5,341.3 L835.5,341.3 L837.4,341.3 L839.4,341.3 L841.3,341.3 L843.3,341.3 L845.2,341.3 L847.2,341.3 L849.1,341.3 L851.1,341.3 L853,341.3 L855,341.3 L856.9,341.3 L858.9,341.3 L860.8,341.3 L862.8,341.3 L864.7,341.3 L866.7,341.3 L868.6,341.3 L870.6,341.3 L872.5,341.3 L874.5,341.3 L876.4,341.3 L878.4,341.3 L880.3,341.3 L882.3,341.3 L884.2,341.3 L886.2,341.3 L888.1,341.3 L890.1,341.3 L892,341.3 L894,341.3 L895.9,341.3 L897.9,341.3 L899.8,341.3 L901.8,341.3 L903.7,341.3 L905.7,341.3 L907.6,341.3 L909.6,341.3 L911.5,341.3 L913.5,341.3 L915.4,341.3 L917.4,341.3 L919.3,341.3 L921.3,341.3 L923.2,341.3 L925.2,341.3 L927.1,341.3 L929.1,341.3 L931,341.3 L933,341.3 L934.9,341.3 L936.9,341.3 L938.8,341.3 L940.7,341.3 L942.7,341.3 L944.6,341.3 L946.6,341.3 L948.5,341.3 L950.5,341.3 L952.4,341.3 L954.4,341.3 L956.3,341.3 L958.3,341.3 L960.2,341.3 L962.2,341.3 L964.1,341.3 L966.1,341.3 L968,341.3 L970,341.3 L971.9,341.3 L973.9,341.3 L975.8,341.3 L977.8,341.3 L979.7,341.3 L981.7,341.3 L983.6,341.3 L985.6,341.3 L987.5,341.3 L989.5,341.3 L991.4,341.3 L993.4,341.3 L995.3,341.3 L997.3,341.3 L999.2,341.3 L1001.2,341.3 L1003.1,341.3 L1005.1,341.3 L1007,341.3 L1009,341.3 L1010.9,341.3 L1012.9,341.3 L1014.8,341.3 L1016.8,341.3 L1018.7,341.3 L1020.7,341.3 L1022.6,341.3 L1024.6,341.3 L1026.5,341.3 L1028.5,341.3 L1030.4,341.3 L1032.4,341.3 L1034.3,341.3 L1036.3,341.3 L1038.2,341.3 L1040.2,341.3 L1042.1,341.3 L1044.1,341.3 L1046,341.3 L1048,341.3 L1049.9,341.3 L1051.9,341.3 L1053.8,341.3 L1055.8,341.3 L1057.7,341.3 L1059.7,341.3 L1061.6,341.3 L1063.6,341.3 L1065.5,341.3 L1067.5,341.3 L1069.4,341.3 L1071.4,341.3 L1073.3,341.3 L1075.3,341.3 L1077.2,341.3 L1079.2,341.3 L1081.1,341.3 L1083,341.3 L1085,341.3 L1086.9,341.3 L1088.9,341.3 L1090.8,341.3 L1092.8,341.4 L1094.7,341.4 L1096.7,341.4 L1098.6,341.4 L1100.6,341.4 L1102.5,341.4 L1104.5,341.4 L1106.4,341.4 L1108.4,341.4 L1110.3,341.4 L1112.3,341.5 L1114.2,341.5 L1116.2,341.5 L1118.1,341.5 L1120.1,341.6 L1122,341.6 L1124,341.6 L1125.9,341.7 L1127.9,341.7 L1129.8,341.8 L1131.8,341.8 L1133.7,341.9 L1135.7,342 L1137.6,342 L1139.6,342.1 L1141.5,342.1 L1143.5,342.2 L1145.4,342.3 L1147.4,342.4 L1149.3,342.4 L1151.3,342.5 L1153.2,342.6 L1155.2,342.7 L1157.1,342.7 L1159.1,342.8 L1161,342.9 L1163,342.9 L1164.9,343 L1166.9,343 L1168.8,343.1 L1170.8,343.1 L1172.7,343.2 L1174.7,343.2 L1176.6,343.3 L1178.6,343.3 L1180.5,343.3 L1182.5,343.4 L1184.4,343.4 L1186.4,343.4 L1188.3,343.4 L1190.3,343.4 L1192.2,343.5 L1194.2,343.5 L1196.1,343.5 L1198.1,343.5 L1200,343.5 L1202,343.5 L1203.9,343.5 L1205.9,343.5 L1207.8,343.5 L1209.8,343.5 L1211.7,343.5 L1213.7,343.5 L1215.6,343.5 L1217.6,343.6 L1219.5,343.6 L1221.5,343.6 L1223.4,343.6 L1225.3,343.6 L1227.3,343.6 L1229.2,343.6 L1231.2,343.6 L1233.1,343.6 L1235.1,343.7 L1237,343.7 L1239,343.7 L1240.9,343.7 L1242.9,343.8 L1244.8,343.8 L1246.8,343.9 L1248.7,343.9 L1250.7,343.9 L1252.6,344 L1254.6,344 L1256.5,344.1 L1258.5,344.2 L1260.4,344.2 L1262.4,344.3 L1264.3,344.3 L1266.3,344.4 L1268.2,344.5 L1270.2,344.5 L1272.1,344.6 L1274.1,344.7 L1276,344.7 L1278,344.8 L1279.9,344.9 L1281.9,344.9 L1283.8,345 L1285.8,345 L1287.7,345.1 L1289.7,345.1 L1291.6,345.2 L1293.6,345.2 L1295.5,345.3 L1297.5,345.3 L1299.4,345.3 L1301.4,345.4 L1303.3,345.4 L1305.3,345.4 L1307.2,345.4 L1309.2,345.4 L1311.1,345.5 L1313.1,345.5 L1315,345.5 L1317,345.5 L1318.9,345.5 L1320.9,345.5 L1322.8,345.5 L1324.8,345.5 L1326.7,345.5 L1328.7,345.6 L1330.6,345.6 L1332.6,345.6 L1334.5,345.6 L1336.5,345.6 L1338.4,345.6 L1340.4,345.7 L1342.3,345.7 L1344.3,345.7 L1346.2,345.8 L1348.2,345.8 L1350.1,345.9 L1352.1,345.9 L1354,346 L1356,346.1 L1357.9,346.2 L1359.9,346.3 L1361.8,346.4 L1363.8,346.5 L1365.7,346.6 L1367.6,346.8 L1369.6,346.9 L1371.5,347.1 L1373.5,347.3 L1375.4,347.4 L1377.4,347.6 L1379.3,347.8 L1381.3,348 L1383.2,348.2 L1385.2,348.4 L1387.1,348.6 L1389.1,348.8 L1391,349 L1393,349.2 L1394.9,349.4 L1396.9,349.6 L1398.8,349.8 L1400.8,350 L1402.7,350.1 L1404.7,350.3 L1406.6,350.4 L1408.6,350.6 L1410.5,350.7 L1412.5,350.8 L1414.4,350.9 L1416.4,351 L1418.3,351.1 L1420.3,351.2 L1422.2,351.3 L1424.2,351.3 L1426.1,351.4 L1428.1,351.4 L1430,351.5 L1432,351.5 L1433.9,351.5 L1435.9,351.6 L1437.8,351.6 L1439.8,351.6 L1441.7,351.6 L1443.7,351.6 L1445.6,351.6 L1447.6,351.6 L1449.5,351.6 L1451.5,351.6 L1453.4,351.7 L1455.4,351.7 L1457.3,351.7 L1459.3,351.7 L1461.2,351.7 L1463.2,351.7 L1465.1,351.7 L1467.1,351.7 L1469,351.7 L1471,351.7 L1472.9,351.7 L1474.9,351.7 L1476.8,351.7 L1478.8,351.7 L1480.7,351.7 L1482.7,351.7 L1484.6,351.7 L1486.6,351.7 L1488.5,351.7 L1490.5,351.7 L1492.4,351.7 L1494.4,351.7 L1496.3,351.7 L1498.3,351.7 L1500.2,351.7 L1502.2,351.7 L1504.1,351.7 L1506.1,351.7 L1508,351.7" stroke="#f0f0f0" stroke-width="1.7" fill="none"/>
<path d="M85,361.5 L86.9,361.5 L88.9,361.5 L90.8,361.5 L92.8,361.5 L94.7,361.5 L96.7,361.5 L98.6,361.5 L100.6,361.5 L102.5,361.5 L104.5,361.5 L106.4,361.5 L108.4,361.5 L110.3,361.5 L112.3,361.5 L114.2,361.5 L116.2,361.5 L118.1,361.5 L120.1,361.5 L122,361.5 L124,361.5 L125.9,361.5 L127.9,361.5 L129.8,361.5 L131.8,361.5 L133.7,361.5 L135.7,361.5 L137.6,361.5 L139.6,361.5 L141.5,361.5 L143.5,361.5 L145.4,361.5 L147.4,361.6 L149.3,361.6 L151.3,361.6 L153.2,361.6 L155.2,361.6 L157.1,361.6 L159.1,361.6 L161,361.6 L163,361.6 L164.9,361.6 L166.9,361.7 L168.8,361.7 L170.8,361.7 L172.7,361.7 L174.7,361.8 L176.6,361.8 L178.6,361.9 L180.5,361.9 L182.5,362 L184.4,362 L186.4,362.1 L188.3,362.1 L190.3,362.2 L192.2,362.3 L194.2,362.4 L196.1,362.4 L198.1,362.5 L200,362.6 L202,362.7 L203.9,362.8 L205.9,362.9 L207.8,363 L209.8,363 L211.7,363.1 L213.7,363.2 L215.6,363.3 L217.6,363.4 L219.5,363.5 L221.5,363.5 L223.4,363.6 L225.4,363.7 L227.3,363.7 L229.2,363.8 L231.2,363.8 L233.1,363.9 L235.1,363.9 L237,364 L239,364 L240.9,364 L242.9,364.1 L244.8,364.1 L246.8,364.1 L248.7,364.1 L250.7,364.2 L252.6,364.2 L254.6,364.2 L256.5,364.2 L258.5,364.2 L260.4,364.3 L262.4,364.3 L264.3,364.3 L266.3,364.4 L268.2,364.4 L270.2,364.4 L272.1,364.5 L274.1,364.5 L276,364.6 L278,364.7 L279.9,364.8 L281.9,364.9 L283.8,365 L285.8,365.1 L287.7,365.3 L289.7,365.4 L291.6,365.6 L293.6,365.8 L295.5,366 L297.5,366.2 L299.4,366.4 L301.4,366.7 L303.3,366.9 L305.3,367.2 L307.2,367.5 L309.2,367.7 L311.1,368 L313.1,368.3 L315,368.6 L317,368.9 L318.9,369.2 L320.9,369.5 L322.8,369.8 L324.8,370 L326.7,370.3 L328.7,370.5 L330.6,370.8 L332.6,371 L334.5,371.2 L336.5,371.4 L338.4,371.6 L340.4,371.8 L342.3,371.9 L344.3,372.1 L346.2,372.2 L348.2,372.3 L350.1,372.4 L352.1,372.5 L354,372.6 L356,372.7 L357.9,372.7 L359.9,372.8 L361.8,372.8 L363.8,372.9 L365.7,372.9 L367.7,372.9 L369.6,373 L371.5,373 L373.5,373 L375.4,373 L377.4,373.1 L379.3,373.1 L381.3,373.2 L383.2,373.2 L385.2,373.2 L387.1,373.3 L389.1,373.4 L391,373.5 L393,373.6 L394.9,373.7 L396.9,373.8 L398.8,374 L400.8,374.1 L402.7,374.3 L404.7,374.6 L406.6,374.8 L408.6,375.1 L410.5,375.4 L412.5,375.7 L414.4,376.1 L416.4,376.5 L418.3,376.9 L420.3,377.3 L422.2,377.8 L424.2,378.3 L426.1,378.8 L428.1,379.4 L430,379.9 L432,380.5 L433.9,381 L435.9,381.6 L437.8,382.2 L439.8,382.7 L441.7,383.3 L443.7,383.8 L445.6,384.4 L447.6,384.9 L449.5,385.4 L451.5,385.9 L453.4,386.3 L455.4,386.7 L457.3,387.1 L459.3,387.5 L461.2,387.8 L463.2,388.1 L465.1,388.4 L467.1,388.6 L469,388.9 L471,389.1 L472.9,389.2 L474.9,389.4 L476.8,389.5 L478.8,389.6 L480.7,389.7 L482.7,389.8 L484.6,389.9 L486.6,390 L488.5,390.1 L490.5,390.1 L492.4,390.2 L494.4,390.2 L496.3,390.3 L498.3,390.4 L500.2,390.4 L502.2,390.5 L504.1,390.6 L506.1,390.7 L508,390.8 L510,390.9 L511.9,391.1 L513.8,391.3 L515.8,391.5 L517.7,391.7 L519.7,392 L521.6,392.3 L523.6,392.6 L525.5,393 L527.5,393.4 L529.4,393.8 L531.4,394.3 L533.3,394.8 L535.3,395.4 L537.2,396 L539.2,396.6 L541.1,397.2 L543.1,397.9 L545,398.6 L547,399.4 L548.9,400.1 L550.9,400.8 L552.8,401.6 L554.8,402.4 L556.7,403.1 L558.7,403.9 L560.6,404.6 L562.6,405.3 L564.5,406 L566.5,406.6 L568.4,407.2 L570.4,407.8 L572.3,408.4 L574.3,408.9 L576.2,409.4 L578.2,409.8 L580.1,410.2 L582.1,410.6 L584,410.9 L586,411.2 L587.9,411.5 L589.9,411.7 L591.8,411.9 L593.8,412.1 L595.7,412.2 L597.7,412.4 L599.6,412.5 L601.6,412.6 L603.5,412.6 L605.5,412.7 L607.4,412.8 L609.4,412.8 L611.3,412.8 L613.3,412.8 L615.2,412.9 L617.2,412.9 L619.1,412.9 L621.1,412.8 L623,412.8 L625,412.8 L626.9,412.8 L628.9,412.7 L630.8,412.7 L632.8,412.6 L634.7,412.6 L636.7,412.5 L638.6,412.4 L640.6,412.3 L642.5,412.2 L644.5,412 L646.4,411.9 L648.4,411.7 L650.3,411.5 L652.3,411.3 L654.2,411.1 L656.1,410.9 L658.1,410.7 L660,410.4 L662,410.2 L663.9,409.9 L665.9,409.6 L667.8,409.3 L669.8,409 L671.7,408.7 L673.7,408.4 L675.6,408.1 L677.6,407.8 L679.5,407.5 L681.5,407.2 L683.4,406.9 L685.4,406.6 L687.3,406.4 L689.3,406.1 L691.2,405.9 L693.2,405.7 L695.1,405.5 L697.1,405.3 L699,405.1 L701,404.9 L702.9,404.8 L704.9,404.6 L706.8,404.5 L708.8,404.4 L710.7,404.3 L712.7,404.2 L714.6,404.2 L716.6,404.1 L718.5,404 L720.5,404 L722.4,404 L724.4,403.9 L726.3,403.9 L728.3,403.9 L730.2,403.8 L732.2,403.8 L734.1,403.8 L736.1,403.7 L738,403.7 L740,403.7 L741.9,403.6 L743.9,403.6 L745.8,403.5 L747.8,403.5 L749.7,403.4 L751.7,403.3 L753.6,403.2 L755.6,403.1 L757.5,403 L759.5,402.8 L761.4,402.7 L763.4,402.5 L765.3,402.3 L767.3,402.1 L769.2,401.9 L771.2,401.7 L773.1,401.4 L775.1,401.2 L777,400.9 L779,400.6 L780.9,400.3 L782.9,399.9 L784.8,399.6 L786.8,399.3 L788.7,398.9 L790.7,398.6 L792.6,398.2 L794.6,397.9 L796.5,397.5 L798.4,397.2 L800.4,396.9 L802.3,396.6 L804.3,396.3 L806.2,396 L808.2,395.7 L810.1,395.5 L812.1,395.2 L814,395 L816,394.8 L817.9,394.6 L819.9,394.4 L821.8,394.3 L823.8,394.2 L825.7,394 L827.7,393.9 L829.6,393.8 L831.6,393.7 L833.5,393.7 L835.5,393.6 L837.4,393.6 L839.4,393.5 L841.3,393.5 L843.3,393.4 L845.2,393.4 L847.2,393.4 L849.1,393.3 L851.1,393.3 L853,393.3 L855,393.2 L856.9,393.2 L858.9,393.1 L860.8,393.1 L862.8,393 L864.7,392.9 L866.7,392.8 L868.6,392.7 L870.6,392.6 L872.5,392.5 L874.5,392.3 L876.4,392.1 L878.4,391.9 L880.3,391.7 L882.3,391.4 L884.2,391.1 L886.2,390.8 L888.1,390.5 L890.1,390.1 L892,389.7 L894,389.3 L895.9,388.8 L897.9,388.3 L899.8,387.8 L901.8,387.2 L903.7,386.7 L905.7,386.1 L907.6,385.5 L909.6,384.9 L911.5,384.3 L913.5,383.7 L915.4,383.1 L917.4,382.6 L919.3,382 L921.3,381.4 L923.2,380.9 L925.2,380.4 L927.1,379.9 L929.1,379.4 L931,379 L933,378.6 L934.9,378.2 L936.9,377.8 L938.8,377.5 L940.7,377.2 L942.7,377 L944.6,376.7 L946.6,376.5 L948.5,376.4 L950.5,376.2 L952.4,376.1 L954.4,375.9 L956.3,375.8 L958.3,375.7 L960.2,375.7 L962.2,375.6 L964.1,375.6 L966.1,375.5 L968,375.5 L970,375.4 L971.9,375.4 L973.9,375.4 L975.8,375.4 L977.8,375.4 L979.7,375.4 L981.7,375.4 L983.6,375.4 L985.6,375.4 L987.5,375.4 L989.5,375.4 L991.4,375.4 L993.4,375.4 L995.3,375.4 L997.3,375.4 L999.2,375.4 L1001.2,375.4 L1003.1,375.4 L1005.1,375.4 L1007,375.4 L1009,375.4 L1010.9,375.4 L1012.9,375.4 L1014.8,375.4 L1016.8,375.4 L1018.7,375.4 L1020.7,375.4 L1022.6,375.4 L1024.6,375.5 L1026.5,375.5 L1028.5,375.5 L1030.4,375.5 L1032.4,375.5 L1034.3,375.5 L1036.3,375.5 L1038.2,375.5 L1040.2,375.5 L1042.1,375.6 L1044.1,375.6 L1046,375.6 L1048,375.6 L1049.9,375.6 L1051.9,375.6 L1053.8,375.6 L1055.8,375.6 L1057.7,375.6 L1059.7,375.6 L1061.6,375.6 L1063.6,375.6 L1065.5,375.6 L1067.5,375.6 L1069.4,375.7 L1071.4,375.7 L1073.3,375.7 L1075.3,375.7 L1077.2,375.7 L1079.2,375.7 L1081.1,375.7 L1083,375.7 L1085,375.7 L1086.9,375.7 L1088.9,375.7 L1090.8,375.7 L1092.8,375.7 L1094.7,375.8 L1096.7,375.8 L1098.6,375.8 L1100.6,375.8 L1102.5,375.9 L1104.5,375.9 L1106.4,376 L1108.4,376 L1110.3,376.1 L1112.3,376.2 L1114.2,376.3 L1116.2,376.4 L1118.1,376.5 L1120.1,376.6 L1122,376.8 L1124,377 L1125.9,377.1 L1127.9,377.3 L1129.8,377.5 L1131.8,377.8 L1133.7,378 L1135.7,378.3 L1137.6,378.5 L1139.6,378.8 L1141.5,379.1 L1143.5,379.4 L1145.4,379.7 L1147.4,380 L1149.3,380.3 L1151.3,380.6 L1153.2,380.9 L1155.2,381.2 L1157.1,381.5 L1159.1,381.8 L1161,382.1 L1163,382.3 L1164.9,382.6 L1166.9,382.8 L1168.8,383.1 L1170.8,383.3 L1172.7,383.5 L1174.7,383.6 L1176.6,383.8 L1178.6,384 L1180.5,384.1 L1182.5,384.2 L1184.4,384.3 L1186.4,384.4 L1188.3,384.5 L1190.3,384.6 L1192.2,384.6 L1194.2,384.7 L1196.1,384.7 L1198.1,384.8 L1200,384.8 L1202,384.9 L1203.9,384.9 L1205.9,384.9 L1207.8,384.9 L1209.8,385 L1211.7,385 L1213.7,385 L1215.6,385.1 L1217.6,385.1 L1219.5,385.2 L1221.5,385.2 L1223.4,385.3 L1225.3,385.4 L1227.3,385.5 L1229.2,385.6 L1231.2,385.7 L1233.1,385.9 L1235.1,386 L1237,386.2 L1239,386.4 L1240.9,386.7 L1242.9,387 L1244.8,387.2 L1246.8,387.6 L1248.7,387.9 L1250.7,388.3 L1252.6,388.7 L1254.6,389.1 L1256.5,389.6 L1258.5,390.1 L1260.4,390.6 L1262.4,391.1 L1264.3,391.6 L1266.3,392.1 L1268.2,392.7 L1270.2,393.2 L1272.1,393.8 L1274.1,394.3 L1276,394.9 L1278,395.4 L1279.9,395.9 L1281.9,396.4 L1283.8,396.9 L1285.8,397.3 L1287.7,397.8 L1289.7,398.2 L1291.6,398.6 L1293.6,398.9 L1295.5,399.2 L1297.5,399.5 L1299.4,399.8 L1301.4,400 L1303.3,400.2 L1305.3,400.4 L1307.2,400.6 L1309.2,400.7 L1311.1,400.9 L1313.1,401 L1315,401.1 L1317,401.1 L1318.9,401.2 L1320.9,401.2 L1322.8,401.3 L1324.8,401.3 L1326.7,401.3 L1328.7,401.3 L1330.6,401.3 L1332.6,401.2 L1334.5,401.2 L1336.5,401.1 L1338.4,401.1 L1340.4,401 L1342.3,400.9 L1344.3,400.8 L1346.2,400.6 L1348.2,400.4 L1350.1,400.2 L1352.1,400 L1354,399.7 L1356,399.4 L1357.9,399.1 L1359.9,398.7 L1361.8,398.3 L1363.8,397.9 L1365.7,397.4 L1367.6,396.9 L1369.6,396.3 L1371.5,395.7 L1373.5,395.1 L1375.4,394.4 L1377.4,393.7 L1379.3,393 L1381.3,392.3 L1383.2,391.5 L1385.2,390.8 L1387.1,390 L1389.1,389.2 L1391,388.5 L1393,387.7 L1394.9,387 L1396.9,386.3 L1398.8,385.6 L1400.8,384.9 L1402.7,384.3 L1404.7,383.7 L1406.6,383.1 L1408.6,382.6 L1410.5,382.1 L1412.5,381.7 L1414.4,381.3 L1416.4,380.9 L1418.3,380.6 L1420.3,380.3 L1422.2,380 L1424.2,379.8 L1426.1,379.6 L1428.1,379.4 L1430,379.2 L1432,379.1 L1433.9,379 L1435.9,378.9 L1437.8,378.8 L1439.8,378.8 L1441.7,378.7 L1443.7,378.6 L1445.6,378.6 L1447.6,378.6 L1449.5,378.6 L1451.5,378.5 L1453.4,378.5 L1455.4,378.5 L1457.3,378.5 L1459.3,378.5 L1461.2,378.5 L1463.2,378.5 L1465.1,378.5 L1467.1,378.5 L1469,378.5 L1471,378.5 L1472.9,378.5 L1474.9,378.5 L1476.8,378.5 L1478.8,378.5 L1480.7,378.5 L1482.7,378.5 L1484.6,378.5 L1486.6,378.5 L1488.5,378.5 L1490.5,378.5 L1492.4,378.5 L1494.4,378.5 L1496.3,378.5 L1498.3,378.5 L1500.2,378.5 L1502.2,378.5 L1504.1,378.5 L1506.1,378.5 L1508,378.5" stroke="#1a8cf0" stroke-width="1.7" fill="none"/>
</g>
<rect x="85.0" y="74.67" width="1423.0" height="533.33" fill="none" stroke="#c8c8c8" stroke-width="1.5"/>
<line x1="85.0" x2="1508.0" y1="341.3" y2="341.3" stroke="#d8d8d8" stroke-width="1.5"/>
<g stroke="#c8c8c8" stroke-width="1.5"><line x1="79.5" x2="85.0" y1="608" y2="608"/><line x1="79.5" x2="85.0" y1="554.7" y2="554.7"/><line x1="79.5" x2="85.0" y1="501.3" y2="501.3"/><line x1="79.5" x2="85.0" y1="448" y2="448"/><line x1="79.5" x2="85.0" y1="394.7" y2="394.7"/><line x1="79.5" x2="85.0" y1="341.3" y2="341.3"/><line x1="79.5" x2="85.0" y1="288" y2="288"/><line x1="79.5" x2="85.0" y1="234.7" y2="234.7"/><line x1="79.5" x2="85.0" y1="181.3" y2="181.3"/><line x1="79.5" x2="85.0" y1="128" y2="128"/><line x1="79.5" x2="85.0" y1="74.7" y2="74.7"/><line x1="1508.0" x2="1513.5" y1="341.3" y2="341.3"/><line x1="1508.0" x2="1511.5" y1="330.2" y2="330.2"/><line x1="1508.0" x2="1511.5" y1="319.1" y2="319.1"/><line x1="1508.0" x2="1511.5" y1="308" y2="308"/><line x1="1508.0" x2="1511.5" y1="296.9" y2="296.9"/><line x1="1508.0" x2="1511.5" y1="285.8" y2="285.8"/><line x1="1508.0" x2="1513.5" y1="274.7" y2="274.7"/><line x1="1508.0" x2="1511.5" y1="263.6" y2="263.6"/><line x1="1508.0" x2="1511.5" y1="252.4" y2="252.4"/><line x1="1508.0" x2="1511.5" y1="241.3" y2="241.3"/><line x1="1508.0" x2="1511.5" y1="230.2" y2="230.2"/><line x1="1508.0" x2="1511.5" y1="219.1" y2="219.1"/><line x1="1508.0" x2="1513.5" y1="208" y2="208"/><line x1="1508.0" x2="1511.5" y1="196.9" y2="196.9"/><line x1="1508.0" x2="1511.5" y1="185.8" y2="185.8"/><line x1="1508.0" x2="1511.5" y1="174.7" y2="174.7"/><line x1="1508.0" x2="1511.5" y1="163.6" y2="163.6"/><line x1="1508.0" x2="1511.5" y1="152.4" y2="152.4"/><line x1="1508.0" x2="1513.5" y1="141.3" y2="141.3"/><line x1="1508.0" x2="1511.5" y1="130.2" y2="130.2"/><line x1="1508.0" x2="1511.5" y1="119.1" y2="119.1"/><line x1="1508.0" x2="1511.5" y1="108" y2="108"/><line x1="1508.0" x2="1511.5" y1="96.9" y2="96.9"/><line x1="1508.0" x2="1511.5" y1="85.8" y2="85.8"/><line x1="1508.0" x2="1513.5" y1="74.7" y2="74.7"/><line x1="1508.0" x2="1513.5" y1="408" y2="408"/><line x1="1508.0" x2="1513.5" y1="474.7" y2="474.7"/><line x1="1508.0" x2="1513.5" y1="541.3" y2="541.3"/><line x1="1508.0" x2="1513.5" y1="608" y2="608"/><line x1="85" x2="85" y1="608.0" y2="613.5"/><line x1="205.9" x2="205.9" y1="608.0" y2="613.5"/><line x1="315" x2="315" y1="608.0" y2="613.5"/><line x1="435.9" x2="435.9" y1="608.0" y2="613.5"/><line x1="552.8" x2="552.8" y1="608.0" y2="613.5"/><line x1="673.7" x2="673.7" y1="608.0" y2="613.5"/><line x1="790.7" x2="790.7" y1="608.0" y2="613.5"/><line x1="911.5" x2="911.5" y1="608.0" y2="613.5"/><line x1="1032.4" x2="1032.4" y1="608.0" y2="613.5"/><line x1="1149.3" x2="1149.3" y1="608.0" y2="613.5"/><line x1="1270.2" x2="1270.2" y1="608.0" y2="613.5"/><line x1="1387.1" x2="1387.1" y1="608.0" y2="613.5"/><line x1="1508" x2="1508" y1="608.0" y2="613.5"/></g>
<g fill="#d0d0d0" font-size="15.6"><text x="72.5" y="613.6" text-anchor="end">-50</text><text x="72.5" y="560.3" text-anchor="end">-40</text><text x="72.5" y="506.9" text-anchor="end">-30</text><text x="72.5" y="453.6" text-anchor="end">-20</text><text x="72.5" y="400.3" text-anchor="end">-10</text><text x="72.5" y="346.9" text-anchor="end">0</text><text x="72.5" y="293.6" text-anchor="end">10</text><text x="72.5" y="240.3" text-anchor="end">20</text><text x="72.5" y="186.9" text-anchor="end">30</text><text x="72.5" y="133.6" text-anchor="end">40</text><text x="72.5" y="80.3" text-anchor="end">50</text><text x="1523.5" y="346.9">0</text><text x="1523.5" y="280.3">6</text><text x="1523.5" y="213.6">12</text><text x="1523.5" y="146.9">18</text><text x="1523.5" y="80.3">24</text><text x="1523.5" y="413.6">10</text><text x="1523.5" y="480.3">20</text><text x="1523.5" y="546.9">30</text><text x="1523.5" y="613.6">40</text><text x="145.4" y="631.8" text-anchor="middle">Jan</text><text x="260.4" y="631.8" text-anchor="middle">Feb</text><text x="375.4" y="631.8" text-anchor="middle">Mär</text><text x="494.4" y="631.8" text-anchor="middle">Apr</text><text x="613.3" y="631.8" text-anchor="middle">Mai</text><text x="732.2" y="631.8" text-anchor="middle">Jun</text><text x="851.1" y="631.8" text-anchor="middle">Jul</text><text x="971.9" y="631.8" text-anchor="middle">Aug</text><text x="1090.8" y="631.8" text-anchor="middle">Sep</text><text x="1209.8" y="631.8" text-anchor="middle">Okt</text><text x="1328.7" y="631.8" text-anchor="middle">Nov</text><text x="1447.6" y="631.8" text-anchor="middle">Dez</text></g>
<g transform="translate(1273.9,102.9)">
<path d="M10.04 -10.04A14.2 14.2 0 1 0 10.04 10.04" fill="none" stroke="url(#gring)" stroke-width="1.7"/>
<path d="M7.42 -7.42A10.5 10.5 0 1 0 7.42 7.42" fill="none" stroke="url(#gring)" stroke-width="1.7"/>
<g clip-path="url(#sunclip)"><circle cx="22.1" cy="0" r="14.5" fill="url(#gsun)"/><g fill="#333"><rect x="6" y="-12.75" width="32" height="0.35"/><rect x="6" y="-10.30" width="32" height="0.40"/><rect x="6" y="-7.85" width="32" height="0.45"/><rect x="6" y="-5.40" width="32" height="0.50"/><rect x="6" y="-2.95" width="32" height="0.55"/><rect x="6" y="-0.50" width="32" height="0.60"/><rect x="6" y="1.95" width="32" height="0.65"/><rect x="6" y="4.40" width="32" height="0.70"/><rect x="6" y="6.85" width="32" height="0.75"/><rect x="6" y="9.30" width="32" height="0.80"/><rect x="6" y="11.75" width="32" height="0.85"/><rect x="6" y="14.20" width="32" height="0.90"/></g></g>
<text x="40.0" y="9.9" fill="#1496ff" font-size="22.9" font-family="'DejaVu Sans',sans-serif" font-weight="200" stroke="#1496ff" stroke-width="0.55" textLength="175" lengthAdjust="spacingAndGlyphs">ClimeChart.com</text>
</g>
<g transform="translate(111.2,580.7)">
<path d="M10.04 -10.04A14.2 14.2 0 1 0 10.04 10.04" fill="none" stroke="url(#gring)" stroke-width="1.7"/>
<path d="M7.42 -7.42A10.5 10.5 0 1 0 7.42 7.42" fill="none" stroke="url(#gring)" stroke-width="1.7"/>
<g clip-path="url(#sunclip)"><circle cx="22.1" cy="0" r="14.5" fill="url(#gsun)"/><g fill="#333"><rect x="6" y="-12.75" width="32" height="0.35"/><rect x="6" y="-10.30" width="32" height="0.40"/><rect x="6" y="-7.85" width="32" height="0.45"/><rect x="6" y="-5.40" width="32" height="0.50"/><rect x="6" y="-2.95" width="32" height="0.55"/><rect x="6" y="-0.50" width="32" height="0.60"/><rect x="6" y="1.95" width="32" height="0.65"/><rect x="6" y="4.40" width="32" height="0.70"/><rect x="6" y="6.85" width="32" height="0.75"/><rect x="6" y="9.30" width="32" height="0.80"/><rect x="6" y="11.75" width="32" height="0.85"/><rect x="6" y="14.20" width="32" height="0.90"/></g></g>
<text x="40.0" y="9.9" fill="#1496ff" font-size="22.9" font-family="'DejaVu Sans',sans-serif" font-weight="200" stroke="#1496ff" stroke-width="0.55" textLength="175" lengthAdjust="spacingAndGlyphs">ClimeChart.com</text>
</g>
<text x="796.5" y="30.5" text-anchor="middle" fill="#f0f0f0" font-size="23.4">Klimawandel in Villach</text>
<text x="796.5" y="57.5" text-anchor="middle" fill="#c8c8c8" font-size="15.6">Breitengrad 46.643 - Längengrad 14.058 - Höhe 497.0</text>
<text x="85.6" y="67.5" fill="#d8d8d8" font-size="23.4">1940 - 1950</text>
<text transform="translate(44,342) rotate(-90)" text-anchor="middle" fill="#d0d0d0" font-size="20.8">Temperatur °C</text>
<text transform="translate(1555,209) rotate(90)" text-anchor="middle" fill="#d0d0d0" font-size="20.8">Tag / Sonne (h)</text>
<text transform="translate(1555,475) rotate(90)" text-anchor="middle" fill="#d0d0d0" font-size="20.8">Regen / Schnee (mm)</text>
<text x="1569" y="801.7" text-anchor="end" fill="#d0d0d0" font-size="15.6">© ClimeChart.com</text>
<g fill="#d0d0d0" font-size="20.8"><text x="86" y="683">Temperatur °C</text><text x="553" y="683">Tag / Sonne (h)</text><text x="943" y="683">Regen (mm)</text><text x="1255" y="683">Schnee (mm)</text><rect x="85" y="699" width="16" height="31" fill="url(#lgT)"/><text x="109" y="722">Bereich min / max pro Tag</text><rect x="85" y="753.9" width="16" height="1.6" fill="#ff6aec"/><text x="109" y="761">Monatlicher Durchschnitt</text><rect x="553" y="714.7" width="16" height="1.6" fill="#10e010"/><text x="577" y="722">Tageslicht pro Tag</text><rect x="553" y="738" width="16" height="31" fill="url(#lgS)"/><text x="577" y="761">Sonnenschein pro Tag</text><rect x="553" y="792.8" width="16" height="1.6" fill="#f0f032"/><text x="577" y="800">Sonnenschein Monatsdurchschnitt</text><rect x="943" y="699" width="16" height="31" fill="url(#lgR)"/><text x="966" y="722">Regen pro Tag</text><rect x="943" y="753.9" width="16" height="1.6" fill="#1a8cf0"/><text x="966" y="761">Monatsdurchschnitt</text><rect x="1255" y="699" width="15.4" height="31" fill="url(#lgN)"/><text x="1278.5" y="722">Schnee pro Tag</text><rect x="1255" y="753.9" width="16" height="1.6" fill="#f0f0f0"/><text x="1278.5" y="761">Monatsdurchschnitt</text></g>
</svg>
</body></html>
